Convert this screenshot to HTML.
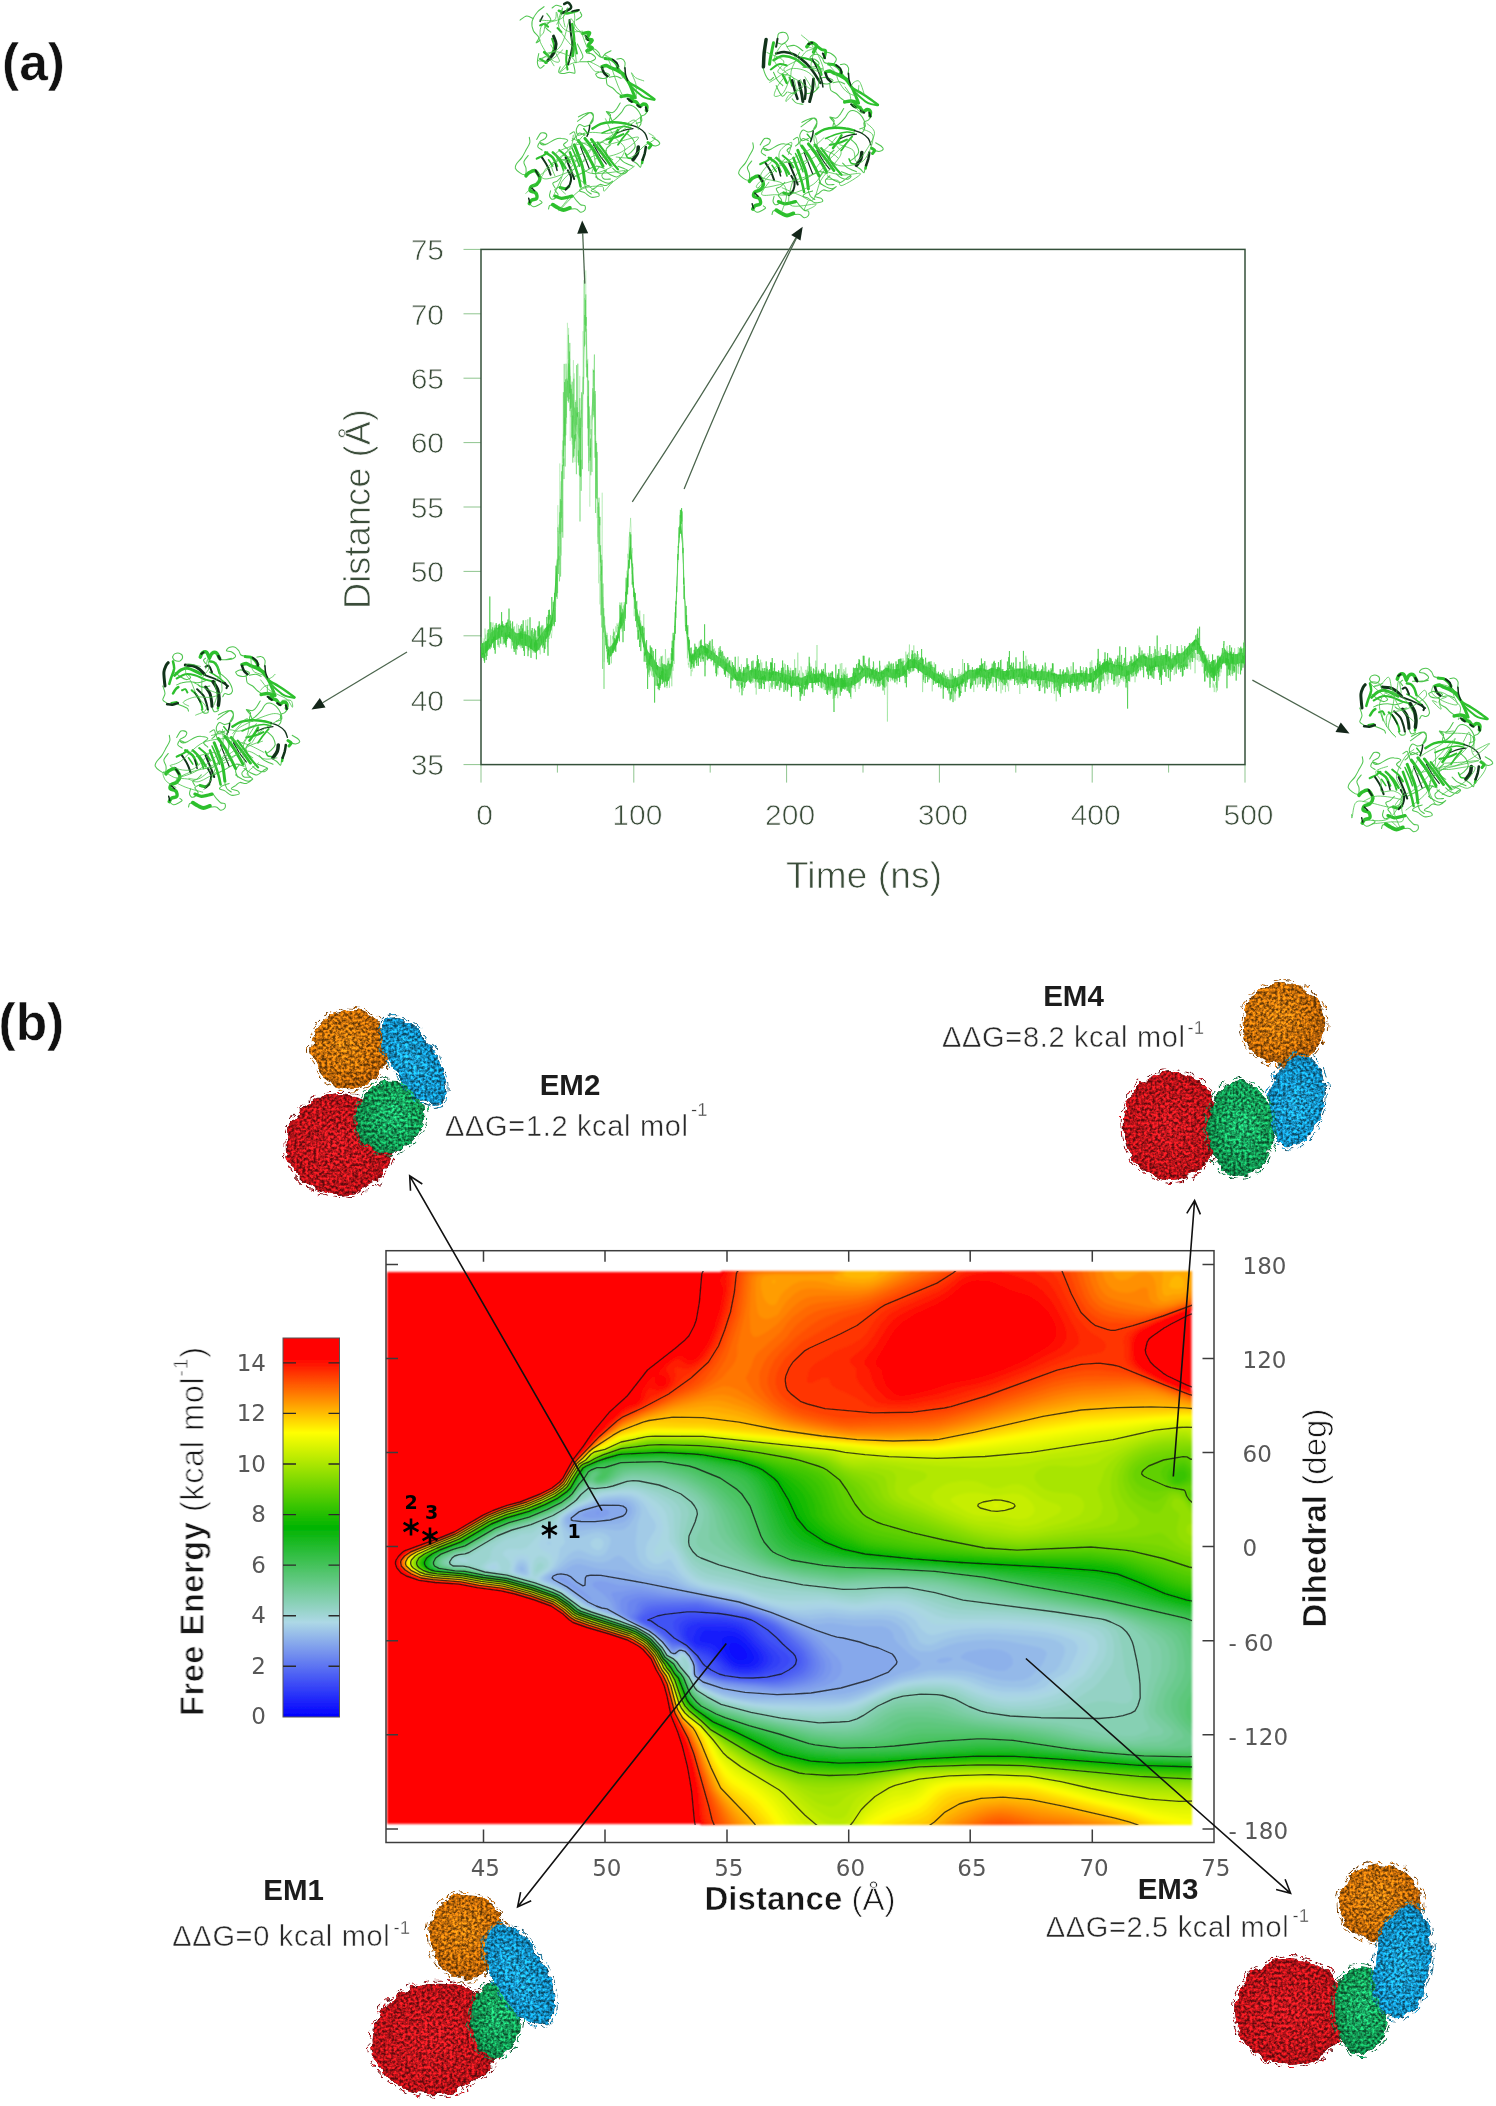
<!DOCTYPE html>
<html lang="en"><head><meta charset="utf-8"><title>Figure</title>
<style>
html,body{margin:0;padding:0;background:#fff}
svg{display:block}
.ls{font-family:"Liberation Sans",Arial,Helvetica,sans-serif}
.dj{font-family:"DejaVu Sans","Liberation Sans",sans-serif}
.thin{stroke:#fff;stroke-width:.75px}
.thin2{stroke:#fff;stroke-width:.5px}
.b{font-weight:bold}
</style></head><body>
<svg width="1496" height="2106" viewBox="0 0 1496 2106">
<defs>
<filter id="hb" x="-2%" y="-2%" width="104%" height="104%"><feGaussianBlur stdDeviation="1.1"/></filter>
<filter id="lb" x="-2%" y="-2%" width="104%" height="104%"><feGaussianBlur stdDeviation=".45"/></filter>

<radialGradient id="go" cx=".45" cy=".42" r=".6"><stop offset="0" stop-color="#ea8a12"/><stop offset=".7" stop-color="#d4750b"/><stop offset="1" stop-color="#b5610a"/></radialGradient>
<radialGradient id="gb" cx=".5" cy=".55" r=".6"><stop offset="0" stop-color="#22b4ee"/><stop offset=".7" stop-color="#169ed9"/><stop offset="1" stop-color="#1283b6"/></radialGradient>
<radialGradient id="gg" cx=".55" cy=".45" r=".6"><stop offset="0" stop-color="#22c878"/><stop offset=".7" stop-color="#16a85c"/><stop offset="1" stop-color="#118a4b"/></radialGradient>
<radialGradient id="gr" cx=".48" cy=".5" r=".6"><stop offset="0" stop-color="#e21c24"/><stop offset=".7" stop-color="#ce161d"/><stop offset="1" stop-color="#ad1117"/></radialGradient>
<filter id="tx" x="-15%" y="-15%" width="130%" height="130%" color-interpolation-filters="sRGB">
<feTurbulence type="fractalNoise" baseFrequency=".09" numOctaves="3" seed="5" result="n1"/>
<feDisplacementMap in="SourceGraphic" in2="n1" scale="10" xChannelSelector="R" yChannelSelector="G" result="d"/>
<feTurbulence type="fractalNoise" baseFrequency=".36" numOctaves="2" seed="11" result="n2"/>
<feColorMatrix in="n2" type="matrix" values="2.2 0 0 0 -.6  2.2 0 0 0 -.6  2.2 0 0 0 -.6  0 0 0 0 1" result="g"/>
<feComposite in="d" in2="g" operator="arithmetic" k1=".86" k2=".44" k3="0" k4="0" result="m"/>
<feComposite in="m" in2="d" operator="in" result="t"/>
<feGaussianBlur in="t" stdDeviation=".45"/>
</filter>
<clipPath id="hc"><rect x="386" y="1271" width="806" height="554"/></clipPath>
<linearGradient id="cb" x1="0" y1="1" x2="0" y2="0">
<stop offset="0" stop-color="#0000ff"/><stop offset=".25" stop-color="#add8e6"/><stop offset=".5" stop-color="#00b400"/><stop offset=".75" stop-color="#ffff00"/><stop offset=".947" stop-color="#ff0000"/><stop offset="1" stop-color="#ff0000"/>
</linearGradient>
</defs>
<rect width="1496" height="2106" fill="#fff"/>
<g opacity=".999">

<text class="ls b" x="2" y="79.5" font-size="51.5" fill="#111" stroke="#fff" stroke-width=".5">(a)</text>
<text class="ls b" x="-1.5" y="1039.5" font-size="51.5" fill="#111" stroke="#fff" stroke-width=".5">(b)</text>
<g id="pa">
<g stroke="#8fc58f" stroke-width="1" fill="none">
<path d="M463.5 764.6H481"/>
<path d="M463.5 700.2H481"/>
<path d="M463.5 635.8H481"/>
<path d="M463.5 571.4H481"/>
<path d="M463.5 507.0H481"/>
<path d="M463.5 442.6H481"/>
<path d="M463.5 378.2H481"/>
<path d="M463.5 313.8H481"/>
<path d="M463.5 249.4H481"/>
<path d="M481.0 764.6V782.6"/>
<path d="M557.4 764.6V772.6"/>
<path d="M633.8 764.6V782.6"/>
<path d="M710.2 764.6V772.6"/>
<path d="M786.6 764.6V782.6"/>
<path d="M863.0 764.6V772.6"/>
<path d="M939.4 764.6V782.6"/>
<path d="M1015.8 764.6V772.6"/>
<path d="M1092.2 764.6V782.6"/>
<path d="M1168.6 764.6V772.6"/>
<path d="M1245.0 764.6V782.6"/>
</g>
<rect x="481" y="249.4" width="764" height="515.2" fill="none" stroke="#34503a" stroke-width="1.5"/>
<g class="ls thin" font-size="30" fill="#3b4d3a" text-anchor="end">
<text x="444" y="775.4">35</text>
<text x="444" y="711.0">40</text>
<text x="444" y="646.6">45</text>
<text x="444" y="582.2">50</text>
<text x="444" y="517.8">55</text>
<text x="444" y="453.4">60</text>
<text x="444" y="389.0">65</text>
<text x="444" y="324.6">70</text>
<text x="444" y="260.2">75</text>
</g>
<g class="ls thin" font-size="30" fill="#3b4d3a" text-anchor="middle">
<text x="484.5" y="824.5">0</text>
<text x="637.3" y="824.5">100</text>
<text x="790.1" y="824.5">200</text>
<text x="942.9" y="824.5">300</text>
<text x="1095.7" y="824.5">400</text>
<text x="1248.5" y="824.5">500</text>
</g>
<text class="ls thin" font-size="37" fill="#3b4d3a" x="864" y="887.5" text-anchor="middle" textLength="156">Time (ns)</text>
<text class="ls thin" font-size="36" fill="#3b4d3a" transform="translate(369.5 509) rotate(-90)" text-anchor="middle" textLength="200">Distance (Å)</text>
<path fill="#36c836" fill-opacity="0.9" d="M481.0 643.6L482.0 643.4L483.0 643.0L484.0 642.5L485.0 642.0L486.0 641.2L487.0 640.0L488.0 638.8L489.0 637.6L490.0 635.9L491.0 634.3L492.0 632.8L493.0 631.0L494.0 629.8L495.0 629.0L496.0 628.3L497.0 628.1L498.0 627.4L499.0 626.6L500.0 625.7L501.0 625.1L502.0 625.1L503.0 625.6L504.0 625.7L505.0 625.3L506.0 625.1L507.0 624.9L508.0 625.1L509.0 626.0L510.0 626.8L511.0 627.9L512.0 629.0L513.0 630.1L514.0 631.2L515.0 632.1L516.0 632.9L517.0 633.3L518.0 633.3L519.0 633.0L520.0 632.9L521.0 633.2L522.0 633.7L523.0 633.8L524.0 633.9L525.0 634.1L526.0 634.3L527.0 634.7L528.0 635.2L529.0 635.6L530.0 636.3L531.0 637.2L532.0 638.3L533.0 639.1L534.0 639.9L535.0 640.2L536.0 640.1L537.0 639.8L538.0 638.6L539.0 637.4L540.0 636.0L541.0 634.3L542.0 632.9L543.0 631.4L544.0 629.9L545.0 628.5L546.0 627.3L547.0 626.4L548.0 625.6L549.0 624.8L550.0 623.1L551.0 619.9L552.0 615.1L553.0 607.9L554.0 599.3L555.0 584.7L556.0 572.1L557.0 557.8L557.0 577.1L556.0 591.5L555.0 604.0L554.0 610.9L553.0 619.5L552.0 626.7L551.0 631.5L550.0 634.7L549.0 636.4L548.0 637.2L547.0 638.0L546.0 638.9L545.0 640.1L544.0 641.5L543.0 643.0L542.0 644.5L541.0 645.9L540.0 647.6L539.0 649.0L538.0 650.2L537.0 651.4L536.0 651.7L535.0 651.8L534.0 651.5L533.0 650.7L532.0 649.8L531.0 648.8L530.0 647.9L529.0 647.2L528.0 646.8L527.0 646.3L526.0 645.9L525.0 645.7L524.0 645.5L523.0 645.4L522.0 645.3L521.0 644.8L520.0 644.5L519.0 644.6L518.0 644.9L517.0 644.9L516.0 644.5L515.0 643.7L514.0 642.8L513.0 641.7L512.0 640.6L511.0 639.5L510.0 638.4L509.0 637.6L508.0 636.7L507.0 636.5L506.0 636.7L505.0 636.9L504.0 637.3L503.0 637.2L502.0 636.7L501.0 636.7L500.0 637.3L499.0 638.2L498.0 639.0L497.0 639.7L496.0 639.9L495.0 640.6L494.0 641.4L493.0 642.6L492.0 644.4L491.0 645.9L490.0 647.5L489.0 649.2L488.0 650.4L487.0 651.6L486.0 652.8L485.0 653.6L484.0 654.1L483.0 654.6L482.0 655.0L481.0 655.2z"/><path fill="#36c836" fill-opacity="0.28" d="M557.0 557.8L558.0 541.0L559.0 523.3L560.0 505.5L561.0 487.4L562.0 468.5L563.0 449.2L564.0 429.2L565.0 408.7L566.0 388.8L567.0 370.9L568.0 360.6L569.0 359.4L570.0 365.9L571.0 379.1L572.0 391.1L573.0 399.7L574.0 405.7L575.0 409.0L576.0 411.5L577.0 413.8L578.0 416.5L579.0 418.8L580.0 419.1L581.0 412.9L582.0 396.7L583.0 371.4L584.0 342.6L585.0 324.8L586.0 325.8L587.0 344.8L588.0 374.3L589.0 401.9L590.0 416.0L591.0 414.8L592.0 403.1L593.0 391.7L594.0 392.2L595.0 407.9L596.0 437.0L597.0 470.4L598.0 500.6L599.0 526.4L600.0 547.6L601.0 567.3L602.0 584.6L603.0 598.9L604.0 616.4L605.0 627.1L605.0 635.9L604.0 625.2L603.0 618.2L602.0 603.9L601.0 586.7L600.0 566.9L599.0 545.7L598.0 520.0L597.0 489.7L596.0 456.3L595.0 427.2L594.0 411.5L593.0 411.1L592.0 422.4L591.0 434.1L590.0 435.3L589.0 421.2L588.0 393.7L587.0 364.1L586.0 345.1L585.0 344.2L584.0 361.9L583.0 390.7L582.0 416.0L581.0 432.3L580.0 438.4L579.0 438.2L578.0 435.8L577.0 433.2L576.0 430.8L575.0 428.3L574.0 425.0L573.0 419.1L572.0 410.4L571.0 398.4L570.0 385.2L569.0 378.7L568.0 380.0L567.0 390.3L566.0 408.1L565.0 428.0L564.0 448.5L563.0 468.5L562.0 487.9L561.0 506.7L560.0 524.8L559.0 542.7L558.0 560.4L557.0 577.1z"/><path fill="#36c836" fill-opacity="0.9" d="M605.0 627.1L606.0 635.8L607.0 641.9L608.0 645.7L609.0 647.3L610.0 646.9L611.0 646.0L612.0 644.7L613.0 643.2L614.0 641.8L615.0 640.1L616.0 637.8L617.0 634.5L618.0 629.9L619.0 622.4L620.0 617.9L621.0 615.3L622.0 613.7L623.0 612.2L624.0 608.7L625.0 601.3L626.0 590.7L627.0 578.6L628.0 565.1L629.0 552.3L630.0 546.1L631.0 547.8L632.0 556.6L633.0 572.0L634.0 586.4L635.0 597.4L636.0 605.2L637.0 609.8L638.0 613.4L639.0 616.9L640.0 620.1L641.0 623.9L642.0 628.2L643.0 632.4L644.0 636.7L645.0 641.2L646.0 645.3L647.0 648.8L648.0 651.3L649.0 652.8L650.0 653.4L651.0 654.2L652.0 655.3L653.0 656.9L654.0 658.8L655.0 660.7L656.0 662.7L657.0 664.4L658.0 665.7L659.0 666.4L660.0 666.9L661.0 667.0L662.0 667.5L663.0 668.0L664.0 668.6L665.0 669.2L666.0 669.5L667.0 669.5L668.0 669.2L669.0 667.8L670.0 665.6L671.0 662.2L672.0 656.3L673.0 647.4L674.0 633.9L675.0 616.0L676.0 595.1L677.0 572.6L678.0 551.5L679.0 532.4L680.0 521.8L681.0 521.3L682.0 531.7L683.0 552.1L684.0 575.2L685.0 596.9L686.0 614.7L687.0 627.8L688.0 637.8L689.0 647.4L690.0 652.1L691.0 654.5L692.0 655.5L693.0 654.7L694.0 653.5L695.0 652.3L696.0 650.8L697.0 649.6L698.0 648.4L699.0 647.0L700.0 646.1L701.0 645.3L702.0 645.0L703.0 645.5L704.0 646.2L705.0 646.7L706.0 647.2L707.0 648.0L708.0 648.6L709.0 649.6L710.0 650.2L711.0 650.6L712.0 651.3L713.0 651.8L714.0 652.8L715.0 653.9L716.0 654.7L717.0 655.6L718.0 656.4L719.0 656.9L720.0 657.5L721.0 658.3L722.0 659.1L723.0 659.9L724.0 660.7L725.0 661.4L726.0 662.3L727.0 663.0L728.0 663.6L729.0 664.5L730.0 665.2L731.0 666.2L732.0 667.5L733.0 668.7L734.0 669.7L735.0 670.8L736.0 671.6L737.0 672.1L738.0 672.2L739.0 672.0L740.0 672.1L741.0 672.2L742.0 672.5L743.0 673.0L744.0 673.2L745.0 673.0L746.0 672.7L747.0 672.1L748.0 671.5L749.0 670.9L750.0 670.3L751.0 669.8L752.0 669.4L753.0 669.4L754.0 669.8L755.0 670.1L756.0 670.1L757.0 670.3L758.0 670.4L759.0 670.4L760.0 670.7L761.0 670.7L762.0 670.7L763.0 670.9L764.0 670.9L765.0 671.3L766.0 671.7L767.0 671.9L768.0 672.3L769.0 672.3L770.0 672.1L771.0 672.2L772.0 672.3L773.0 672.1L774.0 672.1L775.0 671.9L776.0 671.6L777.0 671.8L778.0 672.1L779.0 672.4L780.0 672.9L781.0 673.1L782.0 673.2L783.0 673.5L784.0 673.4L785.0 673.7L786.0 674.3L787.0 674.7L788.0 675.2L789.0 675.7L790.0 676.0L791.0 676.3L792.0 676.7L793.0 677.0L794.0 677.0L795.0 676.7L796.0 676.6L797.0 676.4L798.0 676.4L799.0 677.0L800.0 677.4L801.0 677.5L802.0 677.4L803.0 676.9L804.0 676.4L805.0 676.1L806.0 675.9L807.0 675.6L808.0 675.1L809.0 674.6L810.0 674.3L811.0 674.1L812.0 674.1L813.0 674.2L814.0 674.2L815.0 673.8L816.0 673.6L817.0 673.6L818.0 673.4L819.0 673.4L820.0 673.5L821.0 673.5L822.0 673.5L823.0 674.0L824.0 674.6L825.0 675.3L826.0 675.9L827.0 676.5L828.0 676.8L829.0 677.1L830.0 677.1L831.0 677.2L832.0 677.2L833.0 677.3L834.0 678.0L835.0 678.6L836.0 678.8L837.0 678.9L838.0 678.6L839.0 678.4L840.0 678.2L841.0 678.3L842.0 678.3L843.0 678.2L844.0 678.1L845.0 678.0L846.0 678.0L847.0 678.1L848.0 678.2L849.0 677.9L850.0 677.4L851.0 677.0L852.0 676.7L853.0 676.6L854.0 676.2L855.0 675.6L856.0 675.0L857.0 674.4L858.0 673.7L859.0 673.1L860.0 672.2L861.0 671.0L862.0 669.9L863.0 668.8L864.0 667.9L865.0 667.5L866.0 667.4L867.0 667.5L868.0 667.7L869.0 667.9L870.0 668.4L871.0 668.9L872.0 669.2L873.0 669.4L874.0 669.7L875.0 669.9L876.0 670.4L877.0 671.2L878.0 671.9L879.0 672.2L880.0 672.2L881.0 671.8L882.0 671.0L883.0 670.0L884.0 669.2L885.0 668.5L886.0 668.0L887.0 667.8L888.0 667.9L889.0 668.2L890.0 668.6L891.0 669.0L892.0 669.4L893.0 669.3L894.0 669.3L895.0 669.3L896.0 669.1L897.0 669.1L898.0 669.0L899.0 668.7L900.0 668.4L901.0 667.9L902.0 667.3L903.0 666.6L904.0 665.7L905.0 664.5L906.0 663.1L907.0 661.5L908.0 660.3L909.0 659.6L910.0 659.4L911.0 659.4L912.0 659.4L913.0 659.3L914.0 659.1L915.0 659.4L916.0 659.8L917.0 660.5L918.0 661.3L919.0 661.9L920.0 662.5L921.0 663.2L922.0 664.0L923.0 664.9L924.0 665.7L925.0 666.3L926.0 666.3L927.0 666.5L928.0 666.8L929.0 667.4L930.0 668.5L931.0 669.5L932.0 670.4L933.0 671.4L934.0 672.0L935.0 672.6L936.0 673.2L937.0 673.7L938.0 674.1L939.0 674.6L940.0 674.9L941.0 675.3L942.0 676.1L943.0 676.9L944.0 677.8L945.0 678.5L946.0 678.9L947.0 679.1L948.0 679.3L949.0 679.3L950.0 679.5L951.0 679.6L952.0 679.5L953.0 679.2L954.0 678.8L955.0 678.3L956.0 677.8L957.0 677.6L958.0 677.2L959.0 676.8L960.0 676.1L961.0 675.3L962.0 674.7L963.0 674.1L964.0 673.5L965.0 672.7L966.0 672.0L967.0 671.3L968.0 670.6L969.0 670.1L970.0 669.9L971.0 669.8L972.0 669.9L973.0 669.8L974.0 669.8L975.0 669.6L976.0 669.3L977.0 669.0L978.0 668.6L979.0 668.2L980.0 667.8L981.0 668.0L982.0 668.1L983.0 668.3L984.0 668.8L985.0 669.4L986.0 669.9L987.0 669.9L988.0 669.8L989.0 669.2L990.0 668.5L991.0 668.2L992.0 668.0L993.0 667.9L994.0 668.3L995.0 668.5L996.0 668.8L997.0 669.1L998.0 669.6L999.0 670.2L1000.0 670.7L1001.0 670.9L1002.0 670.9L1003.0 671.0L1004.0 670.9L1005.0 670.9L1006.0 671.1L1007.0 671.0L1008.0 670.9L1009.0 670.7L1010.0 670.3L1011.0 670.0L1012.0 670.1L1013.0 670.0L1014.0 669.9L1015.0 669.6L1016.0 669.0L1017.0 668.6L1018.0 668.5L1019.0 668.4L1020.0 668.5L1021.0 668.6L1022.0 668.6L1023.0 668.5L1024.0 668.4L1025.0 668.6L1026.0 668.8L1027.0 669.2L1028.0 669.4L1029.0 669.7L1030.0 670.0L1031.0 670.4L1032.0 671.0L1033.0 671.5L1034.0 671.7L1035.0 671.5L1036.0 671.4L1037.0 671.3L1038.0 671.1L1039.0 671.2L1040.0 671.3L1041.0 671.3L1042.0 671.3L1043.0 671.2L1044.0 671.1L1045.0 671.3L1046.0 671.5L1047.0 671.8L1048.0 672.2L1049.0 672.4L1050.0 672.7L1051.0 673.1L1052.0 673.2L1053.0 673.1L1054.0 673.2L1055.0 673.5L1056.0 673.8L1057.0 674.2L1058.0 674.4L1059.0 674.6L1060.0 674.8L1061.0 674.7L1062.0 674.7L1063.0 674.5L1064.0 674.2L1065.0 674.0L1066.0 673.9L1067.0 674.0L1068.0 674.2L1069.0 674.6L1070.0 674.7L1071.0 674.3L1072.0 674.0L1073.0 674.0L1074.0 674.0L1075.0 673.8L1076.0 673.6L1077.0 673.3L1078.0 672.9L1079.0 672.7L1080.0 673.0L1081.0 673.1L1082.0 673.1L1083.0 673.0L1084.0 672.8L1085.0 672.9L1086.0 673.1L1087.0 673.5L1088.0 673.8L1089.0 673.8L1090.0 673.4L1091.0 673.1L1092.0 672.8L1093.0 671.5L1094.0 671.0L1095.0 670.4L1096.0 669.5L1097.0 668.6L1098.0 667.5L1099.0 666.4L1100.0 665.8L1101.0 665.0L1102.0 664.4L1103.0 663.7L1104.0 662.7L1105.0 661.9L1106.0 661.5L1107.0 661.6L1108.0 661.9L1109.0 662.4L1110.0 662.7L1111.0 662.9L1112.0 663.1L1113.0 663.6L1114.0 664.1L1115.0 664.7L1116.0 664.9L1117.0 665.0L1118.0 664.8L1119.0 664.7L1120.0 664.8L1121.0 665.2L1122.0 665.7L1123.0 666.1L1124.0 666.3L1125.0 666.3L1126.0 666.1L1127.0 665.8L1128.0 665.3L1129.0 664.7L1130.0 664.2L1131.0 663.6L1132.0 663.0L1133.0 662.4L1134.0 661.7L1135.0 660.9L1136.0 660.1L1137.0 659.2L1138.0 658.1L1139.0 657.1L1140.0 656.2L1141.0 655.5L1142.0 655.1L1143.0 655.0L1144.0 655.3L1145.0 655.9L1146.0 656.4L1147.0 657.0L1148.0 657.5L1149.0 657.9L1150.0 658.2L1151.0 658.3L1152.0 658.2L1153.0 657.6L1154.0 657.2L1155.0 656.6L1156.0 656.3L1157.0 656.2L1158.0 656.0L1159.0 656.0L1160.0 655.8L1161.0 655.4L1162.0 655.2L1163.0 655.0L1164.0 654.9L1165.0 654.8L1166.0 654.8L1167.0 655.3L1168.0 656.1L1169.0 657.3L1170.0 658.3L1171.0 658.7L1172.0 658.5L1173.0 657.8L1174.0 656.9L1175.0 655.7L1176.0 654.6L1177.0 653.7L1178.0 653.2L1179.0 653.3L1180.0 653.3L1181.0 653.4L1182.0 653.1L1183.0 652.1L1184.0 651.0L1185.0 649.8L1186.0 648.5L1187.0 647.4L1188.0 646.3L1189.0 645.3L1190.0 644.3L1191.0 643.4L1192.0 642.4L1193.0 641.4L1194.0 640.3L1195.0 639.6L1196.0 639.5L1197.0 640.2L1198.0 641.8L1199.0 643.7L1200.0 645.6L1201.0 647.6L1202.0 649.5L1203.0 651.5L1204.0 653.4L1205.0 655.3L1206.0 657.4L1207.0 659.5L1208.0 661.6L1209.0 663.5L1210.0 665.3L1211.0 666.9L1212.0 667.8L1213.0 668.1L1214.0 667.4L1215.0 665.8L1216.0 663.8L1217.0 661.8L1218.0 659.8L1219.0 658.4L1220.0 657.1L1221.0 655.8L1222.0 654.4L1223.0 653.1L1224.0 652.2L1225.0 651.7L1226.0 651.9L1227.0 652.3L1228.0 652.9L1229.0 653.2L1230.0 653.5L1231.0 653.6L1232.0 653.7L1233.0 653.9L1234.0 654.1L1235.0 654.3L1236.0 654.2L1237.0 654.0L1238.0 653.6L1239.0 653.2L1240.0 652.9L1241.0 652.9L1242.0 652.9L1243.0 653.1L1244.0 653.3L1245.0 653.3L1245.0 663.6L1244.0 663.6L1243.0 663.4L1242.0 663.2L1241.0 663.2L1240.0 663.2L1239.0 663.6L1238.0 664.0L1237.0 664.3L1236.0 664.5L1235.0 664.6L1234.0 664.4L1233.0 664.2L1232.0 664.0L1231.0 663.9L1230.0 663.8L1229.0 663.5L1228.0 663.2L1227.0 662.6L1226.0 662.2L1225.0 662.1L1224.0 662.5L1223.0 663.4L1222.0 664.7L1221.0 666.1L1220.0 667.5L1219.0 668.7L1218.0 670.1L1217.0 672.1L1216.0 674.1L1215.0 676.1L1214.0 677.7L1213.0 678.4L1212.0 678.1L1211.0 677.2L1210.0 675.7L1209.0 673.8L1208.0 671.9L1207.0 669.8L1206.0 667.7L1205.0 665.6L1204.0 663.7L1203.0 661.8L1202.0 659.8L1201.0 657.9L1200.0 655.9L1199.0 654.0L1198.0 652.2L1197.0 650.6L1196.0 649.9L1195.0 649.9L1194.0 650.6L1193.0 651.8L1192.0 652.7L1191.0 653.7L1190.0 654.6L1189.0 655.6L1188.0 656.6L1187.0 657.7L1186.0 658.8L1185.0 660.1L1184.0 661.3L1183.0 662.4L1182.0 663.5L1181.0 663.7L1180.0 663.7L1179.0 663.6L1178.0 663.6L1177.0 664.0L1176.0 664.9L1175.0 666.0L1174.0 667.2L1173.0 668.2L1172.0 668.8L1171.0 669.0L1170.0 668.6L1169.0 667.6L1168.0 666.4L1167.0 665.6L1166.0 665.1L1165.0 665.1L1164.0 665.3L1163.0 665.3L1162.0 665.6L1161.0 665.7L1160.0 666.1L1159.0 666.4L1158.0 666.3L1157.0 666.5L1156.0 666.6L1155.0 666.9L1154.0 667.5L1153.0 668.0L1152.0 668.5L1151.0 668.7L1150.0 668.5L1149.0 668.2L1148.0 667.9L1147.0 667.3L1146.0 666.8L1145.0 666.3L1144.0 665.6L1143.0 665.3L1142.0 665.5L1141.0 665.8L1140.0 666.5L1139.0 667.4L1138.0 668.4L1137.0 669.5L1136.0 670.4L1135.0 671.2L1134.0 672.0L1133.0 672.7L1132.0 673.3L1131.0 673.9L1130.0 674.5L1129.0 675.0L1128.0 675.6L1127.0 676.1L1126.0 676.4L1125.0 676.6L1124.0 676.6L1123.0 676.4L1122.0 676.0L1121.0 675.5L1120.0 675.1L1119.0 675.0L1118.0 675.2L1117.0 675.3L1116.0 675.2L1115.0 675.0L1114.0 674.4L1113.0 673.9L1112.0 673.5L1111.0 673.2L1110.0 673.0L1109.0 672.7L1108.0 672.2L1107.0 671.9L1106.0 671.8L1105.0 672.2L1104.0 673.0L1103.0 674.1L1102.0 674.7L1101.0 675.3L1100.0 676.1L1099.0 676.7L1098.0 677.8L1097.0 678.9L1096.0 679.8L1095.0 680.7L1094.0 681.3L1093.0 681.8L1092.0 681.5L1091.0 681.9L1090.0 682.2L1089.0 682.5L1088.0 682.6L1087.0 682.2L1086.0 681.8L1085.0 681.6L1084.0 681.5L1083.0 681.8L1082.0 681.9L1081.0 681.8L1080.0 681.8L1079.0 681.5L1078.0 681.7L1077.0 682.0L1076.0 682.4L1075.0 682.6L1074.0 682.7L1073.0 682.7L1072.0 682.8L1071.0 683.1L1070.0 683.5L1069.0 683.3L1068.0 683.0L1067.0 682.8L1066.0 682.7L1065.0 682.7L1064.0 682.9L1063.0 683.3L1062.0 683.4L1061.0 683.4L1060.0 683.5L1059.0 683.3L1058.0 683.1L1057.0 682.9L1056.0 682.6L1055.0 682.3L1054.0 682.0L1053.0 681.9L1052.0 682.0L1051.0 681.8L1050.0 681.5L1049.0 681.1L1048.0 680.9L1047.0 680.5L1046.0 680.3L1045.0 680.1L1044.0 679.9L1043.0 679.9L1042.0 680.1L1041.0 680.1L1040.0 680.1L1039.0 680.0L1038.0 679.9L1037.0 680.0L1036.0 680.1L1035.0 680.3L1034.0 680.4L1033.0 680.3L1032.0 679.7L1031.0 679.2L1030.0 678.7L1029.0 678.4L1028.0 678.2L1027.0 677.9L1026.0 677.6L1025.0 677.3L1024.0 677.2L1023.0 677.3L1022.0 677.4L1021.0 677.4L1020.0 677.3L1019.0 677.1L1018.0 677.3L1017.0 677.4L1016.0 677.8L1015.0 678.4L1014.0 678.7L1013.0 678.8L1012.0 678.8L1011.0 678.8L1010.0 679.1L1009.0 679.5L1008.0 679.6L1007.0 679.8L1006.0 679.9L1005.0 679.7L1004.0 679.7L1003.0 679.8L1002.0 679.6L1001.0 679.7L1000.0 679.4L999.0 679.0L998.0 678.4L997.0 677.9L996.0 677.6L995.0 677.3L994.0 677.0L993.0 676.7L992.0 676.8L991.0 676.9L990.0 677.3L989.0 678.0L988.0 678.5L987.0 678.7L986.0 678.6L985.0 678.1L984.0 677.6L983.0 677.1L982.0 676.8L981.0 676.7L980.0 676.5L979.0 676.9L978.0 677.4L977.0 677.8L976.0 678.1L975.0 678.3L974.0 678.6L973.0 678.6L972.0 678.6L971.0 678.6L970.0 678.6L969.0 678.9L968.0 679.3L967.0 680.1L966.0 680.8L965.0 681.5L964.0 682.3L963.0 682.9L962.0 683.4L961.0 684.1L960.0 684.8L959.0 685.5L958.0 685.9L957.0 686.3L956.0 686.6L955.0 687.1L954.0 687.6L953.0 688.0L952.0 688.3L951.0 688.3L950.0 688.2L949.0 688.1L948.0 688.1L947.0 687.9L946.0 687.7L945.0 687.3L944.0 686.5L943.0 685.6L942.0 684.9L941.0 684.1L940.0 683.7L939.0 683.3L938.0 682.9L937.0 682.5L936.0 682.0L935.0 681.4L934.0 680.8L933.0 680.1L932.0 679.2L931.0 678.2L930.0 677.2L929.0 676.2L928.0 675.6L927.0 675.3L926.0 675.1L925.0 675.0L924.0 674.4L923.0 673.7L922.0 672.8L921.0 672.0L920.0 671.2L919.0 670.6L918.0 670.1L917.0 669.2L916.0 668.6L915.0 668.1L914.0 667.9L913.0 668.1L912.0 668.2L911.0 668.1L910.0 668.2L909.0 668.4L908.0 669.1L907.0 670.3L906.0 671.8L905.0 673.3L904.0 674.5L903.0 675.4L902.0 676.1L901.0 676.7L900.0 677.1L899.0 677.5L898.0 677.8L897.0 677.8L896.0 677.9L895.0 678.1L894.0 678.1L893.0 678.1L892.0 678.1L891.0 677.8L890.0 677.4L889.0 676.9L888.0 676.7L887.0 676.6L886.0 676.7L885.0 677.3L884.0 678.0L883.0 678.8L882.0 679.7L881.0 680.6L880.0 680.9L879.0 680.9L878.0 680.6L877.0 680.0L876.0 679.1L875.0 678.7L874.0 678.4L873.0 678.2L872.0 677.9L871.0 677.6L870.0 677.2L869.0 676.7L868.0 676.5L867.0 676.2L866.0 676.2L865.0 676.3L864.0 676.7L863.0 677.5L862.0 678.6L861.0 679.8L860.0 681.0L859.0 681.9L858.0 682.4L857.0 683.1L856.0 683.8L855.0 684.3L854.0 685.0L853.0 685.3L852.0 685.4L851.0 685.8L850.0 686.1L849.0 686.6L848.0 686.9L847.0 686.8L846.0 686.8L845.0 686.7L844.0 686.8L843.0 686.9L842.0 687.0L841.0 687.0L840.0 687.0L839.0 687.2L838.0 687.4L837.0 687.6L836.0 687.6L835.0 687.3L834.0 686.8L833.0 686.1L832.0 685.9L831.0 685.9L830.0 685.8L829.0 685.8L828.0 685.6L827.0 685.3L826.0 684.7L825.0 684.0L824.0 683.4L823.0 682.7L822.0 682.3L821.0 682.2L820.0 682.2L819.0 682.1L818.0 682.1L817.0 682.3L816.0 682.4L815.0 682.6L814.0 683.0L813.0 683.0L812.0 682.9L811.0 682.9L810.0 683.1L809.0 683.3L808.0 683.9L807.0 684.4L806.0 684.7L805.0 684.8L804.0 685.2L803.0 685.7L802.0 686.1L801.0 686.3L800.0 686.2L799.0 685.8L798.0 685.2L797.0 685.2L796.0 685.3L795.0 685.5L794.0 685.8L793.0 685.8L792.0 685.5L791.0 685.1L790.0 684.8L789.0 684.5L788.0 684.0L787.0 683.5L786.0 683.0L785.0 682.5L784.0 682.2L783.0 682.3L782.0 682.0L781.0 681.8L780.0 681.6L779.0 681.1L778.0 680.8L777.0 680.6L776.0 680.4L775.0 680.7L774.0 680.9L773.0 680.9L772.0 681.0L771.0 680.9L770.0 680.8L769.0 681.1L768.0 681.1L767.0 680.6L766.0 680.5L765.0 680.0L764.0 679.7L763.0 679.6L762.0 679.4L761.0 679.5L760.0 679.5L759.0 679.2L758.0 679.2L757.0 679.1L756.0 678.9L755.0 678.9L754.0 678.6L753.0 678.2L752.0 678.2L751.0 678.6L750.0 679.0L749.0 679.7L748.0 680.3L747.0 680.9L746.0 681.4L745.0 681.7L744.0 681.9L743.0 681.8L742.0 681.3L741.0 681.0L740.0 680.9L739.0 680.8L738.0 680.9L737.0 680.9L736.0 680.4L735.0 679.5L734.0 678.5L733.0 677.4L732.0 676.2L731.0 675.0L730.0 674.0L729.0 673.2L728.0 672.4L727.0 671.8L726.0 671.1L725.0 670.2L724.0 669.5L723.0 668.7L722.0 667.9L721.0 667.0L720.0 666.3L719.0 665.7L718.0 665.2L717.0 664.4L716.0 663.5L715.0 662.7L714.0 661.5L713.0 660.6L712.0 660.1L711.0 659.3L710.0 658.9L709.0 658.3L708.0 657.4L707.0 656.7L706.0 656.0L705.0 655.5L704.0 654.9L703.0 654.3L702.0 653.8L701.0 654.1L700.0 654.8L699.0 655.7L698.0 657.2L697.0 658.4L696.0 659.6L695.0 661.1L694.0 662.2L693.0 663.4L692.0 664.3L691.0 663.3L690.0 660.9L689.0 656.1L688.0 650.0L687.0 640.0L686.0 627.0L685.0 609.1L684.0 587.4L683.0 564.4L682.0 544.0L681.0 533.5L680.0 534.1L679.0 544.7L678.0 563.7L677.0 584.9L676.0 607.3L675.0 628.2L674.0 646.2L673.0 659.6L672.0 668.5L671.0 674.4L670.0 677.8L669.0 680.0L668.0 681.4L667.0 681.8L666.0 681.7L665.0 681.5L664.0 680.9L663.0 680.3L662.0 679.7L661.0 679.3L660.0 679.1L659.0 678.7L658.0 677.9L657.0 676.7L656.0 674.9L655.0 673.0L654.0 671.1L653.0 669.2L652.0 667.6L651.0 666.4L650.0 665.6L649.0 665.0L648.0 663.5L647.0 661.0L646.0 657.6L645.0 653.4L644.0 648.9L643.0 644.7L642.0 640.4L641.0 636.1L640.0 632.4L639.0 629.1L638.0 625.6L637.0 622.1L636.0 617.4L635.0 609.6L634.0 598.7L633.0 584.3L632.0 568.8L631.0 560.0L630.0 558.4L629.0 564.5L628.0 577.4L627.0 590.8L626.0 603.0L625.0 613.5L624.0 620.9L623.0 624.4L622.0 626.0L621.0 627.5L620.0 630.2L619.0 634.6L618.0 638.6L617.0 643.2L616.0 646.6L615.0 648.8L614.0 650.5L613.0 652.0L612.0 653.4L611.0 654.8L610.0 655.6L609.0 656.1L608.0 654.5L607.0 650.7L606.0 644.5L605.0 635.9z"/><path fill="none" stroke-linejoin="round" stroke="#34c834" stroke-width=".7" stroke-opacity=".9" d="M481.0 645.3l.2-.2 .2 5.3 .2 6.1 .2-3.7 .2 5.0 .2-7.6 .2-6.9 .2 14.3 .2 .2 .2-9.5 .2 1.3 .2 .6 .2 8.1 .2-7.9 .2-4.3 .2 14.7 .2-8.0 .2 10.0 .2-8.3 .2 2.6 .2-10.4 .2 6.6 .2-12.5 .2 1.3 .2 2.4 .2 15.5 .2-12.4 .2-3.4 .2-1.6 .2 13.4 .2-11.2 .2 2.5 .2 2.9 .2-17.2 .2 10.6 .2-6.6 .2-7.4 .2 12.4 .2-2.1 .2 .2 .2 .1 .2 7.3 .2-7.9 .2-43.1 .2 52.7 .2-15.9 .2 4.2 .2 3.6 .2-18.9 .2 12.1 .2 13.2 .2-7.9 .2-7.2 .2 4.5 .2-7.6 .2 6.4 .2-2.4 .2-6.0 .2 15.6 .2-6.7 .2 3.4 .2-2.2 .2 10.4 .2-5.9 .2-4.3 .2-5.9 .2-4.0 .2 22.1 .2-3.4 .2-11.4 .2 18.7 .2-12.8 .2-3.3 .2-10.3 .2 1.9 .2-6.1 .2 14.7 .2-1.6 .2-11.1 .2 11.8 .2-1.2 .2-4.6 .2 2.6 .2 1.4 .2 9.8 .2-11.2 .2 3.7 .2-12.9 .2 6.1 .2 4.2 .2-3.5 .2 6.8 .2-14.3 .2 8.3 .2-3.3 .2 10.6 .2-9.7 .2 12.3 .2 1.7 .2-14.9 .2 6.5 .2-7.7 .2-15.5 .2 20.7 .2-1.8 .2-8.5 .2-1.1 .2 10.6 .2-.9 .2-7.0 .2 2.7 .2 12.3 .2-4.8 .2-.8 .2 9.8 .2-8.6 .2 7.8 .2-14.0 .2 4.9 .2 2.7 .2 6.3 .2-6.5 .2 9.1 .2-6.0 .2-9.0 .2 17.3 .2-24.4 .2 18.2 .2-18.0 .2 10.3 .2-11.3 .2 4.2 .2 12.8 .2-18.7 .2-.9 .2 7.3 .2 4.7 .2 1.5 .2 4.4 .2-28.8 .2 24.7 .2-1.1 .2 4.1 .2-.7 .2 2.9 .2-17.8 .2 9.9 .2-6.5 .2 5.8 .2 5.9 .2 0 .2-.9 .2-4.5 .2 5.4 .2-2.0 .2 8.0 .2-3.6 .2-16.7 .2 19.7 .2 4.4 .2-9.7 .2-7.1 .2 19.8 .2-9.1 .2 2.7 .2 9.8 .2-16.6 .2 7.8 .2-2.0 .2 8.2 .2-9.1 .2 7.8 .2-.2 .2 5.9 .2 .8 .2-18.2 .2 12.5 .2-7.0 .2 1.3 .2 2.3 .2 .4 .2-7.2 .2 7.2 .2-1.9 .2-1.8 .2-8.7 .2 .9 .2-1.0 .2 6.3 .2 5.5 .2-16.5 .2 2.4 .2 10.1 .2-5.0 .2-2.8 .2-.5 .2-1.3 .2 6.8 .2-12.7 .2 20.5 .2-14.9 .2 3.7 .2-2.6 .2-8.3 .2 2.8 .2 18.7 .2 2.4 .2-19.6 .2 12.8 .2-6.1 .2-14.8 .2 25.9 .2 4.6 .2-18.5 .2 0 .2 4.6 .2 19.1 .2-20.5 .2 4.4 .2-8.5 .2 8.4 .2 5.6 .2-13.5 .2 4.8 .2-2.0 .2 8.8 .2-3.5 .2 6.0 .2-1.7 .2-6.5 .2-12.0 .2 12.9 .2 2.7 .2-11.4 .2 26.2 .2-18.4 .2 4.6 .2-2.6 .2 10.7 .2-8.0 .2-6.7 .2 7.5 .2-4.1 .2 3.0 .2-24.9 .2 16.9 .2 14.8 .2-12.3 .2 12.3 .2 8.9 .2-17.8 .2-9.6 .2 8.6 .2 10.0 .2-3.3 .2-17.8 .2 6.4 .2 2.2 .2 1.0 .2 2.3 .2-3.7 .2 2.1 .2 2.9 .2 7.2 .2-14.6 .2 6.8 .2-11.9 .2 18.7 .2-7.7 .2 .6 .2 12.7 .2-22.2 .2 1.1 .2 13.6 .2-8.1 .2 2.5 .2 19.4 .2-19.3 .2 .6 .2 .2 .2 8.1 .2-8.7 .2-.3 .2-13.3 .2 8.5 .2 1.0 .2-10.3 .2 15.6 .2 0 .2 8.8 .2-28.9 .2 17.8 .2-10.6 .2 4.9 .2 2.7 .2-.1 .2 4.7 .2 .3 .2-.1 .2-13.6 .2 7.3 .2 3.7 .2 4.8 .2-.7 .2-16.9 .2 9.7 .2 0 .2 5.2 .2 7.2 .2-4.3 .2-6.7 .2 8.7 .2-2.0 .2 .1 .2-2.3 .2 11.8 .2-8.8 .2 4.3 .2-14.8 .2 15.5 .2-10.8 .2-7.2 .2 10.0 .2 .9 .2-7.4 .2-1.1 .2 5.0 .2-10.0 .2-11.6 .2 17.1 .2-2.0 .2 2.5 .2-10.8 .2 15.7 .2 16.3 .2-40.8 .2 17.0 .2-14.6 .2-7.3 .2 9.7 .2-2.0 .2-8.0 .2 14.0 .2 3.7 .2 3.2 .2-7.3 .2-8.4 .2 4.3 .2 11.3 .2-.1 .2-1.9 .2-4.5 .2 3.0 .2-30.0 .2 25.1 .2 3.9 .2-5.0 .2-3.7 .2 2.4 .2-4.9 .2-12.9 .2 5.5 .2 3.1 .2 13.9 .2-14.4 .2 16.2 .2-2.2 .2-31.1 .2 2.7 .2 8.4 .2 18.0 .2-14.3 .2-1.0 .2-24.5 .2-16.5 .2 23.7 .2 7.4 .2-.3 .2-18.6"/><path fill="none" stroke-linejoin="round" stroke="#34c834" stroke-width=".7" stroke-opacity=".55" d="M556.8 577.9l.2-3.4 .2 24.4 .2-39.6 .2 33.9 .2-65.9 .2 4.2 .2-.4 .2 42.9 .2-27.6 .2 14.0 .2-1.9 .2-2.8 .2 25.7 .2-2.3 .2-66.8 .2 21.5 .2-13.0 .2-21.8 .2 77.6 .2-30.6 .2-32.7 .2-12.5 .2 17.0 .2-46.5 .2 21.1 .2 39.7 .2-17.7 .2-49.7 .2 10.1 .2 62.9 .2-97.1 .2 15.8 .2-64.2 .2 73.9 .2-7.6 .2 20.6 .2-115.2 .2 72.6 .2-54.4 .2 63.4 .2-27.9 .2 48.9 .2-41.9 .2-45.3 .2 56.1 .2-71.7 .2 17.6 .2 36.3 .2-15.8 .2-7.4 .2-15.8 .2 14.6 .2 4.2 .2-16.7 .2 14.9 .2 5.5 .2-38.6 .2-27.7 .2 67.8 .2-39.0 .2 26.7 .2 8.9 .2-47.7 .2 41.7 .2-50.3 .2 68.2 .2-26.8 .2 22.0 .2 2.5 .2-23.9 .2 22.7 .2-18.8 .2 16.5 .2 32.2 .2-27.7 .2-5.6 .2-22.5 .2 56.8 .2-23.0 .2 47.2 .2-68.9 .2 44.5 .2 19.3 .2-49.5 .2-29.4 .2 77.5 .2-11.7 .2-9.6 .2 13.8 .2-41.0 .2 33.7 .2-1.3 .2-38.1 .2 37.2 .2-5.4 .2 9.4 .2 7.9 .2 23.1 .2-109.1 .2 59.8 .2-17.6 .2 8.9 .2-3.6 .2 4.6 .2-53.5 .2 84.4 .2 14.5 .2-12.1 .2 14.9 .2-53.4 .2 1.5 .2 52.3 .2 9.7 .2-26.0 .2-51.4 .2 123.4 .2-93.5 .2 49.1 .2-59.2 .2 58.3 .2-16.5 .2 31.1 .2-25.0 .2-73.5 .2 9.6 .2 31.4 .2 10.6 .2 25.3 .2-49.0 .2-20.9 .2-10.7 .2-11.8 .2 17.5 .2-3.2 .2-41.8 .2-45.8 .2-23.4 .2 53.2 .2 13.1 .2-31.4 .2 9.7 .2 .3 .2-25.1 .2 31.7 .2-37.2 .2 31.7 .2-1.4 .2-7.7 .2 48.2 .2 11.7 .2-16.5 .2 17.5 .2-14.2 .2 14.6 .2 50.1 .2-32.2 .2 49.6 .2-15.5 .2-49.8 .2 90.7 .2-63.1 .2-1.6 .2 13.8 .2 11.8 .2 6.1 .2 22.5 .2-13.0 .2 9.6 .2-18.7 .2 36.7 .2-45.8 .2-.4 .2 7.0 .2 4.7 .2 26.8 .2 4.3 .2-61.9 .2-3.0 .2-5.5 .2-13.3 .2 27.0 .2-18.3 .2-26.6 .2 1.9 .2-1.8 .2 46.8 .2-51.8 .2-10.9 .2 46.5 .2 2.0 .2 54.7 .2-66.7 .2 41.8 .2 80.2 .2-72.1 .2 55.5 .2 1.6 .2-13.6 .2-41.4 .2 56.2 .2-10.0 .2-37.3 .2 7.0 .2 51.8 .2 2.0 .2 31.2 .2-12.0 .2-29.4 .2 .7 .2 14.5 .2-20.0 .2 54.0 .2-11.9 .2-22.9 .2 8.4 .2-8.4 .2 23.5 .2 22.2 .2-17.3 .2 47.7 .2 22.3 .2-60.5 .2 20.0 .2-8.8 .2 61.5 .2-67.7 .2 49.6 .2 11.5 .2 48.0 .2-55.3 .2-30.1 .2 18.9 .2 30.1 .2-9.8 .2-14.6 .2 80.8 .2-58.9 .2-13.6 .2 .4 .2 8.5 .2 4.6"/><path fill="none" stroke-linejoin="round" stroke="#34c834" stroke-width=".7" stroke-opacity=".9" d="M604.8 625.3l.2 4.6 .2 7.0 .2 .2 .2-2.5 .2 10.7 .2-2.0 .2-3.4 .2-2.6 .2 11.4 .2-13.7 .2 16.4 .2-1.6 .2 9.0 .2-7.4 .2 11.0 .2-4.6 .2-1.4 .2-4.5 .2-2.7 .2 15.8 .2-3.4 .2-6.9 .2 5.4 .2 4.5 .2-14.5 .2 1.7 .2-1.6 .2 6.3 .2-7.4 .2 5.8 .2-8.6 .2 9.6 .2-.7 .2-4.3 .2 3.6 .2-7.4 .2 .3 .2 5.7 .2-5.5 .2 1.2 .2-5.4 .2 9.4 .2-5.0 .2-11.2 .2-4.3 .2 .3 .2 12.4 .2 0 .2-6.8 .2 7.2 .2 5.4 .2-7.3 .2-3.5 .2 5.5 .2 6.4 .2-5.2 .2-11.4 .2 9.1 .2 .3 .2-3.5 .2-2.0 .2 4.0 .2-6.7 .2 4.6 .2-4.4 .2 2.6 .2-12.6 .2 5.4 .2 5.9 .2-6.8 .2 2.0 .2-6.1 .2 14.3 .2-9.2 .2-3.9 .2-23.3 .2 11.6 .2 7.4 .2-7.7 .2-9.9 .2 18.9 .2 3.2 .2-16.0 .2 7.7 .2-2.6 .2 8.1 .2-16.9 .2 2.6 .2 9.8 .2-1.8 .2 22.8 .2-23.1 .2 3.5 .2-7.7 .2-2.1 .2 8.4 .2 8.1 .2 1.7 .2-12.8 .2-4.3 .2-2.2 .2-7.5 .2 14.4 .2-26.7 .2 4.7 .2-9.0 .2-9.9 .2 12.8 .2 13.7 .2-12.0 .2-.5 .2-6.4 .2-6.8 .2 15.9 .2-20.7 .2 13.6 .2-16.6 .2-1.3 .2-4.0 .2-5.3 .2 1.5 .2-.2 .2 7.0 .2-16.0 .2-14.1 .2-6.2 .2 4.4 .2 2.8 .2 9.0 .2-13.9 .2 16.7 .2 3.4 .2 9.5 .2 .9 .2 8.4 .2-.2 .2 11.5 .2-3.7 .2-17.3 .2 20.1 .2 3.9 .2-5.6 .2 1.5 .2 13.3 .2-2.4 .2-6.1 .2 7.6 .2 3.8 .2-7.7 .2 16.7 .2-4.3 .2 0 .2-11.3 .2 28.0 .2-10.1 .2 2.5 .2-6.4 .2-1.1 .2-4.6 .2 25.8 .2-17.9 .2 9.9 .2 4.1 .2-7.2 .2 13.3 .2 10.4 .2-9.6 .2 8.5 .2-6.2 .2-4.9 .2-.7 .2-10.4 .2 17.4 .2 13.1 .2-6.4 .2 1.1 .2 .3 .2-11.8 .2-3.4 .2 24.3 .2-22.3 .2 6.2 .2-6.2 .2 2.0 .2-2.9 .2 5.3 .2-7.1 .2 5.5 .2-1.4 .2-4.3 .2 14.4 .2-6.4 .2 2.7 .2-3.7 .2 14.2 .2-19.5 .2 34.1 .2-9.5 .2 3.5 .2-12.2 .2 .2 .2 5.3 .2-4.0 .2 9.7 .2-3.3 .2 10.6 .2-9.7 .2-3.1 .2-9.1 .2 24.9 .2-2.1 .2 5.1 .2-15.4 .2 36.4 .2-24.4 .2-3.5 .2 5.3 .2-3.6 .2-3.4 .2 13.2 .2-4.3 .2-8.9 .2-3.2 .2 1.3 .2 12.6 .2-14.7 .2-9.9 .2 3.6 .2 7.1 .2 4.4 .2-13.4 .2 12.2 .2 7.4 .2-2.5 .2-16.4 .2 11.2 .2-2.9 .2 13.2 .2-8.8 .2 10.7 .2-.9 .2-19.3 .2 15.8 .2 8.4 .2 .4 .2 1.1 .2-8.4 .2 12.2 .2 22.0 .2-26.1 .2-2.5 .2-.8 .2-10.6 .2-13.6 .2 19.3 .2 17.4 .2-12.1 .2-11.4 .2 9.9 .2 2.5 .2 .3 .2-9.8 .2 20.9 .2-3.4 .2-3.4 .2 .2 .2 9.7 .2-5.2 .2 2.4 .2-3.0 .2 .7 .2 6.2 .2-7.3 .2-5.7 .2 10.8 .2-7.5 .2-8.0 .2 13.0 .2-11.0 .2 9.6 .2-18.3 .2-9.5 .2 4.6 .2 16.6 .2-6.6 .2 2.8 .2 .7 .2-11.0 .2 20.4 .2-17.2 .2 7.2 .2-9.3 .2 10.8 .2 6.9 .2-9.9 .2-5.1 .2-3.1 .2 3.1 .2 9.8 .2 10.3 .2-21.8 .2-.8 .2 6.6 .2-.2 .2-6.3 .2 14.5 .2 1.4 .2-3.6 .2-11.4 .2 20.3 .2-16.5 .2 11.6 .2 3.2 .2-20.8 .2 9.7 .2 7.8 .2-5.5 .2-13.9 .2-.8 .2 14.2 .2-7.6 .2-3.7 .2 5.6 .2-5.2 .2 4.7 .2-.8 .2 2.4 .2-4.6 .2-1.6 .2 2.1 .2 1.0 .2-14.1 .2 6.7 .2-6.7 .2-5.3 .2 4.4 .2-11.6 .2 25.8 .2-17.3 .2 5.9 .2-20.3 .2-2.0 .2 28.0 .2-6.5 .2-13.9 .2-5.1 .2 .2 .2 4.6 .2-9.6 .2-4.3 .2 .7 .2-14.6 .2 21.4 .2-27.0 .2 11.3 .2-16.8 .2 3.2 .2-2.8 .2-15.2 .2 5.8 .2-4.3 .2-1.6 .2-17.1 .2-6.6 .2-8.5 .2 5.8 .2-13.9 .2 2.0 .2-.8 .2-10.9 .2-9.0 .2 10.3 .2-4.5 .2-2.9 .2-3.9 .2 3.6 .2-14.8 .2 7.7 .2-12.7 .2 7.6 .2-7.8 .2 4.3 .2 9.9 .2-16.0 .2 13.4 .2-10.1 .2 7.7 .2 16.0 .2 3.8 .2 3.9 .2 10.4 .2-5.3 .2 16.4 .2 20.1 .2-6.7 .2 21.4 .2-13.0 .2 11.7 .2 2.8 .2 .3 .2 3.5 .2 14.8 .2 7.2 .2-1.4 .2 6.1 .2-6.7 .2-18.5 .2 21.9 .2-12.8 .2 18.7 .2-6.4 .2 6.5 .2 .4 .2 .4 .2-9.4 .2 13.0 .2 3.5 .2 8.1 .2-12.8 .2 7.2 .2-2.8 .2 6.2 .2-7.9 .2 21.8 .2-7.1 .2-6.5 .2 6.9 .2 3.9 .2 .3 .2 10.0 .2-8.3 .2-13.2 .2 7.6 .2 12.3 .2-2.2 .2-3.4 .2-7.9 .2 8.8 .2 .8 .2-8.9 .2-1.2 .2 7.0 .2 6.1 .2-.4 .2-5.0 .2 7.1 .2-18.3 .2 7.0 .2-5.2 .2-8.0 .2 2.9 .2 12.2 .2-9.5 .2-2.6 .2 10.7 .2 2.6 .2-3.7 .2 6.6 .2-16.0 .2 18.9 .2-7.6 .2-4.0 .2-.3 .2-2.5 .2 .4 .2 3.3 .2-6.3 .2 17.1 .2-11.1 .2 2.1 .2-3.1 .2 0 .2 4.5 .2-3.1 .2-6.2 .2 .8 .2 5.9 .2-15.2 .2 .3 .2 21.1 .2-9.1 .2-13.3 .2 9.3 .2 3.3 .2 1.9 .2 1.0 .2-.9 .2 5.1 .2-8.1 .2 5.6 .2 .5 .2 4.3 .2-4.5 .2 1.6 .2-4.0 .2-8.7 .2 4.6 .2 1.9 .2-28.1 .2 31.6 .2 20.4 .2-21.6 .2-8.5 .2 10.2 .2-12.8 .2 7.2 .2 2.9 .2-2.0 .2 1.6 .2-5.1 .2 6.3 .2-10.5 .2 7.7 .2 8.6 .2-9.1 .2 7.8 .2-9.4 .2-4.6 .2 3.6 .2 10.0 .2-2.9 .2-13.0 .2 7.9 .2 1.6 .2-4.1 .2-7.3 .2 6.4 .2 6.5 .2 .2 .2-1.0 .2 5.6 .2 2.8 .2-8.4 .2 4.9 .2-5.1 .2-.7 .2-12.7 .2 17.7 .2-2.6 .2-.6 .2-2.5 .2-1.8 .2 9.0 .2 .5 .2 6.1 .2-2.2 .2-7.1 .2 3.3 .2-6.5 .2 10.1 .2-1.5 .2-3.2 .2 5.6 .2 .4 .2 9.2 .2-1.7 .2-16.3 .2 21.1 .2-9.4 .2-4.7 .2 3.0 .2 1.8 .2-5.8 .2-.3 .2-.6 .2 7.8 .2-7.3 .2 2.7 .2-3.9 .2-4.6 .2-2.2 .2-.7 .2 6.4 .2-7.3 .2-3.4 .2-.8 .2-.7 .2 9.7 .2-.1 .2-5.8 .2 12.5 .2-10.4 .2 4.5 .2 1.5 .2 8.1 .2-3.8 .2-3.6 .2-5.7 .2-1.8 .2 8.9 .2 2.2 .2 2.3 .2-5.9 .2 4.6 .2-3.6 .2-4.0 .2 9.9 .2 8.8 .2-5.3 .2 4.3 .2-1.8 .2-12.4 .2 7.2 .2 10.3 .2-12.8 .2-5.4 .2 8.6 .2 2.4 .2-1.4 .2-4.3 .2-2.9 .2-2.8 .2-.7 .2 1.2 .2-1.6 .2 2.7 .2 12.0 .2-6.6 .2-1.7 .2 3.1 .2-5.1 .2 8.5 .2 2.8 .2-12.5 .2 4.4 .2 4.8 .2-1.6 .2 .9 .2 5.3 .2 14.2 .2-10.6 .2-.6 .2 2.4 .2-5.8 .2-5.0 .2 9.0 .2 3.0 .2-18.6 .2 5.2 .2 12.1 .2-10.9 .2-.8 .2 7.3 .2-9.9 .2 8.9 .2 2.8 .2-6.6 .2-3.4 .2 7.9 .2-4.8 .2 2.2 .2-15.4 .2 21.0 .2-9.1 .2 8.6 .2 2.7 .2-3.7 .2-.1 .2-1.0 .2 3.1 .2 7.3 .2-.6 .2-3.9 .2-3.4 .2-4.5 .2 3.3 .2-3.1 .2-2.6 .2 6.2 .2 9.5 .2-3.7 .2 .4 .2-16.3 .2 13.2 .2-9.4 .2 3.1 .2-4.6 .2 4.7 .2 8.0 .2 .5 .2 2.4 .2-1.4 .2 5.0 .2-2.9 .2-7.6 .2 17.4 .2-12.8 .2 4.5 .2-6.8 .2-6.3 .2 2.1 .2-5.1 .2 11.4 .2-15.3 .2 10.7 .2-8.3 .2 2.5 .2 16.0 .2-10.0 .2-4.5 .2-5.8 .2 9.6 .2-1.6 .2 7.4 .2-6.8 .2-9.3 .2 8.0 .2-.2 .2 7.3 .2-15.2 .2-8.6 .2 10.6 .2-3.8 .2 4.5 .2 8.2 .2-13.6 .2 11.1 .2-2.3 .2-3.3 .2-3.6 .2 3.5 .2 2.1 .2 7.4 .2 2.9 .2-6.5 .2 4.2 .2 2.8 .2 .8 .2-5.7 .2 4.8 .2-2.7 .2 2.0 .2-11.6 .2-.2 .2-8.5 .2 19.6 .2-4.6 .2-8.3 .2 6.2 .2-1.1 .2-12.5 .2 12.3 .2 3.2 .2 1.0 .2-8.7 .2 0 .2 10.3 .2-1.3 .2-8.0 .2-.3 .2 5.8 .2-6.5 .2-1.5 .2 14.6 .2-8.2 .2-4.5 .2 4.2 .2 6.7 .2-10.8 .2-3.5 .2-4.3 .2 21.2 .2-27.2 .2 21.0 .2-11.7 .2-1.0 .2 4.1 .2-8.3 .2 23.4 .2-8.4 .2 9.1 .2 5.7 .2-25.7 .2 13.6 .2-7.2 .2 15.0 .2-12.7 .2-.5 .2-.5 .2 9.5 .2 8.0 .2-11.6 .2 11.7 .2-2.3 .2-8.4 .2 5.1 .2-4.0 .2 1.2 .2-11.8 .2 3.3 .2 7.6 .2-7.8 .2 12.4 .2-1.6 .2-8.3 .2 10.1 .2-1.3 .2 6.3 .2-9.7 .2-11.4 .2 13.2 .2-6.5 .2 5.0 .2 .9 .2 1.1 .2-15.0 .2-5.3 .2 9.5 .2 5.7 .2-7.5 .2 6.2 .2-6.5 .2 .5 .2 1.0 .2 .4 .2 5.1 .2-1.2 .2 6.9 .2-8.4 .2 4.5 .2-7.4 .2 4.6 .2-5.1 .2-.6 .2 11.3 .2-3.4 .2 1.1 .2-7.8 .2-7.9 .2 3.2 .2 6.0 .2-9.1 .2 15.5 .2-15.3 .2 12.9 .2 11.2 .2-28.8 .2 5.4 .2 13.8 .2-6.1 .2 3.1 .2-3.0 .2 9.7 .2-4.1 .2-5.7 .2 3.1 .2-6.4 .2 7.2 .2-11.9 .2 17.7 .2-3.3 .2 11.3 .2-1.2 .2-14.1 .2-2.2 .2 6.2 .2 4.8 .2 3.3 .2-4.0 .2 3.9 .2-.6 .2-7.1 .2 1.5 .2 5.4 .2 1.4 .2-6.7 .2 4.2 .2-5.5 .2-7.8 .2 9.8 .2 3.7 .2 1.3 .2 4.8 .2 .3 .2-.7 .2-3.7 .2 0 .2-9.1 .2 6.1 .2-1.0 .2 6.0 .2-17.1 .2 5.1 .2-7.9 .2 6.2 .2-3.6 .2 6.6 .2-5.5 .2-11.1 .2 22.4 .2-13.5 .2-2.0 .2 8.5 .2-.5 .2-3.1 .2 19.6 .2-15.6 .2 7.9 .2-1.1 .2 0 .2-4.6 .2 .4 .2 .2 .2 11.1 .2-20.0 .2 5.1 .2 1.8 .2 3.8 .2-1.8 .2-1.7 .2 3.2 .2 11.0 .2-14.5 .2-12.1 .2 24.8 .2-14.6 .2 1.4 .2 .2 .2-7.0 .2 6.5 .2 1.6 .2-4.9 .2 10.9 .2 .5 .2-5.2 .2 1.8 .2-10.3 .2 15.5 .2-10.9 .2 12.7 .2-10.4 .2 5.1 .2 14.0 .2-13.6 .2 4.7 .2-5.5 .2-11.9 .2 15.3 .2-.5 .2-13.6 .2 5.8 .2-7.4 .2 6.5 .2 6.8 .2-3.1 .2-7.3 .2 4.0 .2 4.6 .2-3.0 .2 1.0 .2 2.5 .2-14.0 .2 10.0 .2 7.7 .2-1.8 .2-6.5 .2-.7 .2 4.5 .2 2.4 .2-5.3 .2 8.8 .2-3.3 .2-7.7 .2 8.0 .2-2.4 .2-5.8 .2 4.1 .2 5.1 .2-11.6 .2 7.0 .2 6.6 .2-5.4 .2 .5 .2 9.8 .2-5.1 .2 3.1 .2 10.8 .2-13.3 .2 1.9 .2-.4 .2 7.3 .2-7.3 .2-3.0 .2-.2 .2 7.6 .2-10.2 .2 11.0 .2-5.3 .2-10.7 .2 10.7 .2-.3 .2-9.8 .2 8.5 .2-1.7 .2-2.0 .2-4.2 .2 16.4 .2-9.3 .2 2.3 .2 .8 .2-1.3 .2-.6 .2-6.8 .2 8.5 .2-5.6 .2-2.3 .2 7.1 .2-5.6 .2-8.1 .2 7.3 .2 4.2 .2-13.7 .2 16.7 .2-9.6 .2-4.5 .2 9.3 .2-7.1 .2-6.0 .2 6.6 .2-4.8 .2 5.3 .2-21.8 .2 20.7 .2-14.1 .2 12.0 .2 4.2 .2 .6 .2-3.6 .2-4.4 .2 1.7 .2-7.2 .2 11.8 .2-7.5 .2 8.5 .2-.8 .2 9.4 .2-7.8 .2-3.7 .2 3.4 .2 12.2 .2-19.0 .2 6.8 .2-11.5 .2 7.6 .2 1.7 .2-4.1 .2 9.2 .2-.9 .2-7.6 .2 .8 .2 4.5 .2 2.4 .2 2.5 .2-.7 .2-13.5 .2 12.1 .2-15.6 .2 3.0 .2 11.2 .2-7.4 .2 9.4 .2 .1 .2-2.3 .2-4.2 .2-1.0 .2 2.9 .2-3.6 .2 11.0 .2-14.8 .2 8.5 .2-2.7 .2 .4 .2 4.3 .2-.9 .2-2.0 .2-4.7 .2-.3 .2 .9 .2 8.0 .2-2.8 .2-.9 .2-6.6 .2 15.3 .2-18.3 .2 8.8 .2 3.8 .2-7.3 .2-3.8 .2 4.1 .2-3.0 .2 5.1 .2-6.4 .2-1.8 .2 8.9 .2-5.6 .2 5.6 .2-.2 .2 5.1 .2-5.0 .2-3.9 .2 10.1 .2-20.7 .2 15.0 .2 0 .2 11.9 .2-10.8 .2-4.4 .2 8.5 .2-3.1 .2 13.5 .2-15.2 .2 9.7 .2-11.0 .2 17.7 .2-13.4 .2 6.0 .2-4.8 .2 6.6 .2-1.0 .2-15.7 .2 17.5 .2-1.5 .2-2.7 .2 2.5 .2-12.7 .2-1.4 .2 9.9 .2 6.4 .2-17.2 .2-.4 .2 1.3 .2-1.8 .2 12.2 .2-3.2 .2 7.0 .2 1.5 .2-19.0 .2 16.1 .2-15.1 .2 11.7 .2 4.1 .2-5.5 .2-4.7 .2 8.4 .2 11.2 .2 14.7 .2-29.3 .2 9.3 .2 1.9 .2-10.9 .2 4.2 .2 8.3 .2-2.9 .2 2.5 .2-30.5 .2 23.1 .2-5.0 .2 1.1 .2 10.2 .2-13.5 .2-2.9 .2 .9 .2-3.6 .2 7.7 .2 1.9 .2-11.1 .2 9.3 .2 3.6 .2-17.3 .2 10.2 .2-2.0 .2 5.7 .2 .3 .2 .8 .2-2.1 .2-2.7 .2 16.5 .2-16.1 .2 10.9 .2-1.6 .2-11.0 .2 3.5 .2 10.5 .2-16.9 .2 15.7 .2-5.9 .2 1.7 .2-6.7 .2 8.8 .2-10.4 .2 10.0 .2-11.7 .2 12.3 .2-1.7 .2-10.2 .2-3.4 .2 13.3 .2-12.1 .2 8.8 .2 6.1 .2-9.5 .2 8.4 .2-13.1 .2 0 .2 11.1 .2-1.0 .2-4.2 .2 .1 .2 4.6 .2-10.0 .2 14.7 .2-7.2 .2 .5 .2-.2 .2-3.8 .2 10.9 .2-10.3 .2 5.6 .2 2.8 .2 2.0 .2 1.3 .2-8.5 .2 9.4 .2-4.5 .2-5.6 .2 1.7 .2-1.3 .2 9.5 .2 3.8 .2-11.5 .2 2.8 .2-7.0 .2 5.9 .2-5.9 .2 2.1 .2-1.5 .2 1.6 .2-2.4 .2-.2 .2-.5 .2-6.9 .2 7.6 .2-13.2 .2 9.8 .2-5.5 .2 6.2 .2 6.9 .2-16.9 .2 11.4 .2 6.3 .2-2.8 .2-1.6 .2-13.6 .2 16.1 .2-10.9 .2 9.2 .2-9.3 .2-1.5 .2-7.3 .2 13.0 .2-8.9 .2 .8 .2 6.3 .2-7.5 .2 .9 .2 12.3 .2-18.1 .2 .3 .2 5.6 .2 5.4 .2-15.2 .2 6.3 .2-4.0 .2-1.2 .2 9.6 .2-4.8 .2 7.9 .2-.2 .2 1.6 .2-.1 .2-8.5 .2 5.2 .2 .6 .2-.5 .2-4.6 .2 6.4 .2-1.4 .2-4.1 .2 2.7 .2-2.0 .2 2.2 .2-14.4 .2 3.2 .2 5.0 .2 2.6 .2-10.8 .2 11.8 .2 2.4 .2-2.2 .2 1.4 .2-4.4 .2 8.1 .2-8.0 .2 18.2 .2-10.0 .2 10.2 .2-15.6 .2 9.7 .2-2.0 .2-6.1 .2-3.3 .2 11.7 .2-6.1 .2 5.8 .2-8.0 .2 .8 .2 .5 .2 .9 .2-1.8 .2 .6 .2-8.0 .2-4.8 .2 20.8 .2-10.2 .2 3.7 .2-3.0 .2 9.6 .2-1.0 .2 6.1 .2-10.0 .2 2.0 .2 .1 .2-5.1 .2 2.0 .2 9.3 .2-11.2 .2 1.9 .2 3.7 .2-5.6 .2-3.3 .2 12.1 .2-3.8 .2-14.2 .2 1.4 .2 12.4 .2 4.0 .2-3.2 .2-.2 .2 7.4 .2-8.4 .2 6.2 .2-.2 .2-12.1 .2 8.9 .2-2.5 .2-4.2 .2 1.1 .2 6.1 .2-1.1 .2 4.0 .2-13.3 .2 7.1 .2 11.6 .2-5.8 .2-3.1 .2 2.7 .2-8.5 .2 1.3 .2 10.3 .2-3.8 .2 7.2 .2-10.1 .2 .4 .2-16.3 .2 9.7 .2 15.2 .2-7.9 .2-5.7 .2 5.9 .2-1.7 .2-4.6 .2-1.3 .2 2.8 .2 6.2 .2-7.7 .2 8.1 .2 0 .2 5.3 .2-1.2 .2-7.5 .2 14.1 .2-17.8 .2 6.0 .2 7.0 .2-6.0 .2 7.2 .2-16.2 .2 .5 .2 3.8 .2 12.7 .2-4.5 .2-11.0 .2-3.9 .2 6.4 .2-7.2 .2 8.4 .2-2.4 .2-1.2 .2-1.8 .2 9.2 .2-14.0 .2-1.2 .2 16.6 .2-.5 .2-11.3 .2 3.1 .2 9.5 .2-16.2 .2 2.5 .2 6.1 .2-12.9 .2 10.9 .2 4.0 .2-5.9 .2 7.0 .2-.1 .2-7.0 .2 3.0 .2-.1 .2-9.0 .2 5.1 .2 .2 .2-.6 .2 .2 .2-5.3 .2 6.4 .2 9.4 .2-2.8 .2-4.0 .2 6.4 .2-6.0 .2-2.8 .2-6.9 .2 10.6 .2-4.9 .2 3.5 .2 2.9 .2 3.6 .2-6.4 .2 9.6 .2-10.0 .2-1.7 .2 4.6 .2 2.7 .2 1.1 .2-17.7 .2 17.4 .2-14.1 .2 6.8 .2 4.7 .2 4.5 .2-14.3 .2-2.4 .2 11.4 .2-4.1 .2-6.8 .2 3.8 .2-8.8 .2 14.4 .2-5.5 .2 9.2 .2-18.6 .2 15.2 .2 7.7 .2-10.1 .2-1.4 .2-11.6 .2 11.8 .2-1.1 .2-5.0 .2-5.9 .2 9.6 .2-6.4 .2 4.9 .2 3.8 .2-1.6 .2 1.2 .2 5.5 .2-13.2 .2 12.1 .2-13.7 .2 4.2 .2 5.6 .2 5.0 .2 .4 .2-3.8 .2-1.2 .2 2.8 .2-5.0 .2 8.3 .2-3.8 .2 9.8 .2-13.6 .2 2.6 .2 3.2 .2-10.3 .2 .4 .2 21.9 .2-16.5 .2 6.2 .2-14.4 .2-8.0 .2 15.0 .2-4.0 .2 2.5 .2-4.1 .2-1.9 .2-4.0 .2 12.6 .2-12.2 .2 14.6 .2 .6 .2-13.5 .2 3.0 .2 7.4 .2 0 .2-4.3 .2-1.6 .2-5.3 .2 12.9 .2-10.6 .2-.6 .2 .3 .2 .7 .2-7.7 .2 5.6 .2-2.9 .2 1.3 .2-7.8 .2 20.8 .2-17.5 .2 9.0 .2 .7 .2 3.3 .2 3.8 .2-5.6 .2 .4 .2-7.8 .2 10.1 .2-14.6 .2 3.5 .2 3.0 .2 1.9 .2 .3 .2 .8 .2-2.7 .2-2.9 .2 1.2 .2 5.9 .2-4.1 .2 1.8 .2-3.6 .2-7.3 .2 6.6 .2 6.8 .2 6.8 .2-.8 .2 2.4 .2-12.8 .2 10.3 .2-4.7 .2 4.8 .2-3.4 .2-7.5 .2 10.2 .2-2.5 .2 1.0 .2-10.4 .2 12.5 .2-1.6 .2 1.7 .2 .5 .2-9.9 .2-12.0 .2 19.4 .2-11.2 .2 3.0 .2 9.2 .2-10.9 .2 8.9 .2 3.9 .2-12.1 .2 20.5 .2-13.5 .2 1.3 .2 5.9 .2-5.2 .2-3.7 .2 5.1 .2-1.2 .2-.1 .2 14.8 .2-22.5 .2-2.9 .2 6.8 .2 .3 .2 12.1 .2-6.4 .2 2.1 .2-2.3 .2-7.7 .2 11.7 .2-2.5 .2 10.4 .2-10.2 .2-.4 .2 3.2 .2 1.7 .2-14.7 .2 17.4 .2 .3 .2-1.2 .2-12.7 .2-3.9 .2 9.7 .2 6.3 .2-3.3 .2-9.8 .2 10.8 .2-12.9 .2-1.2 .2 10.8 .2-1.4 .2-.3 .2-5.7 .2 13.9 .2-11.8 .2 9.1 .2 1.6 .2-3.9 .2 1.8 .2 3.4 .2 6.0 .2-1.4 .2-15.9 .2-.5 .2 4.9 .2-4.1 .2 10.5 .2-2.1 .2-.7 .2 7.9 .2-.5 .2-18.6 .2 15.5 .2 3.8 .2-8.5 .2 3.1 .2-4.4 .2 7.1 .2 2.1 .2-1.9 .2 1.8 .2-.1 .2-1.2 .2-7.5 .2 .4 .2-2.7 .2 15.4 .2-7.5 .2-1.4 .2-1.5 .2 5.3 .2 .7 .2-8.3 .2 4.9 .2 7.6 .2-13.9 .2 3.1 .2 9.4 .2-8.7 .2 7.5 .2-10.0 .2 6.8 .2 3.2 .2-.4 .2-.9 .2-10.9 .2 5.2 .2 2.0 .2 1.3 .2 18.0 .2-19.8 .2 9.7 .2-12.4 .2-2.8 .2 4.3 .2 4.3 .2-1.6 .2 1.5 .2 1.3 .2 3.3 .2 .9 .2-11.5 .2 6.6 .2-4.6 .2 5.0 .2-1.5 .2 3.3 .2-3.1 .2-1.5 .2 4.6 .2 4.3 .2 1.4 .2-13.4 .2 10.6 .2 1.3 .2-6.6 .2 2.5 .2 3.8 .2 5.0 .2-13.0 .2 10.0 .2-.4 .2 3.0 .2 6.3 .2 .8 .2-8.0 .2-.6 .2 2.8 .2 4.4 .2-1.2 .2-8.8 .2 5.5 .2-13.9 .2-2.0 .2-10.4 .2 12.2 .2 5.0 .2 3.0 .2 13.8 .2-16.8 .2 5.3 .2-14.8 .2 2.7 .2 .9 .2 4.3 .2-2.1 .2-4.1 .2 14.2 .2-4.1 .2 5.9 .2-17.5 .2 3.8 .2 .7 .2 10.7 .2-7.2 .2 3.1 .2-1.9 .2 2.0 .2-4.8 .2 3.6 .2-7.2 .2 3.5 .2 3.2 .2-.5 .2 3.3 .2-5.8 .2 6.0 .2-1.5 .2 4.7 .2 5.8 .2-13.4 .2 11.4 .2-12.3 .2 .9 .2 12.0 .2-3.4 .2-1.4 .2 0 .2 1.7 .2-12.0 .2 4.5 .2-3.6 .2 1.3 .2-4.1 .2 7.4 .2-5.3 .2-5.3 .2 4.3 .2 2.3 .2 1.3 .2-6.2 .2-2.3 .2 4.1 .2 1.3 .2-7.5 .2-10.2 .2 14.8 .2-1.1 .2-1.4 .2 16.5 .2-14.8 .2 6.0 .2-12.3 .2 16.3 .2-5.9 .2-4.0 .2-1.1 .2 3.3 .2-3.1 .2 6.3 .2-5.7 .2-6.9 .2-6.9 .2 6.5 .2 2.6 .2-4.2 .2-1.2 .2-1.5 .2 4.7 .2 6.7 .2-2.0 .2-1.3 .2 2.0 .2 .2 .2 4.9 .2 8.0 .2-5.5 .2 5.7 .2-9.5 .2-.7 .2 8.0 .2-11.8 .2-2.1 .2 4.8 .2-7.6 .2-2.5 .2 17.9 .2-12.0 .2 3.5 .2 .2 .2-4.0 .2 6.3 .2 1.7 .2-1.2 .2-1.4 .2-4.8 .2 7.1 .2-.2 .2-9.7 .2 3.7 .2-1.7 .2 11.9 .2-7.3 .2-.9 .2-4.0 .2 2.4 .2-6.7 .2 5.3 .2 .8 .2-1.4 .2-1.8 .2 7.6 .2-10.7 .2 4.7 .2 1.2 .2 1.1 .2-.4 .2-3.4 .2 .9 .2 2.5 .2-5.3 .2 3.9 .2-7.8 .2 6.9 .2 12.0 .2-18.7 .2 4.3 .2 8.0 .2-6.8 .2 4.1 .2-16.5 .2 7.6 .2 10.8 .2-12.5 .2 7.5 .2-8.2 .2 15.0 .2 8.6 .2-11.3 .2 .5 .2-2.9 .2 10.5 .2-13.1 .2-7.9 .2 21.4 .2-15.6 .2 8.0 .2-15.8 .2 12.6 .2 4.7 .2-8.8 .2 3.6 .2 6.0 .2-7.8 .2 8.6 .2 11.0 .2-21.3 .2 12.8 .2 2.6 .2-6.2 .2 9.4 .2 .4 .2-4.5 .2-1.0 .2-6.5 .2-4.5 .2 9.0 .2-4.2 .2 .2 .2 8.1 .2-11.1 .2 8.3 .2-10.5 .2 1.8 .2 1.1 .2 8.5 .2-9.2 .2 6.3 .2-7.7 .2 4.0 .2 1.7 .2-10.2 .2-.7 .2 5.4 .2-9.4 .2 10.9 .2-.6 .2-3.5 .2 4.2 .2 0 .2 1.5 .2-12.2 .2-1.9 .2 8.4 .2-9.6 .2 11.6 .2-1.8 .2-2.1 .2 4.6 .2-10.1 .2 13.2 .2 6.3 .2-12.2 .2 10.2 .2-1.3 .2 12.1 .2-21.7 .2 1.7 .2 .9 .2-.6 .2-4.5 .2 8.0 .2-6.9 .2 6.6 .2-3.5 .2-9.2 .2 5.0 .2 9.6 .2-9.5 .2 3.0 .2 4.1 .2-6.4 .2 5.2 .2 7.7 .2-3.1 .2-17.6 .2 19.8 .2-9.2 .2-1.8 .2 2.0 .2 11.1 .2-3.8 .2-4.5 .2-3.8 .2 8.1 .2 5.1 .2-11.5 .2-2.6 .2 3.0 .2 6.3 .2-4.5 .2 2.7 .2-3.5 .2 12.3 .2-6.9 .2 2.2 .2 3.8 .2-6.0 .2 1.2 .2 1.4 .2-6.4 .2 10.4 .2-5.8 .2-3.2 .2-.7 .2-5.3 .2 12.6 .2 .5 .2-9.7 .2-1.8 .2-10.1 .2 8.0 .2 6.8 .2-8.3 .2 8.5 .2 3.2 .2-22.5 .2 1.6 .2 6.0 .2 2.4 .2-16.2 .2 18.0 .2-2.7 .2 12.1 .2 1.9 .2-15.3 .2 0 .2 13.2 .2-7.5 .2 1.2 .2 5.1 .2-14.3 .2 6.1 .2 2.9 .2-.5 .2-4.2 .2 3.2 .2-2.3 .2 11.0 .2-8.7 .2-7.6 .2 14.2 .2-.7 .2-6.9 .2-.7 .2 4.0 .2 12.5 .2-13.1 .2 8.6 .2-2.1 .2-8.6 .2 4.9 .2-6.9 .2-10.5 .2 12.7 .2 1.2 .2 8.5 .2-1.3 .2 4.5 .2-5.0 .2 2.3 .2-2.9 .2-.6 .2 4.8 .2 3.1 .2-1.2 .2-9.4 .2 2.8 .2-6.3 .2-1.0 .2 5.2 .2-5.4 .2 13.2 .2-20.6 .2 5.6 .2 8.5 .2 4.2 .2-9.2 .2 13.0 .2-6.2 .2-6.0 .2 3.2 .2 3.7 .2-8.8 .2 12.1 .2-6.6 .2 4.2 .2 2.1 .2-7.4 .2 9.5 .2-32.9 .2 31.1 .2-14.4 .2 14.4 .2-9.5 .2 9.8 .2 1.4 .2-7.4 .2-3.6 .2 10.4 .2-12.5 .2 11.3 .2-8.0 .2-1.4 .2-1.6 .2 12.9 .2-17.6 .2 5.5 .2 6.2 .2 5.7 .2 4.4 .2-2.3 .2-12.1 .2 4.2 .2 2.6 .2-4.6 .2-11.2 .2 9.5 .2 2.4 .2-10.6 .2 4.1 .2 2.8 .2 3.0 .2 3.6 .2-3.2 .2-6.4 .2-4.7 .2-1.0 .2 1.1 .2 7.5 .2-1.8 .2 6.5 .2 6.8 .2-9.6 .2 2.2 .2-2.7 .2-2.2 .2 6.1 .2 .9 .2-6.1 .2 .5 .2 6.2 .2-6.9 .2 3.7 .2 1.9 .2-5.6 .2-9.2 .2 13.1 .2-9.4 .2 1.8 .2-.3 .2 12.2 .2-16.0 .2 9.5 .2 1.9 .2-.9 .2-2.5 .2 3.4 .2 1.7 .2-6.8 .2 11.6 .2 1.5 .2-9.1 .2 2.1 .2-2.9 .2 11.7 .2-11.4 .2 4.0 .2-4.3 .2 16.8 .2-6.9 .2 .6 .2 6.2 .2-4.6 .2-10.3 .2 8.7 .2 .3 .2-9.5 .2-2.4 .2-3.0 .2 10.3 .2-5.2 .2-6.2 .2 7.8 .2 .4 .2-8.7 .2-3.2 .2 14.2 .2 7.1 .2-4.9 .2-3.4 .2-3.3 .2-2.8 .2 3.3 .2 3.2 .2-5.5 .2 7.4 .2 12.7 .2-14.0 .2-16.8 .2 10.9 .2 7.8 .2 2.0 .2-2.9 .2 7.3 .2-4.9 .2 0 .2-8.6 .2 8.8 .2 1.9 .2 3.9 .2-1.0 .2-6.9 .2-1.4 .2-8.2 .2 7.8 .2-8.2 .2-1.1 .2 5.5 .2 11.9 .2-2.5 .2-9.8 .2-2.8 .2 5.5 .2-6.2 .2 5.9 .2-2.0 .2-.2 .2-6.8 .2 2.9 .2 2.9 .2 .7 .2-4.9 .2 1.9 .2 5.4 .2-13.8 .2 6.2 .2 1.0 .2-7.2 .2 5.9 .2 6.5 .2-1.6 .2 8.6 .2-3.2 .2 9.0 .2-15.8 .2 18.1 .2-14.1 .2 10.8 .2-.4 .2-4.1 .2-2.0 .2-1.4 .2-6.0 .2 8.3 .2-2.6 .2 7.6 .2-9.4 .2 5.0 .2 3.7 .2 4.4 .2-8.7 .2-.8 .2-.3 .2 4.0 .2 .7 .2-8.5 .2 15.4 .2-5.8 .2-12.3 .2 19.9 .2-8.5 .2-4.9 .2 10.7 .2-22.5 .2 27.8 .2-21.0 .2-1.5 .2 1.8 .2 7.4 .2-4.3 .2 6.5 .2-9.9 .2 7.4 .2-5.0 .2-6.8 .2 12.0 .2-5.6 .2-.8 .2 6.2 .2-13.7 .2 6.8 .2 10.4 .2-10.1 .2 3.9 .2 .3 .2-4.4 .2 2.7 .2-6.6 .2 8.5 .2-8.3 .2 3.7 .2-3.9 .2 4.3 .2 2.2 .2 3.6 .2-10.9 .2-1.9 .2-2.7 .2 4.2 .2 3.7 .2 3.2 .2-2.3 .2 1.3 .2-7.1 .2 3.2 .2 12.6 .2-1.3 .2-9.1 .2 5.1 .2 3.2 .2-6.8 .2 9.8 .2-1.2 .2 .6 .2 6.6 .2-17.0 .2 12.6 .2-4.3 .2 .3 .2-8.6 .2 4.2 .2-1.1 .2 6.6 .2-9.6 .2 6.6 .2-8.9 .2 .4 .2 .5 .2-12.3 .2 11.1 .2 .3 .2 1.7 .2 3.9 .2-6.5 .2-.3 .2 13.6 .2-11.9 .2 3.5 .2-2.4 .2 1.7 .2 9.0 .2-.4 .2-16.1 .2 10.5 .2 8.5 .2-10.3 .2 2.4 .2 8.1 .2 1.5 .2-3.5 .2-10.5 .2 .8 .2 2.4 .2-3.2 .2-1.7 .2 14.9 .2-8.7 .2 2.8 .2 1.5 .2-4.9 .2-3.1 .2 .5 .2 6.9 .2-6.1 .2-12.0 .2 15.5 .2 2.0 .2-9.0 .2-1.1 .2 1.4 .2 7.9 .2-12.8 .2 11.6 .2 3.1 .2-3.2 .2-4.2 .2-2.7 .2 .7 .2 3.1 .2-6.9 .2 4.6 .2-2.0 .2 11.4 .2 .7 .2-12.0 .2 9.4 .2-5.6 .2-2.2 .2 2.4 .2 1.2 .2-9.0 .2 20.3 .2-18.9 .2-5.0 .2 13.4 .2 1.0 .2-6.1 .2-6.9 .2 17.3 .2-7.5 .2 1.9 .2-3.7 .2 2.5 .2-3.0 .2 4.5 .2-2.9 .2 4.4 .2 .1 .2-4.4 .2-.8 .2 5.1 .2-14.1 .2 9.2 .2 6.0 .2-14.8 .2 12.7 .2-7.2 .2 4.0 .2-1.4 .2 1.1 .2 4.9 .2-4.7 .2-10.5 .2 24.5 .2-10.0 .2-.3 .2 8.8 .2 1.8 .2-22.8 .2 18.3 .2-16.5 .2 9.7 .2 1.0 .2-2.3 .2-2.3 .2-5.8 .2 4.8 .2 .7 .2 .4 .2-11.3 .2 .6 .2 12.3 .2-4.2 .2-4.4 .2 4.8 .2-1.7 .2 3.0 .2-4.8 .2-4.6 .2-3.9 .2 6.6 .2-10.7 .2 13.5 .2-23.4 .2 17.3 .2 4.7 .2 8.4 .2 14.0 .2-17.1 .2-1.3 .2-10.9 .2 18.7 .2-21.3 .2 13.9 .2-6.3 .2 21.1 .2-21.2 .2 4.6 .2-3.0 .2 3.9 .2 7.4 .2-15.0 .2 1.2 .2 .8 .2-4.1 .2-1.7 .2 8.7 .2 7.6 .2-.8 .2-16.2 .2 3.5 .2 4.6 .2-1.0 .2-5.1 .2-5.3 .2 6.8 .2 3.4 .2-16.9 .2 11.6 .2 5.2 .2 4.4 .2-3.4 .2-8.2 .2-.8 .2 4.7 .2-4.7 .2 5.6 .2 8.0 .2-15.8 .2 8.4 .2-14.2 .2 19.8 .2-4.1 .2-8.3 .2 5.0 .2 5.6 .2-2.5 .2-5.1 .2-.3 .2 2.3 .2-7.8 .2 2.1 .2 4.4 .2 1.1 .2 2.0 .2-6.4 .2-3.0 .2 6.7 .2-5.3 .2 10.8 .2 9.4 .2-1.1 .2-11.1 .2 .5 .2-6.4 .2 9.9 .2-4.0 .2-2.0 .2 4.4 .2 10.9 .2 .5 .2-1.6 .2 5.1 .2-7.5 .2-4.1 .2 8.0 .2-19.4 .2 14.9 .2-.9 .2-2.2 .2 2.4 .2-10.1 .2 5.8 .2-12.0 .2 4.9 .2 .4 .2 4.5 .2 7.1 .2-11.5 .2 3.3 .2-10.1 .2 9.2 .2-11.7 .2 6.0 .2 1.3 .2 4.6 .2 1.4 .2-6.5 .2-.7 .2 7.9 .2-11.9 .2-11.3 .2 19.1 .2 3.9 .2 5.0 .2 4.3 .2-16.7 .2 8.1 .2-1.1 .2-10.5 .2-3.6 .2 23.0 .2-12.3 .2 2.1 .2 3.9 .2 .4 .2 3.4 .2-11.3 .2 6.2 .2-1.0 .2-6.3 .2 2.2 .2 .3 .2-3.9 .2-3.7 .2 7.3 .2 4.3 .2 6.8 .2-2.7 .2 5.3 .2-31.7 .2 23.0 .2 17.3 .2-14.3 .2-2.9 .2 6.2 .2 6.2 .2-12.3 .2 13.7 .2 5.3 .2 19.2 .2-28.4 .2-7.2 .2-3.2 .2 4.5 .2 6.7 .2-4.3 .2-1.1 .2-4.3 .2 9.8 .2-15.3 .2-3.4 .2 4.0 .2-5.4 .2 8.0 .2 3.3 .2-3.4 .2-12.6 .2 1.9 .2 11.3 .2 5.8 .2-5.3 .2-10.5 .2 5.8 .2 5.9 .2-6.9 .2 8.1 .2 2.0 .2 1.8 .2-11.3 .2 .2 .2-3.5 .2 3.1 .2-10.1 .2 13.2 .2 2.1 .2-10.5 .2-4.1 .2 5.1 .2 13.8 .2-4.6 .2-6.1 .2 1.1 .2-8.4 .2 19.7 .2-12.1 .2 8.6 .2-13.9 .2 8.0 .2-7.7 .2 11.4 .2 3.1 .2-2.3 .2-1.7 .2 2.0 .2-14.7 .2-3.5 .2 7.6 .2 5.4 .2-6.3 .2 2.4 .2-14.8 .2 8.7 .2-.9 .2 4.7 .2 10.3 .2-5.9 .2 2.7 .2-9.5 .2 3.0 .2 3.7 .2 .6 .2-14.3 .2 16.4 .2-1.9 .2-3.0 .2 5.7 .2-2.3 .2-3.9 .2-7.8 .2 23.6 .2-12.7 .2-1.0 .2 .9 .2-2.7 .2 .3 .2-8.6 .2 10.8 .2-.3 .2 .9 .2-.1 .2 1.8 .2-10.7 .2 8.0 .2-.2 .2 1.1 .2 6.6 .2-2.8 .2 2.8 .2-4.7 .2 5.6 .2 2.4 .2-6.9 .2-3.8 .2 15.1 .2-23.7 .2 11.0 .2 3.8 .2-7.8 .2 5.4 .2 3.3 .2-25.1 .2 29.5 .2-6.7 .2-8.6 .2 14.9 .2-7.2 .2-3.2 .2-10.7 .2 21.5 .2-6.3 .2-2.9 .2 3.0 .2 8.3 .2-10.4 .2 4.4 .2-1.2 .2-4.9 .2 0 .2 4.6 .2-.6 .2 9.3 .2-8.0 .2-3.4 .2 2.2 .2-3.5 .2 4.7 .2-16.6 .2-5.0 .2 17.6 .2-6.7 .2 6.5 .2-11.5 .2 5.9 .2 1.5 .2-1.0 .2-4.1 .2 9.9 .2-31.8 .2 30.7 .2-5.3 .2 3.6 .2-5.8 .2 6.7 .2-6.1 .2 13.1 .2-11.8 .2 6.0 .2-2.9 .2 0 .2-2.3 .2 18.6 .2-17.4 .2 13.7 .2-18.1 .2 19.1 .2-8.2 .2 4.7 .2-20.4 .2 31.5 .2-21.9 .2 3.8 .2 8.4 .2-8.8 .2-5.2 .2 4.5 .2-6.7 .2 10.6 .2-5.0 .2 4.2 .2-.6 .2-10.6 .2 7.4 .2 1.7 .2 4.5 .2 .8 .2-14.7 .2 14.6 .2-3.2 .2-5.5 .2 1.3 .2-15.4 .2 27.5 .2-18.5 .2-4.1 .2 7.6 .2-2.4 .2-6.6 .2-7.6 .2 15.8 .2 8.1 .2-14.8 .2-2.8 .2 14.4 .2 12.2 .2-20.8 .2 8.7 .2-8.9 .2 8.9 .2 3.1 .2 .9 .2-13.7 .2 1.6 .2 23.6 .2-7.3 .2-21.8 .2 12.1 .2 7.7 .2-9.6 .2 0 .2-2.1 .2 6.0 .2 .9 .2-.6 .2-4.7 .2 7.9 .2-4.0 .2-1.0 .2-11.7 .2 6.6 .2 5.0 .2-4.3 .2 1.5 .2-1.5 .2 2.2 .2-7.3 .2-.1 .2 7.3 .2 2.9 .2-9.6 .2 .8 .2 7.1 .2 7.0 .2 3.0 .2-13.8 .2-6.7 .2-.5 .2 10.0 .2-16.6 .2 10.5 .2-5.8 .2 .3 .2 8.7 .2-.5 .2 9.8 .2-5.1 .2 5.2 .2-13.8 .2 2.7 .2-4.5 .2 7.1 .2 6.3 .2-3.4 .2 4.9 .2-6.1 .2 .5 .2 9.1 .2-5.1 .2-2.0 .2 3.0 .2-9.9 .2-5.0 .2 13.1 .2-1.0 .2 11.5 .2-13.3 .2 1.8 .2 10.6 .2-17.2 .2-1.9 .2 10.5 .2-2.9 .2 2.4 .2-12.1 .2 15.5 .2-7.9 .2-16.1 .2 12.7 .2-1.9 .2 4.8 .2 4.7 .2-6.0 .2-3.2 .2 10.0 .2-6.9 .2-7.1 .2-.2 .2 15.9 .2-4.5 .2 1.9 .2-17.3 .2 4.5 .2-2.4 .2 8.3 .2 .3 .2-9.0 .2-1.3 .2 6.2 .2-6.7 .2-5.7 .2 1.6 .2 10.1 .2 7.6 .2-11.7 .2-1.4 .2 4.6 .2-1.0 .2 4.8 .2-9.7 .2 4.5 .2-1.8 .2 7.1 .2-.8 .2-4.4 .2 6.8 .2 2.5 .2-6.9 .2-11.9 .2 6.4 .2-7.5 .2 9.5 .2 1.5 .2 5.0 .2-3.6 .2-13.9 .2 5.1 .2-3.9 .2-1.9 .2 1.4 .2-.5 .2-1.8 .2-3.6 .2 2.3 .2 1.2 .2 2.1 .2 3.6 .2-2.5 .2 2.7 .2-10.9 .2 20.2 .2-10.4 .2-15.0 .2 17.8 .2 7.5 .2-8.0 .2-8.0 .2 10.6 .2-5.1 .2 3.8 .2 1.9 .2-22.4 .2 19.7 .2 4.2 .2 .7 .2-4.1 .2 2.6 .2-3.8 .2 5.1 .2 9.5 .2-10.6 .2 3.2 .2 0 .2 8.6 .2-5.2 .2-5.4 .2 3.4 .2 8.3 .2-8.5 .2-1.4 .2 10.3 .2-5.1 .2 2.1 .2-9.4 .2 22.5 .2-13.2 .2 21.3 .2-16.8 .2-6.1 .2 12.6 .2-7.2 .2 6.9 .2-16.3 .2 5.6 .2-.2 .2 15.5 .2-.6 .2-14.7 .2 8.6 .2 1.3 .2-3.3 .2 10.7 .2-11.5 .2 2.4 .2-2.7 .2 5.8 .2-7.4 .2 8.5 .2-9.1 .2-3.5 .2 3.5 .2 3.1 .2-.1 .2 21.2 .2-25.7 .2 5.2 .2-3.0 .2 4.4 .2 7.6 .2-4.0 .2-5.8 .2-4.9 .2 13.4 .2 .8 .2-14.8 .2 12.0 .2-18.5 .2 15.4 .2 5.5 .2-11.4 .2-3.8 .2 20.8 .2-20.8 .2 12.8 .2-12.3 .2 12.1 .2 8.5 .2-15.0 .2-.4 .2-6.3 .2 2.8 .2 7.2 .2 3.2 .2 3.1 .2-1.8 .2 2.2 .2-3.7 .2 15.2 .2-16.5 .2 1.9 .2-17.3 .2 8.7 .2 6.3 .2-7.1 .2 10.8 .2-4.0 .2 6.5 .2-21.3 .2 3.7 .2 12.3 .2-6.8 .2-7.6 .2 3.2 .2-.9 .2 7.1 .2-1.2 .2-2.6 .2-4.7 .2 8.5 .2 2.3 .2-13.9 .2 12.5 .2-13.0 .2 5.3 .2-6.5 .2-5.4 .2 6.3 .2-1.0 .2 10.4 .2-3.3 .2-11.0 .2-4.9 .2 .4 .2-3.9 .2 12.5 .2-.5 .2-4.5 .2 14.9 .2-7.7 .2 7.6 .2-13.5 .2 13.1 .2-10.8 .2 13.1 .2-14.1 .2 14.3 .2-13.4 .2 15.7 .2 20.6 .2-36.5 .2 13.5 .2-6.6 .2 4.6 .2 12.4 .2-17.0 .2 1.0 .2 9.5 .2-9.4 .2 7.6 .2 2.2 .2-6.7 .2 12.2 .2-30.0 .2 23.2 .2-15.4 .2-1.3 .2 18.8 .2-2.8 .2-15.4 .2 7.2 .2-7.4 .2-4.4 .2 8.2 .2 5.0 .2 13.4 .2-17.1 .2 6.6 .2-6.1 .2 3.1 .2 10.1 .2-18.4 .2 2.8 .2 3.2 .2 14.4 .2-6.6 .2 1.7 .2-1.0 .2 4.8 .2-9.1 .2-2.1 .2-.2 .2 5.0 .2-11.2 .2 5.7 .2 20.8 .2-16.7 .2-4.0 .2-4.7 .2 5.4 .2 .1 .2 2.4 .2-8.3 .2 7.1 .2-2.1 .2 1.5 .2-7.6 .2 6.1 .2 6.7 .2-14.1 .2 6.1 .2-3.8 .2 .7 .2-7.2 .2 2.0 .2 10.8 .2-1.8 .2 15.2 .2-27.7 .2 7.3 .2-5.2 .2 8.1 .2 13.5 .2-21.8 .2 7.0 .2-.4 .2 .9 .2-2.9 .2-.4 .2 14.9 .2-19.5 .2 9.4 .2 1.2 .2-16.2 .2 5.4 .2 6.5 .2 10.3 .2-14.6 .2-4.1 .2 6.3"/><path fill="none" stroke-linejoin="round" stroke="#5ed45e" stroke-width=".6" stroke-opacity=".6" d="M481.0 647.2l.4-9.7 .4 .9 .4 13.4 .4 .7 .4 .5 .4-11.5 .4 1.9 .4-5.0 .4 15.2 .4-25.1 .4 10.7 .4-4.6 .4 4.8 .4 1.0 .4-5.5 .4-5.0 .4 6.0 .4 3.0 .4-9.9 .4 11.3 .4 3.3 .4-14.7 .4 6.7 .4 9.4 .4-8.8 .4-3.8 .4 4.6 .4 1.9 .4-11.3 .4-5.1 .4 9.5 .4 4.6 .4-7.5 .4-3.8 .4 4.9 .4-3.6 .4-2.1 .4 9.3 .4 4.6 .4-9.7 .4 2.9 .4-2.5 .4 17.7 .4-4.7 .4-1.1 .4 6.7 .4-13.0 .4-5.3 .4 12.1 .4-15.5 .4 1.5 .4 2.8 .4 0 .4-3.0 .4 17.3 .4-14.5 .4-2.2 .4 16.1 .4-16.2 .4 4.6 .4-9.2 .4 9.4 .4-3.7 .4-1.4 .4 7.8 .4-11.3 .4 2.8 .4-.9 .4 8.3 .4-13.2 .4 1.0 .4 10.3 .4-3.2 .4-2.8 .4-3.3 .4 25.6 .4-19.1 .4 3.1 .4 2.6 .4 6.2 .4-14.6 .4 19.7 .4-14.6 .4-5.6 .4 22.5 .4-8.2 .4 5.2 .4-11.4 .4-8.7 .4-2.1 .4 26.0 .4-7.1 .4-9.8 .4-7.7 .4 12.5 .4 9.0 .4-4.1 .4 1.0 .4 1.2 .4 3.7 .4-9.4 .4 .9 .4-.7 .4-.2 .4 7.3 .4-2.4 .4-12.1 .4 10.8 .4 11.6 .4-23.5 .4 3.5 .4-14.1 .4 13.7 .4 5.4 .4 9.6 .4-20.0 .4-9.5 .4 26.8 .4-1.0 .4-9.1 .4 9.6 .4-2.2 .4-.9 .4-3.8 .4-6.7 .4 6.8 .4-7.2 .4 8.0 .4-4.8 .4 18.0 .4-3.3 .4-17.4 .4 10.4 .4-6.7 .4-.6 .4-5.2 .4 1.9 .4-1.2 .4 7.3 .4 4.3 .4 .6 .4-1.6 .4 7.6 .4-4.5 .4-4.8 .4-1.3 .4 7.8 .4 8.4 .4-15.7 .4-1.8 .4-6.4 .4 3.0 .4 11.1 .4 1.4 .4-20.8 .4 10.7 .4-7.1 .4-.3 .4 18.4 .4-10.1 .4-2.2 .4-2.9 .4 3.6 .4 .4 .4 1.7 .4 9.8 .4-9.7 .4 4.9 .4-10.9 .4 7.5 .4-9.1 .4-2.1 .4 4.4 .4 .7 .4 2.0 .4 3.3 .4-4.8 .4-2.2 .4-9.5 .4-1.7 .4-8.6 .4 9.5 .4-20.4 .4 9.9 .4-6.1 .4-8.9 .4-4.4 .4-21.5 .4 1.9"/><path fill="none" stroke-linejoin="round" stroke="#5ed45e" stroke-width=".6" stroke-opacity=".4" d="M557.0 586.8l.4-12.6 .4-69.0 .4 30.4 .4 30.0 .4-41.1 .4 40.2 .4-101.3 .4 90.0 .4-62.4 .4-9.7 .4 74.3 .4-77.3 .4-28.4 .4 12.5 .4 .6 .4-28.8 .4 17.7 .4-19.7 .4 3.6 .4-31.3 .4 41.1 .4-58.7 .4 27.2 .4 9.7 .4-51.9 .4-49.1 .4 12.3 .4 23.7 .4-30.9 .4 36.5 .4 .6 .4-6.3 .4 82.3 .4-64.8 .4 40.9 .4-7.0 .4 28.2 .4 6.2 .4-12.9 .4-49.3 .4-22.2 .4 48.6 .4-35.4 .4 40.9 .4 48.0 .4-59.3 .4-2.8 .4 26.4 .4-22.4 .4-2.8 .4 40.3 .4 14.5 .4-30.3 .4-1.4 .4 8.5 .4-35.7 .4-21.3 .4 62.5 .4-26.5 .4-2.1 .4 4.2 .4-19.2 .4 32.3 .4-38.7 .4-57.2 .4 18.8 .4 28.7 .4-54.9 .4-25.8 .4 7.1 .4 19.0 .4-53.7 .4 96.9 .4-38.4 .4 28.0 .4 50.4 .4-48.4 .4 45.0 .4 59.0 .4-44.2 .4 39.9 .4 48.1 .4-26.4 .4-22.9 .4-17.8 .4-3.2 .4-1.1 .4-20.5 .4 4.7 .4-50.7 .4 17.4 .4-15.6 .4 2.6 .4 61.6 .4-4.8 .4-36.1 .4 51.5 .4 33.3 .4-3.1 .4 42.6 .4-11.2 .4 30.2 .4-18.1 .4 64.2 .4-76.6 .4 58.9 .4 38.8 .4-29.9 .4 6.4 .4-9.9 .4 43.5 .4-35.7 .4-86.1 .4 146.6 .4-42.3 .4 23.9 .4-6.5 .4 47.5 .4-7.4 .4-24.5"/><path fill="none" stroke-linejoin="round" stroke="#5ed45e" stroke-width=".6" stroke-opacity=".6" d="M605.0 630.0l.4 6.7 .4-5.1 .4 15.4 .4-1.0 .4-13.2 .4 19.9 .4-13.4 .4 9.3 .4 .6 .4-3.4 .4 4.3 .4 5.2 .4-4.8 .4-15.3 .4 7.4 .4 20.8 .4-17.8 .4-1.0 .4-8.7 .4 3.5 .4-10.6 .4 5.6 .4-3.0 .4 3.9 .4-1.2 .4-2.1 .4-5.7 .4 2.6 .4 3.4 .4-9.0 .4 2.8 .4-1.3 .4 8.8 .4-7.8 .4-3.3 .4 13.6 .4-33.7 .4 5.4 .4 2.5 .4-7.5 .4 6.2 .4-6.7 .4 29.4 .4-13.1 .4-4.4 .4-8.7 .4 22.7 .4-26.1 .4 12.8 .4 6.1 .4-23.2 .4 .1 .4-18.3 .4 .3 .4-9.2 .4 4.5 .4-21.4 .4 4.1 .4-12.3 .4-9.1 .4-.1 .4-7.2 .4-2.9 .4-8.4 .4 9.5 .4 17.1 .4 8.8 .4-5.3 .4 22.4 .4-3.1 .4 12.5 .4 15.2 .4 21.3 .4-17.2 .4 4.8 .4-1.4 .4 15.3 .4-5.6 .4-.6 .4-10.9 .4 31.3 .4-18.6 .4 6.0 .4-2.9 .4 8.1 .4-5.2 .4-8.8 .4 10.3 .4-.1 .4 0 .4 13.1 .4-5.9 .4 8.0 .4 6.1 .4-2.9 .4 2.3 .4-27.4 .4 33.3 .4 6.1 .4-12.2 .4 5.5 .4 .2 .4 6.5 .4 10.1 .4 5.5 .4-3.9 .4-12.3 .4 7.0 .4 14.8 .4-8.0 .4 10.4 .4-12.7 .4 7.0 .4-1.3 .4-11.3 .4 2.5 .4 14.3 .4-15.2 .4-10.5 .4 27.3 .4-22.7 .4 20.2 .4-2.4 .4-3.8 .4 7.8 .4-20.6 .4 4.0 .4 12.9 .4-3.2 .4 11.4 .4-10.4 .4 7.9 .4 1.1 .4-9.6 .4-4.7 .4-6.3 .4 .1 .4 14.8 .4 1.2 .4-10.5 .4 4.5 .4 1.9 .4-8.9 .4-6.2 .4 9.3 .4 3.4 .4-3.6 .4 17.8 .4-16.1 .4 6.9 .4-24.3 .4 10.3 .4 5.7 .4 3.5 .4 19.6 .4-21.8 .4-8.0 .4 18.8 .4-7.6 .4-11.9 .4 30.1 .4-19.2 .4-4.1 .4 11.6 .4 2.5 .4-10.4 .4 18.1 .4-15.7 .4-11.1 .4 11.4 .4-23.9 .4 8.0 .4 9.0 .4-22.3 .4-5.3 .4-19.1 .4 2.5 .4-11.2 .4-15.0 .4-16.4 .4-1.8 .4-9.7 .4-20.7 .4-2.7 .4-.1 .4 .2 .4-28.2 .4-4.4 .4 1.6 .4 0 .4 16.6 .4 5.0 .4 4.8 .4 .4 .4 10.7 .4 19.9 .4 1.1 .4 12.2 .4 13.6 .4 3.8 .4 21.5 .4 9.0 .4-1.3 .4 7.3 .4 .6 .4 21.7 .4-16.6 .4 23.0 .4-1.5 .4 4.4 .4-7.4 .4-1.7 .4 2.5 .4 4.4 .4 10.8 .4-5.5 .4-1.0 .4 1.8 .4-11.8 .4 2.9 .4 .3 .4-2.9 .4 5.8 .4-2.9 .4 .4 .4-8.6 .4-.2 .4-.2 .4-5.5 .4 13.2 .4-6.6 .4-3.9 .4 4.4 .4-4.0 .4-8.8 .4-1.6 .4 .8 .4 6.8 .4 4.2 .4-5.2 .4 10.4 .4-4.3 .4-6.6 .4 10.2 .4-.3 .4-3.3 .4-4.9 .4 4.4 .4 1.0 .4-1.6 .4 12.1 .4-5.0 .4-5.2 .4 4.5 .4 .2 .4-1.5 .4-1.4 .4-3.6 .4 3.6 .4-6.2 .4-5.8 .4 9.6 .4-8.0 .4 6.1 .4 6.2 .4-3.7 .4 3.8 .4-9.2 .4 9.9 .4-13.4 .4 5.3 .4 15.0 .4-13.9 .4-4.2 .4 13.6 .4-11.1 .4 15.0 .4-9.2 .4 11.4 .4-11.2 .4 13.5 .4 4.3 .4-16.6 .4-10.1 .4 17.2 .4-8.8 .4 3.6 .4 .3 .4-4.6 .4-4.0 .4 15.9 .4-10.1 .4 1.3 .4 9.8 .4-15.1 .4 11.0 .4 6.4 .4-14.1 .4 9.3 .4 .9 .4-9.4 .4 5.6 .4 1.1 .4-5.0 .4 1.3 .4 2.6 .4 14.2 .4 .8 .4-14.0 .4 11.8 .4-8.6 .4 6.9 .4-5.1 .4 7.5 .4-16.2 .4 17.1 .4-3.1 .4 .2 .4-6.8 .4 12.6 .4-6.2 .4 0 .4-3.4 .4-1.0 .4 4.7 .4-3.8 .4 2.9 .4-3.8 .4 3.3 .4 3.8 .4-6.3 .4-3.5 .4-10.7 .4 17.4 .4-2.5 .4 21.0 .4-6.6 .4-1.9 .4-2.0 .4-6.1 .4-11.5 .4 12.5 .4-4.4 .4 6.1 .4 11.8 .4 .5 .4-14.9 .4 4.2 .4 5.4 .4-12.2 .4 13.2 .4-16.5 .4-1.3 .4 11.0 .4 1.5 .4-10.7 .4 10.2 .4-11.6 .4 12.5 .4-10.4 .4 2.6 .4 3.9 .4 1.5 .4-4.5 .4 9.2 .4-7.9 .4 3.2 .4-6.7 .4 10.4 .4-16.1 .4 10.5 .4 5.3 .4-12.6 .4 .6 .4 12.4 .4 4.8 .4-7.4 .4 14.3 .4-13.1 .4-11.5 .4 6.0 .4 0 .4 0 .4 2.9 .4-6.9 .4-.7 .4 7.1 .4-8.2 .4-10.5 .4 10.4 .4 3.7 .4-11.4 .4 10.9 .4 2.8 .4-7.8 .4 8.1 .4-2.5 .4-5.7 .4 2.2 .4 4.4 .4-.8 .4 2.6 .4-7.3 .4 11.8 .4-2.2 .4-12.5 .4 14.9 .4-9.4 .4 5.9 .4 7.8 .4 6.4 .4-6.1 .4-.5 .4-2.2 .4 4.5 .4 .5 .4-10.8 .4 11.6 .4-14.0 .4 7.9 .4 1.6 .4-1.7 .4-12.1 .4 2.0 .4 13.9 .4-9.6 .4-1.4 .4 1.1 .4 1.2 .4 6.8 .4-11.8 .4 8.4 .4-4.8 .4 2.5 .4 1.6 .4-9.2 .4 .8 .4 3.7 .4 1.2 .4-1.9 .4-7.2 .4 4.6 .4-1.4 .4 3.0 .4 0 .4-5.7 .4 12.0 .4-17.0 .4 13.4 .4-1.8 .4-10.8 .4 6.6 .4 3.2 .4 4.1 .4 4.8 .4-10.5 .4-6.1 .4 11.9 .4-11.0 .4 12.5 .4-1.1 .4-5.4 .4 2.0 .4-7.5 .4 8.2 .4 2.1 .4 4.6 .4-3.9 .4-.7 .4 2.4 .4-9.8 .4 6.6 .4 6.8 .4-24.8 .4 19.2 .4 2.9 .4-13.7 .4 .6 .4 15.8 .4 1.6 .4-2.6 .4-30.5 .4 25.9 .4 4.0 .4-5.0 .4-7.1 .4 13.9 .4-3.4 .4 5.6 .4-20.1 .4 1.6 .4 2.1 .4 6.6 .4-4.2 .4 13.8 .4-13.0 .4 14.7 .4-5.8 .4-4.9 .4-1.0 .4-6.4 .4 .4 .4 1.1 .4 7.8 .4-9.5 .4 2.9 .4-6.4 .4 10.9 .4 8.4 .4-11.1 .4-12.4 .4 9.2 .4 3.8 .4-5.8 .4 3.2 .4 .1 .4 5.2 .4-3.0 .4-2.1 .4 4.6 .4 4.6 .4-7.1 .4-5.4 .4 3.1 .4-.7 .4 .3 .4-11.4 .4 14.1 .4-3.4 .4-26.3 .4 32.8 .4-1.6 .4-4.6 .4-1.9 .4 8.4 .4 .1 .4 2.4 .4 7.0 .4-10.9 .4 7.0 .4 4.5 .4-7.1 .4 7.4 .4-3.1 .4-6.7 .4 8.4 .4-11.2 .4 14.3 .4-8.7 .4-.4 .4-3.9 .4 3.3 .4 3.8 .4-11.6 .4 13.9 .4-3.0 .4 8.7 .4-3.9 .4 1.7 .4-2.5 .4 3.9 .4-13.5 .4 16.0 .4-6.1 .4-2.4 .4-.6 .4 2.4 .4 1.4 .4-2.7 .4 12.9 .4-8.0 .4 7.4 .4-9.9 .4 8.9 .4 .6 .4-7.7 .4-6.7 .4 3.8 .4-.9 .4-4.2 .4 11.3 .4 4.8 .4-10.6 .4-3.2 .4-9.5 .4-6.1 .4 19.1 .4-24.4 .4 4.5 .4 4.4 .4 3.6 .4-13.1 .4 9.9 .4 4.7 .4-5.1 .4 7.4 .4-10.7 .4 3.7 .4-1.4 .4-.2 .4 8.7 .4-12.5 .4 15.0 .4-8.6 .4 13.1 .4-13.4 .4 8.2 .4-3.5 .4 3.7 .4 8.1 .4-4.4 .4-4.4 .4-3.8 .4 14.8 .4 6.6 .4-8.4 .4-5.7 .4 3.0 .4-1.0 .4-9.9 .4 0 .4 1.8 .4 10.1 .4-5.0 .4 2.2 .4 6.0 .4-14.4 .4 3.7 .4 1.4 .4-11.8 .4 5.9 .4 .8 .4-3.3 .4 3.4 .4 11.3 .4-3.9 .4-7.1 .4 7.9 .4-6.2 .4-2.8 .4-5.0 .4 .9 .4 1.1 .4 4.5 .4-7.3 .4-.2 .4 4.3 .4-7.8 .4 3.7 .4 4.6 .4-12.5 .4 6.7 .4-4.1 .4 11.1 .4-7.2 .4 3.8 .4 1.5 .4 5.3 .4-21.2 .4 13.5 .4-1.4 .4-5.8 .4 8.2 .4-2.8 .4 12.3 .4-6.6 .4 2.1 .4-3.7 .4 3.3 .4 5.7 .4 2.3 .4-8.0 .4-8.0 .4 .5 .4-.3 .4 13.2 .4 3.7 .4-9.9 .4-.9 .4 1.4 .4-6.9 .4 4.1 .4 4.7 .4-2.7 .4-3.3 .4 .8 .4 2.5 .4-11.5 .4 12.5 .4-.9 .4 7.0 .4-2.5 .4-6.0 .4-1.3 .4 1.1 .4-1.0 .4 1.5 .4 11.4 .4 7.5 .4-29.3 .4 8.3 .4 3.6 .4 8.9 .4-.9 .4-14.6 .4 50.7 .4-41.6 .4-7.8 .4 3.2 .4-2.9 .4 4.1 .4-13.6 .4 16.4 .4 1.9 .4-10.6 .4-7.9 .4 9.8 .4-6.0 .4 10.8 .4 3.7 .4-12.9 .4-1.8 .4 .2 .4 12.2 .4 3.6 .4-.8 .4-5.4 .4-2.5 .4 .4 .4 10.2 .4-8.0 .4-.1 .4-3.0 .4-1.7 .4 1.4 .4-6.3 .4 1.9 .4-.1 .4 2.3 .4-7.3 .4 1.4 .4 11.9 .4-15.3 .4 3.8 .4-6.9 .4 4.4 .4-.8 .4-1.0 .4-.1 .4 1.3 .4 7.8 .4-18.3 .4 18.1 .4-5.7 .4-6.1 .4 1.7 .4-3.1 .4-2.3 .4-1.6 .4 5.0 .4-13.1 .4 22.9 .4-6.7 .4 4.8 .4 1.0 .4-7.1 .4-9.4 .4 10.5 .4-.6 .4-7.1 .4-.7 .4-6.8 .4 5.9 .4 3.9 .4 3.5 .4-4.8 .4 1.4 .4 7.4 .4-7.9 .4 1.7 .4 3.4 .4 4.4 .4-10.1 .4 5.3 .4-2.3 .4 10.2 .4 3.0 .4-3.5 .4-2.5 .4 5.0 .4 1.9 .4-6.8 .4 3.7 .4 24.0 .4-17.3 .4 7.1 .4-13.3 .4 8.9 .4-5.9 .4-5.5 .4 3.2 .4 4.7 .4-.7 .4-3.0 .4-2.9 .4-2.5 .4 6.2 .4 8.0 .4-14.7 .4 5.9 .4-1.1 .4 1.2 .4 6.2 .4-2.4 .4-3.2 .4-3.1 .4 6.5 .4 17.0 .4-15.8 .4-3.2 .4-2.9 .4 3.3 .4-10.4 .4 4.7 .4 .5 .4 3.6 .4 11.7 .4-11.5 .4 1.2 .4 7.5 .4-7.0 .4 1.0 .4 4.5 .4-2.1 .4 1.7 .4-1.5 .4 3.3 .4-5.6 .4 14.1 .4-8.1 .4 7.8 .4-5.2 .4-7.2 .4 1.3 .4 .3 .4-.3 .4-7.5 .4 15.1 .4-10.8 .4 11.6 .4-6.5 .4-3.2 .4 6.3 .4-5.8 .4-1.8 .4 11.6 .4-7.8 .4 2.8 .4 8.4 .4-9.0 .4 2.7 .4-12.6 .4 14.7 .4-11.8 .4 14.2 .4-13.3 .4 9.4 .4 .7 .4-1.1 .4-.1 .4-5.0 .4-.7 .4 9.7 .4 5.9 .4 7.4 .4-13.3 .4-6.6 .4-1.3 .4-1.4 .4 2.3 .4 0 .4-2.7 .4-3.6 .4 9.8 .4-14.8 .4 12.8 .4-7.4 .4 3.4 .4-3.9 .4 2.3 .4 .9 .4-4.6 .4 5.3 .4-18.8 .4 17.5 .4 2.3 .4-2.4 .4 2.9 .4 7.3 .4-11.3 .4-3.1 .4 9.7 .4-7.9 .4 7.7 .4-5.5 .4-2.3 .4-1.5 .4-.2 .4 7.5 .4-8.9 .4 7.6 .4-3.4 .4-5.7 .4 2.6 .4 9.0 .4-10.9 .4 9.4 .4 .9 .4 1.8 .4-10.2 .4 6.4 .4 13.8 .4-15.0 .4-8.2 .4 7.1 .4 6.5 .4-4.1 .4 .6 .4-3.2 .4 3.8 .4 7.7 .4-11.3 .4-1.2 .4 9.8 .4-5.0 .4-3.9 .4 .9 .4-3.1 .4-2.3 .4 1.1 .4 2.9 .4 6.6 .4-10.3 .4-4.1 .4-.9 .4 11.7 .4 1.0 .4-7.8 .4-.5 .4 4.3 .4-3.0 .4 9.0 .4-7.8 .4-7.8 .4 11.7 .4-.1 .4 1.9 .4 9.0 .4-6.3 .4-.9 .4-6.4 .4 2.4 .4-4.2 .4 .4 .4 9.1 .4 .8 .4-6.8 .4 1.7 .4 4.4 .4 5.2 .4-9.1 .4 4.4 .4-16.4 .4 10.8 .4 .4 .4 1.5 .4-12.0 .4 15.0 .4-3.0 .4 .3 .4-2.7 .4 .9 .4-6.1 .4 14.5 .4-8.6 .4-6.8 .4 11.5 .4-2.4 .4 4.5 .4 9.2 .4-33.9 .4 14.6 .4 8.6 .4 7.1 .4-9.2 .4 3.3 .4-3.9 .4 .1 .4 3.3 .4-4.0 .4 12.7 .4-15.6 .4 4.8 .4-3.7 .4-.2 .4 8.9 .4-3.4 .4 4.0 .4 4.4 .4-11.6 .4-4.5 .4 5.3 .4-10.3 .4 6.0 .4-5.1 .4 5.3 .4 4.1 .4-13.4 .4-.7 .4 3.4 .4 1.5 .4-.5 .4 .4 .4 2.1 .4 7.7 .4-15.0 .4 12.3 .4-5.4 .4 .3 .4 .7 .4 11.5 .4-14.1 .4 3.2 .4-.8 .4-3.2 .4 10.3 .4 13.2 .4-19.9 .4-4.3 .4 2.8 .4 11.4 .4-4.1 .4-3.3 .4 9.0 .4-9.3 .4-1.8 .4-12.3 .4 11.0 .4-12.0 .4 7.4 .4 9.6 .4-22.5 .4 16.5 .4-5.6 .4-7.1 .4 11.1 .4 5.3 .4-11.1 .4 4.8 .4 8.3 .4 1.0 .4-3.4 .4-7.0 .4 8.0 .4-4.4 .4-4.2 .4 1.4 .4-.6 .4-.7 .4 15.6 .4-16.9 .4 5.0 .4 3.2 .4 8.2 .4 3.8 .4-2.7 .4-5.9 .4 5.1 .4-2.3 .4-.4 .4-7.9 .4 5.4 .4 .4 .4-9.9 .4 8.4 .4-3.6 .4 9.7 .4-10.2 .4-.6 .4-.5 .4 2.0 .4 3.2 .4 11.0 .4-12.8 .4-8.5 .4 .2 .4 11.8 .4-11.0 .4 6.3 .4 5.9 .4-7.6 .4 5.4 .4-11.4 .4 1.8 .4 10.0 .4 5.0 .4-6.0 .4 4.6 .4-.9 .4-3.4 .4-6.3 .4 9.5 .4-8.8 .4 2.5 .4 10.0 .4 8.6 .4-11.5 .4 2.8 .4-8.7 .4 3.8 .4 4.1 .4-4.6 .4 14.9 .4-9.5 .4 1.2 .4-10.2 .4 6.2 .4 19.9 .4-24.0 .4 13.8 .4-9.3 .4 5.2 .4-4.9 .4-3.2 .4 4.8 .4 4.9 .4-12.9 .4 4.3 .4 3.7 .4-3.5 .4 7.8 .4-13.9 .4 9.2 .4-1.7 .4-5.4 .4 10.6 .4 2.2 .4-7.5 .4 0 .4-7.0 .4 6.0 .4 7.8 .4-9.3 .4-4.3 .4-6.4 .4 5.2 .4 7.3 .4-12.2 .4 10.1 .4-6.3 .4 10.5 .4-11.8 .4 6.9 .4-8.5 .4-3.4 .4 2.4 .4 13.1 .4 .7 .4 3.0 .4-8.6 .4 2.1 .4 3.0 .4-1.0 .4-1.6 .4-.3 .4-5.2 .4 9.1 .4-2.2 .4 10.7 .4-1.7 .4-1.4 .4 3.4 .4-10.2 .4-6.6 .4 8.1 .4 1.5 .4-3.1 .4-4.9 .4 6.1 .4-5.3 .4 2.3 .4-1.4 .4-1.6 .4 3.9 .4-3.3 .4-10.1 .4 8.4 .4-4.3 .4 5.2 .4 3.2 .4-.4 .4 3.8 .4-3.8 .4 4.0 .4-.2 .4-9.6 .4 7.9 .4-6.7 .4 4.9 .4-2.9 .4 2.6 .4-1.0 .4-16.4 .4 8.8 .4-3.4 .4 5.3 .4-12.3 .4 19.8 .4-2.5 .4-9.0 .4-.9 .4 10.6 .4-2.7 .4-.5 .4 15.9 .4-9.7 .4 3.9 .4-6.3 .4 10.9 .4-3.4 .4-2.0 .4 4.4 .4-8.2 .4 3.1 .4-3.1 .4 4.9 .4-2.8 .4-7.9 .4 1.1 .4 6.0 .4-3.9 .4-1.2 .4 1.5 .4-7.8 .4 10.6 .4-5.1 .4-.8 .4 4.8 .4 6.3 .4-13.7 .4 1.0 .4-.2 .4 2.5 .4 .1 .4 5.4 .4-10.4 .4 13.3 .4-11.7 .4 7.0 .4-6.0 .4-8.7 .4 4.3 .4 .4 .4-5.8 .4 6.0 .4 1.5 .4 1.8 .4-11.7 .4 3.9 .4 1.5 .4 11.6 .4-11.0 .4 9.9 .4-9.5 .4 8.2 .4-17.1 .4 24.7 .4-17.0 .4 2.8 .4 17.6 .4-10.7 .4-10.8 .4 1.8 .4 18.4 .4-7.3 .4 4.9 .4-1.3 .4-.7 .4-14.6 .4 12.9 .4 0 .4-1.0 .4-6.6 .4-1.2 .4 9.8 .4-15.8 .4 17.1 .4-6.5 .4-5.0 .4-7.0 .4 12.4 .4-5.4 .4-6.2 .4 2.1 .4-4.2 .4 2.5 .4 6.4 .4-3.8 .4-1.4 .4 4.8 .4-8.7 .4 20.1 .4-5.6 .4-13.9 .4 6.8 .4 7.9 .4-6.3 .4-4.9 .4 10.8 .4-4.4 .4 3.0 .4 .3 .4-.4 .4-7.6 .4 14.7 .4-10.3 .4-6.6 .4 10.4 .4 1.0 .4-15.9 .4 3.0 .4 .5 .4-2.2 .4 6.7 .4-23.5 .4 24.3 .4-6.5 .4 8.0 .4-6.1 .4-10.7 .4 11.6 .4-3.1 .4 7.1 .4-15.8 .4 11.9 .4 7.5 .4-15.9 .4 8.1 .4-6.8 .4 .8 .4-.9 .4 .4 .4 3.1 .4 3.5 .4 1.2 .4-10.9 .4-3.1 .4 4.0 .4 11.4 .4-5.0 .4-14.3 .4 15.4 .4-4.8 .4 6.7 .4-9.1 .4-1.7 .4 0 .4 .1 .4 4.4 .4 .6 .4-7.6 .4 4.7 .4 .9 .4-12.6 .4 10.7 .4 .4 .4 4.0 .4-9.6 .4 14.0 .4 4.3 .4-3.4 .4-10.1 .4 8.2 .4-13.9 .4 7.6 .4 8.0 .4-8.7 .4-10.5 .4 18.9 .4 3.9 .4-10.2 .4-3.8 .4 2.6 .4 8.3 .4-1.2 .4-2.8 .4-3.9 .4-3.9 .4 12.1 .4-8.8 .4 12.5 .4-3.2 .4 9.0 .4-2.5 .4-12.4 .4 7.0 .4-12.6 .4 8.3 .4-3.1 .4 1.0 .4 7.9 .4-7.7 .4-5.9 .4-12.6 .4 26.1 .4-11.3 .4 .1 .4 4.7 .4-8.6 .4 9.5 .4-2.8 .4-6.8 .4 20.1 .4-14.7 .4 .9 .4 5.8 .4-9.8 .4-1.0 .4 2.0 .4-8.0 .4 17.1 .4-11.5 .4 7.2 .4 6.7 .4-6.6 .4-2.3 .4-7.6 .4 14.5 .4-8.2 .4-.5 .4-14.1 .4 17.7 .4-14.4 .4 19.4 .4-12.8 .4 2.4 .4-2.5 .4 6.7 .4 7.8 .4-2.2 .4-16.7 .4 7.6 .4 6.3 .4-9.7 .4 9.7 .4 2.2 .4 2.0 .4-14.2 .4-6.8 .4 18.8 .4-8.5 .4-5.5 .4-9.6 .4 26.8 .4-15.6 .4-3.0 .4 10.5 .4-14.9 .4 2.5 .4-2.2 .4 5.9 .4-7.2 .4 7.9 .4-6.6 .4 26.5 .4-20.1 .4 6.5 .4-17.9 .4 5.0 .4 4.3 .4 9.1 .4-2.1 .4-13.0 .4 3.9 .4 12.8 .4-5.6 .4 .2 .4 .4 .4 4.4 .4-12.7 .4 3.6 .4 4.2 .4 10.6 .4-4.7 .4-3.9 .4-4.5 .4 9.6 .4 3.0 .4-4.1 .4 3.8 .4 15.3 .4-8.0 .4 3.5 .4-11.9 .4-1.0 .4-6.3 .4 12.5 .4 7.5 .4-23.4 .4 13.9 .4 3.6 .4 1.4 .4 10.8 .4-10.7 .4 2.1 .4-2.8 .4 1.7 .4 1.5 .4 .1 .4 11.6 .4-3.9 .4 1.0 .4 7.5 .4-6.6 .4-.4 .4-.2 .4-2.9 .4 10.3 .4-11.9 .4-9.4 .4 19.6 .4-11.3 .4-5.5 .4 6.9 .4-6.8 .4-5.9 .4 8.2 .4-11.3 .4-1.9 .4 9.4 .4-9.6 .4-10.0 .4 6.6 .4-4.5 .4-2.1 .4 3.4 .4-5.8 .4 3.2 .4 8.8 .4-9.9 .4-2.3 .4-.1 .4 8.0 .4-8.7 .4-3.5 .4 7.0 .4-2.3 .4 .5 .4 7.9 .4-3.6 .4 7.2 .4-7.2 .4 9.2 .4 11.6 .4-11.1 .4 .2 .4-2.4 .4 1.4 .4 11.7 .4-4.9 .4-4.6 .4-.4 .4-.6 .4-17.3 .4 9.3 .4 7.9 .4-7.1 .4-3.5 .4 6.7 .4 11.9 .4-12.1 .4-.8 .4-13.5 .4 26.9 .4-21.1 .4 9.5 .4-6.7 .4 8.3 .4-1.9 .4-8.6 .4 5.9 .4-7.9 .4 2.9 .4 1.0 .4-2.1 .4 2.7 .4-4.8 .4-10.9 .4 13.7 .4 1.4"/>
<g fill="none" stroke-linecap="round" stroke-linejoin="round"><path stroke="#40c040" stroke-width="1.05" stroke-opacity=".92" d="M169.3 735.3c0 .9 1 3.2 .5 5.3-.5 2.2-2.4 5-3.8 7.5-1.3 2.5-2.6 5.2-4.2 7.5-1.6 2.3-4.3 4.6-5.4 6.4-1.1 1.8-1.6 2.9-1.1 4.3 .6 1.4 2.7 3.2 4.3 4.3 1.6 1.1 4.3 2.8 5.4 2.1 1-.7 1.2-4.3 1-6.4-.1-2.1-2.5-4.3-2.1-6.4 .4-2.1 3.6-5.4 4.3-6.4M176.7 737.4c.8-1 2.7-5.5 4.3-6.4 1.6-.9 4.7 .2 5.4 1.1 .7 .9 0 3-1.1 4.3-1.1 1.2-4.8 2.1-5.4 3.2-.5 1 .9 2.8 2.2 3.2 1.2 .3 3.2-.2 5.3-1.1 2.2-.9 5.2-3.4 7.5-4.3 2.3-.9 4.3-1.2 6.4-1 2.2 .1 6.1 1 6.5 2.1 .3 1.1-4.3 2.9-4.3 4.3 0 1.4 3.5 3.5 4.3 4.3M217.4 719.3c1.2-.9 5.3-4 7.5-5.4 2.1-1.4 3.9-3.4 5.3-3.2 1.4 .2 3 2.5 3.2 4.3 .2 1.8-.7 4.8-2.1 6.4-1.4 1.6-4.5 3-6.4 3.2-2 .2-4-2.7-5.4-2.1-1.4 .5-3 3.5-3.2 5.3-.2 1.8 .7 4.8 2.1 5.4 1.5 .5 5.4-1.8 6.5-2.2M246.3 709.6c.7 .6 3.7 1.6 4.2 3.2 .6 1.6-1.7 5.7-1 6.5 .7 .7 3.4-.8 5.3-2.2 2-1.4 4.6-4.3 6.4-6.4 1.8-2.1 2.7-5.2 4.3-6.4 1.6-1.3 3.6-1.4 5.4-1.1 1.7 .4 3.7 1.6 5.3 3.2 1.6 1.6 3.4 4.3 4.3 6.4 .9 2.2 1.8 5 1.1 6.5-.8 1.4-4.5 1.7-5.4 2.1M292.2 735.3c.9 .5 4.1 2.1 5.4 3.2 1.2 1.1 2.5 2.3 2.1 3.2-.3 .9-2.6 2-4.2 2.2-1.6 .1-4.5-.9-5.4-1.1M281.6 759.9c-.2 .9-.4 5-1.1 5.3-.7 .4-2.2-2.3-3.2-3.2-1.1-.9-2.7-1.8-3.2-2.1M258 764.2c.9 .3 3.8 1.4 5.4 2.1 1.6 .7 4.1 1.3 4.2 2.1 .2 .9-1.6 2.9-3.2 3.3-1.6 .3-4.4-.2-6.4-1.1-1.9-.9-4.4-3.6-5.3-4.3M235.6 774.9c1 .7 4.2 3.2 6.4 4.2 2.1 1.1 4.6 2.2 6.4 2.2 1.8 0 4.6-2.5 4.3-2.2-.4 .4-4.3 3.8-6.4 4.3-2.2 .6-4.7-1.4-6.5-1-1.7 .3-2.8 2.1-4.2 3.2-1.5 1-4.7 2.3-4.3 3.2 .3 .9 5.2 1.2 6.4 2.1 1.2 .9 2.1 2.5 1.1 3.2-1.1 .7-5.2 1.6-7.5 1.1-2.3-.5-4.5-3.2-6.4-4.3-2-1.1-5-1.2-5.4-2.1-.3-.9 1.6-2.3 3.2-3.2 1.6-.9 5.4-1.8 6.4-2.2M190.6 788.8c-.1 .9-1.4 3.9-1 5.3 .3 1.4 1.8 3.4 3.2 3.2 1.4-.2 5-2.6 5.3-4.3 .4-1.6-3.5-3.9-3.2-5.3 .4-1.4 4.5-2.7 5.4-3.2M213.1 794.1c.5 .7 2 2.9 3.2 4.3 1.3 1.4 2.9 3.4 4.3 4.3 1.4 .9 3.6 .2 4.3 1 .7 .9 .7 3.3 0 4.3-.7 1.1-2.9 2.3-4.3 2.2-1.4-.2-2.7-2.7-4.3-3.2-1.6-.6-4.4 0-5.3 0M188.5 807c.2-.6 .4-2.5 1.1-3.3 .7-.7 2.6-.8 3.2-1M169.3 801.6c.7 .5 2.6 3 4.2 3.2 1.6 .2 4-1.4 5.4-2.1 1.4-.7 3-1.5 3.2-2.2 .2-.7-1.8-1.7-2.2-2.1M218.4 740.6c-.3-.8-2.3-3.7-2.1-5.3 .2-1.6 1.8-3.9 3.2-4.3 1.4-.3 4.5 1.8 5.4 2.2M244.1 768.4c1.1 .8 4.3 3.3 6.4 4.3 2.2 1.1 4.3 2.5 6.5 2.2 2.1-.4 4.8-3.2 6.4-4.3 1.6-1.1 2.6-1.8 3.2-2.2M250.5 742.8c-.7 .7-3.7 2.5-4.2 4.3-.6 1.7 0 4.6 1 6.4 1.1 1.8 4.5 3.5 5.4 4.3M267.6 732.1c.9 .9 4.1 3.2 5.4 5.3 1.2 2.2 2.5 5.4 2.1 7.5-.3 2.2-2.8 3.9-4.2 5.4-1.5 1.4-3.6 2.6-4.3 3.2M224.9 783.4c.3 .9 1 3.9 2.1 5.4 1.1 1.4 3.6 2.6 4.3 3.2M239.8 764.2c-.7 1-3.9 4.2-4.2 6.4-.4 2.1 1.7 5.3 2.1 6.4M214.2 774.9c1.8-.9 7.1-3.6 10.7-5.4 3.5-1.8 7.5-4.8 10.7-5.3 3.2-.6 7.1 1.8 8.5 2.1M182.1 748.1c-.7-.5-3.9-1.9-4.3-3.2-.3-1.2 .9-3.9 2.1-4.3 1.3-.3 4.5 1.8 5.4 2.2M201.3 774.9c-.7 .7-2.8 3.2-4.2 4.2-1.5 1.1-4 1.1-4.3 2.2-.4 1.1 1.8 3.5 2.1 4.3M273 764.2c-.9-.4-3.7-1.5-5.4-2.2-1.6-.7-2.8-1-4.2-2.1-1.5-1.1-3.6-3.6-4.3-4.3M209.9 732.1c.7-.4 3.4-2.7 4.3-2.2 .9 .6 1.4 4 1 5.4-.3 1.4-2.6 2.7-3.2 3.2M246.3 768.4c-.8 .8-4 2.9-4.3 4.3-.4 1.5 .7 3.6 2.1 4.3 1.4 .7 5.4 0 6.4 0M219.5 659.8c.9 0 3.4 .1 5.4 0 1.9-.1 4.6 .1 6.4-.5 1.8-.7 4.3-2 4.3-3.3 0-1.2-2.8-3.3-4.3-4.2-1.5-.9-4.5-.4-4.8-1.1-.4-.7 1.3-2.6 2.6-3.2 1.4-.6 3.8-1.1 5.4-.5 1.6 .5 3.2 2.4 4.3 3.7 1 1.3 1 3.4 2.1 4.3 1.1 .9 3.6 .9 4.3 1M257 657.1c.7-.1 2.9-1.1 4.2-.5 1.4 .5 3.2 2 3.8 3.7 .5 1.7-.5 5.4-.6 6.4M235.6 672.1c.7-.4 2.5-2 4.2-2.2 1.8-.1 4.9 .6 6.5 1.1 1.6 .6 3.5 1.3 3.2 2.2-.4 .8-3.4 2.8-5.4 3.2-1.9 .3-5-.4-6.4-1.1-1.4-.7-1.8-2.7-2.1-3.2M246.3 676.4c.1 1 0 4.8 1 6.4 1.1 1.6 3.8 1.9 5.4 3.2 1.6 1.2 2.8 3 4.3 4.3 1.4 1.2 3.5 2.6 4.2 3.2M249.5 675.3c1-.2 4.4-1.3 6.4-1.1 1.9 .2 4.4 1.8 5.3 2.2M288 708.4c-.6 .8-2 3.3-3.2 4.3-1.3 1.1-3.7 .7-4.3 2.2-.6 1.4 .9 4.6 .5 6.4-.3 1.8-2.2 3.5-2.7 4.3M260.2 701c-.6 .9-2 3.7-3.2 5.3-1.3 1.6-2.5 3.8-4.3 4.3-1.8 .5-6.1-1.8-6.4-1.1-.4 .7 3.2 3.4 4.2 5.4 1.1 1.9 1.8 5.3 2.2 6.4M218.4 714.9c1.1-.6 4.3-2.5 6.5-3.2 2.1-.8 5-1.6 6.4-1.1 1.4 .5 2.3 2.5 2.1 4.3-.2 1.7-2.7 5.3-3.2 6.4M172.5 657.1c.3-.5 .9-2.6 2.1-3.2 1.2-.6 4-1.1 5.3-.5 1.4 .5 2.7 2.5 2.7 3.7 0 1.3-1.3 3.2-2.7 3.8-1.3 .5-4.1 0-5.3-.6-1.2-.6-1.8-2.7-2.1-3.2M162.8 686c.4 1.2 2.2 5.2 2.2 7.5 0 2.3-2.5 4.8-2.2 6.4 .4 1.6 3.6 2.7 4.3 3.2M177.8 704.2c.9 .3 3.8 1.4 5.4 2.1 1.6 .7 3.3 1.3 4.2 2.1 .9 .9 .9 2.3 1.1 2.7M174.6 672.1c.9 .7 3.4 3 5.3 4.3 2 1.2 4.7 3 6.5 3.2 1.7 .2 4.1-1.3 4.2-2.2 .2-.9-2.6-2.6-3.2-3.2M176.7 684.9c.9-.3 3.1-1.6 5.4-2.1 2.3-.6 5.9-1.1 8.5-1.1 2.7 0 5 1.3 7.5 1.1 2.5-.2 6.3-1.8 7.5-2.2M201.3 709.5c.4 .6 1.1 2.7 2.2 3.2 1 .6 3.5 .6 4.3 0 .8-.5 .4-2.6 .5-3.2M212 707.4c.4 .7 1.1 3.7 2.2 4.3 1 .5 3.5-.9 4.2-1.1M219.5 673.2c.7 .5 2.9 1.9 4.3 3.2 1.4 1.2 3 2.6 4.3 4.2 1.2 1.6 2.5 3.6 3.2 5.4 .7 1.8 1.4 3.9 1.1 5.3-.4 1.5-2 2.9-3.3 3.2-1.2 .4-3.2-1.4-4.2-1-1.1 .3-1.8 2.6-2.2 3.2M205.6 663.5c-.3-.5-2.1-2.3-2.1-3.2 0-.9 1.8-1.8 2.1-2.1M219.5 659.3c.9 0 3.4 .7 5.4 .5 1.9-.2 5.3-1.4 6.4-1.6M198.1 684.9c.6 .4 1.3 2 3.2 2.2 2 .1 7.2-.9 8.6-1.1"/><path stroke="#2dc02d" stroke-width="3.8" d="M192.8 802.7c.9 .5 3.5 2.3 5.3 3.2 1.8 .9 3.4 2.1 5.4 2.1 1.9 0 5.3-1.8 6.4-2.1"/><path stroke="#2dc02d" stroke-width="3.5" d="M166 773.8c.6-.5 1.8-2.3 3.3-3.2 1.4-.9 3.9-2.3 5.3-2.2 1.4 .2 2.3 1.8 3.2 3.3 .9 1.4 2.3 3.5 2.1 5.3-.1 1.8-1.7 4.1-3.2 5.4-1.4 1.2-4.2 1-5.3 2.1-1.1 1.1-1.8 3.2-1.1 4.3 .7 1 4.3 .9 5.4 2.1 1 1.3 1.8 4.1 1 5.4-.7 1.2-4.1 1.2-5.3 2.1-1.3 .9-1.8 2.7-2.1 3.2M242 664.6c.7-.2 2.8-1.2 4.3-1.1 1.4 .2 2.6 1.5 4.2 2.2 1.6 .7 3.2 1 5.4 2.1 2.1 1.1 6.2 3.6 7.5 4.3M261.2 694.5c1.1-.1 4.5-1.2 6.4-1 2 .2 5 1.3 5.4 2.1 .4 .8-3.7 2-3.2 2.7 .5 .7 4.8 .6 6.4 1.6 1.6 1 2 3.9 3.2 4.3 1.3 .3 3-2.2 4.3-2.2 1.2 0 2.8 1.1 3.2 2.2 .4 1-.4 3.5-.5 4.2M200.3 657.1c.3-.7 1-3.5 2.1-4.3 1.1-.8 3.1-1.4 4.3-.5 1.1 .9 2.2 4.9 2.7 5.9M209.4 658.2c.4-.8 1.5-3.9 2.6-4.8 1.2-.9 3.1-1.4 4.3-.6 1.3 .8 2.7 4.5 3.2 5.4"/><path stroke="#2dc02d" stroke-width="3.2" d="M194.9 794.1c1.1 .4 4.3 2 6.4 2.2 2.2 .1 4.7-.8 6.5-1.1 1.7-.4 3.5-.9 4.2-1.1"/><path stroke="#2dc02d" stroke-width="3" d="M288 740.6c.5 .4 3 1.3 3.2 2.2 .2 .9-1.8 2.7-2.2 3.2M218.4 738.5c1.1 1.6 4.3 6.1 6.5 9.6 2.1 3.6 4.6 8.4 6.4 11.8 1.8 3.4 3.5 7.1 4.3 8.5M224.9 736.4c1.2 1.6 5.1 6.2 7.5 9.6 2.3 3.4 4.6 7.7 6.4 10.7 1.8 3 3.5 6.2 4.2 7.5M214.2 742.8c.7 1.8 2.8 6.8 4.2 10.7 1.5 3.9 3.3 8.2 4.3 12.8 1.1 4.6 1.8 12.5 2.2 15M200.3 785.6c.9 .1 3.9 1.2 5.3 1 1.4-.1 2.7-1.8 3.2-2.1M245.2 656.6c.9 .1 3.7-.1 5.3 .5 1.6 .6 3.1 2 4.3 3.2 1.3 1.3 2.7 3.6 3.2 4.3M257 665.7c1 1.2 4.4 5 6.4 7.5 1.9 2.5 3.7 4.6 5.3 7.4 1.6 2.9 3.2 7.2 4.3 9.7 1.1 2.5 1.8 4.4 2.1 5.3M174.6 675.3c1.1-.9 4.3-4.2 6.4-5.4 2.2-1.1 4.1-1.7 6.4-1.6 2.4 .2 5.2 1.7 7.5 2.7 2.3 1 5.4 2.7 6.4 3.2"/><path stroke="#2dc02d" stroke-width="2.8" d="M231.3 737.4c1.2 1.6 5.2 6.6 7.5 9.7 2.3 3 4.4 5.8 6.4 8.5 1.9 2.7 4.4 6.3 5.3 7.5"/><path stroke="#2dc02d" stroke-width="2.5" d="M232.4 726.7c1.4-.8 5.3-3.7 8.5-4.8 3.2-1 7.1-1.4 10.7-1.6 3.6-.2 7.5 .1 10.7 .6 3.2 .4 7.1 1.7 8.6 2.1M249.5 740.6c.9-1.2 3.9-5.3 5.3-7.4 1.4-2.2 2.7-4.5 3.2-5.4M282.6 757.8c-.1 .5-.4 2.6-.5 3.2M209.9 750.3c.7 1.9 2.8 7.6 4.3 11.7 1.4 4.1 3.2 9.1 4.2 12.9 1.1 3.7 1.8 8 2.2 9.6M185.3 750.3c1.2 .9 5.5 3 7.5 5.3 1.9 2.3 3.5 7.1 4.3 8.6M192.8 750.3c1.2 1.2 5.3 4.8 7.5 7.5 2.1 2.6 4.4 7.1 5.3 8.5M268.7 680.6c1.6 .9 6.4 3.4 9.6 5.4 3.3 2 7 4.5 9.7 6.4 2.6 1.9 5.3 4 6.4 4.8M173 661.4c.2 1.2 1.4 4.6 1.1 7.5-.4 2.8-2.4 7.1-3.2 9.6-.8 2.5-1.4 4.5-1.6 5.4M209.9 661.4c.7 .2 3 .2 4.3 1.1 1.2 .9 2.3 2.5 3.2 4.2 .9 1.8 1.8 5.4 2.1 6.5M173 693.5c.4-.7 1.8-3.2 2.7-4.3 .9-1.1 2.2-1.8 2.6-2.1M218.4 705.2c0 .6-.4 2.7-.5 3.2"/><path stroke="#2dc02d" stroke-width="2.2" d="M237.7 740.6c1.1 1.5 4.1 5.4 6.4 8.6 2.3 3.2 5.2 7.7 7.5 10.7 2.3 3 5.4 6.2 6.4 7.5"/><path stroke="#2dc02d" stroke-width="2" d="M246.3 737.4c1.6-.3 6.7-1.2 9.6-2.1 2.8-.9 6.2-2.7 7.5-3.2M199.2 748.1c1.1 .9 4.6 3.4 6.4 5.4 1.8 1.9 3.6 5.3 4.3 6.4M176.7 756.7c1.1-.6 4.7-2.2 6.5-3.2 1.7-1.1 3.5-2.7 4.2-3.2M269.8 682.8c1.1 1.1 3.9 4.3 6.4 6.4 2.5 2.1 5.5 5 8.6 6.4 3 1.4 8 1.8 9.6 2.2M176.7 678.5c1.5-.7 5.6-3.7 8.6-4.3 3-.5 6.2 .2 9.6 1.1 3.4 .9 7.5 3.2 10.7 4.3 3.2 1 7.1 1.8 8.6 2.1M182.1 690.3c.5-.2 2.3-1.5 3.2-1.1 .9 .4 1.8 2.7 2.1 3.2M191.7 690.3c.9 .9 3.8 3 5.4 5.3 1.6 2.3 3.3 6.3 4.2 8.6 .9 2.3 .9 4.4 1.1 5.3M171.4 703.1c.9-.2 4.4-.9 5.3-1.1"/><path stroke="#2dc02d" stroke-width="1.8" d="M258 742.8c.9-1.3 3.6-5.2 5.4-7.5 1.8-2.3 4.4-5.4 5.3-6.4M197.1 755.6c.7 1.1 3.2 4.3 4.2 6.4 1.1 2.2 1.8 5.4 2.2 6.4"/><path stroke="#2dc02d" stroke-width="1.5" d="M242 731c1.8-.7 7.1-3.2 10.7-4.3 3.5-1 7.6-1.9 10.7-2.1 3-.2 6.2 .9 7.5 1.1M265.5 751.3c.4 .7 1.1 3.4 2.1 4.3 1.1 .9 3.6 .9 4.3 1.1M223.8 726.7c.7 .9 3.6 4.5 4.3 5.4M212 746c.7 1.6 3.1 6.6 4.3 9.6 1.3 3 2.7 7.1 3.2 8.6M221.7 742.8c.8 1.4 3.5 5.3 5.3 8.5 1.8 3.2 4.5 8.9 5.4 10.7M228.1 741.7c1 1.4 4.3 5.5 6.4 8.6 2.1 3 5.3 8 6.4 9.6M188.5 757.8c.7 1 3.6 5.3 4.3 6.4M209.9 672.1c1.4 .9 6.1 3.6 8.5 5.3 2.5 1.8 5.4 4.5 6.5 5.4"/><path stroke="#11331a" stroke-width="3.5" d="M278.3 744.9c-.1 1.1-.1 4.3-1 6.4-.9 2.2-3.6 5.4-4.3 6.5M213.1 681.7c.7 1.3 3.3 4.8 4.3 7.5 1 2.7 1.4 5.9 1.6 8.6 .2 2.6-.5 6.2-.6 7.4"/><path stroke="#11331a" stroke-width="3" d="M168.2 662.7c-.4 .5-1.4 1.4-2.2 3-.7 1.5-1.8 3.9-2.1 6.4-.3 2.5 .4 6.2 .5 8.5 .2 2.4 .5 4.5 .6 5.4M185.3 665.1c1.2 .1 5.2-.1 7.5 .6 2.3 .6 4.4 1.8 6.4 3.2 2 1.4 4.5 4.4 5.3 5.3M205.6 687.1c.7 1 3.3 4.1 4.3 6.4 1 2.3 1.2 5.3 1.6 7.5 .4 2.1 .4 4.4 .5 5.3"/><path stroke="#11331a" stroke-width="2.5" d="M285.8 744.9c-.1 1.1-.5 4.3-1 6.4-.6 2.2-1.8 5.4-2.2 6.5M242 665.7c.3 .9 1.2 3.9 2.1 5.3 .9 1.4 2.7 2.7 3.2 3.2M218.4 656c.3 .6 1.4 2.7 1.7 3.3M167.1 704.2c.9 .1 3.6 .7 5.4 .5 1.7-.2 4.4-1.3 5.3-1.6"/><path stroke="#11331a" stroke-width="2" d="M205.6 755.6c.9 2.2 3.9 9.3 5.4 12.8 1.4 3.6 2.6 7.2 3.2 8.6M182.1 755.6c.9 1.4 3.9 5.7 5.3 8.6 1.5 2.8 2.7 7.1 3.2 8.5M207.8 768.4c.5 1.1 2.8 4.1 3.2 6.5 .3 2.3-.2 5.3-1.1 7.5-.9 2.1-3.6 4.4-4.3 5.3M175.7 768.4c.5 .9 2.6 4.5 3.2 5.4M252.7 657.6c.7 .7 3.4 2.5 4.3 3.8 .8 1.3 .8 3.6 1 4.3M267.6 696.7c.8 .5 3.6 2.7 4.3 3.2M277.3 703.1c.5 .4 2.6 1.8 3.2 2.1M285.8 705.2c.2 .7 .9 3.2 1.1 3.8M201.3 653.9c.4-.3 1.8-1.3 2.2-1.6M205.6 666.7c.5-.1 2.2-1.9 3.2-1 1.1 .9 2.7 5.3 3.2 6.4M197.1 689.2c1 1.1 4.8 3.9 6.4 6.4 1.6 2.5 2.5 6.3 3.2 8.6 .7 2.3 .9 4.4 1.1 5.3M224.9 682.8c.3 .5 1.8 2.3 2.1 3.2 .3 .9-.4 1.8-.5 2.1"/><path stroke="#11331a" stroke-width="1.8" d="M205.6 675.3c1.4 .5 5.7 2 8.6 3.2 2.8 1.3 6.2 3 8.5 4.3 2.3 1.2 4.5 2.7 5.4 3.2"/><path stroke="#11331a" stroke-width="1.5" d="M194.9 759.9c.4 1.4 1.8 7.1 2.2 8.5M171.4 785.6c.5 .5 2.7 2.6 3.2 3.2M168.7 796.3c.2 .7 .9 3.5 1.1 4.2M227 734.2c.4-1 1.7-4.6 2.1-6.4 .5-1.8 .5-3.6 .6-4.3M267.6 678.5c-.3-1.1-1.6-4.3-2.1-6.4-.4-2.2-.4-5.4-.5-6.4M194.9 692.4c.9 1.6 4.5 8 5.4 9.6"/><path stroke="#11331a" stroke-width="1.3" d="M270.9 723c1.2 .4 5.1 1.3 7.4 2.7 2.4 1.3 4.9 3.4 6.5 5.3 1.5 2 2.2 5.4 2.6 6.4"/><path stroke="#11331a" stroke-width="1.2" d="M257 731c1.4-.5 5.8-2.5 8.5-3.2 2.7-.7 6.2-.9 7.5-1.1M220.6 744.9c.7 1.8 2.8 7.1 4.3 10.7 1.4 3.6 3.5 8.9 4.2 10.7M233.4 742.8c1.1 1.8 4.3 7.5 6.4 10.7 2.2 3.2 5.4 7.1 6.5 8.5"/></g><path fill="none" stroke="#48c448" stroke-width=".95" stroke-opacity=".85" d="M200.8 666.5c-2.3-.3-11.2-3.4-13.7-2.1-2.4 1.3-1.7 6.8-1 9.7 .6 2.9 3.2 4.1 5 7.6 1.8 3.6 3.3 9.4 5.9 13.9 2.6 4.5 9.8 9.8 9.5 13.1-.3 3.3-9.3 5.5-11.2 6.6M189.1 706.2c-1-.7-6.8-2.6-5.8-4.1 .9-1.5 7-4.2 11.3-5 4.3-.8 10.7 .5 14.4 .3 3.7-.3 6.5-1.3 7.8-1.6M219.2 670.4c.3 1.9 2 7.8 2.3 11.6 .2 3.7 1.4 9.5-.6 10.9-2.1 1.3-7-1-11.6-2.7-4.5-1.8-13.2-6.4-15.8-7.7M215.7 662.1c.7 2.1 4.5 9.1 4.3 12.6-.1 3.4-4.6 4.8-5.1 8.1-.5 3.3 2.3 7.8 2.2 11.6-.2 3.7-2.7 9.2-3.3 11M201.9 693.6c.1-2.7-.7-11.8 .5-15.8 1.1-4.1 5.3-5.4 6.2-8.5 .9-3-.5-9.9-1-9.9-.5 0-1.6 8.2-2 9.8M275.3 674c-.5 .5-1.5 2.1-2.8 2.8-1.2 .8-3.1 2.3-4.8 2-1.7-.4-3-2.6-5.5-4-2.4-1.3-7.3-1.4-9.2-4.2-1.9-2.7-1.8-10.1-2.2-12.1M281.7 700.4c1.5 0 7.5-1 9.2 .1 1.8 1.2 2.1 7 1.5 6.8-.6-.1-2.7-5.6-5.1-7.7-2.4-2.2-6.1-3.3-9.2-4.9-3-1.7-6.1-2.3-9-4.8-3-2.5-7.2-8.6-8.7-10.3M260.5 690.5c.7-.7 2.3-3.3 4.2-4.2 1.8-.9 5.5-2.1 6.9-1.2 1.3 1 1.6 5.8 1 7-.6 1.2-4 1.5-4.9 .3-.8-1.2-.1-6-.1-7.3M211.1 735.6c1.8-.3 7.2-2.5 10.8-1.7 3.7 .7 6.4 4.1 11 6 4.5 1.9 11.1 3.1 16.3 5.2 5.3 2.1 12.6 6.3 15.1 7.5M203.7 789.9c1.2-1.8 5.1-6.4 7.4-10.6 2.2-4.1 3.2-9.9 6-14.4 2.9-4.6 9.4-7.1 11.2-12.7 1.7-5.6-2.4-17.5-.5-21 1.9-3.5 7.2 .9 12-.2 4.8-1 13.8-6.4 16.8-5.9 3.1 .4 1.4 7.2 1.7 8.7M256.5 723.3c-1.2 2-5.4 8.2-7.4 11.6-2.1 3.4-4 5.7-5.1 8.9-1 3.2-1.8 5.3-1.2 10.3 .7 4.9 3.4 15.2 5.1 19.3 1.6 4.1 5 5.1 4.9 5.1-.1-.1-6.6-2.7-5.6-5.4 1-2.6 9.5-8.7 11.4-10.5M211.1 751.4c-3.2 3-12.3 15.8-19.1 18.2-6.8 2.5-19.8-2-21.7-3.4-1.8-1.4 5-1.1 10.5-5 5.5-3.9 13.9-14.8 22.5-18.7 8.5-3.9 23.9-3.8 28.7-4.6M176.2 778.3c3.1-1.1 12.5-3.2 18.7-6.5 6.2-3.3 14.2-8.9 18.8-13.3 4.6-4.3 7.4-8.1 8.8-13 1.5-4.9 0-13.7 0-16.4M217.7 764.6c1.9-3.1 9-12.9 11.9-18.2 2.9-5.3 3-10.1 5.5-13.7 2.4-3.6 3.1-4.8 9.3-7.9 6.1-3.2 21.3-9.7 27.4-10.9 6-1.2 10.8 .9 8.9 3.9-1.8 2.9-15.4 9.4-20.3 13.7-4.9 4.3-7.5 10-9 12M195.7 756.7c3.3-.7 15-5.1 19.4-4 4.5 1.2 3.5 10.3 7.1 10.6 3.6 .3 10-5.8 14.6-8.7 4.5-3 8.3-6.6 12.6-8.8 4.4-2.3 11.2-3.9 13.4-4.7M277.3 757.8c-2.3 .2-8.3 2.1-13.4 1-5-1.2-10.8-7.7-16.8-7.7-6-.1-11.9 4.5-18.9 7.4-7 2.9-19.3 8.5-23.1 10.2M176.3 787.6c-1.8-1.2-8.5-4.3-10.6-7-2.1-2.6-3.6-8.3-2.1-8.8 1.5-.5 7.2 4.6 11.2 5.8 4 1.2 8.8 .7 12.8 1.4 4 .6 6.2 3.9 11.2 2.6 5-1.2 15.7-8.4 18.9-10.1M232.5 733.7c2.3-2.5 11.1-13.9 13.9-14.9 2.8-1.1 3.3 4.3 2.6 8.4-.6 4.1-1.4 10.2-6.4 16-5.1 5.8-16.7 12.9-23.8 18.7-7 5.8-13.4 13.4-18.5 16.2-5 2.7-9.8 .2-11.8 .2M203.1 792.3c-3.2-.9-14.7-3.7-19.2-5.8-4.5-2-9.1-3.8-7.8-6.3 1.2-2.5 8.6-6.1 15.4-8.4 6.8-2.3 21.2-4.5 25.4-5.4"/><g fill="none" stroke-linecap="round" stroke-linejoin="round"><path stroke="#40c040" stroke-width="1.05" stroke-opacity=".92" d="M1362.3 756.8c0 .9 1 3.2 .5 5.3-.5 2.2-2.4 5-3.8 7.5-1.3 2.5-2.6 5.2-4.2 7.5-1.6 2.3-4.3 4.6-5.4 6.4-1.1 1.8-1.6 2.9-1.1 4.3 .6 1.4 2.7 3.2 4.3 4.3 1.6 1.1 4.3 2.8 5.4 2.1 1-.7 1.2-4.3 1-6.4-.1-2.1-2.5-4.3-2.1-6.4 .4-2.1 3.6-5.4 4.3-6.4M1369.7 758.9c.8-1 2.7-5.5 4.3-6.4 1.6-.9 4.7 .2 5.4 1.1 .7 .9 0 3-1.1 4.3-1.1 1.2-4.8 2.1-5.4 3.2-.5 1 .9 2.8 2.2 3.2 1.2 .3 3.2-.2 5.3-1.1 2.2-.9 5.2-3.4 7.5-4.3 2.3-.9 4.3-1.2 6.4-1 2.2 .1 6.1 1 6.5 2.1 .3 1.1-4.3 2.9-4.3 4.3 0 1.4 3.5 3.5 4.3 4.3M1410.4 740.8c1.2-.9 5.3-4 7.5-5.4 2.1-1.4 3.9-3.4 5.3-3.2 1.4 .2 3 2.5 3.2 4.3 .2 1.8-.7 4.8-2.1 6.4-1.4 1.6-4.5 3-6.4 3.2-2 .2-4-2.7-5.4-2.1-1.4 .5-3 3.5-3.2 5.3-.2 1.8 .7 4.8 2.1 5.4 1.5 .5 5.4-1.8 6.5-2.2M1439.3 731.1c.7 .6 3.7 1.6 4.2 3.2 .6 1.6-1.7 5.7-1 6.5 .7 .7 3.4-.8 5.3-2.2 2-1.4 4.6-4.3 6.4-6.4 1.8-2.1 2.7-5.2 4.3-6.4 1.6-1.3 3.6-1.4 5.4-1.1 1.7 .4 3.7 1.6 5.3 3.2 1.6 1.6 3.4 4.3 4.3 6.4 .9 2.2 1.8 5 1.1 6.5-.8 1.4-4.5 1.7-5.4 2.1M1485.2 756.8c.9 .5 4.1 2.1 5.4 3.2 1.2 1.1 2.5 2.3 2.1 3.2-.3 .9-2.6 2-4.2 2.2-1.6 .1-4.5-.9-5.4-1.1M1474.6 781.4c-.2 .9-.4 5-1.1 5.3-.7 .4-2.2-2.3-3.2-3.2-1.1-.9-2.7-1.8-3.2-2.1M1451 785.7c.9 .3 3.8 1.4 5.4 2.1 1.6 .7 4.1 1.3 4.2 2.1 .2 .9-1.6 2.9-3.2 3.3-1.6 .3-4.4-.2-6.4-1.1-1.9-.9-4.4-3.6-5.3-4.3M1428.6 796.4c1 .7 4.2 3.2 6.4 4.2 2.1 1.1 4.6 2.2 6.4 2.2 1.8 0 4.6-2.5 4.3-2.2-.4 .4-4.3 3.8-6.4 4.3-2.2 .6-4.7-1.4-6.5-1-1.7 .3-2.8 2.1-4.2 3.2-1.5 1-4.7 2.3-4.3 3.2 .3 .9 5.2 1.2 6.4 2.1 1.2 .9 2.1 2.5 1.1 3.2-1.1 .7-5.2 1.6-7.5 1.1-2.3-.5-4.5-3.2-6.4-4.3-2-1.1-5-1.2-5.4-2.1-.3-.9 1.6-2.3 3.2-3.2 1.6-.9 5.4-1.8 6.4-2.2M1383.6 810.3c-.1 .9-1.4 3.9-1 5.3 .3 1.4 1.8 3.4 3.2 3.2 1.4-.2 5-2.6 5.3-4.3 .4-1.6-3.5-3.9-3.2-5.3 .4-1.4 4.5-2.7 5.4-3.2M1406.1 815.6c.5 .7 2 2.9 3.2 4.3 1.3 1.4 2.9 3.4 4.3 4.3 1.4 .9 3.6 .2 4.3 1 .7 .9 .7 3.3 0 4.3-.7 1.1-2.9 2.3-4.3 2.2-1.4-.2-2.7-2.7-4.3-3.2-1.6-.6-4.4 0-5.3 0M1381.5 828.5c.2-.6 .4-2.5 1.1-3.3 .7-.7 2.6-.8 3.2-1M1362.3 823.1c.7 .5 2.6 3 4.2 3.2 1.6 .2 4-1.4 5.4-2.1 1.4-.7 3-1.5 3.2-2.2 .2-.7-1.8-1.7-2.2-2.1M1411.4 762.1c-.3-.8-2.3-3.7-2.1-5.3 .2-1.6 1.8-3.9 3.2-4.3 1.4-.3 4.5 1.8 5.4 2.2M1437.1 789.9c1.1 .8 4.3 3.3 6.4 4.3 2.2 1.1 4.3 2.5 6.5 2.2 2.1-.4 4.8-3.2 6.4-4.3 1.6-1.1 2.6-1.8 3.2-2.2M1443.5 764.3c-.7 .7-3.7 2.5-4.2 4.3-.6 1.7 0 4.6 1 6.4 1.1 1.8 4.5 3.5 5.4 4.3M1460.6 753.6c.9 .9 4.1 3.2 5.4 5.3 1.2 2.2 2.5 5.4 2.1 7.5-.3 2.2-2.8 3.9-4.2 5.4-1.5 1.4-3.6 2.6-4.3 3.2M1417.9 804.9c.3 .9 1 3.9 2.1 5.4 1.1 1.4 3.6 2.6 4.3 3.2M1432.8 785.7c-.7 1-3.9 4.2-4.2 6.4-.4 2.1 1.7 5.3 2.1 6.4M1407.2 796.4c1.8-.9 7.1-3.6 10.7-5.4 3.5-1.8 7.5-4.8 10.7-5.3 3.2-.6 7.1 1.8 8.5 2.1M1375.1 769.6c-.7-.5-3.9-1.9-4.3-3.2-.3-1.2 .9-3.9 2.1-4.3 1.3-.3 4.5 1.8 5.4 2.2M1394.3 796.4c-.7 .7-2.8 3.2-4.2 4.2-1.5 1.1-4 1.1-4.3 2.2-.4 1.1 1.8 3.5 2.1 4.3M1466 785.7c-.9-.4-3.7-1.5-5.4-2.2-1.6-.7-2.8-1-4.2-2.1-1.5-1.1-3.6-3.6-4.3-4.3M1402.9 753.6c.7-.4 3.4-2.7 4.3-2.2 .9 .6 1.4 4 1 5.4-.3 1.4-2.6 2.7-3.2 3.2M1439.3 789.9c-.8 .8-4 2.9-4.3 4.3-.4 1.5 .7 3.6 2.1 4.3 1.4 .7 5.4 0 6.4 0M1412.5 681.3c.9 0 3.4 .1 5.4 0 1.9-.1 4.6 .1 6.4-.5 1.8-.7 4.3-2 4.3-3.3 0-1.2-2.8-3.3-4.3-4.2-1.5-.9-4.5-.4-4.8-1.1-.4-.7 1.3-2.6 2.6-3.2 1.4-.6 3.8-1.1 5.4-.5 1.6 .5 3.2 2.4 4.3 3.7 1 1.3 1 3.4 2.1 4.3 1.1 .9 3.6 .9 4.3 1M1450 678.6c.7-.1 2.9-1.1 4.2-.5 1.4 .5 3.2 2 3.8 3.7 .5 1.7-.5 5.4-.6 6.4M1428.6 693.6c.7-.4 2.5-2 4.2-2.2 1.8-.1 4.9 .6 6.5 1.1 1.6 .6 3.5 1.3 3.2 2.2-.4 .8-3.4 2.8-5.4 3.2-1.9 .3-5-.4-6.4-1.1-1.4-.7-1.8-2.7-2.1-3.2M1439.3 697.9c.1 1 0 4.8 1 6.4 1.1 1.6 3.8 1.9 5.4 3.2 1.6 1.2 2.8 3 4.3 4.3 1.4 1.2 3.5 2.6 4.2 3.2M1442.5 696.8c1-.2 4.4-1.3 6.4-1.1 1.9 .2 4.4 1.8 5.3 2.2M1481 729.9c-.6 .8-2 3.3-3.2 4.3-1.3 1.1-3.7 .7-4.3 2.2-.6 1.4 .9 4.6 .5 6.4-.3 1.8-2.2 3.5-2.7 4.3M1453.2 722.5c-.6 .9-2 3.7-3.2 5.3-1.3 1.6-2.5 3.8-4.3 4.3-1.8 .5-6.1-1.8-6.4-1.1-.4 .7 3.2 3.4 4.2 5.4 1.1 1.9 1.8 5.3 2.2 6.4M1411.4 736.4c1.1-.6 4.3-2.5 6.5-3.2 2.1-.8 5-1.6 6.4-1.1 1.4 .5 2.3 2.5 2.1 4.3-.2 1.7-2.7 5.3-3.2 6.4M1369.5 679.1c.3-.5 .9-2.6 2.1-3.2 1.2-.6 4-1.1 5.3-.5 1.4 .5 2.7 2.5 2.7 3.7 0 1.3-1.3 3.2-2.7 3.8-1.3 .5-4.1 0-5.3-.6-1.2-.6-1.8-2.7-2.1-3.2M1359.8 708c.4 1.2 2.2 5.2 2.2 7.5 0 2.3-2.5 4.8-2.2 6.4 .4 1.6 3.6 2.7 4.3 3.2M1374.8 726.2c.9 .3 3.8 1.4 5.4 2.1 1.6 .7 3.3 1.3 4.2 2.1 .9 .9 .9 2.3 1.1 2.7M1371.6 694.1c.9 .7 3.4 3 5.3 4.3 2 1.2 4.7 3 6.5 3.2 1.7 .2 4.1-1.3 4.2-2.2 .2-.9-2.6-2.6-3.2-3.2M1373.7 706.9c.9-.3 3.1-1.6 5.4-2.1 2.3-.6 5.9-1.1 8.5-1.1 2.7 0 5 1.3 7.5 1.1 2.5-.2 6.3-1.8 7.5-2.2M1398.3 731.5c.4 .6 1.1 2.7 2.2 3.2 1 .6 3.5 .6 4.3 0 .8-.5 .4-2.6 .5-3.2M1409 729.4c.4 .7 1.1 3.7 2.2 4.3 1 .5 3.5-.9 4.2-1.1M1416.5 695.2c.7 .5 2.9 1.9 4.3 3.2 1.4 1.2 3 2.6 4.3 4.2 1.2 1.6 2.5 3.6 3.2 5.4 .7 1.8 1.4 3.9 1.1 5.3-.4 1.5-2 2.9-3.3 3.2-1.2 .4-3.2-1.4-4.2-1-1.1 .3-1.8 2.6-2.2 3.2M1402.6 685.5c-.3-.5-2.1-2.3-2.1-3.2 0-.9 1.8-1.8 2.1-2.1M1416.5 681.3c.9 0 3.4 .7 5.4 .5 1.9-.2 5.3-1.4 6.4-1.6M1395.1 706.9c.6 .4 1.3 2 3.2 2.2 2 .1 7.2-.9 8.6-1.1"/><path stroke="#2dc02d" stroke-width="3.8" d="M1385.8 824.2c.9 .5 3.5 2.3 5.3 3.2 1.8 .9 3.4 2.1 5.4 2.1 1.9 0 5.3-1.8 6.4-2.1"/><path stroke="#2dc02d" stroke-width="3.5" d="M1359 795.3c.6-.5 1.8-2.3 3.3-3.2 1.4-.9 3.9-2.3 5.3-2.2 1.4 .2 2.3 1.8 3.2 3.3 .9 1.4 2.3 3.5 2.1 5.3-.1 1.8-1.7 4.1-3.2 5.4-1.4 1.2-4.2 1-5.3 2.1-1.1 1.1-1.8 3.2-1.1 4.3 .7 1 4.3 .9 5.4 2.1 1 1.3 1.8 4.1 1 5.4-.7 1.2-4.1 1.2-5.3 2.1-1.3 .9-1.8 2.7-2.1 3.2M1435 686.1c.7-.2 2.8-1.2 4.3-1.1 1.4 .2 2.6 1.5 4.2 2.2 1.6 .7 3.2 1 5.4 2.1 2.1 1.1 6.2 3.6 7.5 4.3M1454.2 716c1.1-.1 4.5-1.2 6.4-1 2 .2 5 1.3 5.4 2.1 .4 .8-3.7 2-3.2 2.7 .5 .7 4.8 .6 6.4 1.6 1.6 1 2 3.9 3.2 4.3 1.3 .3 3-2.2 4.3-2.2 1.2 0 2.8 1.1 3.2 2.2 .4 1-.4 3.5-.5 4.2M1397.3 679.1c.3-.7 1-3.5 2.1-4.3 1.1-.8 3.1-1.4 4.3-.5 1.1 .9 2.2 4.9 2.7 5.9M1406.4 680.2c.4-.8 1.5-3.9 2.6-4.8 1.2-.9 3.1-1.4 4.3-.6 1.3 .8 2.7 4.5 3.2 5.4"/><path stroke="#2dc02d" stroke-width="3.2" d="M1387.9 815.6c1.1 .4 4.3 2 6.4 2.2 2.2 .1 4.7-.8 6.5-1.1 1.7-.4 3.5-.9 4.2-1.1"/><path stroke="#2dc02d" stroke-width="3" d="M1481 762.1c.5 .4 3 1.3 3.2 2.2 .2 .9-1.8 2.7-2.2 3.2M1411.4 760c1.1 1.6 4.3 6.1 6.5 9.6 2.1 3.6 4.6 8.4 6.4 11.8 1.8 3.4 3.5 7.1 4.3 8.5M1417.9 757.9c1.2 1.6 5.1 6.2 7.5 9.6 2.3 3.4 4.6 7.7 6.4 10.7 1.8 3 3.5 6.2 4.2 7.5M1407.2 764.3c.7 1.8 2.8 6.8 4.2 10.7 1.5 3.9 3.3 8.2 4.3 12.8 1.1 4.6 1.8 12.5 2.2 15M1393.3 807.1c.9 .1 3.9 1.2 5.3 1 1.4-.1 2.7-1.8 3.2-2.1M1438.2 678.1c.9 .1 3.7-.1 5.3 .5 1.6 .6 3.1 2 4.3 3.2 1.3 1.3 2.7 3.6 3.2 4.3M1450 687.2c1 1.2 4.4 5 6.4 7.5 1.9 2.5 3.7 4.6 5.3 7.4 1.6 2.9 3.2 7.2 4.3 9.7 1.1 2.5 1.8 4.4 2.1 5.3M1371.6 697.3c1.1-.9 4.3-4.2 6.4-5.4 2.2-1.1 4.1-1.7 6.4-1.6 2.4 .2 5.2 1.7 7.5 2.7 2.3 1 5.4 2.7 6.4 3.2"/><path stroke="#2dc02d" stroke-width="2.8" d="M1424.3 758.9c1.2 1.6 5.2 6.6 7.5 9.7 2.3 3 4.4 5.8 6.4 8.5 1.9 2.7 4.4 6.3 5.3 7.5"/><path stroke="#2dc02d" stroke-width="2.5" d="M1425.4 748.2c1.4-.8 5.3-3.7 8.5-4.8 3.2-1 7.1-1.4 10.7-1.6 3.6-.2 7.5 .1 10.7 .6 3.2 .4 7.1 1.7 8.6 2.1M1442.5 762.1c.9-1.2 3.9-5.3 5.3-7.4 1.4-2.2 2.7-4.5 3.2-5.4M1475.6 779.3c-.1 .5-.4 2.6-.5 3.2M1402.9 771.8c.7 1.9 2.8 7.6 4.3 11.7 1.4 4.1 3.2 9.1 4.2 12.9 1.1 3.7 1.8 8 2.2 9.6M1378.3 771.8c1.2 .9 5.5 3 7.5 5.3 1.9 2.3 3.5 7.1 4.3 8.6M1385.8 771.8c1.2 1.2 5.3 4.8 7.5 7.5 2.1 2.6 4.4 7.1 5.3 8.5M1461.7 702.1c1.6 .9 6.4 3.4 9.6 5.4 3.3 2 7 4.5 9.7 6.4 2.6 1.9 5.3 4 6.4 4.8M1370 683.4c.2 1.2 1.4 4.6 1.1 7.5-.4 2.8-2.4 7.1-3.2 9.6-.8 2.5-1.4 4.5-1.6 5.4M1406.9 683.4c.7 .2 3 .2 4.3 1.1 1.2 .9 2.3 2.5 3.2 4.2 .9 1.8 1.8 5.4 2.1 6.5M1370 715.5c.4-.7 1.8-3.2 2.7-4.3 .9-1.1 2.2-1.8 2.6-2.1M1415.4 727.2c0 .6-.4 2.7-.5 3.2"/><path stroke="#2dc02d" stroke-width="2.2" d="M1430.7 762.1c1.1 1.5 4.1 5.4 6.4 8.6 2.3 3.2 5.2 7.7 7.5 10.7 2.3 3 5.4 6.2 6.4 7.5"/><path stroke="#2dc02d" stroke-width="2" d="M1439.3 758.9c1.6-.3 6.7-1.2 9.6-2.1 2.8-.9 6.2-2.7 7.5-3.2M1392.2 769.6c1.1 .9 4.6 3.4 6.4 5.4 1.8 1.9 3.6 5.3 4.3 6.4M1369.7 778.2c1.1-.6 4.7-2.2 6.5-3.2 1.7-1.1 3.5-2.7 4.2-3.2M1462.8 704.3c1.1 1.1 3.9 4.3 6.4 6.4 2.5 2.1 5.5 5 8.6 6.4 3 1.4 8 1.8 9.6 2.2M1373.7 700.5c1.5-.7 5.6-3.7 8.6-4.3 3-.5 6.2 .2 9.6 1.1 3.4 .9 7.5 3.2 10.7 4.3 3.2 1 7.1 1.8 8.6 2.1M1379.1 712.3c.5-.2 2.3-1.5 3.2-1.1 .9 .4 1.8 2.7 2.1 3.2M1388.7 712.3c.9 .9 3.8 3 5.4 5.3 1.6 2.3 3.3 6.3 4.2 8.6 .9 2.3 .9 4.4 1.1 5.3M1368.4 725.1c.9-.2 4.4-.9 5.3-1.1"/><path stroke="#2dc02d" stroke-width="1.8" d="M1451 764.3c.9-1.3 3.6-5.2 5.4-7.5 1.8-2.3 4.4-5.4 5.3-6.4M1390.1 777.1c.7 1.1 3.2 4.3 4.2 6.4 1.1 2.2 1.8 5.4 2.2 6.4"/><path stroke="#2dc02d" stroke-width="1.5" d="M1435 752.5c1.8-.7 7.1-3.2 10.7-4.3 3.5-1 7.6-1.9 10.7-2.1 3-.2 6.2 .9 7.5 1.1M1458.5 772.8c.4 .7 1.1 3.4 2.1 4.3 1.1 .9 3.6 .9 4.3 1.1M1416.8 748.2c.7 .9 3.6 4.5 4.3 5.4M1405 767.5c.7 1.6 3.1 6.6 4.3 9.6 1.3 3 2.7 7.1 3.2 8.6M1414.7 764.3c.8 1.4 3.5 5.3 5.3 8.5 1.8 3.2 4.5 8.9 5.4 10.7M1421.1 763.2c1 1.4 4.3 5.5 6.4 8.6 2.1 3 5.3 8 6.4 9.6M1381.5 779.3c.7 1 3.6 5.3 4.3 6.4M1406.9 694.1c1.4 .9 6.1 3.6 8.5 5.3 2.5 1.8 5.4 4.5 6.5 5.4"/><path stroke="#11331a" stroke-width="3.5" d="M1471.3 766.4c-.1 1.1-.1 4.3-1 6.4-.9 2.2-3.6 5.4-4.3 6.5M1410.1 703.7c.7 1.3 3.3 4.8 4.3 7.5 1 2.7 1.4 5.9 1.6 8.6 .2 2.6-.5 6.2-.6 7.4"/><path stroke="#11331a" stroke-width="3" d="M1365.2 684.7c-.4 .5-1.4 1.4-2.2 3-.7 1.5-1.8 3.9-2.1 6.4-.3 2.5 .4 6.2 .5 8.5 .2 2.4 .5 4.5 .6 5.4M1382.3 687.1c1.2 .1 5.2-.1 7.5 .6 2.3 .6 4.4 1.8 6.4 3.2 2 1.4 4.5 4.4 5.3 5.3M1402.6 709.1c.7 1 3.3 4.1 4.3 6.4 1 2.3 1.2 5.3 1.6 7.5 .4 2.1 .4 4.4 .5 5.3"/><path stroke="#11331a" stroke-width="2.5" d="M1478.8 766.4c-.1 1.1-.5 4.3-1 6.4-.6 2.2-1.8 5.4-2.2 6.5M1435 687.2c.3 .9 1.2 3.9 2.1 5.3 .9 1.4 2.7 2.7 3.2 3.2M1415.4 678c.3 .6 1.4 2.7 1.7 3.3M1364.1 726.2c.9 .1 3.6 .7 5.4 .5 1.7-.2 4.4-1.3 5.3-1.6"/><path stroke="#11331a" stroke-width="2" d="M1398.6 777.1c.9 2.2 3.9 9.3 5.4 12.8 1.4 3.6 2.6 7.2 3.2 8.6M1375.1 777.1c.9 1.4 3.9 5.7 5.3 8.6 1.5 2.8 2.7 7.1 3.2 8.5M1400.8 789.9c.5 1.1 2.8 4.1 3.2 6.5 .3 2.3-.2 5.3-1.1 7.5-.9 2.1-3.6 4.4-4.3 5.3M1368.7 789.9c.5 .9 2.6 4.5 3.2 5.4M1445.7 679.1c.7 .7 3.4 2.5 4.3 3.8 .8 1.3 .8 3.6 1 4.3M1460.6 718.2c.8 .5 3.6 2.7 4.3 3.2M1470.3 724.6c.5 .4 2.6 1.8 3.2 2.1M1478.8 726.7c.2 .7 .9 3.2 1.1 3.8M1398.3 675.9c.4-.3 1.8-1.3 2.2-1.6M1402.6 688.7c.5-.1 2.2-1.9 3.2-1 1.1 .9 2.7 5.3 3.2 6.4M1394.1 711.2c1 1.1 4.8 3.9 6.4 6.4 1.6 2.5 2.5 6.3 3.2 8.6 .7 2.3 .9 4.4 1.1 5.3M1421.9 704.8c.3 .5 1.8 2.3 2.1 3.2 .3 .9-.4 1.8-.5 2.1"/><path stroke="#11331a" stroke-width="1.8" d="M1402.6 697.3c1.4 .5 5.7 2 8.6 3.2 2.8 1.3 6.2 3 8.5 4.3 2.3 1.2 4.5 2.7 5.4 3.2"/><path stroke="#11331a" stroke-width="1.5" d="M1387.9 781.4c.4 1.4 1.8 7.1 2.2 8.5M1364.4 807.1c.5 .5 2.7 2.6 3.2 3.2M1361.7 817.8c.2 .7 .9 3.5 1.1 4.2M1420 755.7c.4-1 1.7-4.6 2.1-6.4 .5-1.8 .5-3.6 .6-4.3M1460.6 700c-.3-1.1-1.6-4.3-2.1-6.4-.4-2.2-.4-5.4-.5-6.4M1391.9 714.4c.9 1.6 4.5 8 5.4 9.6"/><path stroke="#11331a" stroke-width="1.3" d="M1463.9 744.5c1.2 .4 5.1 1.3 7.4 2.7 2.4 1.3 4.9 3.4 6.5 5.3 1.5 2 2.2 5.4 2.6 6.4"/><path stroke="#11331a" stroke-width="1.2" d="M1450 752.5c1.4-.5 5.8-2.5 8.5-3.2 2.7-.7 6.2-.9 7.5-1.1M1413.6 766.4c.7 1.8 2.8 7.1 4.3 10.7 1.4 3.6 3.5 8.9 4.2 10.7M1426.4 764.3c1.1 1.8 4.3 7.5 6.4 10.7 2.2 3.2 5.4 7.1 6.5 8.5"/></g><path fill="none" stroke="#48c448" stroke-width=".95" stroke-opacity=".85" d="M1415.2 699.7c1.5-1.6 7.1-8.8 9-9.4 1.8-.6 2.9 3.7 2.1 5.6-.8 1.9-3.8 3.8-7.1 6-3.2 2.2-7.4 5.2-12.6 7.2-5.2 2-15.1 2-18.5 5-3.3 3-1.2 10.7-1.4 12.8M1382.8 694.7c-2.2-2-12.1-9.9-12.7-11.8-.6-2 6.7-1.1 8.9 .3 2.2 1.3 1.5 5.8 4.2 7.8 2.6 2.1 9.1 6.3 11.7 4.6 2.6-1.7 2.6-14.4 3.7-14.7 1.1-.4 2.3 10.4 2.7 12.5M1383.1 683.4c-1.6 .5-9.4 2.9-9.7 3.1-.4 .2 4.8-.4 7.4-2 2.5-1.5 6-8 7.8-7.2 1.9 .7 1.7 7 3.3 11.9 1.7 4.8 3.2 11.7 6.8 17.1 3.6 5.3 12.4 12.4 14.8 14.9M1381.3 714.6c.9 2 3.4 8.7 5.8 12.5 2.4 3.7 8.5 9.8 8.8 10 .2 .1-6.4-5.5-7.3-9.2-.8-3.7 1.4-7.4 2.4-13 .9-5.6 3.7-16.2 3.4-20.8-.3-4.6-4.3-5.7-5.1-6.9M1413.1 712.7c-1.6-2.5-5.5-11.6-9.8-15-4.3-3.4-12.1-6.7-16.1-5.5-3.9 1.2-7.1 7.8-7.7 12.6-.7 4.9 3.6 15.3 3.8 16.4 .3 1.1-1.8-8.1-2.1-9.7M1446.6 697.1c-1.3 .6-6.6 1.7-7.5 3.7-.9 2 3 8.4 1.9 8.4-1.1 0-8-7.2-8.6-8.3-.7-1.2 4.1 1.3 4.9 1.6M1434.4 692.7c1-.1 3.8-1.2 6.3-.6 2.5 .6 5.3 1.9 8.5 4.2 3.2 2.3 8.9 6.4 10.6 9.4 1.8 3 0 6.3-.2 8.7-.3 2.3-1.1 4.6-1.3 5.5M1439 683.9c2 .6 9.1 1.5 11.6 3.6 2.5 2 2.4 5.9 3.4 8.8 1.1 2.9 4.6 7.6 3 8.5-1.7 .8-8.8-1.4-12.9-3.3-4.1-1.9-10-5.3-11.8-8-1.8-2.8 .9-7 1.1-8.4M1435.7 768.5c2.2 .1 6.6 1.2 13 1 6.5-.3 22.7-4.5 25.7-2.7 3 1.8-3.8 9.4-7.8 13.4-4 4-13.4 8.8-16.1 10.6M1414.2 749.3c-1.5 1.3-6.3 3.3-9.2 7.7-3 4.5-8.1 13.6-8.5 19.2-.4 5.6 5.1 9.3 5.9 14.5 .9 5.2-.9 11.9-.8 16.9 .1 5 3 10.7 1.2 13.1-1.8 2.4-6.9 .7-12 1.2-5.2 .5-15.8 1.7-18.9 2M1471.3 745.8c.4 1.5-.2 5.8 2.2 9.2 2.5 3.3 12.1 6.4 12.6 10.8 .5 4.5-6.4 12.1-9.5 15.8-3.1 3.7-5.7 6-9 6.7-3.3 .7-6.6-3.4-10.9-2.3-4.3 1.1-12.4 7.4-14.9 8.8M1418 775.5c2.9-2.7 11.2-9.9 17.3-16 6.1-6.1 17.5-19.4 19.6-20.8 2.1-1.5-3.9 7.3-7 12-3 4.8-8.2 10.2-11.3 16.4-3.2 6.2-7.4 14.6-7.6 20.9-.2 6.3 5.5 14.1 6.6 16.9M1387.9 766.3c-2 .8-10.9 2.7-12 5.2-1.1 2.4 4.2 6.1 5.1 9.5 .9 3.3-1.7 8.9 .3 10.6 2.1 1.6 8.8-1.8 12.1-.7 3.4 1.2 9 2.9 8.1 7.6-.9 4.7-6.8 17-13.4 20.5-6.5 3.6-21.5 .5-25.8 .6M1473.9 749.2c-.5-2.4 1.7-11.5-3-14.2-4.7-2.7-22.6-1.4-25.2-1.9-2.7-.6 9.8-3.2 9.1-1.3-.7 1.8-7.6 8.1-13.6 12.4-5.9 4.4-16.9 8-22.2 13.9-5.2 5.9-7.6 17.9-9.1 21.5M1429.5 782c1.7-1.9 5.5-8.6 10.3-11.3 4.7-2.8 11.8-3.6 18.3-5.3 6.5-1.7 20.5-4.3 20.8-4.8 .3-.5-13.2 1.3-19.1 1.7-6 .5-13.9 .8-16.7 1M1473.2 751.5c2.7-1.3 16.2-8.8 16.3-7.9 .1 .9-10.2 9.9-15.8 13.5-5.6 3.7-12.7 6.8-17.7 8.4-5 1.5-5.6-.3-12.3 1.2-6.7 1.4-23.3 6.1-28 7.3M1435.1 749.1c-.2 3.1 2 12.4-1.2 18.9-3.2 6.6-12.6 15.6-17.9 20.3-5.3 4.8-10.3 4.8-14 8.4-3.7 3.6-7.8 7.9-8.1 13.1-.4 5.3 6.3 16.5 6 18.4-.3 2-6.7-5.6-8.1-6.7M1362.8 801.7c2.5-1 8.4-5.4 14.9-5.6 6.5-.3 22 2.3 24.3 4.2 2.4 1.9-4.8 6.6-10.3 6.9-5.5 .4-16.8-3.9-22.7-4.7-6-.9-10.2-2.7-13-.2-2.8 2.5-3.2 13.3-3.9 15.3-.7 1.9-.4-3-.5-3.6M1463.1 742.4c1-1.8 4.8-10.6 5.8-10.3 1.1 .3 3.4 7 .6 12.1-2.9 5-11.5 12.6-17.4 18-6 5.5-14.2 9.3-18.6 14.5-4.3 5.2-2.9 11.1-7.5 16.7-4.6 5.6-16.9 14.1-20.3 16.9"/><g fill="none" stroke-linecap="round" stroke-linejoin="round"><path stroke="#40c040" stroke-width="1.05" stroke-opacity=".92" d="M529.3 137.3c0 .9 1 3.2 .5 5.3-.5 2.2-2.4 5-3.8 7.5-1.3 2.5-2.6 5.2-4.2 7.5-1.6 2.3-4.3 4.6-5.4 6.4-1.1 1.8-1.6 2.9-1.1 4.3 .6 1.4 2.7 3.2 4.3 4.3 1.6 1.1 4.3 2.8 5.4 2.1 1-.7 1.2-4.3 1-6.4-.1-2.1-2.5-4.3-2.1-6.4 .4-2.1 3.6-5.4 4.3-6.4M536.7 139.4c.8-1 2.7-5.5 4.3-6.4 1.6-.9 4.7 .2 5.4 1.1 .7 .9 0 3-1.1 4.3-1.1 1.2-4.8 2.1-5.4 3.2-.5 1 .9 2.8 2.2 3.2 1.2 .3 3.2-.2 5.3-1.1 2.2-.9 5.2-3.4 7.5-4.3 2.3-.9 4.3-1.2 6.4-1 2.2 .1 6.1 1 6.5 2.1 .3 1.1-4.3 2.9-4.3 4.3 0 1.4 3.5 3.5 4.3 4.3M577.4 121.3c1.2-.9 5.3-4 7.5-5.4 2.1-1.4 3.9-3.4 5.3-3.2 1.4 .2 3 2.5 3.2 4.3 .2 1.8-.7 4.8-2.1 6.4-1.4 1.6-4.5 3-6.4 3.2-2 .2-4-2.7-5.4-2.1-1.4 .5-3 3.5-3.2 5.3-.2 1.8 .7 4.8 2.1 5.4 1.5 .5 5.4-1.8 6.5-2.2M606.3 111.6c.7 .6 3.7 1.6 4.2 3.2 .6 1.6-1.7 5.7-1 6.5 .7 .7 3.4-.8 5.3-2.2 2-1.4 4.6-4.3 6.4-6.4 1.8-2.1 2.7-5.2 4.3-6.4 1.6-1.3 3.6-1.4 5.4-1.1 1.7 .4 3.7 1.6 5.3 3.2 1.6 1.6 3.4 4.3 4.3 6.4 .9 2.2 1.8 5 1.1 6.5-.8 1.4-4.5 1.7-5.4 2.1M652.2 137.3c.9 .5 4.1 2.1 5.4 3.2 1.2 1.1 2.5 2.3 2.1 3.2-.3 .9-2.6 2-4.2 2.2-1.6 .1-4.5-.9-5.4-1.1M641.6 161.9c-.2 .9-.4 5-1.1 5.3-.7 .4-2.2-2.3-3.2-3.2-1.1-.9-2.7-1.8-3.2-2.1M618 166.2c.9 .3 3.8 1.4 5.4 2.1 1.6 .7 4.1 1.3 4.2 2.1 .2 .9-1.6 2.9-3.2 3.3-1.6 .3-4.4-.2-6.4-1.1-1.9-.9-4.4-3.6-5.3-4.3M595.6 176.9c1 .7 4.2 3.2 6.4 4.2 2.1 1.1 4.6 2.2 6.4 2.2 1.8 0 4.6-2.5 4.3-2.2-.4 .4-4.3 3.8-6.4 4.3-2.2 .6-4.7-1.4-6.5-1-1.7 .3-2.8 2.1-4.2 3.2-1.5 1-4.7 2.3-4.3 3.2 .3 .9 5.2 1.2 6.4 2.1 1.2 .9 2.1 2.5 1.1 3.2-1.1 .7-5.2 1.6-7.5 1.1-2.3-.5-4.5-3.2-6.4-4.3-2-1.1-5-1.2-5.4-2.1-.3-.9 1.6-2.3 3.2-3.2 1.6-.9 5.4-1.8 6.4-2.2M550.6 190.8c-.1 .9-1.4 3.9-1 5.3 .3 1.4 1.8 3.4 3.2 3.2 1.4-.2 5-2.6 5.3-4.3 .4-1.6-3.5-3.9-3.2-5.3 .4-1.4 4.5-2.7 5.4-3.2M573.1 196.1c.5 .7 2 2.9 3.2 4.3 1.3 1.4 2.9 3.4 4.3 4.3 1.4 .9 3.6 .2 4.3 1 .7 .9 .7 3.3 0 4.3-.7 1.1-2.9 2.3-4.3 2.2-1.4-.2-2.7-2.7-4.3-3.2-1.6-.6-4.4 0-5.3 0M548.5 209c.2-.6 .4-2.5 1.1-3.3 .7-.7 2.6-.8 3.2-1M529.3 203.6c.7 .5 2.6 3 4.2 3.2 1.6 .2 4-1.4 5.4-2.1 1.4-.7 3-1.5 3.2-2.2 .2-.7-1.8-1.7-2.2-2.1M578.4 142.6c-.3-.8-2.3-3.7-2.1-5.3 .2-1.6 1.8-3.9 3.2-4.3 1.4-.3 4.5 1.8 5.4 2.2M604.1 170.4c1.1 .8 4.3 3.3 6.4 4.3 2.2 1.1 4.3 2.5 6.5 2.2 2.1-.4 4.8-3.2 6.4-4.3 1.6-1.1 2.6-1.8 3.2-2.2M610.5 144.8c-.7 .7-3.7 2.5-4.2 4.3-.6 1.7 0 4.6 1 6.4 1.1 1.8 4.5 3.5 5.4 4.3M627.6 134.1c.9 .9 4.1 3.2 5.4 5.3 1.2 2.2 2.5 5.4 2.1 7.5-.3 2.2-2.8 3.9-4.2 5.4-1.5 1.4-3.6 2.6-4.3 3.2M584.9 185.4c.3 .9 1 3.9 2.1 5.4 1.1 1.4 3.6 2.6 4.3 3.2M599.8 166.2c-.7 1-3.9 4.2-4.2 6.4-.4 2.1 1.7 5.3 2.1 6.4M574.2 176.9c1.8-.9 7.1-3.6 10.7-5.4 3.5-1.8 7.5-4.8 10.7-5.3 3.2-.6 7.1 1.8 8.5 2.1M542.1 150.1c-.7-.5-3.9-1.9-4.3-3.2-.3-1.2 .9-3.9 2.1-4.3 1.3-.3 4.5 1.8 5.4 2.2M561.3 176.9c-.7 .7-2.8 3.2-4.2 4.2-1.5 1.1-4 1.1-4.3 2.2-.4 1.1 1.8 3.5 2.1 4.3M633 166.2c-.9-.4-3.7-1.5-5.4-2.2-1.6-.7-2.8-1-4.2-2.1-1.5-1.1-3.6-3.6-4.3-4.3M569.9 134.1c.7-.4 3.4-2.7 4.3-2.2 .9 .6 1.4 4 1 5.4-.3 1.4-2.6 2.7-3.2 3.2M606.3 170.4c-.8 .8-4 2.9-4.3 4.3-.4 1.5 .7 3.6 2.1 4.3 1.4 .7 5.4 0 6.4 0M579.5 61.8c.9 0 3.4 .1 5.4 0 1.9-.1 4.6 .1 6.4-.5 1.8-.7 4.3-2 4.3-3.3 0-1.2-2.8-3.3-4.3-4.2-1.5-.9-4.5-.4-4.8-1.1-.4-.7 1.3-2.6 2.6-3.2 1.4-.6 3.8-1.1 5.4-.5 1.6 .5 3.2 2.4 4.3 3.7 1 1.3 1 3.4 2.1 4.3 1.1 .9 3.6 .9 4.3 1M617 59.1c.7-.1 2.9-1.1 4.2-.5 1.4 .5 3.2 2 3.8 3.7 .5 1.7-.5 5.4-.6 6.4M595.6 74.1c.7-.4 2.5-2 4.2-2.2 1.8-.1 4.9 .6 6.5 1.1 1.6 .6 3.5 1.3 3.2 2.2-.4 .8-3.4 2.8-5.4 3.2-1.9 .3-5-.4-6.4-1.1-1.4-.7-1.8-2.7-2.1-3.2M606.3 78.4c.1 1 0 4.8 1 6.4 1.1 1.6 3.8 1.9 5.4 3.2 1.6 1.2 2.8 3 4.3 4.3 1.4 1.2 3.5 2.6 4.2 3.2M609.5 77.3c1-.2 4.4-1.3 6.4-1.1 1.9 .2 4.4 1.8 5.3 2.2M648 110.4c-.6 .8-2 3.3-3.2 4.3-1.3 1.1-3.7 .7-4.3 2.2-.6 1.4 .9 4.6 .5 6.4-.3 1.8-2.2 3.5-2.7 4.3M620.2 103c-.6 .9-2 3.7-3.2 5.3-1.3 1.6-2.5 3.8-4.3 4.3-1.8 .5-6.1-1.8-6.4-1.1-.4 .7 3.2 3.4 4.2 5.4 1.1 1.9 1.8 5.3 2.2 6.4M578.4 116.9c1.1-.6 4.3-2.5 6.5-3.2 2.1-.8 5-1.6 6.4-1.1 1.4 .5 2.3 2.5 2.1 4.3-.2 1.7-2.7 5.3-3.2 6.4M544.1 6.7c-1.1 .9-4.7 2.9-6.7 5.3-2 2.5-4.6 6.3-5.3 9.4-.7 3.1 .2 6.7 1.3 9.3 1.1 2.7 4.9 4.7 5.4 6.7 .4 2-2.9 4.9-2.7 5.4 .2 .4 3.3-2.2 4-2.7M552.1 8c.7-.4 2.5-2.4 4-2.7 1.6-.2 4.5 1.2 5.4 1.4M538.8 53.5c-.3 1.5-1.6 6.9-1.4 9.3 .3 2.5 1.6 4.9 2.7 5.4 1.1 .4 3.3-2.2 4-2.7M560.2 66.8c-.3 .9-2 4.3-1.4 5.4 .7 1.1 3.6 1.3 5.4 1.3 1.8 0 3.5-1.2 5.3-1.3 1.8-.1 4.7 2 5.4 .7 .6-1.4-1.1-7.3-1.4-8.7M580.2 12c.2 .7 2 2.7 1.4 4-.7 1.4-4.5 3.4-5.4 4.1M577.5 44.1c.9 2 4.9 9.4 5.4 12 .4 2.7-2.2 3.4-2.7 4.1M592.2 48.8c.7 .8 2.5 3.2 4.1 4.7 1.5 1.4 3.7 4 5.3 4 1.6 0 2.5-2.9 4-4 1.6-1.1 4.5-2.3 5.4-2.7M546.8 13.4c.7 1.1 4.2 4.4 4 6.7-.2 2.2-5.3 4.6-5.3 6.6 0 2 4.4 4.5 5.3 5.4M520.1 20.1c1.1-.7 4.4-3.8 6.6-4.1 2.3-.2 5.6 2.3 6.7 2.7"/><path stroke="#2dc02d" stroke-width="3.8" d="M552.8 204.7c.9 .5 3.5 2.3 5.3 3.2 1.8 .9 3.4 2.1 5.4 2.1 1.9 0 5.3-1.8 6.4-2.1"/><path stroke="#2dc02d" stroke-width="3.5" d="M526 175.8c.6-.5 1.8-2.3 3.3-3.2 1.4-.9 3.9-2.3 5.3-2.2 1.4 .2 2.3 1.8 3.2 3.3 .9 1.4 2.3 3.5 2.1 5.3-.1 1.8-1.7 4.1-3.2 5.4-1.4 1.2-4.2 1-5.3 2.1-1.1 1.1-1.8 3.2-1.1 4.3 .7 1 4.3 .9 5.4 2.1 1 1.3 1.8 4.1 1 5.4-.7 1.2-4.1 1.2-5.3 2.1-1.3 .9-1.8 2.7-2.1 3.2M602 66.6c.7-.2 2.8-1.2 4.3-1.1 1.4 .2 2.6 1.5 4.2 2.2 1.6 .7 3.2 1 5.4 2.1 2.1 1.1 6.2 3.6 7.5 4.3M621.2 96.5c1.1-.1 4.5-1.2 6.4-1 2 .2 5 1.3 5.4 2.1 .4 .8-3.7 2-3.2 2.7 .5 .7 4.8 .6 6.4 1.6 1.6 1 2 3.9 3.2 4.3 1.3 .3 3-2.2 4.3-2.2 1.2 0 2.8 1.1 3.2 2.2 .4 1-.4 3.5-.5 4.2M582.9 33.4c1.1-.1 6-1.5 6.7-.6 .6 .8-3.1 4.7-2.7 6 .4 1.2 5.1 .2 5.3 1.3 .3 1.1-4 4-4 5.4 0 1.3 4.3 1.7 4 2.6-.2 .9-4.4 2.3-5.3 2.7"/><path stroke="#2dc02d" stroke-width="3.2" d="M554.9 196.1c1.1 .4 4.3 2 6.4 2.2 2.2 .1 4.7-.8 6.5-1.1 1.7-.4 3.5-.9 4.2-1.1"/><path stroke="#2dc02d" stroke-width="3" d="M648 142.6c.5 .4 3 1.3 3.2 2.2 .2 .9-1.8 2.7-2.2 3.2M578.4 140.5c1.1 1.6 4.3 6.1 6.5 9.6 2.1 3.6 4.6 8.4 6.4 11.8 1.8 3.4 3.5 7.1 4.3 8.5M584.9 138.4c1.2 1.6 5.1 6.2 7.5 9.6 2.3 3.4 4.6 7.7 6.4 10.7 1.8 3 3.5 6.2 4.2 7.5M574.2 144.8c.7 1.8 2.8 6.8 4.2 10.7 1.5 3.9 3.3 8.2 4.3 12.8 1.1 4.6 1.8 12.5 2.2 15M560.3 187.6c.9 .1 3.9 1.2 5.3 1 1.4-.1 2.7-1.8 3.2-2.1M605.2 58.6c.9 .1 3.7-.1 5.3 .5 1.6 .6 3.1 2 4.3 3.2 1.3 1.3 2.7 3.6 3.2 4.3M617 67.7c1 1.2 4.4 5 6.4 7.5 1.9 2.5 3.7 4.6 5.3 7.4 1.6 2.9 3.2 7.2 4.3 9.7 1.1 2.5 1.8 4.4 2.1 5.3"/><path stroke="#2dc02d" stroke-width="2.8" d="M591.3 139.4c1.2 1.6 5.2 6.6 7.5 9.7 2.3 3 4.4 5.8 6.4 8.5 1.9 2.7 4.4 6.3 5.3 7.5"/><path stroke="#2dc02d" stroke-width="2.5" d="M592.4 128.7c1.4-.8 5.3-3.7 8.5-4.8 3.2-1 7.1-1.4 10.7-1.6 3.6-.2 7.5 .1 10.7 .6 3.2 .4 7.1 1.7 8.6 2.1M609.5 142.6c.9-1.2 3.9-5.3 5.3-7.4 1.4-2.2 2.7-4.5 3.2-5.4M642.6 159.8c-.1 .5-.4 2.6-.5 3.2M569.9 152.3c.7 1.9 2.8 7.6 4.3 11.7 1.4 4.1 3.2 9.1 4.2 12.9 1.1 3.7 1.8 8 2.2 9.6M545.3 152.3c1.2 .9 5.5 3 7.5 5.3 1.9 2.3 3.5 7.1 4.3 8.6M552.8 152.3c1.2 1.2 5.3 4.8 7.5 7.5 2.1 2.6 4.4 7.1 5.3 8.5M628.7 82.6c1.6 .9 6.4 3.4 9.6 5.4 3.3 2 7 4.5 9.7 6.4 2.6 1.9 5.3 4 6.4 4.8M544.1 52.1c.9 .9 5.1 3.6 5.4 5.4 .2 1.8-3.4 4.4-4 5.3M558.8 10.7c1.4 .4 4.9 2.7 8 2.7 3.2 0 9-2.3 10.7-2.7M572.2 24.1c.3 2.6 1.9 10.7 2 16 .1 5.4-1.1 13.4-1.3 16"/><path stroke="#2dc02d" stroke-width="2.2" d="M597.7 142.6c1.1 1.5 4.1 5.4 6.4 8.6 2.3 3.2 5.2 7.7 7.5 10.7 2.3 3 5.4 6.2 6.4 7.5"/><path stroke="#2dc02d" stroke-width="2" d="M606.3 139.4c1.6-.3 6.7-1.2 9.6-2.1 2.8-.9 6.2-2.7 7.5-3.2M559.2 150.1c1.1 .9 4.6 3.4 6.4 5.4 1.8 1.9 3.6 5.3 4.3 6.4M536.7 158.7c1.1-.6 4.7-2.2 6.5-3.2 1.7-1.1 3.5-2.7 4.2-3.2M629.8 84.8c1.1 1.1 3.9 4.3 6.4 6.4 2.5 2.1 5.5 5 8.6 6.4 3 1.4 8 1.8 9.6 2.2M552.1 38.8c.4 1.3 2.2 5.3 2 8-.1 2.7-2.2 6.7-2.6 8M540.1 58.8c1.1 .7 5.6 3.4 6.7 4M566.8 50.8c-.1 1.6-.7 6.2-.6 9.4 .1 3.1 1.1 7.8 1.3 9.3M574.9 42.8c.3 1.8 1.6 8.9 2 10.7M540.1 25.4c.7-.2 2.7-1.6 4-1.3 1.4 .2 3.4 2.2 4 2.6M557.5 28.1c.7 .6 3.3 3.3 4 4"/><path stroke="#2dc02d" stroke-width="1.8" d="M618 144.8c.9-1.3 3.6-5.2 5.4-7.5 1.8-2.3 4.4-5.4 5.3-6.4M557.1 157.6c.7 1.1 3.2 4.3 4.2 6.4 1.1 2.2 1.8 5.4 2.2 6.4"/><path stroke="#2dc02d" stroke-width="1.5" d="M602 133c1.8-.7 7.1-3.2 10.7-4.3 3.5-1 7.6-1.9 10.7-2.1 3-.2 6.2 .9 7.5 1.1M625.5 153.3c.4 .7 1.1 3.4 2.1 4.3 1.1 .9 3.6 .9 4.3 1.1M583.8 128.7c.7 .9 3.6 4.5 4.3 5.4M572 148c.7 1.6 3.1 6.6 4.3 9.6 1.3 3 2.7 7.1 3.2 8.6M581.7 144.8c.8 1.4 3.5 5.3 5.3 8.5 1.8 3.2 4.5 8.9 5.4 10.7M588.1 143.7c1 1.4 4.3 5.5 6.4 8.6 2.1 3 5.3 8 6.4 9.6M548.5 159.8c.7 1 3.6 5.3 4.3 6.4"/><path stroke="#11331a" stroke-width="3.5" d="M638.3 146.9c-.1 1.1-.1 4.3-1 6.4-.9 2.2-3.6 5.4-4.3 6.5"/><path stroke="#11331a" stroke-width="3" d="M553.5 36.1c.4 1.3 2.6 5.1 2.6 8 0 2.9-1.3 6.7-2.6 9.4-1.4 2.6-4.5 5.5-5.4 6.7"/><path stroke="#11331a" stroke-width="2.5" d="M645.8 146.9c-.1 1.1-.5 4.3-1 6.4-.6 2.2-1.8 5.4-2.2 6.5M602 67.7c.3 .9 1.2 3.9 2.1 5.3 .9 1.4 2.7 2.7 3.2 3.2M564.2 4c.6-.2 2.9-2 4-1.3 1.1 .6 3.8 3.5 2.7 5.3-1.2 1.8-7.8 4.5-9.4 5.4"/><path stroke="#11331a" stroke-width="2" d="M565.6 157.6c.9 2.2 3.9 9.3 5.4 12.8 1.4 3.6 2.6 7.2 3.2 8.6M542.1 157.6c.9 1.4 3.9 5.7 5.3 8.6 1.5 2.8 2.7 7.1 3.2 8.5M567.8 170.4c.5 1.1 2.8 4.1 3.2 6.5 .3 2.3-.2 5.3-1.1 7.5-.9 2.1-3.6 4.4-4.3 5.3M535.7 170.4c.5 .9 2.6 4.5 3.2 5.4M612.7 59.6c.7 .7 3.4 2.5 4.3 3.8 .8 1.3 .8 3.6 1 4.3M627.6 98.7c.8 .5 3.6 2.7 4.3 3.2M637.3 105.1c.5 .4 2.6 1.8 3.2 2.1M645.8 107.2c.2 .7 .9 3.2 1.1 3.8M572.2 11.4c1.1-.3 5.6-1.2 6.7-1.4M569.5 20.1c.2 2.2 .9 8.9 1.4 13.3 .4 4.5 1.7 8.3 1.3 13.4-.5 5.1-3.3 14.5-4 17.4M585.6 36.1c.4 .7 2.2 3.3 2.6 4"/><path stroke="#11331a" stroke-width="1.5" d="M554.9 161.9c.4 1.4 1.8 7.1 2.2 8.5M531.4 187.6c.5 .5 2.7 2.6 3.2 3.2M528.7 198.3c.2 .7 .9 3.5 1.1 4.2M587 136.2c.4-1 1.7-4.6 2.1-6.4 .5-1.8 .5-3.6 .6-4.3M627.6 80.5c-.3-1.1-1.6-4.3-2.1-6.4-.4-2.2-.4-5.4-.5-6.4M542.8 16c-.5 .9-2.2 4.5-2.7 5.4"/><path stroke="#11331a" stroke-width="1.3" d="M630.9 125c1.2 .4 5.1 1.3 7.4 2.7 2.4 1.3 4.9 3.4 6.5 5.3 1.5 2 2.2 5.4 2.6 6.4"/><path stroke="#11331a" stroke-width="1.2" d="M617 133c1.4-.5 5.8-2.5 8.5-3.2 2.7-.7 6.2-.9 7.5-1.1M580.6 146.9c.7 1.8 2.8 7.1 4.3 10.7 1.4 3.6 3.5 8.9 4.2 10.7M593.4 144.8c1.1 1.8 4.3 7.5 6.4 10.7 2.2 3.2 5.4 7.1 6.5 8.5"/></g><path fill="none" stroke="#48c448" stroke-width=".95" stroke-opacity=".85" d="M578.9 62.1c-1.4 .3-4.9 .1-8.1 1.8-3.1 1.7-9.3 7.5-10.7 8.2-1.3 .8 .7-1.1 2.6-3.9 1.9-2.8 7.2-7.4 8.7-12.7 1.5-5.3 .2-16 .2-19.1M550.6 44.6c1.5 2.7 8.8 13.9 8.9 16.3 0 2.4-5.3 1.5-8.6-2-3.3-3.4-10-14.1-11.2-18.6-1.2-4.5 3.2-5.3 4.1-8.3 .9-3 1-8.1 1.2-9.7M539 20c2.6 0 12.4 1.5 15.3 .2 2.9-1.4 1.3-8.7 2.2-8.1 .9 .6 1.4 8.4 3.3 11.6 1.9 3.2 4.4 6.4 8.3 7.6 3.9 1.3 12.5-.1 15-.1M565.1 27.1c-.3-1.7-2.1-6.9-1.7-10.2 .5-3.2 4.5-9.5 4.3-9.3-.3 .2-1.6 7.7-5.8 10.6-4.2 2.9-15.6 3.8-19.3 6.8-3.6 3-2.2 9.4-2.6 11.2M554.3 66.1c-1.2-1.5-4.5-8.3-7.1-9.2-2.7-.9-9.5 3.3-8.9 3.8 .6 .5 8.3 1.2 12.4-.7 4.1-1.8 10.3-8.7 12.4-10.5M574 11.4c.1 1.1 .7 3.7 .8 6.6 .1 2.8-1.3 7.9-.2 10.5 1.1 2.6 5 2.6 6.7 5 1.8 2.3 2.4 5.7 3.8 9.1 1.4 3.4 4.5 10.2 4.6 11.2 .2 1.1-3-4-3.6-4.8M576 50.6c-2-2.3-8.9-9.5-11.8-13.9-3-4.4-5.6-7.7-5.9-12.5-.3-4.8 3.6-14.8 4.1-16.3 .5-1.4-.2 4.7-1.2 7.4-.9 2.8-3.8 7.8-4.6 9.3M574.2 45.1c.3 2.9 2.4 15.7 1.9 17.6-.5 2-1.5-4.1-5.1-5.9-3.6-1.8-11.5-5.5-16.5-5-5.1 .5-11.6 6.8-13.9 8.2M545.9 53.5c1.8-.6 8.1-1.3 11-3.6 3-2.2 4.5-4.9 6.7-10 2.2-5.2 4.4-18.9 6.7-20.8 2.2-2 3.8 5.7 6.9 9.2 3 3.4 9.6 9.6 11.5 11.5M636.2 98.9c0-.8 .1-2.4 0-4.9 0-2.6 .4-6.7-.4-10.2-.8-3.6-4.3-10-4.4-11 0-1 2.1 3.6 4.2 4.9 2.1 1.4 7.1 2.7 8.5 3.3M623.2 96.6c-.9-1.9-3.9-7.5-5.5-11.6-1.7-4-3.2-8.9-4.5-12.7-1.4-3.8-2.5-7.4-3.7-10.2-1.2-2.9-5.1-7.6-3.8-7 1.3 .6 8.5 6.5 11.4 10.4 2.9 3.9 4.9 10.8 5.9 12.9M598.9 71.6c-.8-.1-2.8 1-4.6-.7-1.9-1.7-7.1-8.6-6.6-9.5 .6-.8 7.4 2.9 10.1 4.3 2.7 1.5 5.3 3.6 6.3 4.3M599.5 193.6c-2.6-1.8-11.4-7.6-15.6-10.7-4.1-3.1-7-5.6-9.2-7.9-2.3-2.3-5.2-2.5-4.4-5.7 .7-3.3 9.7-12.2 9.1-13.8-.6-1.6-9.7 .8-12.6 4.3-2.9 3.6-2.5 10.6-4.8 16.8-2.3 6.3-7.7 17.3-9.2 20.7M538 172.8c1.5 1 2.7 6.9 9 6.1 6.4-.9 21.6-6 29.2-11.1 7.7-5.1 10.5-14 16.6-19.5 6-5.5 14.7-9.7 19.9-13.5 5.1-3.9 9.1-8 10.9-9.6M634.6 166.1c-3.5 2.6-16.2 11.4-21.2 15.5-5.1 4.1-7.1 8.6-9.1 9.4-2 .8 .9-4.5-2.9-4.7-3.9-.2-13.4-.7-20.4 3.4-7.1 4-20.3 19.9-22 21-1.7 1.1 9.7-12.3 11.6-14.7M648.6 133.1c1.1 .9 7.1 3.3 6.3 5.5-.8 2.2-7.1 4.5-11 7.6-3.9 3.1-7.8 9.2-12.5 11-4.6 1.8-13-.2-15.6-.2M562.5 155.3c1.4 .2 4.8 2.1 8.6 1.6 3.9-.5 9-2 14.4-4.6 5.4-2.6 12.3-7.7 17.9-10.9 5.6-3.3 9-4.5 15.5-8.7 6.5-4.2 19.4-13.9 23.2-16.7M573.4 134.8c-.7 2.4 .4 8.6-4 14-4.4 5.5-17.7 14.2-22.4 18.8-4.6 4.7-2.1 5-5.6 9.3-3.6 4.4-13.2 14-15.8 16.8M571.9 164c-2.8-1.7-17.6-6.6-16.6-9.8 1-3.3 15-7.8 22.6-9.8 7.5-2 17.6-2.1 22.9-2.2 5.2 0 2.1 2.8 8.4 2 6.3-.8 27.5-8.4 29.2-7 1.8 1.5-11.4 12.1-18.7 15.7-7.3 3.6-20.8 5.1-25 6.1M554.9 176c-.4-2.1-5.5-10.1-2.4-12.8 3.2-2.7 15.4-5 21.3-3.5 5.8 1.5 8.9 10.3 13.8 12.6 5 2.2 9.6 1.3 15.9 .9 6.2-.3 18.2-2.4 21.8-2.9M539.2 175.9c1.9-1.6 6-4.4 11.9-9.5 5.8-5 17.1-15.3 23.2-20.9 6.1-5.5 7.5-10.3 13.2-12.4 5.7-2 15.6 .9 21 .2 5.3-.7 7-2.1 11.3-4.3 4.2-2.3 11.1-9.1 14.2-9 3.1 .1 3.7 8.1 4.4 9.7M571.9 138.4c3 1.5 14.2 5 18 8.9 3.9 3.9 4.7 10.2 5.2 14.6 .5 4.4-5.3 11-2.3 11.6 3 .6 15-3.8 20.4-7.8 5.3-4.1 11.6-11.4 11.7-16.4 0-5-8.1-8.3-11.3-13.5-3.3-5.1-6.9-14.5-8.3-17.4M565.7 194.1c-.9-.9-4.5-3.2-4.9-5.5-.4-2.4-1.3-4.2 2.5-8.8 3.9-4.5 13.3-13.6 20.5-18.5 7.2-4.9 19-9.1 22.8-10.9"/><g fill="none" stroke-linecap="round" stroke-linejoin="round"><path stroke="#40c040" stroke-width="1.05" stroke-opacity=".92" d="M752.8 142.8c0 .9 1 3.2 .5 5.3-.5 2.2-2.4 5-3.8 7.5-1.3 2.5-2.6 5.2-4.2 7.5-1.6 2.3-4.3 4.6-5.4 6.4-1.1 1.8-1.6 2.9-1.1 4.3 .6 1.4 2.7 3.2 4.3 4.3 1.6 1.1 4.3 2.8 5.4 2.1 1-.7 1.2-4.3 1-6.4-.1-2.1-2.5-4.3-2.1-6.4 .4-2.1 3.6-5.4 4.3-6.4M760.2 144.9c.8-1 2.7-5.5 4.3-6.4 1.6-.9 4.7 .2 5.4 1.1 .7 .9 0 3-1.1 4.3-1.1 1.2-4.8 2.1-5.4 3.2-.5 1 .9 2.8 2.2 3.2 1.2 .3 3.2-.2 5.3-1.1 2.2-.9 5.2-3.4 7.5-4.3 2.3-.9 4.3-1.2 6.4-1 2.2 .1 6.1 1 6.5 2.1 .3 1.1-4.3 2.9-4.3 4.3 0 1.4 3.5 3.5 4.3 4.3M800.9 126.8c1.2-.9 5.3-4 7.5-5.4 2.1-1.4 3.9-3.4 5.3-3.2 1.4 .2 3 2.5 3.2 4.3 .2 1.8-.7 4.8-2.1 6.4-1.4 1.6-4.5 3-6.4 3.2-2 .2-4-2.7-5.4-2.1-1.4 .5-3 3.5-3.2 5.3-.2 1.8 .7 4.8 2.1 5.4 1.5 .5 5.4-1.8 6.5-2.2M829.8 117.1c.7 .6 3.7 1.6 4.2 3.2 .6 1.6-1.7 5.7-1 6.5 .7 .7 3.4-.8 5.3-2.2 2-1.4 4.6-4.3 6.4-6.4 1.8-2.1 2.7-5.2 4.3-6.4 1.6-1.3 3.6-1.4 5.4-1.1 1.7 .4 3.7 1.6 5.3 3.2 1.6 1.6 3.4 4.3 4.3 6.4 .9 2.2 1.8 5 1.1 6.5-.8 1.4-4.5 1.7-5.4 2.1M875.7 142.8c.9 .5 4.1 2.1 5.4 3.2 1.2 1.1 2.5 2.3 2.1 3.2-.3 .9-2.6 2-4.2 2.2-1.6 .1-4.5-.9-5.4-1.1M865.1 167.4c-.2 .9-.4 5-1.1 5.3-.7 .4-2.2-2.3-3.2-3.2-1.1-.9-2.7-1.8-3.2-2.1M841.5 171.7c.9 .3 3.8 1.4 5.4 2.1 1.6 .7 4.1 1.3 4.2 2.1 .2 .9-1.6 2.9-3.2 3.3-1.6 .3-4.4-.2-6.4-1.1-1.9-.9-4.4-3.6-5.3-4.3M819.1 182.4c1 .7 4.2 3.2 6.4 4.2 2.1 1.1 4.6 2.2 6.4 2.2 1.8 0 4.6-2.5 4.3-2.2-.4 .4-4.3 3.8-6.4 4.3-2.2 .6-4.7-1.4-6.5-1-1.7 .3-2.8 2.1-4.2 3.2-1.5 1-4.7 2.3-4.3 3.2 .3 .9 5.2 1.2 6.4 2.1 1.2 .9 2.1 2.5 1.1 3.2-1.1 .7-5.2 1.6-7.5 1.1-2.3-.5-4.5-3.2-6.4-4.3-2-1.1-5-1.2-5.4-2.1-.3-.9 1.6-2.3 3.2-3.2 1.6-.9 5.4-1.8 6.4-2.2M774.1 196.3c-.1 .9-1.4 3.9-1 5.3 .3 1.4 1.8 3.4 3.2 3.2 1.4-.2 5-2.6 5.3-4.3 .4-1.6-3.5-3.9-3.2-5.3 .4-1.4 4.5-2.7 5.4-3.2M796.6 201.6c.5 .7 2 2.9 3.2 4.3 1.3 1.4 2.9 3.4 4.3 4.3 1.4 .9 3.6 .2 4.3 1 .7 .9 .7 3.3 0 4.3-.7 1.1-2.9 2.3-4.3 2.2-1.4-.2-2.7-2.7-4.3-3.2-1.6-.6-4.4 0-5.3 0M772 214.5c.2-.6 .4-2.5 1.1-3.3 .7-.7 2.6-.8 3.2-1M752.8 209.1c.7 .5 2.6 3 4.2 3.2 1.6 .2 4-1.4 5.4-2.1 1.4-.7 3-1.5 3.2-2.2 .2-.7-1.8-1.7-2.2-2.1M801.9 148.1c-.3-.8-2.3-3.7-2.1-5.3 .2-1.6 1.8-3.9 3.2-4.3 1.4-.3 4.5 1.8 5.4 2.2M827.6 175.9c1.1 .8 4.3 3.3 6.4 4.3 2.2 1.1 4.3 2.5 6.5 2.2 2.1-.4 4.8-3.2 6.4-4.3 1.6-1.1 2.6-1.8 3.2-2.2M834 150.3c-.7 .7-3.7 2.5-4.2 4.3-.6 1.7 0 4.6 1 6.4 1.1 1.8 4.5 3.5 5.4 4.3M851.1 139.6c.9 .9 4.1 3.2 5.4 5.3 1.2 2.2 2.5 5.4 2.1 7.5-.3 2.2-2.8 3.9-4.2 5.4-1.5 1.4-3.6 2.6-4.3 3.2M808.4 190.9c.3 .9 1 3.9 2.1 5.4 1.1 1.4 3.6 2.6 4.3 3.2M823.3 171.7c-.7 1-3.9 4.2-4.2 6.4-.4 2.1 1.7 5.3 2.1 6.4M797.7 182.4c1.8-.9 7.1-3.6 10.7-5.4 3.5-1.8 7.5-4.8 10.7-5.3 3.2-.6 7.1 1.8 8.5 2.1M765.6 155.6c-.7-.5-3.9-1.9-4.3-3.2-.3-1.2 .9-3.9 2.1-4.3 1.3-.3 4.5 1.8 5.4 2.2M784.8 182.4c-.7 .7-2.8 3.2-4.2 4.2-1.5 1.1-4 1.1-4.3 2.2-.4 1.1 1.8 3.5 2.1 4.3M856.5 171.7c-.9-.4-3.7-1.5-5.4-2.2-1.6-.7-2.8-1-4.2-2.1-1.5-1.1-3.6-3.6-4.3-4.3M793.4 139.6c.7-.4 3.4-2.7 4.3-2.2 .9 .6 1.4 4 1 5.4-.3 1.4-2.6 2.7-3.2 3.2M829.8 175.9c-.8 .8-4 2.9-4.3 4.3-.4 1.5 .7 3.6 2.1 4.3 1.4 .7 5.4 0 6.4 0M803 67.3c.9 0 3.4 .1 5.4 0 1.9-.1 4.6 .1 6.4-.5 1.8-.7 4.3-2 4.3-3.3 0-1.2-2.8-3.3-4.3-4.2-1.5-.9-4.5-.4-4.8-1.1-.4-.7 1.3-2.6 2.6-3.2 1.4-.6 3.8-1.1 5.4-.5 1.6 .5 3.2 2.4 4.3 3.7 1 1.3 1 3.4 2.1 4.3 1.1 .9 3.6 .9 4.3 1M840.5 64.6c.7-.1 2.9-1.1 4.2-.5 1.4 .5 3.2 2 3.8 3.7 .5 1.7-.5 5.4-.6 6.4M819.1 79.6c.7-.4 2.5-2 4.2-2.2 1.8-.1 4.9 .6 6.5 1.1 1.6 .6 3.5 1.3 3.2 2.2-.4 .8-3.4 2.8-5.4 3.2-1.9 .3-5-.4-6.4-1.1-1.4-.7-1.8-2.7-2.1-3.2M829.8 83.9c.1 1 0 4.8 1 6.4 1.1 1.6 3.8 1.9 5.4 3.2 1.6 1.2 2.8 3 4.3 4.3 1.4 1.2 3.5 2.6 4.2 3.2M833 82.8c1-.2 4.4-1.3 6.4-1.1 1.9 .2 4.4 1.8 5.3 2.2M871.5 115.9c-.6 .8-2 3.3-3.2 4.3-1.3 1.1-3.7 .7-4.3 2.2-.6 1.4 .9 4.6 .5 6.4-.3 1.8-2.2 3.5-2.7 4.3M843.7 108.5c-.6 .9-2 3.7-3.2 5.3-1.3 1.6-2.5 3.8-4.3 4.3-1.8 .5-6.1-1.8-6.4-1.1-.4 .7 3.2 3.4 4.2 5.4 1.1 1.9 1.8 5.3 2.2 6.4M801.9 122.4c1.1-.6 4.3-2.5 6.5-3.2 2.1-.8 5-1.6 6.4-1.1 1.4 .5 2.3 2.5 2.1 4.3-.2 1.7-2.7 5.3-3.2 6.4M777.5 38.8c.2-.9 0-4.4 1.3-5.4 1.4-1 5.1-1.5 6.7-.6 1.6 .8 3.1 4.1 2.7 6-.5 1.9-3.6 4.6-5.4 5.3-1.7 .7-4.4-1.1-5.3-1.3M762.8 66.8c.4 1.4 1.5 5.8 2.7 8.1 1.1 2.2 2.6 4.9 4 5.3 1.3 .5 3.3-2.2 4-2.7M776.1 85.6c.7 1.3 2.9 6.2 4.1 8 1.1 1.8 1.5 2.9 2.6 2.7 1.1-.3 3.4-3.4 4-4.1M792.2 98.9c.7 .7 2.2 3.1 4 4 1.8 .9 5.6 1.2 6.7 1.4M818.9 86.9c-.9 .9-3.3 4.2-5.3 5.3-2 1.2-5.6 1.2-6.7 1.4M825.6 52.1c.9 .3 3.6 .3 5.4 1.4 1.7 1.1 4.9 3.5 5.3 5.3 .5 1.8-2.2 4.5-2.7 5.4M773.5 72.2c.6 1.3 2.4 5.8 4 8 1.5 2.2 4.4 4.5 5.3 5.4M786.8 46.8c1.4-.2 5.4-2 8.1-1.3 2.6 .6 6.7 4.4 8 5.3"/><path stroke="#2dc02d" stroke-width="3.8" d="M776.3 210.2c.9 .5 3.5 2.3 5.3 3.2 1.8 .9 3.4 2.1 5.4 2.1 1.9 0 5.3-1.8 6.4-2.1"/><path stroke="#2dc02d" stroke-width="3.5" d="M749.5 181.3c.6-.5 1.8-2.3 3.3-3.2 1.4-.9 3.9-2.3 5.3-2.2 1.4 .2 2.3 1.8 3.2 3.3 .9 1.4 2.3 3.5 2.1 5.3-.1 1.8-1.7 4.1-3.2 5.4-1.4 1.2-4.2 1-5.3 2.1-1.1 1.1-1.8 3.2-1.1 4.3 .7 1 4.3 .9 5.4 2.1 1 1.3 1.8 4.1 1 5.4-.7 1.2-4.1 1.2-5.3 2.1-1.3 .9-1.8 2.7-2.1 3.2M825.5 72.1c.7-.2 2.8-1.2 4.3-1.1 1.4 .2 2.6 1.5 4.2 2.2 1.6 .7 3.2 1 5.4 2.1 2.1 1.1 6.2 3.6 7.5 4.3M844.7 102c1.1-.1 4.5-1.2 6.4-1 2 .2 5 1.3 5.4 2.1 .4 .8-3.7 2-3.2 2.7 .5 .7 4.8 .6 6.4 1.6 1.6 1 2 3.9 3.2 4.3 1.3 .3 3-2.2 4.3-2.2 1.2 0 2.8 1.1 3.2 2.2 .4 1-.4 3.5-.5 4.2M806.9 46.8c.7-.7 2.4-3.8 4-4 1.6-.2 4.9 1.1 5.4 2.7 .4 1.5-2.3 5.5-2.7 6.6"/><path stroke="#2dc02d" stroke-width="3.2" d="M778.4 201.6c1.1 .4 4.3 2 6.4 2.2 2.2 .1 4.7-.8 6.5-1.1 1.7-.4 3.5-.9 4.2-1.1"/><path stroke="#2dc02d" stroke-width="3" d="M871.5 148.1c.5 .4 3 1.3 3.2 2.2 .2 .9-1.8 2.7-2.2 3.2M801.9 146c1.1 1.6 4.3 6.1 6.5 9.6 2.1 3.6 4.6 8.4 6.4 11.8 1.8 3.4 3.5 7.1 4.3 8.5M808.4 143.9c1.2 1.6 5.1 6.2 7.5 9.6 2.3 3.4 4.6 7.7 6.4 10.7 1.8 3 3.5 6.2 4.2 7.5M797.7 150.3c.7 1.8 2.8 6.8 4.2 10.7 1.5 3.9 3.3 8.2 4.3 12.8 1.1 4.6 1.8 12.5 2.2 15M783.8 193.1c.9 .1 3.9 1.2 5.3 1 1.4-.1 2.7-1.8 3.2-2.1M828.7 64.1c.9 .1 3.7-.1 5.3 .5 1.6 .6 3.1 2 4.3 3.2 1.3 1.3 2.7 3.6 3.2 4.3M840.5 73.2c1 1.2 4.4 5 6.4 7.5 1.9 2.5 3.7 4.6 5.3 7.4 1.6 2.9 3.2 7.2 4.3 9.7 1.1 2.5 1.8 4.4 2.1 5.3M773.5 42.8c-.5 2.2-2 9.8-2.7 13.3-.7 3.6-1.1 6.7-1.3 8.1M816.3 45.5c.8 .6 3.7 3.1 5.3 4 1.6 .9 3.6 0 4 1.3 .5 1.3-1.1 5.6-1.3 6.7"/><path stroke="#2dc02d" stroke-width="2.8" d="M814.8 144.9c1.2 1.6 5.2 6.6 7.5 9.7 2.3 3 4.4 5.8 6.4 8.5 1.9 2.7 4.4 6.3 5.3 7.5"/><path stroke="#2dc02d" stroke-width="2.5" d="M815.9 134.2c1.4-.8 5.3-3.7 8.5-4.8 3.2-1 7.1-1.4 10.7-1.6 3.6-.2 7.5 .1 10.7 .6 3.2 .4 7.1 1.7 8.6 2.1M833 148.1c.9-1.2 3.9-5.3 5.3-7.4 1.4-2.2 2.7-4.5 3.2-5.4M866.1 165.3c-.1 .5-.4 2.6-.5 3.2M793.4 157.8c.7 1.9 2.8 7.6 4.3 11.7 1.4 4.1 3.2 9.1 4.2 12.9 1.1 3.7 1.8 8 2.2 9.6M768.8 157.8c1.2 .9 5.5 3 7.5 5.3 1.9 2.3 3.5 7.1 4.3 8.6M776.3 157.8c1.2 1.2 5.3 4.8 7.5 7.5 2.1 2.6 4.4 7.1 5.3 8.5M852.2 88.1c1.6 .9 6.4 3.4 9.6 5.4 3.3 2 7 4.5 9.7 6.4 2.6 1.9 5.3 4 6.4 4.8M773.5 60.2c1.5-.7 5.8-3.8 9.3-4.1 3.6-.2 8.3 .9 12.1 2.7 3.8 1.8 8.9 6.7 10.7 8M782.8 74.9c.7 1.3 3.4 6.7 4 8"/><path stroke="#2dc02d" stroke-width="2.2" d="M821.2 148.1c1.1 1.5 4.1 5.4 6.4 8.6 2.3 3.2 5.2 7.7 7.5 10.7 2.3 3 5.4 6.2 6.4 7.5"/><path stroke="#2dc02d" stroke-width="2" d="M829.8 144.9c1.6-.3 6.7-1.2 9.6-2.1 2.8-.9 6.2-2.7 7.5-3.2M782.7 155.6c1.1 .9 4.6 3.4 6.4 5.4 1.8 1.9 3.6 5.3 4.3 6.4M760.2 164.2c1.1-.6 4.7-2.2 6.5-3.2 1.7-1.1 3.5-2.7 4.2-3.2M853.3 90.3c1.1 1.1 3.9 4.3 6.4 6.4 2.5 2.1 5.5 5 8.6 6.4 3 1.4 8 1.8 9.6 2.2M800.2 57.5c1.8 .4 7.6 1.1 10.7 2.7 3.1 1.5 6.2 4.2 8 6.6 1.8 2.5 2.3 6.7 2.7 8.1M770.8 69.5c1.3-.9 5.3-4.7 8-5.3 2.7-.7 6.7 1.1 8 1.3M789.5 77.5c.5 1.4 2.2 6.7 2.7 8.1"/><path stroke="#2dc02d" stroke-width="1.8" d="M841.5 150.3c.9-1.3 3.6-5.2 5.4-7.5 1.8-2.3 4.4-5.4 5.3-6.4M780.6 163.1c.7 1.1 3.2 4.3 4.2 6.4 1.1 2.2 1.8 5.4 2.2 6.4"/><path stroke="#2dc02d" stroke-width="1.5" d="M825.5 138.5c1.8-.7 7.1-3.2 10.7-4.3 3.5-1 7.6-1.9 10.7-2.1 3-.2 6.2 .9 7.5 1.1M849 158.8c.4 .7 1.1 3.4 2.1 4.3 1.1 .9 3.6 .9 4.3 1.1M807.3 134.2c.7 .9 3.6 4.5 4.3 5.4M795.5 153.5c.7 1.6 3.1 6.6 4.3 9.6 1.3 3 2.7 7.1 3.2 8.6M805.2 150.3c.8 1.4 3.5 5.3 5.3 8.5 1.8 3.2 4.5 8.9 5.4 10.7M811.6 149.2c1 1.4 4.3 5.5 6.4 8.6 2.1 3 5.3 8 6.4 9.6M772 165.3c.7 1 3.6 5.3 4.3 6.4"/><path stroke="#11331a" stroke-width="3.5" d="M861.8 152.4c-.1 1.1-.1 4.3-1 6.4-.9 2.2-3.6 5.4-4.3 6.5M766.1 39.4c-.3 2.4-1.5 9.5-2 14.1-.4 4.5-.5 11.1-.7 13.3"/><path stroke="#11331a" stroke-width="3" d="M798.9 81.6c.4 2 2 8.6 2.7 12 .6 3.3 1.1 6.7 1.3 8M813.6 78.9c-.2 2-.7 8.2-1.4 12-.6 3.8-2.2 8.9-2.6 10.7"/><path stroke="#11331a" stroke-width="2.5" d="M869.3 152.4c-.1 1.1-.5 4.3-1 6.4-.6 2.2-1.8 5.4-2.2 6.5M825.5 73.2c.3 .9 1.2 3.9 2.1 5.3 .9 1.4 2.7 2.7 3.2 3.2M776.1 53.5c1.4-.2 5-1.6 8.1-1.4 3.1 .3 7.1 .9 10.7 2.7 3.5 1.8 7.5 5.1 10.7 8 3.1 2.9 5.5 6.1 8 9.4 2.4 3.3 5.6 8.9 6.7 10.7M792.2 80.2c.4 1.8 1.8 7.6 2.7 10.7 .9 3.1 2.2 6.7 2.6 8M804.2 80.2c.2 1.8 1.3 7.6 1.4 10.7 .1 3.1-.6 6.7-.7 8"/><path stroke="#11331a" stroke-width="2" d="M789.1 163.1c.9 2.2 3.9 9.3 5.4 12.8 1.4 3.6 2.6 7.2 3.2 8.6M765.6 163.1c.9 1.4 3.9 5.7 5.3 8.6 1.5 2.8 2.7 7.1 3.2 8.5M791.3 175.9c.5 1.1 2.8 4.1 3.2 6.5 .3 2.3-.2 5.3-1.1 7.5-.9 2.1-3.6 4.4-4.3 5.3M759.2 175.9c.5 .9 2.6 4.5 3.2 5.4M836.2 65.1c.7 .7 3.4 2.5 4.3 3.8 .8 1.3 .8 3.6 1 4.3M851.1 104.2c.8 .5 3.6 2.7 4.3 3.2M860.8 110.6c.5 .4 2.6 1.8 3.2 2.1M869.3 112.7c.2 .7 .9 3.2 1.1 3.8M777.5 38.8c-.2 1.3-1.1 6.7-1.4 8M808.2 44.1c.7-.2 3.4-1.1 4-1.3M822.9 53.5c.4 .8 1.7 3.9 2 4.7"/><path stroke="#11331a" stroke-width="1.5" d="M778.4 167.4c.4 1.4 1.8 7.1 2.2 8.5M754.9 193.1c.5 .5 2.7 2.6 3.2 3.2M752.2 203.8c.2 .7 .9 3.5 1.1 4.2M810.5 141.7c.4-1 1.7-4.6 2.1-6.4 .5-1.8 .5-3.6 .6-4.3M851.1 86c-.3-1.1-1.6-4.3-2.1-6.4-.4-2.2-.4-5.4-.5-6.4M812.2 58.8c.9 1.8 3.8 7.2 5.4 10.7 1.6 3.6 3.1 7.8 4 10.7 .9 2.9 1.1 5.6 1.3 6.7"/><path stroke="#11331a" stroke-width="1.3" d="M854.4 130.5c1.2 .4 5.1 1.3 7.4 2.7 2.4 1.3 4.9 3.4 6.5 5.3 1.5 2 2.2 5.4 2.6 6.4"/><path stroke="#11331a" stroke-width="1.2" d="M840.5 138.5c1.4-.5 5.8-2.5 8.5-3.2 2.7-.7 6.2-.9 7.5-1.1M804.1 152.4c.7 1.8 2.8 7.1 4.3 10.7 1.4 3.6 3.5 8.9 4.2 10.7M816.9 150.3c1.1 1.8 4.3 7.5 6.4 10.7 2.2 3.2 5.4 7.1 6.5 8.5"/></g><path fill="none" stroke="#48c448" stroke-width=".95" stroke-opacity=".85" d="M799.7 52.2c-1.3 2.8-6.3 12.4-7.9 16.5-1.5 4.1-.1 4.1-1.5 8.1-1.4 4-4.2 12.5-6.8 15.8-2.7 3.2-8 4.6-9 3.5-1-1 .8-6.1 3.1-9.9 2.2-3.9 8.6-11.1 10.4-13.3M800.5 86.1c-2.3 2.5-12.3 13.7-14.1 15.1-1.8 1.4 .5-4.3 3.2-6.6 2.6-2.2 10.9-4.2 12.7-6.8 1.8-2.6-1.7-7.3-2.1-8.7M808.1 47c1.3 .7 5.4 .5 7.9 4.4 2.6 3.9 8.1 16.2 7.3 18.9-.8 2.6-10.4 .8-12-2.9-1.7-3.8 3.7-14.2 2-19.7-1.6-5.4-10.1-10.7-12.1-12.8M804.8 76.6c1.1 2.1 7.3 11.5 6.8 12.5-.6 1-5.5-3.2-10.1-6.4-4.6-3.2-17.2-9-17.6-13-.4-3.9 11.7-7.6 15.5-10.7 3.7-3 4.2-5.8 6.9-7.6 2.8-1.8 8-2.6 9.7-3.1M783.6 71c-1.6-1.9-9.4-6.9-9.4-11.5-.1-4.6 6.6-14.7 9.3-16.1 2.6-1.4 2.8 3.7 6.4 7.6 3.5 3.9 9.5 12.9 14.9 15.8 5.5 2.9 15.4 1.3 17.6 1.8 2.1 .5-3.9 1-4.7 1.2M820.7 70.2c-.6 3.3-2.4 18.3-3.7 19.4-1.2 1.1-1.5-9.4-3.7-12.6-2.3-3.3-6.1-5.7-10-7-3.9-1.3-8.9-2.3-13.2-1-4.3 1.2-9.1 6.2-12.6 8.4-3.4 2.3-6.8 4.3-8.2 5.1M787.6 91.9c1.3 .3 6.9 2.7 8.2 1.4 1.2-1.4 0-6.6-.7-9.5-.7-2.8-.7-5.6-3.6-7.6-2.8-1.9-12.3-1.5-13.6-4.1-1.3-2.5 7.6-7.8 5.7-11.1-1.9-3.3-14.3-7.2-17.1-8.7M860.9 105.8c.1 1.2 2.1 7.6 .6 7.2-1.4-.5-7.7-6.7-9.6-9.8-1.9-3.1-.8-6-2-8.8-1.1-2.7-4.2-6.4-5-7.7M850.8 87.3c.4-.7 1-3.2 2.2-4.3 1.2-1.1 3.8-2.6 5.2-2.3 1.3 .4 2 1.9 3 4.3 1 2.3 2.7 8.3 3.2 10M858.9 85.2c-.4 1.6-.2 9.1-2.4 10.1-2.2 1-7.7-1.8-10.6-4.2-3-2.4-5.5-7-7.3-10-1.7-3.1-1.5-5.4-3.2-8.4-1.7-2.9-7.9-8.7-7.2-9.3 .8-.5 9.8 5 11.7 6M852.5 137.1c-3.7 3.6-16.9 15.8-22.1 21.3-5.3 5.5-5.2 8.7-9.3 11.8-4.2 3-8.3 4.1-15.8 6.7-7.5 2.5-20.9 6.8-29.1 8.5-8.1 1.8-17.8 3.6-19.6 2.1-1.8-1.5 4.1-6.5 8.8-11.2 4.8-4.8 16.3-14.4 19.6-17.3M838.5 158.7c-.9-.8-1.7-2.6-5.4-4.7-3.7-2.2-13.5-5-16.7-8.1-3.2-3.1-2.4-9.7-2.4-10.6 .1-.8 2 1.6 2.7 5.4 .8 3.9 1.6 14.8 1.9 17.8M836.9 136.6c-2 2.2-6.9 8.8-11.9 12.8-5 4-10.9 9.2-18 11.2-7.1 2.1-20 2.7-24.5 1.1-4.5-1.5-4.1-7.3-2.6-10.6 1.5-3.2 10.3-9.4 11.7-8.7 1.4 .6-2.8 10.4-3.3 12.4M862.3 128.9c1.8 1.3 10.6 2.5 10.9 7.8 .2 5.2-4.3 18.9-9.6 23.8-5.4 4.8-16.2 5.6-22.5 5.4-6.3-.3-10.9-7.6-15.3-7-4.3 .6-9.2 8.8-11 10.5M825.4 168.6c-1.9 2.6-6 11.3-11.8 15.5-5.8 4.2-16.4 8.2-22.9 10-6.5 1.8-11.2 .6-16.1 .6-4.8 .1-12.1 1.8-13-.4-1-2.1 6.3-10.3 7.5-12.4M827.3 172c2.6 .5 10.3 2.7 15.9 3 5.5 .3 17.6-2.9 17.4-1.1-.2 1.7-14.7 10.5-18.5 11.6-3.8 1.1-1.5-4-4.2-5-2.6-1.1-9.8-1.2-11.7-1.5M807.7 161.1c-1.6 1.8-6.8 6.9-9.5 10.9-2.7 4-5.4 7.6-6.7 13.2-1.3 5.5-5.1 16.9-1 20 4 3.2 23-1.9 25.3-1 2.4 .8-10 6.8-11.3 6.2-1.2-.6 3.3-8.2 3.9-9.9M839.5 144.6c2.3 1 10.7 2.8 13.5 5.6 2.7 2.8 1.2 10.8 3.1 11.3 1.9 .5 5.2-3.7 8.3-8.4 3-4.7 9.8-14.6 10.1-19.6 .4-5-6.6-8.7-8-10.5M776.3 157c-2.6 3.2-16.5 14.6-15.6 18.9 1 4.4 17 4 21.3 7.3 4.3 3.3 4.6 7.8 4.5 12.7-.1 4.9-4.2 13.8-5.1 16.6M757.6 188.5c2.6-2.7 11-12.3 15.3-16.4 4.2-4.2 4-4.8 10.3-8.6 6.2-3.9 20.4-10.1 27.2-14.5 6.8-4.3 11.5-9.5 13.8-11.5M826.7 138.2c1.6 1.2 6.8 4.6 9.2 7.2 2.4 2.6 5.9 4.7 5.1 8.4-.7 3.7-6.4 9.3-9.7 13.7-3.4 4.4-7.3 7.3-10.4 12.7-3.1 5.4-4.5 17.2-8 19.7-3.5 2.5-7.8-2.5-12.9-4.6-5.2-2-15.2-6.4-18.2-7.7"/>
<path d="M584.8 283.6Q583.8 258.5 582.7 233.5" stroke="#4a644c" stroke-width="1.25" fill="none"/>
<path d="M582.2 220.5L588.2 233.3L577.2 233.7z" fill="#14261a"/>
<path d="M632.3 501.8Q718.3 372.4 795.9 237.8" stroke="#4a644c" stroke-width="1.25" fill="none"/>
<path d="M802.7 226.7L800.5 240.6L791.2 234.9z" fill="#14261a"/>
<path d="M684.1 489.1Q736.4 359.5 796.5 238" stroke="#4a644c" stroke-width="1.25" fill="none"/>
<path d="M407.0 652.0Q364.8 677.4 322.6 702.8" stroke="#4a644c" stroke-width="1.25" fill="none"/>
<path d="M311.5 709.5L319.8 698.1L325.5 707.5z" fill="#14261a"/>
<path d="M1252.4 680.1Q1295.3 703.7 1338.1 727.3" stroke="#4a644c" stroke-width="1.25" fill="none"/>
<path d="M1349.5 733.6L1335.5 732.1L1340.8 722.5z" fill="#14261a"/>
</g>
<g id="pb">
<g filter="url(#hb)"><rect x="387" y="1272" width="804.5" height="552" fill="#f00"/>
<g clip-path="url(#hc)">
<path fill="#ff0200" d="M1195.1 1828l-0.1-436.4-8-2.1-22-9.4-17.6-10.1-5-4-4.6-6-1.4-4-0.6-6 0.4-6 0.9-4 2.2-4 4.1-4 7-4 16.8-8 19.8-8.6 8-2.3 0-41.1-471.3 0-0.9 2-3.8 3.2-8 1.9-2 0.9-1.1 2-0.5 4 0.4 8-1.2 8-1.3 18 1.2 4 2.5 2 0.9 2-0.1 2-0.8 2.2-4.2 3.8-0.8 2-0.1 6-0.9 2.3-5.6 5.7-4.4 6.7-2 0.7-2-1.1-2-2.8-2-0.6-4 1-10.3 6.1-19.7 16.3-4 4.7-6.2 9-2.1 4-1.7 6-1.1 2-8.9 4.1-4 2.6-14 13.3-12 13.5-9.6 12.5-12.4 14-11.9 20-3.7 4-8.4 6-12.3 6-14.9 6-18.8 5.3-14 5.4-8 3.9-30 17.4-44 16.9-6 3.9-4.3 5.2-0.6 4 0.6 2 2.3 3.2 6.5 4.8 9.5 4.1 4 1.2 10 1.3 30 2.5 18 3.4 24 3.1 23.8 6.4 26.2 9.5 10 6.9 10 8.5 16 5.7 38 11.8 7.5 3.6 8.5 5.5 9.1 10.5 13.3 26 1.5 4 6.8 28 8.1 18 3.8 10 5 18 4.7 24 3.2 32 2.9 10 493.7 0zM923 1384.2l-16 1.2-4-0.9-3.7-2.5-2.9-4-2.6-8-6.8-6-0.5-2 2.2-6 4.3-7.8 8-12.1 4-4.7 5.9-5.4 9.1-6 25-13.2 22-14.7 6-1.7 6 0.4 6 2.5 10 7.7 4 2.3 6 1.6 14 1.8 8 2.4 5.4 2.9 4.6 3.8 3.8 4.2 2.5 4 1.5 4 0.2 4-1.3 4-2.8 4-9.1 8-16.8 10.4-18 7.7-19.6 5.9-42.4 10.2-12 2z"/>
<path fill="#ff0f00" d="M1195.1 1828l-0.1-435.6-8-2.2-24-10.1-20-11.4-5-4.7-2.5-4-1.2-4-0.4-8 0.4-6 1.3-4 2.7-4 4.7-3.7 21.6-10.3 22.4-9.4 8-2.4 0-40.2-468.2 0-1.8 4-5.2 8 3.1 8 0.2 4-3.5 18-3.5 10-1.2 6-7.6 18-8.3 11.6-4 3.7-4 1.5-4-1.1-4.5-3.7-3.5-0.4-6 2.8-7.1 5.6-5.4 6-2.1 4 4.6 1.9 2.7 2.1 0.9 2-0.1 2-0.9 2-2.6 2.1-4 0.4-3.1-2.5-0.7-2-0.2-4.8-2 0.1-2 1.3-4 4.3-4 6-1.3 3.1-1.1 6-1.6 3.1-4 2.8-6 1.6-4.8 2.5-15.2 13.8-12 13-8.9 11.2-13.1 14.5-11.6 19.5-3.7 4-8.2 6-12.2 6-14.8 6-19.5 5.6-14 5.4-8 3.8-29.5 17.2-44.5 17.3-6 4-3.7 4.7-0.7 4 2.4 4.5 6 4.7 10 4.6 4 1.2 10 1.3 30 2.5 18 3.4 24 3.2 24.7 6.6 25.3 9.2 10 6.8 8 7.2 4 2.3 52 16.6 8 3.9 8 5.2 9.4 10.8 5.7 12 3.8 6 3.9 8 1.4 4 6.2 26 13.1 30 5.1 18 4.5 22 1.7 10 2 24 3.4 10 491.9 0zM903 1396l-4-0.2-4-1.6-5-4.2-3.4-4-2.9-6-2.4-10-4.5-4-1.4-2 0-2 1.9-4 15.7-25.8 4-5 5.5-5.2 12.5-7.9 20-9.3 8-4.4 8-5.5 12-9.9 4-2.3 4-1.4 6-1 12 0.8 8 2.6 12 5.7 18 5.6 8 4.3 6 4.7 7.3 8 5.1 8 2.4 6 0.9 6-1.3 6-2.6 4-6.8 6-24.4 14-19 8-19.6 6.4-14 3.6-18 3.3-18 6-20 5-10 1.7z"/>
<path fill="#ff1c00" d="M1195.1 1828l-0.1-434.7-8-2.3-24-9.9-16-8.1-7.7-5-4.1-4-2.3-4-0.9-4-0.3-12 0.5-4 1.6-4 3.6-4 3.6-2.5 24-10.8 22-8.9 8-2.5 0-39.3-465.4 0-3.5 10 0.1 14-4 20-5.2 16.8-5.4 13.2-2.6 4.9-6.2 9.1-5.8 5.7-6 2.7-4.6-0.4-7.4-4.4-4 0.5-5.5 3.9-2.9 4-0.3 2 4.1 8-0.2 4-2.4 4-2.8 2.3-4 1.6-4 0.3-6-1.5-2 0.2-2 2-2.7 7.1-3.3 4.6-4 2.7-12 4.5-12 9.9-14 14.1-10.3 12.2-13.7 14.9-11.3 19.1-3.6 4-8.2 6-12 6-14.9 6-20 5.8-14 5.4-8 3.9-29 16.9-45 17.7-6 4.2-3.2 4.1-0.7 4 2 4 5.9 4.8 10 4.7 8 1.9 34 2.9 22 4 22 2.8 25.6 6.9 24.4 8.9 10.4 7.1 7.6 6.9 4 2.3 52.5 16.8 4.5 2 11 6.9 9.8 11.1 5.6 12 3.8 6 3.9 8 7.8 30 12.8 28 5 16 6.6 30 3.1 30 3.9 10 489.8 0zM909 1400.2l-12 0.8-6.8-1-4.4-2-7.9-8-2.8-4-2.8-6-2.9-10-4.9-6-0.5-2 2.2-4 9.2-12 12.7-20 5.3-6 5.6-4.3 10.3-5.7 19.7-8.7 12-6 8-5.4 12-10.1 4-2.6 10-3.3 16-2.2 8 0.1 8 1.5 14 4.7 10 4.6 6 3.7 6 5 6 6.6 6 8.5 8.3 15.6 2.2 6 1.2 6-0.3 4-1.5 4-3 4-4.8 4-30.9 16-33.2 13.1-16.2 4.9-15.8 2.9-22 6.8-30 6.5z"/>
<path fill="#ff2900" d="M1195.1 1828l-0.1-433.9-8-2.3-26-10.5-15.1-7.3-10-6-4.1-4-2.1-4-1-18 0.6-4 2.3-4 3.4-3 4.8-3 45.2-18.3 10-3.4 0-38.3-166.6 0 16.6 10.8 4.9 5.2 5.1 7.4 22.9 42.6 1.3 6-1 4-1.5 2-7.6 6-7.8 4-36.2 16-34.1 13-22 5.7-26 7.8-30 5.5-14 1.2-16-1.3-6-1.9-12.2-12-6.5-8-2.1-6 0-6-0.6-2-5.6-6 0-2 1.4-2 9.6-7.7 6-5.8 6-7.8 9.3-14.7 7.9-8 10.8-6.2 38-16.6 8-5.2 14-11.1 11.6-6.9-240.2 0-2.7 10-0.7 14-3.1 16-5.9 20-7.5 18-6.4 10-5.4 6-5.7 4.2-6 2.3-6 0-6-1.6-2 0.9 0.4 8.2-0.7 4-1.9 4-3.5 4-6.3 4-11.4 4-10.6 9.1-14 5.9-6 3.6-4 3.3-18 17-22.9 25.1-13.1 21.3-2.6 2.7-7.4 5.6-12.6 6.4-14.7 6-22.7 6.7-16 6.5-32.5 18.8-45.5 18-5.6 4-3.1 4-0.7 4 2.1 4 7.3 5.5 8 3.7 10 2.2 32 2.7 20 3.6 24 3.2 26.4 7.1 23.6 8.6 10.7 7.4 7.3 6.6 4 2.3 53.2 17.1 4.8 2.2 10 6.4 10 11.3 5.7 12.1 3.8 6 4 8 7.8 30 13.3 28 4.6 14 7.7 32 2 12 1.7 18 4.5 10 487 0z"/>
<path fill="#ff3600" d="M1195.1 1828l-0.1-433-8-2.3-26-10.3-18.7-8.4-10.9-6-4.4-4-2.2-4-0.6-4 0.2-6-1-8 0.3-4 2.2-4 2.1-2 5-3 10-4.5 52-19.2 0-37.3-146.1 0 8.1 10.4 16.5 33.6 3.5 5.7 12 13.5 12 7.2 3.7 3.6 1.3 4-1.5 4-2.6 2-2.9 1-18 3.4-6 1.7-20 7-59.2 22.9-44.8 13.9-36.5 6.1-15.5 0.9-22-0.8-8.8-2.1-7.2-5.1-8-4.7-13.7-6.2-6.3-3.5-2.2-2.5-2.1-6-1.7-0.7-4 0.5-10 4.6-4 0.4-1.5-0.8-0.6-2 1.5-8 0.8-2 3.3-4 6.5-4.9 9.4-5.1 6.6-4.7 16-6.3 10-6.2 6-6.5 8.2-12.3 5.7-6 4.9-4 11.9-6 41.3-17.5 16-11 6.9-5.5 1.6-2-227.6 0-2.5 6-1.7 18-3.5 18-6.3 20-4.6 12-3 6-7.3 11.2-6 6.1-6 4.5-12 7.3-7.9 8.9-7.4 6-14.7 7.3-12 7.7-18 8.1-6 4.4-18 16.5-22.5 24-13.5 21.7-10 8.1-12.1 6.2-14.6 6-23.3 6.9-16 6.5-31.9 18.6-45.4 18-5.7 4-3.2 4-0.7 4 2.1 4 6.8 5.1 10 4.6 12 1.9 29.3 2.4 18.7 3.5 24 3.1 27.2 7.4 22.8 8.3 10 6.9 8 7.1 4 2.4 53.9 17.3 14.1 8.2 10 11.3 14.6 28.5 7.2 28 12.1 24 5.9 16 10.6 42 3.5 22 4.6 10 483.6 0z"/>
<path fill="#ff4200" d="M1195 1828l0-432-6-1.7-24-9.2-46-18.7-20-3.3-18 1.2-24 5.9-70.9 25.8-35.1 10.6-38 5.6-40 0.7-50-4.5-22-6.7-12-9.6-2.5-4.1-1.2-6 0-4 3.8-10 3.9-6 12-11.4 52-25.1 22.9-17.5 5.1-3.1 52-21.8 16-10.1 3.7-3 1.4-2-215.9 0-1.2 0.5-4 3.5-0.7 2-1.9 18-3.9 20-5.8 18-6.2 16-10 16-17.5 16-22.3 16-26.4 14-19.3 8.8-6 4.2-18 15.9-22 23-2 2.3-12 19.8-9.9 8-11.7 6-14.6 6-23.8 7.2-16 6.5-31.5 18.3-45.1 18-5.9 4-3.5 4.8-0.4 3.2 2.4 4.2 6 4.5 10 4.7 12 2 30 2.5 18 3.4 24 3.1 26 7 19.2 6.6 8 4 8.8 6.4 6.1 5.6 3.9 2.4 54 17.4 14.1 8.2 9.9 11.1 6.3 12.9 3.9 6 3.9 8 7.9 29.4 12.9 24.6 6 16 18.2 66 3.3 8 479.6 0zM1116.1 1330l16.9-4.3 24-7.6 38-13.9 0-36.2-134.2 0 10.6 26 7.6 15.4 3.2 4.6 10.8 10 4 2.3 14 4.1 5.1-0.4z"/>
<path fill="#ff4f00" d="M1195 1828l0-431-6-1.8-42-15.7-16-4.9-10-1.9-20-2.2-16 0.1-14 2-16 3.8-68 23.7-40 11.6-34 4.4-66 2.5-7.6-0.6-18.4-3.5-22-6.3-7.8-4.2-6.2-4.5-4-3.9-3.5-5.6-1.7-6-0.3-4 1.1-6 2.4-6.1 6.4-9.9 17.6-16.4 38-22.3 8.4-3.3 15.6-4.9 18-9.6 50-20.9 15.2-8.6 2.8-2 1.7-2-196.3 0-7.4 0.8-6 1.8-2.4 1.4-1.3 2-2.3 20-3.3 18-3.7 12-8.1 22-10.5 18-17.3 18-6.3 4-22.1 12-15.8 8-24.9 11.2-6 3.6-20 17-22 22.4-2 2.4-11.7 19.4-4.3 4-6 4.3-11.1 5.7-14.9 6.2-22 6.5-18 7.2-31 18.1-45 18-6 4-3.2 4-0.7 2 0.7 4 3.8 4 6.4 4 9 3.7 12 1.7 28 2.2 18 3.4 23.1 3 29.6 8 21.7 8 9.6 6.6 8 7 4 2.5 54 17.5 5 2.4 9.4 6 9.6 10.6 6.5 13.4 4 6 3.9 8 7.5 28 4.1 8.7 8.8 15.3 5.7 14 12.3 40 7.2 19.3 6.1 18.7 275.2 0 4.7-1.4 4-0.2 8.3 1.6 183.7 0zM1135.9 1322l23.1-6 23.5-8 12.5-5 0-35-126.6 0 7.5 22 5.1 11.1 5.8 8.9 6.2 5.6 8 4.7 10 2.5 14 0.3 10.9-1.1z"/>
<path fill="#ff5c00" d="M1195 1828l0-430-40-14.1-20-5.6-12-1.3-26-1-12 0.3-16 2.1-16 3.7-66 21.9-32 9.5-10 2.3-14 2.4-16 1.6-66 3.1-10.2-0.9-19.8-3.7-16-4-6.6-2.3-8.4-4-8.7-6-5.9-6-3.5-6-2.1-6 0.1-6 2.5-10 4.2-8 4.9-6 17.5-17.6 14-11.1 10-6.3 6.1-3 12.6-4 21.3-5 8-2.8 62-27.1 9.7-5.1 4.9-4-112.3 0-6.3 0.6-56 0.5-16 0.7-6 0.9-4.1 1.3-2.3 2-0.7 2-1.8 18-3.7 22-10.6 30-3.6 8-5.6 10-11.1 14-4 4-9.7 6-14.8 6.5-23.3 11.5-28.7 12.6-6 3.5-20 16.5-22 21.9-13.4 21.5-4.2 4-6.4 4.5-10.6 5.5-15.4 6.4-22 6.5-18 7.2-30.6 17.9-45.4 18.3-6 4.3-2.7 3.4-0.7 2 0.7 4 3.9 4 6.5 4 8.3 3.5 12 1.6 28 2.3 18 3.4 24 3.1 29.4 8.1 21.5 8 9.1 6.3 8 7.1 4 2.5 14 4.9 40 12.5 5.5 2.7 9.3 6 9.2 10.2 6.8 13.8 4 6 3.9 8 7.3 27.2 4 8.5 8.7 14.3 3.7 8 4.7 12 11.4 36 8.7 20 6.6 18 260.3 0 2.5-2 5-2 10.4-1.8 13.6 1.8 8.1 2 4.9 2 167.4 0zM1142.6 1318l24.6-6 18-6 9.8-4.4 0-33.6-120.1 0 4.8 16 4.7 12 4.7 8 5.9 6 8 4.7 10 2.7 18 1.7 11.6-1.1z"/>
<path fill="#ff6900" d="M1195 1828l0-428.9-38.4-13.1-17.6-4.3-12-0.9-44 0.8-16 2.2-16 3.6-65 20.6-43 12-12 2-14 1.2-32 1.9-34 1.1-10-0.8-20.1-3.4-17.4-4-12.5-4.1-10-5.1-9.3-6.8-5.8-6-5.2-8-1-4-0.4-8 0.6-4 3.3-8 3.5-6 4.9-6 14.6-14 4.8-6.7 6-6.7 10-8.4 7.8-4.2 8.2-2.8 36-6.4 12-3.5 57-25.3 7.2-4 2.1-2-101.1 0-3.2 1.4-4 0.4-70 0.9-8 1-4 1.8-1.9 2.5-0.4 2-1.9 22-2.1 14-5.4 18-7.5 22-2.5 6-8.7 14-5.4 6-8.7 6-7.5 4-18 7.1-19.3 8.9-18.7 7.6-14 6.3-6 3.5-20 15.9-22 21.6-13.2 21.1-4.1 4-6.7 4.8-12 6-16 6.5-20 5.8-18 7.2-30.1 17.7-31.9 12.5-14 6.2-4 2.6-2.8 2.7-2.1 4 0.7 4 3.9 4 6.6 4 7.7 3.2 12 1.7 28 2.3 20 3.7 22 2.8 30 8.3 21.4 8 8.6 6 8 7.1 4 2.5 14 5 40 12.5 5.9 2.9 9.2 6 9 10 7 14 4.1 6 3.8 8 7.7 28 3.3 6.6 8.6 13.4 4 8 5.5 14 5 16 7.1 20 9.8 20 7.6 18 248.6 0 2.1-2 8.2-4 7.5-2.3 8-1.1 10 1.3 36 8.1 148 0zM1151.7 1314l10.1-2 14.2-4 11-3.9 8-4.1 0-32-114 0 4.5 16 3.9 10 3.6 6.2 6 6 4 2.3 6 2.4 18 3.6 12 0.8 12.7-1.3z"/>
<path fill="#ff7600" d="M1195 1828l0-427.7-37.6-12.3-16.4-3.4-10-0.4-48 2.1-16 2.1-14 3-98 29.1-14.4 3.5-13.6 1.8-36 2.2-42 0.8-20.8-2.8-20.5-4-15.1-4-10-4-10.3-6-12.7-10-5.9-6-7.2-12-0.3-2 0.5-2 4.8-10 2.6-8 2.4-4 24.5-21.9 6-8.9 6-6.4 12-8.9 6-3.1 8-2 38-3.9 14-3.3 18.5-7.6 28.6-14 2.8-2 1.1-2-1.1-2-82.9 0-2.8 2-4.2 0.6-64 0.8-10 0.7-6.7 1.9-1.7 2-0.5 2-1.8 26-2.5 14-6.6 28 0 8-0.8 4-1.6 4-2.6 4-10.4 12-8.5 6-15.3 8-21 7.6-36 14.5-16 7-6 3.5-18 13.8-24 22.8-12.9 20.8-4.1 4-7 5-12 6-16 6.6-20 5.7-18 7.2-30 17.7-32 12.6-14 6.2-6.3 5-2.1 4 0.7 4 4 4 6.6 4 7.1 3 12 1.7 28 2.3 20 3.7 22 2.8 30.7 8.5 17 6 4.1 2 8.5 6 7.7 6.8 4 2.6 54 17.5 6 2.9 9.5 6.2 8.9 10 6.9 14 4.2 6 3.8 8 7.9 28 2.8 5.7 8.4 12.3 4.2 8 5.9 14 5.9 18 7.5 20 10.8 20 8.7 18 237.5 0 5.3-4 9.8-4.6 10-3.1 8-1 8 0.9 30 6.5 20 1.7 4 1.6 0.9 2 131.1 0zM1162.6 1310l21.5-6 10.9-6 0-30-107.7 0 3.6 14 3.8 10 4.3 6.5 6 4.5 12 4.2 20 3.9 12 0.4 13.6-1.5z"/>
<path fill="#ff8300" d="M759.7 1336l7.3-4.2 10-7.4 16-17.3 6-5.2 6-3.6 6-1.7 6-0.8 36-0.5 8-0.9 8-1.6 16-6.2 22-11 2.4-1.6 1.3-2-1.1-4-70.1 0-2.5 2.4-6 1.2-58 0.6-10 0.5-7.5 1.3-2.9 2-1.1 4-1.8 34 0.5 14 0.8 5.2 2 3 2 0.8 4.7-1zM1161.6 1308l10.8-2 12.6-3.9 10-6.7 0-27.4-100.8 0 2.6 12 3.2 8 4.3 6 4.7 3.4 8 3.1 30 6.8 6 0.8 8.6-0.1zM1195 1828l0-426.4-30.3-9.6-9.7-2.5-10-1.7-12-0.2-50 3-16 2.2-12 2.6-100 28.3-18 4-10 1.1-38 2.1-38 0.2-11.1-1.1-25-4-17.9-3.9-10-2.9-8-3.2-7.7-4-34.3-22.6-8-2.8-6-0.4-26.9 9.8-19.1 6-32 11.8-22 9.6-20 14.1-16 14.1-10.4 10.4-12.3 20-3.3 3.4-6 4.6-12 6.3-18 7.5-20 5.7-18 7.3-30 17.6-32 12.6-14 6.3-5.8 4.7-2.1 4 0.7 4 3.2 3.3 7.5 4.7 6.5 2.7 12 1.8 28 2.3 20 3.7 22 2.8 31.3 8.7 16.7 5.9 4 2 10 7.1 6 5.5 4 2.7 54 17.4 4 1.8 10 6.1 4 3.7 6.6 7.8 7 14 4.2 6 4.6 10 5.1 20 2.5 6.9 4 7.1 7.5 10 2.2 4 7.9 18 6.4 18.7 7.5 19.3 11.9 20 9.8 18 226.6 0 5-4 15.2-7.3 10-3.2 10-1.3 10 1.2 28 6 25.5 2.6 7.5 2 4.5 2 1.3 2 117.2 0z"/>
<path fill="#ff9000" d="M771.3 1318l4.6-2 2.5-2 6.3-10 4.3-4.9 6-5.6 6-3.5 6-1.4 6-0.2 8 0.3 10 1.5 16 0.9 10 0 10-1.3 6-1.6 8-3.1 20-10.3 4-2.8 1.1-4-65.2 0-1.9 2.5-6 1.9-62 1-7.8 0.6-4.2 1.3-1.5 0.7-1.3 2-0.7 6 0.3 16 1.7 12 1.8 4 3.7 2.6 4 0.4 4.3-1zM1171.5 1304l13.5-4 10-7.9 0-24.1-93.1 0 1.4 8 2.4 6 3.3 4.7 4.3 3.3 5.7 2.2 8 0.7 6-1 8.5-3.9 3.5-0.6 2 1 1 1.6 0.5 6 1.3 4 3.2 2.9 4 1.7 4 0.6 10.5-1.2zM1195 1828l0-425.1-30.8-8.9-9.2-2-8-0.9-12 0-54 3.9-14 2-26 6.1-75.8 20.9-28.2 6.5-10 1-38 1.8-34-0.1-10-0.6-20-2.7-34-6.7-15.4-5.2-28.6-15-16-6.7-8-1.8-12 0.9-38 10.3-30 10.2-20 8.7-20 13.7-16 13.7-10.1 10-12.3 20-3.6 3.7-6 4.5-12 6.4-18 7.4-20 5.7-18 7.3-30 17.6-44 18-6 4.1-2.7 3.3-0.7 2 0.7 4 2.7 2.9 6 4 8 3.6 12 1.8 28 2.3 20 3.6 22 2.8 30 8.3 18 6.3 4 2 10 7.1 6 5.5 4 2.7 14 5 40 12.5 4 1.8 10 6.1 4 3.6 6.9 8.1 7 14 4.2 6 4.6 10 5.1 20 2.2 5.9 4 7.2 8.6 10.9 4.1 8 6 14 7.3 20.4 7.2 17.6 21.8 34 2 4 215.9 0 1.8-2 6.3-4 16.7-8 12.3-3.6 10-1.1 10 0.9 30 6 31.5 3.8 29.1 6 5.8 2 87.6 0z"/>
<path fill="#ff9d00" d="M776.1 1304l4.9-9.1 4-4.5 8-6.2 6-2.5 6-0.9 10 0.1 10 1.6 8 2.5 6 1 14 1.1 12-0.4 8-1.8 10-4.2 15.4-8.7 2.8-2 1.2-2-59.8 0-1.2 2-2.4 1.9-6 1.8-28 1.5-30-0.5-10.3 1.3-2.7 2-1.1 4 0.2 6 1.9 8.2 2 4.3 4 4 4 0.9 3.1-1.4zM1172.3 1300l8.7-1.7 4-1.5 4-3.4 6-6.8 0-18.6-83.2 0 1.2 5.4 2 3.5 2 1.9 4 1.6 6-1 10-5.9 4-1.5 4-0.4 4 1.3 3.5 3.1 2 4 1.4 6 1 10 2.1 3.6 2 1.3 4 0.9 7.3-1.8zM1195 1828l0-423.7-32-7.9-12-1.6-12 0.1-58 4-10 1.5-30 6.3-72.4 19.3-29.6 6.8-10 1.1-42 1.7-38-0.9-34.9-4.7-21.4-4-13.7-3.6-11.6-4.4-20.4-9.4-22-6.9-6-1.1-6-0.2-16 2.2-24 5.5-26 7.8-26 11-18 12.2-14 11.4-12 11.7-13.8 21.8-10.2 7.7-12 6-16 6.5-20 5.7-18 7.3-30 17.6-30 11.8-14 6.3-6.8 5.1-2.1 4 0.7 4 2.2 2.5 6 4.1 8 3.6 12 1.9 28 2.3 20 3.6 22 2.8 30 8.3 18 6.3 4 2 10 7.1 10 8.2 14 5 40 12.5 4.1 1.8 9.9 6 4 3.6 7.1 8.4 7 14 4.4 6 4.4 10 5.1 19.5 2 5.5 6 9.9 6.3 7.1 2.6 4 8.1 18 7 18.8 8.9 21.2 24.1 34 2.3 4 205.2 0 3.5-3.6 6-3.8 17.5-8.6 12.5-3.9 14-1.7 10 0.7 30 5.5 34 4.9 31.7 6.5 8.1 2 4.1 2 76.1 0z"/>
<path fill="#ffaa00" d="M870.9 1282l6.1-2.2 7.4-3.8 10.8-8-50.5 0-1.1 2-2.6 2.4-4 2.5-3.2 1.1-0.4 2 2.8 2 2.8 1 12 1.7 12 0.5 7.9-1.2zM1180.2 1294l2.8-0.5 2.8-1.5 2.1-2 2-4 0.8-8-1.7-10-25.7 0-1.3 18 0.1 4 1 4 1.9 1.7 2 0.2 6-1.4 7.2-0.5zM773.3 1284l1.7-1.7 0-2.3-2 0.1-0.7 1.9 1 2zM1195 1828l0-422.2-28-5.4-14-1.5-72 3.9-40 7.4-69.6 17.8-32.4 7.1-8 0.9-42 1.5-43.6-1.5-26.4-3.5-27.2-4.5-16.9-4-31.9-11.6-14-3.7-12-2.1-6-0.6-8 0.2-28 3.9-30 7.9-20 8.1-10 5.7-12 8.1-12 9.2-13.5 12.9-12.5 20.1-4 4.1-8.1 5.8-11.9 5.9-16 6.5-20 5.7-18 7.3-30 17.6-30 11.9-14 6.3-6.3 4.8-2.1 4 0.7 4 1.7 2 5.6 4 8.5 4 11.9 1.9 28 2.2 20 3.7 22 2.8 28 7.6 20 7 4 1.9 10 7.1 10 8.3 14 5 40 12.5 4.6 2 9.7 6 4.4 4 6.7 8 7 14 4.4 6 4.4 10 6.8 24 6 10 7.5 8 2.5 4 6.5 14 17.5 42.7 4 5.8 23.6 29.5 2.4 4 194.3 0 3.6-4 6.1-4.4 10-5.8 8-3.6 8-2.9 8-2.1 18-1.8 21.6 2.6 48.4 8.2 42 8.9 9.1 2.9 3.8 2 67.1 0z"/>
<path fill="#ffb700" d="M870.8 1278l4.9-2 2.7-2 0.5-2-1.9-1.1-4-0.9-22-0.9-4 1.6-3.6 3.3-0.2 2 7.8 2.2 12 0.9 7.8-1.1zM1182.6 1288l1.4-2 0.1-4-1.1-2.9-2-2.4-2-1.2-2-0.3-2 0.5-2 1.5-2 2.7-1.5 4.1-0.2 2 1.1 2 6.6 1 5.6-1zM1195 1828l0-420.7-20-2.6-22-1.6-38 1.2-34 2.2-38 6.5-69.2 17-34.8 7.3-6 0.7-42 1.3-42-1.6-44.5-5.7-25.5-4.3-44-12.1-24-3.8-16-0.3-25.6 2.5-26.4 6.3-22 9-13.8 8.7-16.2 11.5-13.2 12.5-12.8 20.4-4 4-8 5.7-12 6-16 6.5-20 5.7-16 6.4-32 18.5-30 11.9-14 6.4-5.8 4.5-2.1 4 0.7 4 3.2 3.3 7.8 4.7 5.3 2 10.9 1.7 28 2.2 20 3.7 22 2.8 28.1 7.6 23.9 8.9 10 7 10 8.3 14 5 40 12.5 5 2.3 9.7 6 4.3 4 6.6 8 7.1 14 4.4 6 4.4 10 6.9 24 5.6 9.1 8.8 8.9 2.5 4 5.6 12 9.1 22.6 10 22.2 30.6 35.2 2.4 4 183.1 0 3.5-4 8.4-7.1 16-8.9 18-5.6 22-2.1 26 2.7 38 7 50 11.1 14 4.2 4.8 2.7 59.2 0z"/>
<path fill="#ffc400" d="M1195 1828l0-419.1-10-1.1-34-0.9-34 0.7-36 2.4-38 6.4-68 15.8-36 7.2-6 0.6-40 1-36-1.4-35.3-3.6-42.6-6-40.1-7.9-36-4.4-30-0.6-24 3.4-6 1.6-22 8.5-8 4.6-20 13.2-16 14.8-13 20.8-11 8.4-12 5.9-16 6.5-20 5.7-16 6.4-32 18.5-30 11.9-14 6.5-5.3 4.2-2.1 4 0.7 4 2.7 2.8 8 5 6 2.2 10 1.5 28 2.2 20 3.7 22 2.8 28.8 7.8 23.2 8.6 10 7.1 10.1 8.3 13.9 5 40 12.5 5.4 2.5 9.6 6 4.2 4 6.7 8 7.1 14 4.4 6 4.4 10 4.8 18 2.3 6 5.1 8.3 10 9.7 2.6 4 4.9 10 10.5 25.6 9.7 20.4 26.9 28 7.1 8 2.4 4 168.6 0 8.7-6 10.6-9.9 14.2-8.1 21.8-5.6 22-1.3 28 2.5 32 6.5 52 12 14 3.8 8 2.8 5 3.3 53 0z"/>
<path fill="#ffd100" d="M1195 1828l0-417.4-10-0.8-66 0.9-38 2.7-36 5.9-74 16.1-32 5.9-8 0.6-42 0.7-30-1.5-38-3.8-76-10-26-2.7-18-1.4-18-0.1-14-0.9-14 0.1-8 0.9-28 9.7-26 15.9-16 14.7-12.8 20.5-11.2 8.6-12 5.9-16 6.5-20 5.7-16 6.4-32 18.6-30 11.8-13.9 6.5-4.9 4-2.1 4 0.7 4 2.2 2.4 8 5.1 6 2.2 10 1.6 28 2.2 20 3.7 22 2.8 29.4 8 22.6 8.4 10 7 8 7.1 2.6 1.5 13.4 4.8 41.8 13.2 13.6 8 10.6 11.8 7.3 14.2 4.5 6 4.2 10 5 18 2.3 6 4.7 7.4 11.3 10.6 2.7 4 5 10 9 21.9 10.9 22.1 3.1 3.7 24 22.3 10 11.1 3 4.9 150 0 17-7.8 14-13.4 7.3-4.8 6.7-3.2 6-1.5 16-2.6 24-0.9 28 2.2 28 6.1 72 17.8 10.8 4.1 6.3 4 46.9 0z"/>
<path fill="#ffde00" d="M1195 1828l0-415.7-10-0.5-66 2-36 2.6-38 6.2-74 15-30 5.2-10 0.8-40 0.6-10-0.4-40-3-90-10-46-4.2-28-0.2-24-1-6 0.5-28 8.3-26 15-16 14.7-12.5 20.1-4.6 4-6.9 4.8-12 5.9-16 6.5-20 5.7-16 6.4-32 18.6-30 11.9-13.3 6.2-5 4-2.1 4 0.7 4 1.7 2 8 5.2 6 2.3 10 1.6 28 2.2 20 3.7 22 2.8 30 8.2 22 8.2 11.1 7.8 6.9 6.2 3.1 1.8 54.9 17.8 13.7 8.2 9.3 10 5.8 10 2.8 6 3.4 4 4.6 10 5.7 20 2.7 6.5 6 8.4 10.6 9.1 2.9 4 4.3 8 10.2 24.5 10 18.8 4 4.8 19.3 15.9 6.4 6 10.5 12 3.7 6 130.8 0 3.3-2 16.9-6 7.1-3.4 4-2.9 13.9-13.7 4.1-2.7 6-2.7 8-1.8 16-1.6 22-0.6 28 1.5 12 2.1 92 23.2 8 2.6 17.5 8 38.5 0z"/>
<path fill="#ffeb00" d="M1195 1828l0-414-10-0.3-36 1.6-66 4.4-40 6.6-68 12.9-34 5.4-8 0.7-42 0.3-14-0.7-174-16.3-50-0.7-6 0.5-28 7.1-14.1 8.5-11.9 5.6-4 3.2-4.6 5.2-7.2 6-12.5 20-4.5 4-7.2 5-12 5.9-14 5.8-22 6.4-16 6.4-32 18.6-30 11.9-12.8 6-5 4-2.1 4 0.7 4 1.7 2 7.5 4.9 6 2.4 10 1.6 28 2.2 20 3.7 22 2.8 30 8.2 22 8.1 11.4 8.1 6.6 6 3.6 2 52.4 16.9 6 2.7 8 4.9 4.2 3.5 7.1 8 5.8 10 2.8 6 3.4 4 4.6 10 5.8 20 2.5 6 5.8 8.1 11.8 9.9 4.3 6 3.3 6 8.6 20.6 12 20.8 6 6.1 17 12.5 7 6.2 10 11.3 4.9 6.5 2.1 4 112.7 0 2.6-2 4.5-2 21.2-7.3 9.9-4.7 4.1-3.2 12-12 8.2-4.8 6.7-2 7.1-1 30-1.5 32 1.3 10.5 1.2 97.5 24.8 20 7.4 13.3 3.8 4.8 2 25.9 0z"/>
<path fill="#fff800" d="M1195 1828l0-412.2-10-0.3-34 2-66 5.3-56 9-50 9-36 5.3-10 0.9-42 0.1-12-0.6-176-16.2-50-0.5-6 0.5-28 6.5-14 8.2-8 2.8-4 2.2-4 3.2-4.1 4.8-7.5 6-12.4 20-4.4 4-7.6 5.2-12 5.9-14 5.8-22 6.4-16 6.4-32 18.6-29.5 11.7-12.7 6-5.1 4-2.1 4 0.7 4 1.7 2 7 4.6 6 2.4 10 1.7 28 2.2 20 3.7 22 2.8 30 8.2 22 8.1 11.7 8.3 6.3 5.7 4 2.2 52 16.8 6 2.7 8 4.9 4.5 3.7 7 8 5.9 10 2.6 5.7 4 4.9 4.9 11.4 5.1 18 3.9 8 4.1 5.4 10.8 8.6 5.2 6 4.9 8 9.1 20.6 10 15.8 6 6.6 19 13 9 7.7 8.9 10.3 7.1 10 2.1 4 97.6 0 2.3-2.2 7.3-3.8 26.7-9.8 8-3.6 6-4.4 10.5-10.2 7.5-4.4 6-1.9 8-1.3 32-1.5 36 1.4 11.5 1.7 60.5 16 36 8.8 20 7 26.4 6.2 5 2 10.6 0z"/>
<path fill="#f9fd00" d="M867.6 1828l1.3-2 2.5-2 11.6-6.3 34-13.2 4-2.7 12-10.8 6-3.4 6-1.9 9.8-1.7 34.2-1.4 36 1.4 10 1.4 22 5.2 40 11 36 8.6 24 7.4 30 6.1 8 0.5 0-406.6-10-0.2-32 2.2-38 4.1-30 2.4-104 16.8-38 5-10 0.7-52-0.5-30-3.3-150-13.3-48-0.2-6 0.6-26 5.4-4 1.6-11.8 7.1-8.2 2.4-4 2-4 3.2-3.7 4.4-7.6 6-12.7 20.3-6 5.1-6 4.1-12 5.9-14 5.7-22 6.4-16 6.4-32 18.6-28.9 11.5-12.8 6-3 2-3.5 4-0.7 4 0.9 2.2 4.2 3.8 7.8 4.2 12 2.3 28 2.2 20 3.7 22 2.8 25.9 6.8 26.1 9.5 10 6.9 8 7.1 4 2.2 50.7 16.3 7.3 3.1 10.7 6.9 9.3 10.3 8 14.9 5 6.8 3.5 8 5.9 20 2.7 6 4.9 6.6 11.9 9.4 6.6 8 3.8 6 9.5 20 6.2 9.1 6 7.1 4 3.7 18.6 12.1 11.6 10 8.5 10 8.3 12 2.1 4 85.5 0z"/>
<path fill="#effa00" d="M862.7 1828l2.5-4 9.8-6.8 18-9.1 22-7.3 6-4.3 8-6.9 6-3.6 6-2 11.6-2 32.4-1.3 39.1 1.3 8.9 1 24 5.3 38 10.4 40 9.3 20 5.7 30 5.4 10 0.7 0-400.4-10-0.1-30 2.3-36 4.6-32 3-104 15.8-38 4.5-12 0.8-52-0.8-30-3.6-148-13.1-50-0.3-6 0.6-26 5.3-6 2.7-8 4.9-12 3.7-4 2.5-6 6.5-6 4.2-13.5 21.1-10.5 8.5-12 6.2-16 6.6-22 6.4-15.7 6.3-32.3 18.7-28.4 11.3-12.7 6-3 2-3.6 4-0.7 4 0.8 2 4.3 4 7.6 4 11.7 2.3 28 2.2 20 3.6 22 2.9 26 6.8 26 9.4 10 6.9 8 7.1 4 2.3 52 16.7 7.9 3.8 9.1 6 9 10 5.9 10 2.1 4.7 5.3 7.3 3.5 8 6 20 3.2 6.6 6 7.3 10.8 8.1 5.2 6 5.6 8 8.4 16.6 4 6 6 6.9 6 5.7 22 14.7 11.9 10.1 8.5 10 11.9 18 75.4 0z"/>
<path fill="#e5f700" d="M859.1 1828l1.9-4 6-5.8 14-9.3 8-4.6 6-2.5 18-4.7 6-3.8 8-6.4 5.5-2.9 10.5-2.6 14-1.5 34-1 40 1.9 24.9 5.2 37.1 9.9 62 14.3 22 3.5 18 1.1 0-393.5-12 0-30 2.6-34 5.2-38 4.2-48 7.6-46 6.2-52 5-54-1.1-30-3.8-150-13.5-48-0.1-6 0.6-26 5.2-4 1.6-12 6.7-10 2.5-4 2.5-6 6.5-6 4-13.2 20.8-2.8 2.8-8 5.9-12 6.2-16 6.6-22 6.4-15.3 6.1-32.7 19-27.8 11-12.7 6-3.1 2-3.6 4-0.7 4 1.9 3.3 6 4.3 5.1 2.4 10.9 2.1 28 2.2 20 3.6 22 2.9 26 6.8 26 9.4 10.2 7 7.8 6.9 4 2.4 52 16.7 8 3.8 9.3 6.2 7.4 8 7.5 12 1.8 4.2 4.6 5.8 4.5 10 6 20 4.9 8.8 4 4.3 10 7.5 4 3.9 8.8 11.5 10.4 18 6.8 7.5 8 7 26.1 17.5 11.7 10 8 10 12 18 66.3 0z"/>
<path fill="#dbf400" d="M856.1 1828l3.1-6 5.8-6.3 14-10.8 10-6.4 6-2.4 12-1.6 4-1.2 6-3.2 8.6-6.1 4.7-2 9.1-2 13.6-1.6 38-1 40 1.8 26 5.2 36 9.1 58 12.5 26 3.3 18 0.3 0-386.4-12 0-28 2.6-34 6-36 4.5-54 8.3-48 5.7-48 3.6-52-1.2-14-1.3-20-3-148-13.8-48-0.1-6 0.6-26 5.3-15.2 7.6-8.8 1.9-4 1.8-8 7.9-6.5 4.4-12.5 20-3 3.1-8 5.9-12 6.1-16 6.6-21.7 6.3-15.1 6-33.2 19.2-27.2 10.8-12.8 6-3 2-3.6 4-0.8 4 0.8 2 1.8 2 6 4 4.7 2 11.2 2 26.9 2.1 20 3.6 22 2.8 26 6.9 26 9.4 10.5 7.2 7.5 6.7 4 2.4 52 16.7 8 3.8 9.6 6.4 8.9 10 7.7 14 4.8 6 4.4 10 6.6 21.2 2.6 4.8 3.4 4.4 16.3 13.6 8.2 10 11.5 17.9 4 4.4 12 9.9 27.2 17.8 12.4 10 6.8 8 16.1 22 56.6 0z"/>
<path fill="#d1f100" d="M852.8 1828l6.2-10 6-6.8 12.9-11.2 13.1-8.3 4-1.4 10-0.5 4-0.8 4-1.6 9.3-5.4 6.2-2 22.5-3 40-1.1 40 1.8 28 5.3 34 8.2 56 11.2 28 2.8 18-0.3 0-379.6-14 0-26 2.7-36 7.1-88 13.2-48 5-46 2.7-54-1.6-16-1.6-19.3-2.8-146.7-14.5-48-0.2-6 0.6-26 5.3-14 6.9-13.8 3.9-2.6 2-5.6 6-6 3.8-12.7 20.2-3.3 3.3-8 5.9-12 6.1-18 7.4-19 5.3-15.3 6-33.7 19.4-26.6 10.6-12.8 6-3.1 2-3.6 4-0.8 4 0.9 2.1 4.4 3.9 7.6 3.8 12 2.1 26 2 20 3.6 22 2.8 26 6.9 26 9.3 10 6.9 8 7 4 2.4 52 16.8 8 3.8 9.9 6.6 7.3 8 7.5 12 1.8 4 4.8 6 4.3 10 6.3 20 4.1 7.3 4.3 4.7 13.7 10.9 9.5 11.1 10.5 14.9 4 4.5 14 11 28 17.6 11.3 8 9.2 10 13.1 16 8.6 8 43.6 0zM997 1507l-2 0-1.8-1 1.2-2 3.2 0 1.2 2-1.8 1z"/>
<path fill="#c6ee00" d="M847.9 1828l5.1-6 8-12 4-4.2 10-9.3 14-8.6 6-2.5 24-6.2 30-3.4 40-1.1 40 1.5 32 5.5 30 6.8 28 5.6 30 5 30 2.3 16-0.4 0-373.4-16-0.1-24 2.7-42 9.4-82 12.7-46 4.2-48 1.8-48-1.6-24-2-20-2.3-20-3.3-122-12.7-48-0.3-8 0.6-26 5.3-16 7.4-10.7 2.6-3.3 2.2-5.3 5.8-6.7 4.1-12.4 19.9-3.6 3.6-8 5.9-12 6-18 7.4-18.4 5.1-15.6 6.1-34 19.5-26 10.4-12.8 6-3.1 2-3.7 4-0.7 4 0.8 2 1.8 2 6.1 4 5.4 2 10.2 1.7 26 2 20 3.6 22 2.8 30 8.2 22 8 10 6.8 8 7.1 4 2.4 53.7 17.4 11 6 5.5 4 7.8 8.7 7 11.3 1.7 4 4.9 6 4.3 10 6.1 19.3 4 7.2 5 5.5 13 10.1 10.5 11.9 13.5 16.8 16 12.1 38.3 23.1 4.7 4 21 21.2 15.1 12.8 27.8 0zM1005 1510.3l-8 1.1-6-0.5-10.8-2.9-2.4-2 0.6-2 4.6-2 12-2.2 6 0.4 8.3 1.8 4.7 2 1.1 2-1.8 2-8.3 2.3z"/>
<path fill="#bceb00" d="M844.5 1824l3.4-2 3.1-3.2 6.1-10.8 3.9-5.1 10-9 14.6-7.9 7.4-3.2 15.2-4.8 10.8-1.5 32-2.1 36-0.9 42 1.5 31.6 5 58.4 11.5 26 4 32 2.3 18 0 0-367.4-12-0.9-28 3.1-14.9 3.4-25.1 6.9-20 4.4-64 9.8-20 1.9-34 2.1-42 0.2-46-2.4-18-1.5-18-0.2-8-1.2-11.1-4-8.9-1.5-62-7.2-58-5.9-50-0.6-8 0.6-26 5.3-16 7.3-10 2.2-4 2.7-4.7 5.1-5.3 2.8-2 1.7-12.2 19.5-3.8 3.9-8 5.8-14 7-14 5.7-20 5.7-18 7.2-30 17.6-32 13-8.2 4.1-3.2 2-3.6 4-0.8 4 0.9 2 1.8 2 6.1 4 5 1.8 10 1.7 26 2 20 3.6 22 2.8 30 8.2 22 8 10 6.8 8.1 7.1 3.9 2.4 52 16.8 6 2.6 6 3.5 6 4.3 8 8.7 7.2 11.7 1.8 4 4.9 6 4.4 10 5.7 18.4 4 7.4 5.8 6.2 12.2 9.5 24 26.9 18 13.2 39.3 22.4 12.2 10 16.5 15 10 7.8 6 3 6 1.7 6 0.1 5.5-1.6zM1027 1518.2l-4 1-6 0.3-18-3.6-18 0.2-6-1-7.8-3.1-6.7-4-9-6-0.9-2 1.2-2 3.4-2 6-2 7.8-1.3 8 0.1 18 3 18-2.2 6 0.6 4.8 1.8 5.2 3.7 3.6 4.3 1.8 4-0.1 4-1.2 2-2.1 2-4 2.2z"/>
<path fill="#b2e800" d="M842.9 1818l2.1-1.3 2.4-2.7 4.9-10 2.8-4 4.4-4 6.1-4 17.8-8 11.2-4 14.1-4 10.3-1.2 10-0.1 22-1.5 36-0.8 42 1.4 30 4.4 36 6.9 40 6.2 18 2 42 1.7 0-360.9-4-0.1-4-2-4-0.2-26 2.9-21.4 5.3-40.6 13.3-16 2.6-30 3.3-30 6.5-44 2.1-16-1.3-22-0.8-62-5.6-24 0.2-8-1.9-10-4.6-8.1-1.8-59.9-7.6-62-6.4-48-0.5-8 0.7-26 5.3-16 7-12 3.4-6.1 6.1-5.9 3-2 1.8-12 19.3-4 4-8 5.8-14 7-14 5.7-20 5.7-18 7.2-30 17.6-31.5 12.9-8.1 4-3.2 2-3.7 4-0.7 4 0.8 2 4.5 4 5.9 2.9 10 2.2 28 2.2 20 3.6 22 2.8 26 6.9 26 9.3 10 6.7 8.5 7.4 3.5 2.2 52 16.8 8 3.7 10 6.6 9.5 10.7 7.8 14 4.9 6 4.4 10 5.6 18 4.5 8 5.3 5.5 12 9.4 26 27.1 20 13.6 38 20.5 14.2 9.9 13.8 11.8 12 7.8 5.4 2.4 4.6 1 4 0 3.9-1zM1027 1526l-6 0.4-6-0.4-18-4.3-18-0.6-10-2.5-28-11.9-4-2.3-2.6-2.4-2.6-4-0.2-2 0.6-2 3.6-4 9.2-5.4 6-1.8 10-1.7 8-0.3 6 0.6 4 1.1 12 5.3 4 0.8 5.6-0.6 10.4-3.2 6-0.5 4 0.7 4 1.6 18 12.5 4 2 10 3.2 2.7 1.7 1.2 2 0.1 2-0.9 2-2.3 2-16.8 8-6 2.2-8 1.8z"/>
<path fill="#a8e500" d="M835.1 1806l3.9-2.5 5.6-5.5 5.9-4 14.5-6 23.3-8 14-4 10.5-2 38.2-1.9 38-0.8 40 1.5 30 4.1 38 6.5 38 5.3 18 1.8 42 2 0-355.6-4 0-4-2.1-4-0.5-30 3.7-14.6 4-15.1 6-18.3 9.2-8 5.6-2 0.7-18 3.3-24-1.5-6 0.9-6 2.3-4.9 3.5-2 4 0.9 4 4 5.6 6 3.9 6 2.1 6 1.1 14 0.9 7 2.4 3 2.1 2.5 3.9 0.7 4-0.8 4-2.5 4-2.2 2-13.3 6-30.4 7.9-14 1.5-8-0.6-18-3.4-14-1.5-12-2.8-13.5-5.1-22.5-9.9-10-6.2-7.7-3.9-5.1-4-1.4-2-0.5-2 0.9-2 2.5-2 12.3-6 2.1-2 1-2-0.6-2-2.6-2-4.9-1.5-8-1.1-14.3-3.4-17.7-2.4-8-0.5-14 0.6-6-0.6-8-2.2-10-5-6.1-1.9-63.9-9-62-6.4-46-0.4-8 0.7-26 5.3-16 6.7-10.8 3.1-6.6 6-6.6 3.3-2 1.9-12 19.3-4 3.9-8 5.8-14 6.9-14 5.7-22 6.4-16 6.5-30 17.6-31 12.7-8 4-3.2 2-3.7 4-0.8 4 0.9 2 4.5 4 5.3 2.6 10 2.3 28 2.2 20 3.6 22 2.8 26 6.9 26 9.2 10 6.8 8.8 7.6 3.2 2 52 16.8 7.2 3.2 10.8 7 9.7 11 7.9 14 4.9 6 4.4 10 5.7 18 4.7 8 4.7 4.9 12 9.4 8 8.6 18 17 22 14.7 18 9.8 16.3 7.6 17.9 10 15.8 11.1 10 3.1 4 0.5 4.1-0.7z"/>
<path fill="#9ee200" d="M828.4 1794l34.6-8.6 26.2-7.4 19.8-4.6 12-1.2 62-1.9 48 1.6 104 14.5 16 1.5 44 2.3 0-351.1-4 0.1-4-1.7-4-0.6-24 2.7-17.7 4.4-14.3 6.2-9.3 5.8-7.1 6-4.7 6-2.1 4-2.8 9.5-3.3 6.5 0 2 4.3 14 0.5 4-1.5 6-3.1 4-7.6 4-19.3 5.1-35.5 6.9-14.5 1.3-10-0.7-26-3.9-14-3.2-21.5-7.5-46.5-20.1-5.6-3.9-2.1-4-0.6-6 1.5-8-1.2-4-2.1-2-4.3-2-13.6-2.8-16-0.4-8-0.9-8-2.5-12-6.2-6-1.8-36-6.1-24.8-3.3-63.2-6.7-46-0.3-8 0.6-26 5.2-16 6.6-10 3-2 1.2-4.8 4.4-7.7 4-7.5 10.6-6 10.2-4 3.9-8 5.8-12 6-16 6.6-22 6.4-16 6.4-30 17.7-30.4 12.4-8 4-3.2 2-3.7 4-0.8 4 0.9 2 4.5 4 4.7 2.3 10 2.4 28 2.2 20 3.6 22 2.8 26 6.8 26 9.3 10 6.8 9.1 7.8 2.9 1.7 14 5 38 11.8 6 2.6 12 7.7 10 11.2 7.9 14 4.9 6 3.7 8 6.5 20 5 8.2 4 4 12 9.5 8 8.5 16 14.2 6 4.6 16 10.4 22 11.8 46 20.2 6 1.3 7.4-0.7z"/>
<path fill="#93df00" d="M1195 1788l0-252.3-4 0.1-2-0.8-2-2-1-3 0.8-4 2.2-2 2 0.1 4 1.6 0-84.6-4 0.2-6-1.5-4 0.1-19.3 2.1-10.7 2.1-8 2.4-10 4.3-8 5.1-4.6 4.1-4.7 6-2.1 4-1.6 4-1.2 6 0 10 0.6 4 6.2 16 0.8 4-1 6-1.5 2-3 2-5.5 2-9.5 2-62.9 9.5-14 1.1-10.7-0.6-19.3-2.5-17-3.5-29.7-10-27.3-11.6-13-4.4-9-4.8-4-3.2-2.2-4-1.3-4-1.5-10-0.9-2-2.1-2.2-10-3.8-16-2.2-8-1.8-6-2.2-12-6.4-6-2.2-36-6.8-20-2.8-66-7.3-54.1-0.3-27.9 5.5-26 9.8-6.2 4.7-7.9 4-2 2-5.9 9-6 10.2-4 3.8-8 5.7-12 6-16 6.6-22 6.4-15.6 6.3-32.4 18.8-27.7 11.2-8.1 4-5.5 4-2.2 4 0 2 0.9 2 1.8 2 6.6 4 6.2 1.8 32 2.9 20 3.6 22 2.8 28 7.5 24 8.6 10.1 6.8 9.3 8 2.6 1.5 14 5 38 11.8 8 3.7 10 6.5 10.2 11.5 8 14 3.8 4.2 4 7.8 8.4 24 3.6 5.5 4 4.1 12 9.6 8 8.3 14 11.7 8 6 14 9.1 24 12.9 28 11.7 6 1.9 14 2.8 14 0 30-4.4 39.1-9.2 11.3-2 39.6-1.9 38-0.7 42 1.5 106 13.6 58 3.5z"/>
<path fill="#89dc00" d="M1195 1786l0-240.2-6-0.9-4-1.7-4-3.1-2-2.6-1.6-3.5-0.7-6 2.7-12-0.4-2-6-5.4-1.3-2.6-0.3-2 1.6-4.3 2-1.5 4 0.2 4 2.8 7.2 10.8 2.8 2.9 2 1.1 0-72.7-4 0.2-6-0.7-6 0.3-18 2-12 2.6-8 2.9-8 4.1-6 4.6-4 4.7-3.2 6-1.8 6-0.4 6 1.1 8 2 6 3.6 6 4.7 6.2 7.4 7.8 2.6 4 0.2 2-0.7 2-3.5 3-7.8 3-12.2 2.2-28 2-54 6.4-14 0.9-30-3-14-3-35.3-11.5-26.7-10.6-12-4-10-5.3-6-4.6-2.5-3.5-4.5-12-1.2-2-2.2-2-7.7-4-13.9-3.9-8-2.8-16-8.6-6-2.2-31.5-6.5-25.8-4-60.7-6.7-50-0.8-8 0.6-26 5-28 11.1-4 3.1-8 3.9-2 2.1-12.4 19.7-11.6 9-12 6-16 6.6-22 6.3-15.1 6.1-30.9 18.1-29.1 11.9-8.1 4-5.5 4-2.2 4 0 2 0.9 2 1.8 2 6.2 3.7 6 1.8 8 1.2 26 2.1 18 3.3 22 2.8 28 7.5 24 8.6 10.5 7 11.5 9.3 14 5 38 11.8 8 3.7 10 6.4 10.4 11.8 8.1 14 3.7 4 4.1 8 8.5 24 3.2 4.8 4 4.2 12 9.6 12 11.6 14 10.6 18 11.7 24 12.8 30 11.6 8 1.6 10 1.1 16 0.2 28-2.8 43.6-9 14.4-1.7 70-1.9 40 1.4 108 12.8 58 3.4z"/>
<path fill="#7fd900" d="M1195 1784l0-231.5-6-1-8.6-3.5-6.2-4-9.2-8.8-4-2-4 0.1-11.4 2.7-6.6 0.8-24 1.1-26 0.1-66 6-12-0.4-26-2.8-18-4.5-22-6.9-42-15-12-5.2-5.4-3.2-7.4-6-3.1-4-5.8-10-4.3-4.5-6.3-3.5-15.7-7-14-8-6-2.5-36-8.1-28.9-4.4-57.1-6.1-48-0.5-6.6 0.6-25.4 4.7-26 10.1-6 3.9-8 3.9-8 11.2-6.1 10.2-3.9 3.6-8 5.7-12 6-14 5.7-23.5 7-15 6-31.5 18.4-28.5 11.6-8 4-5.6 4-2.2 4 0 2 0.9 2 1.8 2 5.6 3.4 6 1.9 8 1.2 26 2.1 18.6 3.4 21.4 2.7 28 7.4 24 8.6 10.8 7.3 11.2 9 14 5.1 38 11.8 8 3.6 10 6.5 10.7 12 8.2 14 3.6 4 4.2 8 7.3 21.4 4 6.7 4 4.2 12 9.8 8 8.1 18 13.1 26 16.1 18 9 28 10.2 18 2.1 16 0.5 28-2.1 40-7.5 18-2.2 72-1.8 36 1.1 110 12.1 58 3.2zM1159.9 1512l3.1-4.1 5.2-9.9 2.8-2.5 4-1.1 4 0.9 2 1.3 4 4 6 7.7 4 2.9 0-65.1-10-0.2-20 1.9-16 3.3-7.6 2.9-7 4-5.4 4.8-3.5 5.2-2.3 8 0.1 6 2.4 8 3.3 6 4 4.4 4 3.4 12 7.3 6 2.1 2 0.1 2.9-1.3z"/>
<path fill="#75d600" d="M1195 1782l0-223.9-10-2.3-22-9.1-8-1.7-24-2.3-36-1.5-34 1.8-40 3.3-38-3.3-18-4.3-20-5.7-42-13.8-16-6.6-7.5-4.6-8.5-7.4-7.9-12.6-4.1-4.2-30-18.4-8-3.3-32.7-8.1-23.9-4-16.4-2-47-5-48-0.7-32 5.1-26 10-14 7.5-7.8 11.1-5.9 10-4.3 3.9-8 5.6-12 6-14 5.8-22.8 6.7-15.2 6-32 18.6-27.8 11.4-8.1 4-5.5 4-2.2 4 0 2 0.8 2 1.9 2 4.9 3 6 2 8 1.3 26 2 19.9 3.7 20.1 2.5 28 7.4 20 7 6 2.7 10 7 10 8.2 14 5 38 11.9 6 2.5 12 7.5 9.5 10.3 9.7 16 3.6 4 4.3 8 6.7 20 3.2 6 5 5.7 12 9.8 8 8 16 11.2 28 17.1 18 9 28 9.8 24 2.2 12 0.1 26-1.5 40-6.7 18-2.2 70-1.8 36 0.9 114 11.7 56 3.1 0-0.4zM1195 1508l0-58.6-10 0-18 1.7-14 2.5-7.2 2.4-6.8 3.4-4 2.8-4 4.4-1.8 3.4-1.1 4-0.1 4 0.8 4 4.5 8 3.7 4.1 4 2.9 8 3.8 6 0.7 4-1.4 10-7.5 4-0.8 4 0.4 4 1.8 10 11.6 2 1.7 2 0.7z"/>
<path fill="#6bd300" d="M1195 1780l0-216.8-8-1.7-24-8.2-32-6.1-36-2.9-36 1.4-38 2.7-34-2.3-11.2-2.1-26.8-6.3-32-9.1-26-8.3-10.5-4.3-6.7-4-4.6-4-6.4-8-5.7-10-3.6-4-10-8-14.8-10-3.7-2.1-5.3-1.9-29.8-8-36.5-6-52.4-5.8-46-0.7-8 0.5-26 4-20 7.3-8 3.7-5 3-5 1.9-4 3.7-12 19.1-12 9.1-10 5.1-18 7.4-20 5.7-16 6.3-32 18.6-27.2 11.1-8 4-5.6 4-2.2 4 0 2 0.9 2 1.8 2 4.3 2.7 6 2 7 1.3 27 2.1 20 3.7 22 2.9 26 7 20 7 6 2.7 10 7 10 8.2 14 5 38 11.9 6.1 2.5 11.9 7.5 9.8 10.5 9.7 16 3.6 4 4.4 8 6.5 19.4 3.6 6.6 4.4 5 12 9.9 10 9.7 38 23.4 18 9.3 8 3.5 24 7.9 30 2.5 26-1 10-0.8 36-5.7 18-2 70-1.9 36 0.9 116 11.2 54 2.9 0-0.8zM1195 1506l0-52.8-4 0.7-6-0.9-18 1.9-14 3-6.1 2.1-5.9 3.2-4 3-2.9 3.8-1.2 4 0.1 2.7 1.1 3.3 2.9 4 4 3.1 6 3 6 1.6 4 0.1 12-2.2 10 1.1 4 2.2 6.5 9.1 3.5 3.2 2 0.8z"/>
<path fill="#60d000" d="M1195 1778l0-209.8-6-1.2-26-8.5-34-7.9-32-3.3-8-0.3-30 1-42 2.2-32.1-2.2-40.9-8-31-7.2-30-8.5-6.5-2.3-9.5-4.8-4.2-3.2-7.8-10-8.2-14-7.1-10-12.8-10-8.9-4-19-5.9-9.6-2.1-30.4-5.3-38-5.3-22-1.7-40-1-10 0.4-28 3.5-18 6.3-20 9.3-4 3.8-12 19.1-12 9-14 6.9-14 5.6-20 5.7-18 7.3-30 17.6-21.8 8.8-12.8 6-5.5 4-2.2 4 0 2 0.8 2 1.9 2 3.6 2.3 6 2.2 8 1.4 26 2 20 3.7 22 2.8 26 7.1 22 7.7 4 1.9 10 7 8 7.1 4 2 50 16.1 6.5 2.7 11.5 7.2 10 10.8 9.9 16 3.5 4 4.4 8 6.9 20 3.3 5.9 4 4.5 12 10 10 9.5 40 23.7 18 9.2 6 2.5 24 7.7 30 2.5 28-0.8 62-7.8 66-2 38 0.8 118 10.9 54 2.6 0-1.2zM1195 1504l0-46.1-4 1.4-4-2.4-4-0.3-18 3-16.4 6.4-5.1 4-1.5 2-0.3 2 1.3 1.5 8.4 4.5 17.6 7.1 15 2.9 1 0.9 1.7 5.1 2.3 3.5 4 3.8 2 0.7z"/>
<path fill="#56cd00" d="M1195 1776l0-203-8-1.7-30-9.9-24-6.6-10-1.9-32-3.3-34 0.7-36 1.8-36-2.1-72-11.8-34-7.7-7.2-2.5-8.8-4.3-5.6-3.7-4.4-4.2-7.5-9.8-9-22-2.9-4-6.5-6-6.3-4-21.8-7.5-16-2.6-8-2.1-28-5-28-4.3-22-1.5-36-1.1-14 0.6-26 2.7-20 7-20 9.7-6.9 10.1-5.8 10-5.3 4.9-8 5.5-12 6-16 6.5-20 5.7-18 7.2-30 17.7-21.2 8.5-12.7 6-5.5 4-2.2 4 0 2 0.8 2 1.9 2 3 2 5.9 2.2 8 1.5 26 2 20 3.7 22 2.8 26 7.1 22 7.7 4 1.9 10.2 7.1 7.8 6.9 4 2.1 50 16.1 6.9 2.9 11.1 6.9 10.3 11.1 3.7 6.8 6 8.9 3.7 4.3 4.5 8 6.2 18 3.6 7.1 4.3 4.9 13.7 11.5 6.6 6.5 5.4 3.7 38 21.5 16 8.1 8 3.3 20 6.2 8 1.5 24 1.7 28-0.6 62-7.3 66-2.1 38 0.8 118 10.4 54 2.5 0-1.7zM1186.6 1486l4.4-1.3 4 1.2 0-22.1-2 1.1-2 0.1-4-4.2-2-0.8-4 0.1-6 1.2-6 2.1-4.3 2.6-2 2-1.7 4 0.6 4 2.2 4 3.9 4 3.7 2 5.6 1.3 6-0.1 3.6-1.2zM1195 1502l0-6 0-9.9-1 1.9-4.9 4-0.9 2 0.3 2 2.5 3.8 2 1.8 2 0.9 0-0.5z"/>
<path fill="#4cca00" d="M1195 1776l0-198.5-10-2.2-26-9.3-24-7.5-8-2.1-12-1.9-24-2.5-34 0.4-36 1.3-36-1.9-70-8.9-40-7.8-8-3-8-4.1-8.9-6-5.1-5-3.6-5-3.1-6-7.3-20.9-1.8-3.1-4.2-4.7-4-3.2-3.9-2.1-16.1-6.2-18-3.1-8-2.3-32-6.8-24-3.9-20-1.4-38-1.4-36 2.4-6 1-18 6.3-19.6 9.4-7 10-5.8 10-3.6 3.6-10 7.2-12 5.9-16 6.5-22 6.4-15.7 6.4-28.3 16.8-27.1 11.2-8.1 4-5.5 4-2.2 4 0 2 0.8 2 1.9 2 3.1 2 5.1 2 8 1.4 26 2.1 20 3.7 22 2.8 26 7.1 26 9.6 10.5 7.3 7.5 6.6 4 2.2 50 16.1 7.3 3.1 12.2 8 9 10 3.5 6.4 10 13.6 4.7 8 6.9 20 3.7 6 3.7 4 21 18.4 42 23.3 18 9.1 6 2.5 20 6 6 1.3 10 0.9 18 1.1 12-0.1 20-0.8 56-6.4 60-2.1 38 0.5 122 10.1 56 2.2zM1185.5 1484l5.5-3.2 4-1.1 0-11-2 0.9-2-0.1-4-4.7-2-1.4-2-0.3-8 1.8-4.8 3.1-2.5 4-0.8 4 0.9 4 1.3 2 3.9 2.9 4 0.9 4-0.2 4.5-1.6zM1195 1500l0-4 0-5-2 1-2 2-0.3 2 2.3 3.6 2 1.1 0-0.7z"/>
<path fill="#42c700" d="M1195 1774l0-192.5-6-0.9-8-2.3-28-10.7-20-6.7-10-2.6-12-1.9-22-2.1-68 1-36-1.7-71.9-7.6-32.1-5.3-10-2.3-6.4-2.4-7.9-4-9.7-6-5.1-4-3.5-4-3.6-6-6.2-18-3.3-8-2.4-4-3.9-4-6.4-4-7.6-3.4-8-2.6-14-2.8-22-6.2-16-3.7-26-4.4-22-1.7-36-1.4-38 2.3-4 0.7-18 6.3-19.2 8.9-6.8 9.6-4.7 8.4-3 4-12.3 9.1-12 5.9-16 6.5-22 6.3-15.1 6.2-28.9 17.1-21.8 8.9-12.7 6-5.5 4-2.2 4 0 2 0.9 2 1.9 2 3.1 2 5.3 2 7 1.2 26 2.1 20 3.7 22 2.8 28 7.7 24 8.9 10.8 7.6 7.2 6.4 4 2.2 50 16.1 7.7 3.3 12.1 8 9 10 3.2 6 10 13.5 5.1 8.5 6.9 19.9 2.3 4.1 5.4 6 18.3 16 6 4.1 16.3 7.9 23.7 13.4 16 8 8 3.2 18 5.2 6 1.3 10 1.1 18 1.1 12 0 20-0.7 56-6 60-2.2 38 0.4 124 10 54 2.2 0-1zM1179.8 1484l5.1-2 2.7-2 2.1-4-0.2-2-2.5-5-2-2-2-0.6-4 0.5-4 2-2.9 3.1-1.6 4 0.3 4 1.2 2 3 1.9 4.8 0.1zM1195 1498l0-2 0-2.1-1.4 2.1 1.4 2z"/>
<path fill="#38c400" d="M1195 1772l0-186.8-7.5-1.2-8.5-2.5-30-12.1-18-6.3-10-2.6-14-2.3-18-1.7-68 0.3-38-1.7-68-6.2-33.5-4.9-12.5-2.5-8.9-3.5-11.4-6-9.3-6-4.5-4-3.2-4-2.1-4-6.2-18-3.6-8-2.6-4-4.2-4.1-5.9-3.9-9-4-37.1-11.6-20-4.8-20-3.4-22-2-40-1.6-36 2.1-4 0.6-18 6.2-18.7 8.5-7.3 10-7.3 12-12.7 9.4-12 5.9-14 5.8-23.6 6.9-14.8 6-29.6 17.4-25.7 10.6-8 4-5.5 4-2.3 4 0 2 0.9 2 1.9 2 3.2 2 5.6 2 5.9 1 26 2.1 20 3.7 22 2.8 28 7.7 24 8.9 11.1 7.8 6.9 6.1 4 2.2 40 12.8 16 5.7 12 7.4 10 10.5 4.2 7.3 9.1 12 6.2 10 6.5 18.7 2.9 5.3 5.1 5.6 18 15.5 4 3 18 8.5 24 13.3 18 9.1 8 3 16 4.4 8 1.7 8 0.8 30 1.2 24-1 52-5.3 60-2.3 36 0.4 44 3 82 6.7 54 2.1 0-1.7zM1179.2 1482l4.4-2 2-2 0.8-2-1-4-2.4-1.8-2 0-4 1.7-3 4.1-0.5 2 0.5 2 1 1.2 2 0.9 2.2-0.1z"/>
<path fill="#2dc100" d="M1195 1772l0-183.4-8-1.3-10.7-3.3-29.3-12.4-18-6.5-10-2.6-14-2.3-18-1.6-66-0.3-38-1.7-66-5.2-39.8-5.4-10.2-2-10-4-15.9-8-6.1-4-6.8-6-4.8-6-2-10-5.6-12-5.1-8-6.4-6-11.3-6.4-34-12.4-18-4.5-20-3.5-22-2.3-40-1.6-36 1.9-6 1.3-14 4.6-20.2 8.9-2 2-5.4 8-7.2 12-7.2 5.8-6 4-10 4.9-16 6.7-22.6 6.6-15.1 6-32.3 18.8-18.4 7.2-12.6 6-5.5 4-2.2 4 0 2 0.9 2 1.9 2 3.3 2 5.8 2 30.8 2.9 20 3.7 22 2.8 28 7.7 24 8.9 11.5 8 6.5 5.9 4 2.2 50 16.1 8 3.5 12 7.9 9.3 10.4 3.2 6 9.2 12 6.3 10 8 21.7 3.2 4.3 4 4 20.8 17.2 19.1 8.8 40.9 21.7 10 3.6 24 5.7 32 2 28-1 52-4.9 60-2.4 40 0.4 122 9.4 54 2 0-0.5z"/>
<path fill="#23be00" d="M1195 1770l0-178.4-8-1.3-14-4.3-28-12.2-20-7.4-8-2.1-10-1.5-18-2-72-1.2-67.2-3.6-38.8-3.4-36.1-4.6-10.3-2-5.6-2-21.7-10-8.3-5.7-9.3-8.3-3.1-4-2.2-12-3.5-8-7.2-10-6.7-5.8-7-4.2-25-11.4-20-6-24-4.5-20-2.3-38-1.8-40 1.8-4 0.6-10 3.1-10 3.6-16 7.1-2 2-5.2 7.8-7.2 12-11.6 9-12 6.1-18 7.4-19.6 5.5-15.3 6-33.1 19.1-17.6 6.9-12.6 6-5.5 4-2.2 4 0 2 0.9 2 1.9 2 3.3 2 5.8 1.9 30 2.8 20 3.7 22 2.8 28 7.7 24 8.8 11.8 8.3 6.2 5.6 4 2.3 50 16.1 8 3.5 12 7.8 9.5 10.7 3.2 6 9.3 12 6.5 10 5.5 16.1 2.8 5.9 3 4 4.2 4 20 16.2 18 8.1 42 22 10 3.7 24 5.7 30 2.1 22-0.4 18-1.1 42-4 64-2.5 40 0.7 118 8.9 54 1.9 0-1.3z"/>
<path fill="#19bb00" d="M1195 1770l0-175.6-8-1.3-16-4.9-26-11.5-17-6.7-9-2.9-10-1.8-20-2.3-72-1.9-61.4-3.1-44.6-3.6-36.6-4.4-11.4-2-20.9-8-7.1-3.3-7.4-4.7-8.6-7.2-8-8.8-4.9-16-3-6-4.7-6-8.9-8-9.3-6-15.5-8-5.7-2.2-16-4.7-22-4-20-2.6-40-2-40 2.1-16 4.6-22 9.5-8 11.1-6 10.2-4 3.7-8 5.7-12 6.1-18 7.4-18.5 5.1-15.6 6-31.9 18.5-23.6 9.5-7.8 4-5.4 4-2.3 4 0 2 0.9 2 2 2 3.3 2 4.9 1.6 30 2.8 20 3.8 22 2.8 28 7.7 24 8.8 12 8.4 6 5.4 4 2.4 50 16.1 8 3.4 12 7.8 9.8 11 3.1 6 9.1 11.4 5.8 8.6 8.4 22 3.8 5.4 4 4 20 15.7 19.8 8.9 42.2 21.9 8 2.9 26 6 28 1.8 28-0.6 54-4.4 66-2.6 36 0.4 118 8.9 56 1.7z"/>
<path fill="#0fb800" d="M1195 1768l0-171-8-1.3-18-5.5-26-11.6-16.6-6.6-7.4-2.6-8-1.6-22-2.7-100-3.8-53.9-3.3-23.8-2-35.7-4-14.6-2.4-22-7.6-8.5-4-6.2-4-9.7-8-7.4-8-2.3-4-2.1-6-5.5-12-5.8-8-7.5-8-5.1-4-15.9-9.3-20.3-6.7-21.7-4-20-2.9-40-1.9-40 2-16 4.5-8 2.9-14 6.5-6.4 8.9-7.6 12.6-8 6.5-6 3.8-12 5.9-16 6.5-20 5.6-17.4 7.1-28.6 16.9-22.8 9.1-7.8 4-5.4 4-2.2 4 0 2 0.9 2 1.9 2 3.4 2 4 1.3 6 1 24 1.9 20 3.7 22 2.9 28 7.7 24 8.8 12 8.3 6 5.5 4 2.3 50 16.2 8 3.4 12 7.8 10 11.2 3.2 6 3.6 4 11.5 16 8.5 22 2.7 4 4.5 4.7 20 15.4 20 8.9 42 21.5 8 3 26 6 30 2 40-1.3 40-3.4 64-2.7 40 0.5 118 8.8 54 1.7 0-1.1z"/>
<path fill="#05b500" d="M1195 1766l0-166.7-7.9-1.3-20.1-5.9-26-11.6-16.2-6.5-7.8-2.7-6-1.1-22-2.8-126-6.1-48-3.6-50-5.3-22-5.9-11.3-4.5-6.7-3.4-11.8-8.6-4.5-4-8-10-6.2-14-4.4-8-8.6-12-4-4-16.5-10.7-20-6.7-40-6.8-40-2-40 1.9-18 5-17.5 7.3-2.5 1.6-6 8.4-6.9 12-3.1 3.1-10 7.1-14 7-14 5.7-24 7.1-14.6 6-29.4 17.4-22 8.6-7.9 4-5.2 4-2.3 4 0 2 0.9 2 1.9 2 3.5 2 5.1 1.4 28 2.6 20 3.7 22 2.9 28 7.6 24 8.8 12 8.4 6 5.4 4 2.4 50 16.2 8 3.4 12 7.7 10 11.1 3.4 6.4 3.8 4 8.8 12.9 2.9 3.1 7.1 19.2 2 3.9 3.9 4.9 4.1 3.7 18 13.3 20.4 9 43.6 22 6 2.1 26 6.1 30 2.1 40-1.1 40-3.2 64-2.9 40 0.6 120 8.8 52 1.5 0-2z"/>
<path fill="#03b404" d="M1195 1766l0-164.5-8-1.4-22-6.4-26-11.3-21.6-8.4-20.4-3.4-40-3-96-5.1-48-3.6-48-4.9-22-4.9-18.2-7.1-17.8-11.8-10.2-12.2-9.4-20-8.4-14-3.1-4-10.3-8-6.3-4-18.3-6.4-40-7.1-40-2.1-40 1.9-18 4.8-16.6 6.9-3.3 2-6.1 8.7-6.4 11.3-3.6 3.6-10 7.1-12 6-16 6.6-22.9 6.7-14.8 6-30.3 17.8-21.2 8.2-7.8 4-5.3 4-2.2 4 0 2 0.9 2 1.9 2 3.6 2 4.1 1.1 28 2.7 20 3.7 22 2.9 26 7 26 9.4 10 6.8 8 6.9 4 2.5 14 4.9 36 11.3 8 3.3 12 7.7 10 11.1 4 7.1 3.6 3.6 8.4 12.3 3.4 3.7 8.6 22 2.8 4 5.2 5 18 12.9 22 9.8 42 20.7 6 2.3 28 6.4 28 2 42-1 38-2.9 66-3.1 38 0.6 118 8.7 54 1.6 0-1z"/>
<path fill="#0ab60d" d="M1195 1764l0-160.6-8-1.3-22-6.2-48-19.2-22-3.8-38-3.2-96-6-49.2-3.7-44.8-4.2-26-5-18.6-6.8-13.9-8-5.5-4-6-6.6-3.8-5.4-9.4-20-9.8-18-6.4-6-7.7-6-9.6-4-11.3-3.8-38-6.9-40-2.3-40 1.9-18 4.7-6.6 2.4-12.7 6-6.7 9.4-7.5 12.6-12.5 9.2-12 6-18 7.3-19.7 5.5-15 6-29.3 17.2-22.4 8.8-7.8 4-5.2 4-2.2 4 0 2 0.8 2 1.9 2 3.8 2 3.1 0.8 28 2.7 20 3.8 22 2.9 28 7.6 24 8.7 10 6.8 8 6.9 4 2.5 14 5 36 11.3 8 3.3 12 7.7 10 10.9 4 7.2 3.9 3.9 4.8 6 3.3 5.8 4 4.2 8 20.9 3.6 5.1 4.4 4.4 18 12.4 20.8 9.2 45.2 21.8 6 2 26 6 30 2.1 40-0.9 36-2.6 68-3.3 38 0.6 118 8.8 54 1.5 0-2z"/>
<path fill="#11b717" d="M1195 1764l0-158.7-8-1.4-22-5.9-48-18.1-22-4.3-68-6.1-68-4.7-88-7.2-24.2-3.6-8.6-2-18-6-13.2-6.7-7.7-5.3-5.5-6-4-6-15.6-34-3.8-6-5.9-6-5.5-4.5-7.2-3.5-12.8-4.7-38.3-7.3-39.7-2.3-40 1.8-18 4.5-18.7 8-7.3 10.1-6.9 11.9-13.1 9.7-12 6-18 7.3-18.2 5-15.8 6.2-32 18.5-19.4 7.3-8 4-5.1 4-2.2 4 0 2 0.8 2 1.9 2 6 2.5 28 2.8 20 3.7 22 2.9 28 7.7 24 8.7 10 6.8 8.1 6.9 3.9 2.5 14 5 36 11.3 7.9 3.2 12.1 7.7 10 10.9 4.2 7.4 4.1 4 4.9 6 2.8 5.1 4.5 4.9 7.6 20 3.9 5.6 4.4 4.4 17.6 11.8 66 30.3 6 2.1 26 6.1 30 2.3 40-0.7 66-4.2 40-1.7 36 0.5 118 9 52 1.5 2 0 0-1z"/>
<path fill="#18b920" d="M1195 1764l0-156.9-8-1.4-24-6.3-48-16.8-23.1-4.6-76.9-7.8-148-11.6-24-3.6-19.2-5-19.3-8-6.5-4-4.5-4-4.5-5.5-2.7-4.5-7.5-16-7.1-18-4.7-8-5.5-6-5.1-4-13.2-6-6.2-1.9-38-7.4-38-2.3-40 1.8-18 4.3-18 7.5-8 11-6.2 11-3.8 3.3-10 6.9-14 6.9-14 5.7-20 5.7-18 7.2-28 16.6-20.5 7.7-8.1 4-5 4-2.2 4 0 2 0.8 2 1.9 2 5.1 2.2 28 2.8 20 3.8 22 2.9 28 7.6 24 8.8 10 6.7 8.4 7.2 3.6 2.3 12 4.3 38 11.9 8 3.3 12 7.6 9.8 10.6 4.7 8 4.3 4 4.9 6 2.3 4.5 5.1 5.5 7.7 20 4.3 6 4.9 4.6 12 8 6 3.2 64 28.4 8 2.8 24 5.8 30 2.5 42-0.7 96-5.8 28 0.1 30 1.5 102 8.1 56 1.5z"/>
<path fill="#1fba29" d="M1195 1762l0-153.1-32-7.6-50-16-24-4.8-68-8-32-3.1-122-9.5-26-3.7-22-5.2-18.3-7-6.5-4-4.4-4-3.3-4-3.5-6-8-18-6.7-18-4.7-8-4.6-5.3-4-3.3-6.4-3.4-9.7-4-37.9-8.2-40-2.7-40 1.8-20 4.7-16 7.1-8 11.2-6 10.6-14 10.3-12 5.9-16 6.6-22 6.4-15.6 6.3-28.4 16.8-20 7.4-7.7 3.8-5 4-2.2 4 0 2 0.7 2 2 2 4.6 2 19.6 2.4 8 0.4 20 3.8 22 2.9 28 7.6 24 8.7 10 6.7 8.8 7.5 3.2 2 56 18.6 14 8.5 10 10.8 4.8 8.1 7.9 8 3.4 6 5.5 6 5.9 16 3.2 6 5.2 6 4.1 3.4 16 9.5 66 28.2 24 6.8 10 1.9 30 2.2 38-0.6 96-6 32 0.2 24 1.4 104 8.5 52 1.6 4-0.1 0-1z"/>
<path fill="#26bb32" d="M1195 1762l0-151.3-32-7.4-50-14.8-30-6.1-98-12.1-50-4.4-68-4.7-38-5.5-18-4.4-14-5.3-6-3.8-4.7-4.2-3.3-4.1-3.3-5.9-4.6-12-3.8-8-5.6-16-5.5-10-3.3-4-4.9-4-7.5-4-9.5-3.4-36-8-38-2.7-40 1.7-19.9 4.4-14.1 6-2 1.4-6.2 8.6-7.8 13.3-14 10.1-12 5.9-16 6.5-21.4 6.2-15 6-29.6 17.4-18.3 6.6-8.5 4-5.1 4-2.1 4-0.1 2 0.8 2 2.1 2 5 2 18.2 2.2 8 0.3 20 3.9 22 2.9 28 7.6 24 8.7 10 6.7 9.2 7.7 3.4 2 11.4 4.1 30 9.3 16 6 10 6 4 3.3 8.4 9.3 4.7 8 4.6 4 4.3 4.8 2.7 5.2 5.4 6 5.2 14 2.8 6 4.6 6 5.3 4.6 16 9.4 32 13.3 36.6 14.7 21.4 6.2 10 2 30 2.3 40-0.6 40-2 54-4 32 0.3 18 0.9 110 9.5 56 1.4z"/>
<path fill="#2cbd3b" d="M1195 1760l0-147.5-32-7.3-52-14.2-34-6.8-92-12.6-50-4.7-70-4.6-42-5.5-19.1-4.8-6.9-2.4-7-3.6-5.2-4-5.1-6-4.2-8-14.3-38-3.3-6-2.9-4-4.4-4-5.6-3.4-5.4-2.6-6.3-2-34.3-8.2-38-3-38 1.4-20 3.8-14.7 6-3.1 2-6.2 8.8-7.9 13.2-12.1 8.9-12 6.1-18 7.4-20 5.7-16 6.4-30 17.5-11.9 4-14.1 6-5 4-2.1 4-0.1 2 1.2 2.4 1.8 1.6 5.6 2 26.6 2.5 18 3.7 22 2.8 28 7.6 24 8.7 12 8.2 8 6.8 3.1 1.7 54.9 18.2 10.2 5.8 5.4 4 9 10 4.8 8 8.6 7.9 3.3 6.1 4.1 4 1.2 2 5.4 14.4 2.9 5.6 4.7 6 4.5 4 13.9 8.1 10 4.5 62 23.8 22 6.5 8 1.5 24 2.5 40-0.3 44-2 56-4.4 28 0.2 18 0.9 70 6.9 44 3.5 50 1.5 6-0.1 0-1.1z"/>
<path fill="#33be45" d="M1195 1760l0-145.6-32-7.3-46-11.8-26-5.8-71.6-11.5-34.4-5-46-4.7-70-4.2-42-4.6-12-2-18-4.6-7.1-2.9-6.3-4-4.3-4-3.1-4-5-10-4.6-14-8.5-22-3.1-6.2-4.4-5.8-4.9-4-8.7-4.5-34.6-9.5-11.4-1.7-34-2.5-36 1.5-22.1 4.7-12.6 6-7.3 10-7.2 12-12.8 9.6-14 6.9-16 6.6-20 5.7-16 6.3-30 17.6-10 3.1-15 6.2-5.1 4-2.1 4-0.1 2 0.9 2 2.3 2 5.1 1.7 26 2.6 18.5 3.7 21.5 2.8 30 8.3 22 8 12 8.1 8 6.9 3.7 1.9 54.4 18 11.9 6.9 3.9 3.1 9 10 4.8 8 8.3 7.2 3.9 6.8 4.1 4 1.1 2 5.3 14 3.2 6 4.9 6 4.8 4 12.7 7.2 10 4.5 28 10.6 36 12.6 20 6.2 8 1.6 24 2.6 40-0.3 42-1.8 18-2 40-2.9 28 0.2 26 2 66 7.1 38 3 58 1.4z"/>
<path fill="#3ac04e" d="M1195 1758l0-141.5-76-18.2-32-6.9-100-16.7-50-5.5-70-3.9-44-4.2-17-3.1-13-3.2-6.4-2.8-7.6-4.8-3.3-3.2-4.4-6-3.8-8-10.5-30.8-5.3-11.2-4.7-6.2-4.4-3.8-7.4-4-33-10-9.8-2-33.4-3.2-36 1.2-22 4.2-14 6.2-8 11-6.6 10.6-3.4 3.3-10 7-14 6.9-16 6.5-20 5.7-16 6.4-30 17.6-10 2.8-14 5.8-5.2 4-2.1 4 0 2 0.8 2 2.4 2 4.1 1.3 16 2.1 8 0.3 22 4.3 20 2.6 30 8.2 22 8 12 8.1 8 6.9 4 2 54 17.9 11 6.3 5 3.8 9.2 10.2 4.8 8 8 6.5 4 6.9 4 4 1.6 2.6 5.4 14 3 5.5 5.4 6.5 4.6 3.7 12 6.6 10 4.5 28 10.2 58 18.7 32 4 38-0.4 40-1.8 20-2.4 38-2.9 28 0.2 18 1.3 70.4 8.3 45.6 3.7 50 1.5 6-0.3 0-0.9z"/>
<path fill="#41c157" d="M1191.7 1758l3.3-0.2 0-138.9-8-2.4-68-15.9-28-5.8-106-19-50-5.7-70-3.5-42-3.3-30-5.4-6-2.3-10.6-5.6-3.4-3.1-5.3-6.9-3.8-8-9.4-28-7.5-14-5-6-5.2-4-8.1-4-33.7-11.2-32-4.5-6-0.3-36 1.4-24 5.2-8 3.4-2 1.8-14 20.3-4 3.9-10 7.1-12 5.9-18 7.4-20 5.6-15 6-29 17.1-12 3.7-13 5.2-5.3 4-2.1 4 0 2 0.9 2 2.7 2 2.8 0.8 16 2.3 8 0.3 22 4.3 22 3 28 7.9 22 7.9 12 8.1 8 6.8 4 2.2 54 17.9 10 5.6 6 4.4 9.5 10.5 4.5 7.7 8.2 6.3 3.8 6.5 4 4.2 2.1 3.3 5.6 14 2.3 4.3 4.5 5.7 5.5 4.8 14 7.6 8.4 3.6 25.6 9 30.3 9 29.7 9.7 28 3.9 8 0.4 36-0.8 36-1.9 22-2.8 40-3 26 0.6 12 0.9 52 7.2 34 3.6 38 3 50.7 1.2z"/>
<path fill="#48c360" d="M1195 1756l0-134.3-10-3.5-72-16.7-130-24.4-48-5.8-90-4-22-1.9-32.1-5.4-17.8-8-9-10-3.2-6-10.9-30-7-10.5-4-4.5-18.9-13-29.1-11.5-26.3-4.5-9.7-0.5-32 0.9-7.7 1.6-10.3 3.5-6-0.2-4 1-4 1.7-2.8 2-3.8 6-5.4 6.1-8 11-12 8.7-12 5.9-18 7.4-20 5.6-14 5.6-30 17.5-12 3.5-12 4.8-5.3 3.9-2.2 4 0 2 1 2 4.5 2.4 16 2.4 10 0.6 20 4 22 3.1 26 7.1 20 7 6 2.7 10 7 8 6.8 4 2.2 54 17.9 10 5.7 6 4.3 9.8 10.8 4.2 7.3 8.7 6.7 3.5 6 3.8 4.1 2.6 3.9 7.4 17.1 5.6 6.9 4.5 4 15.1 8 8.8 3.6 24 8.1 30 8.3 30 9.7 32 4.4 34-0.8 19.6-1.3 46.4-4.9 42-2.3 28 1.3 62 9.3 45.9 4.6 31.4 2 38.7 0.9 6-0.5 0-0.4z"/>
<path fill="#4fc469" d="M1195 1754l0-128.4-6.6-3.6-6.4-2-65-15.6-36-7.1-50-8.8-48-9.7-50-6.5-46-2.2-46-0.6-24-2.7-28-4.9-18-7.8-10.4-10.1-3.6-6-11.1-28-4.9-7.3-6-6.9-14-11.4-6-3.8-20-9.4-9.2-3.2-26.8-5-37.6 1-6.1 2-3.2 2-5.9 8-2.3 2-2.9 1.1-2-0.3-0.4-0.8 3.2-4 0.2-2-1.2-2-1.8-1-2-0.2-4 1.2-4 2.8-3 5.2-7 7.2-8 10.7-10 7.6-14 6.9-16 6.6-22 6.4-14 5.6-30 17.5-12 3.3-12 5-4.4 3.2-2.1 4 0 2 1.1 2 3.5 2 15.9 2.5 10 0.5 18 3.8 22 3 28 7.6 22 7.7 4 2 12 8.4 6 5.3 4 2.2 54 18 10 5.6 6 4.3 10 11.1 4 6.9 9.3 7.1 3.5 6 6.3 8 7 16 5.9 7.3 5.7 4.7 20.5 10 25.8 8.4 32 8.4 30 9.4 28 3.8 18-0.2 30.3-1.8 33.7-5.8 60-2.1 32 1.9 60 10 35.7 4 32.3 2.5 30 0.8 18 0.3 6-0.7 0-0.9z"/>
<path fill="#56c673" d="M1190 1754l5-0.8 0-39.1-0.5-2.1 0.5-2.8 0-77.4-8-6.7-6-2.4-9.5-2.7-58.5-14.5-82-14.9-51.3-10.6-46.7-6.4-46-2-46 0.3-26-3.2-26.6-4.7-13.4-5-6-2.9-11.5-10.1-3.2-4-2.2-4-8.2-20-4.1-8-6-8-10.3-10-8.5-6.8-8.8-5.2-15.2-7.3-12-3.8-20-4.1-20-0.2-16 0.9-4 1.1-4 2.4-8 9.1-4 2.2-4 0.7-2.5-1-0.2-2 3.3-4 0.2-2-2.8-2-2 0.3-4 2-4 6.3-8 7.7-8 10.4-10 7.6-14 6.9-16 6.5-21.6 6.3-14.4 5.7-30 17.6-10.9 2.7-13.1 5.5-3.3 2.5-2.3 4 0.1 2 1.3 2 4.1 2 14.1 2.3 10 0.4 18 3.8 22 3 28 7.6 22 7.7 4 2 12 8.4 6 5.2 4 2.3 54 18.1 12 6.8 4 3 10 11 4 6.9 7.9 5.5 1.9 2 3.6 6 3.5 4 3.9 6 6.1 14 5.1 6.1 6 5 14 7.3 9.4 3.6 24.6 7.6 32 8.1 28 8.4 28 3.8 12 0 32-2.2 10-1.8 16-4.4 12-2 60-0.1 32 2.2 28 4.6 29.4 5.8 30.6 4 42 3.4 47 0.6z"/>
<path fill="#5dc77c" d="M1190.6 1752l4.4-1.1 0-26-4-2.4-3.6-4.5-1.5-4-0.6-6 0.6-4 1.6-4 5.5-9.5 2-2.1 0-43.9-7-12.5-5-4.5-6-2.7-8.8-2.8-57.2-15.1-80-14.2-50-10.5-25.9-4.2-20.1-2.8-32-1.7-30-0.5-32 1-38-5-16-3.3-14-4.9-5.7-2.8-5.8-4-8.7-8-3.5-4-2.4-4-8.6-20-4.3-8-8.1-10-10.5-10-10.4-7.1-14-7.3-8-3.1-12-3.3-10-2.2-6-0.5-16-0.3-14 0.8-4 1-3.5 2-7.9 8-2.9 2-3.7 1.5-4 0.7-2-0.4-2.2-1.8-0.1-2 3.2-4-0.2-2-2.7-0.6-1.8 0.6-2.4 2-3.6 6-8.2 7.3-8 10.3-10 7.5-14 6.8-16 6.5-22 6.5-14 5.6-30 17.5-10 2.3-13.6 5.7-2.6 2-2.3 4 0.1 2 1.5 2 4.9 1.9 12 2.1 10 0.3 18 4 22 2.9 28 7.6 22 7.8 4 1.9 12 8.3 6 5.3 4 2.3 54 18.1 12 6.8 4 3 10 10.9 4 6.9 2 1.9 6 3.6 2 2.1 11.4 16.3 4 10 2.6 4.3 6 6.4 4 3.3 15.5 8 6.5 2.4 26 7.9 32.1 7.7 27.9 8 30 3.8 22-1 12-1.1 12-2 28-8.8 14-0.7 48 2.3 36 2.8 26 4.3 34 7.1 24 3.4 19.3 1.9 28.7 2.1 36 0.5 9.6-0.6z"/>
<path fill="#64c885" d="M1188.8 1750l6.2-2.4 0-16.4-6.9-5.2-5.3-6-3-6-1.7-8 0.4-4 1.3-4 7.2-12 3.5-8 1.7-8 0-6-3.4-16-3.6-10-4.1-6-4.1-2.9-12.9-5.1-25.9-8-29.2-7.6-78-13.6-50-10.5-36.3-6.3-13.7-1.5-38-1.7-24 0-28 1.2-38-4.8-20-4.6-12-4.1-8-4.1-6.4-4.4-8.7-8-5.2-6-2.4-4-3.1-8-8.7-18-6.1-8-10-10-9.4-6.8-14-7.6-8-3.1-14-4-8-1.6-10-0.7-14-0.2-10 1-6 2.6-10 8.4-4 2-6 1.1-3.8-1.1-1.8-2-0.3-2 0.7-2 1.8-2-0.6-0.6-2 0.5-4.3 6.1-9.7 8.3-8 10.2-10 7.4-14 6.8-16 6.5-22 6.4-14 5.7-30 17.5-10 2.1-12.1 5.1-2.9 2-1.6 2-0.8 2 0.3 2 1.8 2 3.3 1.2 12 2.3 12 0.8 16 3.7 24 3.3 28 7.9 24 9 10 6.8 8.3 7 3.7 2.1 10.4 3.9 29.6 9.2 16 6.1 14 8.7 9.4 10 4.9 8 1.7 1.7 6 3.4 2 2 12 16.9 6 13.1 8 8 4.1 2.9 15.9 7.9 32 9.5 34 7.9 26 6.9 26 3 18-0.4 19.2-2.8 14.3-4 12.5-6.9 4-1.5 10-1.5 12 0 42 5.2 49.1 4.7 20.9 3.6 32 7.1 30 4.5 40 3.3 26 0.4 19.8-0.9z"/>
<path fill="#6bca8e" d="M1179.9 1748l5.1-0.6 4.2-1.4 2.3-2 1.4-4-0.4-2-2.4-4-9.7-10-4.6-6-3.3-6-1.3-4-0.2-6 0.9-4 1.6-4 5.3-8 3.9-8 1.8-6 0.6-6-2-16-2.5-8-3.6-6.2-4-3.5-3.9-2.3-9.4-4-24.7-8.7-26-7.1-80-13.6-83.1-16.6-14.9-1.9-30-1.5-32 0-22 1.3-8-0.1-36-4.5-14-2.9-10-2.8-12-4.2-10.1-5.4-8-6-8.1-8-5-6-2.5-4-8.2-20-3.2-6-6.3-8-8.3-8-8.5-6-11.8-6.4-8-3.1-14-4.1-16-2.3-18-0.1-8.4 2-11.3 8-6.3 3-4 0.8-4-0.1-6-3.5-2 0.8-4 2.6-6 5.7-8 10.1-10 7.3-12 5.9-16 6.6-22.9 6.8-15 6-28.1 16.6-4 1.6-8 1.4-10.2 4.4-3.8 2.4-2.1 3.6 0.4 2 2.1 2 1.6 0.6 12 2.5 10 0.4 19.7 4.5 22.3 3 28 7.8 18 6.4 6 2.7 10 6.8 8.9 7.3 3.5 2 10.9 4 28.7 9 16 6 10 5.8 4.4 3.2 9.3 10 5 8 6.3 4 3 2.6 12.6 17.4 5.4 11.8 8 7.9 6 4 14 7 30 8.8 64 14.9 14.1 1.6 15.9 0.8 16-1.4 13.7-3.4 8.3-3.7 12-7.4 8-3.1 10-1.4 8 0 20 2.4 34 6.2 56 6.2 18 3.4 26 6.2 28 4.6 38 3.3 22 0.3 16.9-1z"/>
<path fill="#72cb97" d="M1165.5 1746l5.9-2 9.6-4.7 2.2-1.3 0.4-2-2-4-15.8-18-2.7-6 0.3-6 1.6-6 2-4.8 4.6-7.2 3-6 2.1-6 0.8-6-0.6-14-2.2-8-3.7-6-7.8-6-8.2-4-20-8.3-26.4-7.7-87.6-14.6-78-15.8-12.6-1.6-29.4-1.7-32 0.1-24 1.5-8-0.2-34-4.3-16-3.4-14-3.9-10.9-4.1-9.1-4.8-7.5-5.2-10.9-10-6.5-8-2.5-4-6-18-4.1-8-4.6-6-6.1-6-8.2-6-10.7-6-8.9-3.5-14-4.1-16-2.4-16 0-8 2.1-12.8 7.9-5.2 1.9-8 0.7-6-2.8-2 0.3-4 2.5-6 5.7-7.6 9.7-10.4 7.5-12 5.9-18 7.4-20 5.7-14.1 5.5-29.9 17.5-4 1.5-8 1.3-11.9 5.7-2 2-0.7 2 0.4 2 2.2 1.7 7.9 2.3 4.1 0.7 10 0.3 21.7 5 20.3 2.7 28 7.8 24 9 12 8.3 7.4 6.2 3.8 2 38.8 12.7 16 6.1 10 5.7 4.7 3.5 9.3 10 5 8 9 6.1 13.3 17.9 4.7 10.4 6 6.3 7.5 5.3 14.5 7.5 30 8.6 64 14 14 1.4 18 0.5 12-1.5 10-2.9 7.3-3.6 14.7-9.8 8-3.2 10-1.6 18 0 8 1.1 38 9.5 62 7.3 16 2.9 32 7.8 16 2.8 38 3.7 28.5-0.5z"/>
<path fill="#79cda1" d="M1158.8 1742l4.2-0.9 5.7-3.1 4.4-4 0.3-2-2.5-4-13-12-2.7-4-0.4-2 0.9-6 3.3-10.8 2-5.2 4.3-8 3.8-10 0.9-6 0.1-8-1.4-8-3.7-7.1-5.1-4.9-9.8-6-21.1-10-22-6.5-90-14.5-26-4.8-52-10.9-36-3.1-38 0.3-22 1.5-8-0.4-34-4.5-16-3.4-16-4.4-12-4.5-9.3-4.8-12.4-8-9.2-8-5-6-3.6-8-2.8-14-2.8-8-3.9-6-5.9-6-7.9-6-9.2-5.3-10-4.2-12-3.7-14-2.3-16-0.6-8 1.5-14 7.5-6 1.9-8 0.7-6-2.4-2 0.1-4 2.4-6 5.7-6.5 8.7-11.5 8.3-14 6.8-14 5.7-24 7.2-12 4.8-30 17.5-4 1.4-6 0.8-4.3 1.5-7.7 4.3-2.2 1.7-0.8 2 0.6 2 2.4 1.4 7.8 2.6 12.2 0.5 22 5.2 20 2.7 30 8.5 22 8.2 12 8.3 8 6.6 4 2 34 11.1 20 7.4 10 5.7 5.1 3.8 9.3 10 5 8 6.6 3.8 2.4 2.2 13.6 18 4.6 10 5.4 5.4 8 5.4 13.5 7.2 28.5 8.1 28 6.3 40 7.7 10 0.8 20 0.1 10-1.4 8-2.6 6-3.2 14.3-9.8 11.7-5.3 12-1.8 22-0.6 8 1.4 23.1 8.3 14.9 3.7 72 9 10 2.1 24 6.3 16 3.2 14 1.9 22 1.8 14-1.8 9.8-0.2z"/>
<path fill="#80ceaa" d="M1138.2 1740l8.8-3.1 12-1.5 3.1-1.4 1.4-2-0.4-2-1.5-2-10.6-10.4-1.8-3.6-0.5-4 0.5-4 5.4-20 6.3-16 0.9-12-1.1-8-1.5-4-2.6-4-8.8-8-12.3-8-8.5-4-22-6.9-100-15.6-36-6.9-32-6.9-34-3.5-40 0.6-20 1.3-8-0.2-34-4.5-18-3.8-18-4.7-13.2-4.9-16.9-8-10.4-6-11.4-8-3.2-4-0.7-2 0.3-20-0.8-6-1.5-4-4.1-6-6.1-6-12-8-8.8-4-15.2-5-18-2.6-10-0.3-8 1.5-13.7 6.4-6.3 1.8-8 0.6-6-2-2-0.2-3.1 1.8-6.9 6.4-6 8.2-12 8.5-12 6.1-18 7.3-19.4 5.5-14.6 5.7-30 17.6-12.5 2.7-9.3 6-1.1 2 0.8 2 8.1 3.4 14 0.9 18 4.6 20 2.7 28 7.5 26 9.7 12 8.2 8 6.6 5 2.4 35 11.5 18 6.8 10 5.7 5.5 4 9.2 10 5.1 8 6.2 3.4 2.9 2.6 13.1 17.1 4.3 8.9 3.7 4.7 10 6.7 12 6.7 30 8.6 30 6.5 38 6.6 8 0.5 22-0.4 8-1.2 8-2.9 21.1-13.8 6.9-3.6 6-2.1 8-1.4 28-1 10 1.7 22 9.5 18 4.8 72 8.5 8 1.6 21 6 20.3 4 22.7 2.6 6 0.1 5.2-0.7z"/>
<path fill="#86d0b3" d="M1135.5 1736l9.2-4 3.4-2 1.2-2-5.2-10-0.8-6 4.7-28 2.7-10 0.6-16-1.2-8-3.8-8-7.2-8-4.7-4-6-4-9.5-4-15.9-5.2-84-12.2-46-7.4-12-2.1-19.6-5.1-10.6-2-27.8-3.5-40 0.8-20 1.2-8-0.3-36-4.7-40-9.2-28.5-10.3-25.5-10.7-5.4-3.3-2.9-4-0.5-4 0.9-4 3.8-8 2.7-10 0-6-1.5-4-6.2-8-10.8-8-7.8-4-16.3-6-20-3.3-8-0.4-8 1.4-12 4.9-8 2.1-10 0.6-6-1.7-2 1-8 7.3-2.5 4.1-3.8 4-7.7 5.6-10 5.6-8 3.9-16 6.4-20 5.7-12.3 4.8-31.7 18.2-12 2.6-4.8 3.2-3.3 4 0.9 2 5.2 2.7 12 0.5 8 1.7 12 3.6 20 2.7 30 8.2 24 9 10 6.6 10 8.1 5.9 2.9 34.1 11.1 18 6.9 14 8.4 10 10.3 6 9.1 6 3.2 3.4 3 4.6 6.6 8 9.5 5.1 9.9 3.4 4 11.5 7.2 12 6.4 28 7.7 32 6.6 36 5.4 8 0.3 22-0.9 6-0.9 8-3.1 19.3-12.7 8.7-4.5 6-2.3 10-2.2 18-1.2 12 0.2 6 0.8 10 3 16.3 8.2 17.7 5.3 26 3.6 48 4.3 47.4 10.8 20.6 2.3 8.5-0.3z"/>
<path fill="#8dd1bc" d="M839.7 1722l9.3-0.7 8-2.5 6-3.1 14.8-9.7 15.2-7.1 10-2.8 18-2 16 0.5 6 0.9 12 3.6 14 7.4 12 4.6 6 1.5 23 3.4 31 1.7 58 0.8 16-1.3 8-1.5 8-2.6 4-2.3 2.7-4.8 2.5-8-0.2-14-1-10-5.5-28-1.2-4-2.9-6-2.8-4-4.2-4-11.7-6-9.7-3.1-45.3-6.9-92.7-11.8-28-7.6-28-5.2-24 0.2-26 1.6-14 0.1-40-4.4-42-8.3-42-11.8-18-6.8-3.8-2-4.2-4.2-3.7-5.8-0.7-4 0.4-6 6.1-14 2.3-8-0.7-4-5.3-8-10.4-8-13.6-6-8.4-3-20-4-6-0.4-6 0.7-20 6.1-12 1.2-6-0.8-8 6.7-7 7.5-9 6.5-12 7-22 9.2-19.1 5.3-14.9 6-28 16.5-4 1.4-6 0.7-4.4 1.4-2.5 2-2.6 4 0.6 2 2.9 2 10 0.2 6 1 15.7 4.8 22.3 3.1 28 7.8 18 6.5 8 3.7 20.3 14.9 10.1 4 27.6 8.8 20 8 10 5.8 4 3.2 9.5 10.2 4.5 7.3 6 3.3 3.8 3.4 4.2 5.8 8 9.4 5.9 10.8 2.1 2.5 10 6.3 14 7.5 30 8 30 5.8 38 4.8 20.7-0.9z"/>
<path fill="#94d2c5" d="M827 1720l18-1.5 6-1 8-3.2 17.2-10.3 12.8-6.2 12-3.9 16-2.7 18 0.1 8 0.7 14 4 16 8.1 14 5.1 22 3.6 20 0.8 14-0.1 13.8-1.5 18.2-3.7 16-5.3 8-1.7 8 0 14 2.2 6-0.3 2.6-1.2 1.8-2 0.9-2 0.3-4-1.6-6.7-5.7-13.3-3.7-28-3.3-12-2.4-4-2.2-2-8.7-5-14-3-40.5-6-41.5-4.8-48-4.4-8-1.8-22-6.8-26-6-26 0.5-24 2.6-14-1-42-4.8-38-6.3-47.7-11.2-10.3-4.2-8-4.9-4-4.3-5.5-8.6-1.6-6-0.2-6 5.4-22-1.3-6-2.6-4-6.6-6-11.9-6-9.7-3.8-18-4.6-6-0.6-6 0.5-16 4.3-14 1.9-6 1.7-26 18-16 9.6-20 7.9-12.5 3.1-16.3 6-29.2 17-4 1.7-10 1.3-3.1 2-1.6 2-0.8 2 0.6 2 2.9 1.3 6-0.3 10 1.6 16.1 5.4 21.9 3 22 6.1 22 7.8 8 3.7 21.3 15.4 10.3 4 28.4 9.2 18 7.3 10 5.8 4 3.1 8.2 8.6 5.8 8.8 6 3.4 4.5 3.8 7.5 9.9 4 4.3 6 10.5 2.6 3.3 23.4 13 30 7.8 28 5.1 38 4.2 10-0.1z"/>
<path fill="#9bd4cf" d="M840 1716l9-1.3 6-2 20.2-10.7 17.8-7.9 10-3 16-2.5 20 0 10 1.4 10 3.2 12 5.9 14 5.9 10 2.4 14 2.1 14 0.4 18-0.7 8-1.3 16-3.7 9.8-4.2 18.3-12 5.9-5.7 10-13.7 2.9-4.6 1.9-8 0.2-10-1.3-8-2.9-6-4.2-4-4.6-2.3-6.2-1.7-36.5-6-29.3-3.6-27-2.4-45-2.8-12-3.1-23.5-8.1-16.5-4.3-8-0.5-12 0.2-12 1.1-14 2.4-8-0.1-28-4-26-1.7-30-3.2-26-6.4-32-6.9-8-3.5-8-6.1-6-7.8-5.1-9.2-2.1-6-0.7-6 2.1-22-1.7-6-2.8-4-5.7-4.7-12-6.4-13.9-4.9-10.1-2.4-8 0-16 3.5-10 1.1-6.2 1.8-19.8 11.5-16 10.5-8 6.2-11 3.8-9 4.5-10 2.1-16.2 5.4-22 12-11.8 7.4-4 1-8 0.5-2.8 1.1-1.9 2-0.6 2 1.3 1.7 6-0.1 10 1.2 6 2.2 5.8 3 4.2 1.2 18 2.2 28 7.6 26 10 12 8 8.7 7 3.6 2 37.7 12.9 16 6.3 10 5.5 6 4.3 8.7 9 5.3 8.3 2 1.7 6 3.1 3.2 2.9 10.8 13.1 6.4 10.9 3.5 4 22.1 11.7 30 7.6 30 4.9 38 3.2 21-1.4z"/>
<path fill="#a2d5d8" d="M829.2 1714l13.8-1.3 8-1.7 8-3.1 20-10 14-6 14-3.9 14-1.8 20-0.3 12 1.7 8 2.7 12 5.8 14 5.5 16 3.5 8 0.8 10 0.1 14-0.8 10-1.8 14-3.8 7.8-3.6 5.5-4 11.1-10 7.6-4.8 11-15.2 2.2-4 1.3-4 1-6-0.8-8-3-6-3.7-3.3-6.1-2.7-8.1-2-34.4-6-25.4-2.7-30-2-30-0.5-12-0.9-10-2.5-24-9.7-10-3.3-6-1.3-8-0.6-12 0.4-22 3.3-6 0.3-10-1-20-3.3-48-1.2-16-2.8-24-7.2-30-6-8-3.6-8-6.6-5-6.8-7.7-14-2.8-6-0.9-4-0.9-24-1.3-4-2.6-4-4.3-4-9.5-6-14-6-9-2.1-8 0.1-24 3.6-4 1.2-12.3 7.2-9.7 4.6-14.3 9.4-4.4 4-3.3 4.7-2 1.3-9.5 2-3.2 2-3.3 3.3-4 2.1-9.6 0.6-6.4 3.9-6 0.5-4 1.4-9.5 6.2-2.1 2-2.2 4-0.8 6-9.3 8 1 2 3.1 2 9.6 2 12.2 0.6 8.5 3.4 19.5 4.9 6.8 3.1 13.2 4.7 8 4.1 17.7 13.2 3.9 2 32.4 11.1 16 6.1 14 7.2 6 4.3 7.4 7.3 3.3 4 3.6 6 9.5 6 6.2 6.5 1.2-0.5-1.8-6 0-2 0.6-0.8 2 1.1 2 2.7 2.1 5-0.1 2.3-1.9 1.7 0.7 2 9.2 15.1 4 3.3 20 10 30 7.4 26 3.8 38 2.8 14.2-0.4zM467.4 1562l0.5-2-2.9-1.3-4 0-2.8 1.3 4.7 2 4.5 0zM537 1572.5l-2-0.4-0.1-2.1 2.1-5.5 2-1.6 2-0.3 2 0.8 1 2.6-0.9 2-6.1 4.5z"/>
<path fill="#a9d7e1" d="M840.8 1710l6.2-1 8-2.2 30-13.9 14-5.2 14-3 18-1.4 14 0.1 12 1.8 24 10.1 12 3.9 8 1.7 8 0.8 8 0 14-0.8 8-1.4 14-4 6-2.5 16-13 8.1-4 1.8-2 8.7-14 3.1-6 1.5-6-0.6-6-2.4-4-2-2-6.7-4-7.5-2.3-28-6-38-3.5-20-0.8-32 0-16-1.2-10-3.2-13.4-7-9.4-4-7.2-2.3-6-1-16 0-26 3.3-10-0.7-20-3.3-36 1-12-0.8-16-3.3-24-7.8-34.6-7.1-8.5-4-7.1-6-4.6-6-7.2-13.7-7.2-10.3-0.9-4 0.1-10-2.2-12-1.3-4-2.6-4-6.3-6-9.1-6-8.5-4-6-1.6-10-0.1-20 2.4-4.7 1.3-10.6 6-12.7 5.7-12.7 8.3-4.1 4-3.2 8.1-1.8 1.9-8.2 1.4-2 1-16 16.9-6 2-12-0.6-3.3 1.3-2.3 2-0.7 2 1.1 2 3.2 2.4 2.7 3.6 0.9 4-1.3 4 0 2 2.8 2 12.9 4.1 8 0.4 5.6 3.5 22.4 8.9 12 8.2 6 5 7.1 3.9 32.9 11.4 18 7.2 12 6.7 3.7 2.7 9.8 10 5.3 8 11.2 6.7 1.3-0.7 0.7-4 2-0.7 1.2 0.7 2.8 3.1 2 3.4 1.1 3.5-0.6 6 0.5 2 7.1 12 3.9 3.5 16 7.9 8 3 20 4.7 26 3.8 46 2.7 23.8-1.6zM535 1576.9l-2-1.4-0.7-3.5 0.7-7.2 1.6-4.8 2.4-2.9 2-0.8 2-0.2 4 1.3 2 1.6 1.3 3-0.1 4-1 2-12.2 8.9zM500.7 1570l-0.1-2-1.6-4.3-2-2.3-2-0.2-7.1 2.8-2.3 2-0.4 2 3.1 2 4.7 0.8 4 0.2 3.7-1z"/>
<path fill="#a9d3e6" d="M831 1708l14-1.4 10-2.5 30-13.4 16-5.7 10-2.2 16-1.7 16-0.7 14 1.5 8 2.3 20 8.3 12 3.3 8 1.2 24-0.8 18-3.9 5.4-2.3 8.6-7.5 14-8.2 2-1.9 10.2-18.4 1.3-4 0.1-4-1.7-4-2-2-5.9-3.6-16-5.8-12-2.7-28-2.8-22-1.2-28-0.4-36 1.3-6-1.7-8.4-7.1-9.6-5.8-8-3.3-6-1.4-14-0.7-28 2.8-8-0.5-20-2.9-14 0.1-18 1.6-10-0.5-8.4-1.4-15.6-3.8-26-8.6-28-5.4-8-2.2-8.4-4-7.1-6-4.5-6-6-12.3-4-4.2-4-1-2 0.8-4 4.2-2 1-2 0-2-1.4-1.1-3.1 0.3-2 5.7-10 3-10-0.1-4-2.3-8-4.7-8-9.4-10-7.4-4.8-8-2.6-10-0.2-20 2.4-14 7-12 5-11.2 7.2-3.9 4-1.4 4-0.7 8-0.8 2-2 1.4-6 0.7-4 1.4-2.9 2.5-2.9 4-0.4 4 1.1 2 2.5 2 7.7 4 1.6 2 1 4-0.7 4-1.9 4-2 2-8.8 6-1.8 2 0.2 2 2.9 2 14.4 5.3 6 2.9 22.3 15.8 9.5 4 30.2 10.5 12 4.9 12 6.4 4 2.5 6.5 5.7 5.5 6 5.4 8 2.6 1.6 6 2.9 2-0.2 2-4.1 2-0.2 4 3.7 3.4 6.3 0.9 4-0.6 4 0.9 4 6.5 10 2.9 2.5 22 10 30 6.4 28 2.4 36 1.2 14-0.5zM530.7 1576l-0.3-14-1.4-5.1-2-1.5-4-0.7-4 0.4-4 1.7-1.6 3.2-1.7 10 0.1 2 2.7 2 10.5 3.1 4 0.3 1.7-1.4zM497.2 1568l-0.9-2-1.3-1.1-2-0.3-3.9 1.4-0.6 2 4.5 1.7 2 0.1 2.2-1.8z"/>
<path fill="#a2cbe7" d="M844.3 1704l6.7-1.4 8-2.6 24-10.7 16-6.1 10-2.3 20-2.7 14-0.6 16 1.2 10 2.6 18 7.3 16 3.3 22 0 12.3-2 7.7-2.8 10-8.8 8.8-4.4 4.9-4 7.6-16 1.2-4 0.1-4-2.5-4-2.7-2-11.4-4.5-16-3.6-24-2.2-30-1.7-18 0.3-20 2-18 4.4-4 0.4-4-1.3-5-3.8-3.4-4-1.8-4-3.9-4-7.9-4.7-8-2.8-12-1.1-30 1.9-20-2.4-10-0.5-22 1.9-10-0.4-10-1.8-15.6-4.1-28.4-9.5-32-6.3-8.3-2.2-8.9-4-7.7-6-5.1-6-6-10.1-2-0.9-8 4.3-4 0.6-4-0.7-4.6-3.2-1.4-2-1.3-4 0.1-6 1.9-6 7.5-12 0.8-4-0.4-2-1.8-4-4.4-6-4.1-8-2.9-4-4.8-4-6.6-2.8-10-0.8-16 1.4-4 0.9-11.3 5.3-14.7 5.9-9.5 6.1-4 4-0.8 2-0.3 4 4.6 18-0.8 2-4.1 4-1.8 10-4 8-3.5 4-9.4 6-1.6 2 0.1 2 3 2 18.1 7.3 24 16.7 9.7 4 26.3 9.2 14 5.9 12 6.3 6 4.1 5 4.5 5.5 6 5.4 8 2.1 1.1 6 2.4 4-4.3 2 0 1.5 0.8 3.5 4 3.2 6 0.7 4-0.3 6 0.7 2 6.7 9.8 2 1.6 22 9.8 20 4.4 12 1.8 16 1.2 42 0.8 18-0.4 13.3-1zM597 1550.1l-4.4-2.1-1.5-2-0.5-2 0.2-2 1.3-2 2.9-1.8 4-0.3 3.6 2.1 0.9 2 0.1 2-0.6 2.3-2 2.6-2 1-2 0.2zM551.2 1544l-1.1-2-3.1 0 0.6 2 1.4 0.4 2.2-0.4zM527.8 1576l1.2-1.9 0.1-2.1-0.5-6-1.3-4-2.3-2.3-2-0.7-4 0.6-2 1.5-2 3.8-1.4 5.1 0.5 2 3.3 2 5.6 1.7 4.8 0.3z"/>
<path fill="#9bc2e8" d="M827.9 1702l13.1-0.5 10-1.6 6-2 22-9.4 20-7.8 8-2 24-3.9 20-0.2 14 1.4 8.1 2 15.9 6.1 14 2.9 20 0.7 6-0.8 8-3 10-8 9.5-5.9 3-4 4.4-10 0.9-4 0-4-1.8-3.3-3.7-2.7-4.5-2-7.3-2-10.5-1.5-42-3.2-16 0.2-18 1.8-16 3.7-12 5.2-4 0.7-4-0.3-4-1.6-2-1.7-5.1-9.3-6.9-9-4-3-8-4-12-1.5-30 0.7-24-2.4-20 1.9-12-0.7-17-4-41-13.3-33.8-6.7-10.2-2.7-6-2.4-5.2-2.9-14.8-11.1-4-0.9-8 0.1-6-0.9-6-2.8-4.6-4.4-2.3-4-1.2-4-1.3-12 1.9-18 3.2-10-0.1-6-1.8-4-1.8-2.2-4-2.8-4-1.6-10-0.9-12 1-6 1.3-24 9.3-9.8 5.9-4.1 4-0.9 4 1 4 3.8 5.5 4 3.5 4 2 4 0.3 14-4.5 6-0.6 4 0.7 4 1.8 3.1 3.3 0.5 2-0.6 4-2.6 6-2.4 3.4-2 1.5-4 1.4-6-0.7-12-5.2-4-0.1-4 1.3-6 4.4-10.9 12-12.4 8-1.7 2 0.3 2 3.5 2 11.2 4.3 6 3.1 18 13.1 6.1 3.5 33.9 12.7 14 6 12 6.3 6 4 5.5 5 5.6 6 4.9 7.3 2 1.3 4 1.6 2 0 2-2.7 2-1.3 2 0.2 2 1.1 4 4.9 2.8 5.6 0.8 4-0.3 6 1.9 4 6.8 8.3 12.5 5.7 13.5 4.7 16.6 3.3 11.4 1.5 14 0.7 58.9-0.2zM526.6 1574l0.7-2-0.3-4-1.8-4-2.2-1.4-2-0.1-2 0.8-2 2.3-1 2.4-0.2 2 1.1 2 6.1 2.3 2 0.3 1.6-0.6z"/>
<path fill="#94b9e9" d="M621.6 1530l3.4-1.2 4-3.2 5-7.6 2.1-6-0.1-4-2-4-3-2.6-6-2.1-6-0.5-8 0.5-6 0.7-6 1.5-18.9 6.5-4.2 2-9.3 6-1.7 2-0.7 2 0.7 4 2.1 2.7 4 2.4 4 1.2 6 0.1 18-2.4 16 2.3 6.6-0.3zM844.4 1698l6.6-1.4 7.8-2.6 42.2-16.8 28-6.4 24-0.6 10 0.6 10 1.6 18 5.7 10 2.1 12 1 10-1 5.6-2.2 2.4-1.8 10.3-10.2 2.4-4 3.2-8-0.6-2-1.6-2-5.7-2.8-32-6.2-16-1.3-14 0.6-20 2.5-8 2.1-10 4.2-6 1.9-8 0.6-6-0.6-6-2.9-3.6-4.1-4.4-11.2-3.2-4.8-5-4-7.8-3.8-10-0.9-26 0.4-22-2.2-20 1.8-14-2.1-12-3.3-44-14.7-36-7.3-15.3-3.9-5.1-2-17.6-9-14-1.7-8-1.9-4-1.7-5.9-3.7-12.1-10.6-4-2-4 1-6 4.1-6 2-8-0.4-14-3.6-4 0-4 0.9-4 2-8.3 6.6-14.3 8-1.8 2 0.8 2 11.6 5 8 4.3 20.5 14.7 13.6 6 19.9 7.3 18 8 12 6.5 4 2.8 8.1 7.4 5 6 2.9 4.5 2 1.6 4 1.4 2-0.7 2-2.4 2-0.9 2 0.2 2 1 4 4.6 3.4 6.7 0.8 4-0.2 6 2 4 5.2 6 2.5 2 14.4 6 5.9 2 8.8 2 13.2 2.3 12 1.1 54-0.2 33.4-1.2zM524.8 1570l-1.8-3.6-2-0.3-2 1.9 0.3 2 3.7 1.9 1.8-1.9z"/>
<path fill="#8db1ea" d="M616.9 1524l4.1-0.9 4-1.7 3.8-3.4 2.2-3.5 0.9-2.5-0.2-4-1-2-3.7-2.9-4-1.2-6-0.3-12 0.8-6 1.2-20.1 6.4-9.8 6-2 2-0.7 2 0.6 2.3 2 1.9 6 1.4 41.9-1.6zM813.5 1696l27.5-1.7 12-2.4 32.4-11.9 15.6-6.8 12-3.3 6.4-3.9 1.4-2-0.4-2-11.4-8.2-12.3-11.8-2.9-4-0.5-4-1.2-2-3.1-2.9-4-2.2-4-0.6-22 0.2-26-3.3-6 0-10 1.2-8-0.8-14-4.1-54-18.6-52.6-10.9-21.4-7.5-25.1-4.5-20.9-7.2-24-2.1-16-4.4-4-0.1-4 0.8-8.1 5-12.1 4-3.3 2-1.5 2 1.5 2 11.5 5.3 6 3.6 21.3 15.1 8.6 4 18.1 6.8 22 10.1 12 6.5 6 4.4 6.8 6.2 7.2 9.6 2 1.8 4 1.2 4-3.2 2-0.6 4 1.2 4 4.4 4 7.6 0.8 4 0 6 0.7 2 8.5 8.4 20.5 7.6 23.5 4 26 1 40.5-1zM1006.8 1670l4.8-4 1.1-2 0.3-4-1.8-4-2-2-3.2-2-5-1.9-10-1.4-12 0.8-12.8 2.5-5.4 4-0.5 2 4.3 2 15.2 6 11.2 3.7 8 1.3 4-0.1 3.8-0.9zM947.4 1662l5-2 0.5-2-5.9-0.5-5.5 0.5-4.5 2-0.3 2 4.3 1.2 6.4-1.2z"/>
<path fill="#86a8eb" d="M610 1520l13-4 2.3-2 1.1-2 0.3-2-0.9-2-2.8-1.9-4-0.7-20 0.2-15.2 4.4-4.8 1.9-7.8 6.1 0.1 2 1.7 0.6 8 0.9 14 0.1 15-1.6zM794.7 1694l16.3-1 29.9-5 28-8 19.6-8 7.8-8 0.7-2.3-2-4.2-2.7-3.5-13.8-6-9.5-2.6-9.3-3.4-28.7-6.6-16-5.5-44-17.5-32-10.4-94-18.9-44-7.8-10-0.2-4.6 0.9-1.1 2-0.3 7.2-2 0.7-6.4-3.9-5.6-5.1-4-2-6-1-4 0.5-3.8 1.6-1.1 2 2.1 2 12.8 6.9 21.1 15.1 8 4 5.6 2 5.3 0.9 20 11.1 22 10.9 6 4.3 7.5 6.8 8.5 10.6 2 0.9 2 0.1 4-3.1 2-0.4 4 1.2 4.4 4.7 3.4 6 1.3 4 0.4 8 0.8 2 7.7 6 20 6.6 22 3.7 32 2.3 17.7-0.6z"/>
<path fill="#809fec" d="M601.1 1518l5.4-2 2.5-2 0.7-2-1.6-2-5.1-1.9-6 0.2-10.8 3.7-3.8 2-0.7 2 3.3 1.3 6 1 10.1-0.3zM591.9 1600l-0.9-2-9.6-8-17.7-12-2.7-0.8-3 0.8 2.1 2 8.9 5 17.7 13 3.8 2 1.4 0zM790.1 1692l19.2-2 15.7-4.3 6-2.7 4.5-3 3.9-4 2-4 0.4-6-1.3-4-2.5-4-17.5-18-5.5-4.7-6-3.9-15-7.4-21-9.3-20-7-14-4.2-38-7.7-36-4.8-22-4.6-10-1-14-0.2-12-3.2-6-0.9-6 0.5-2 1.5-0.5 0.9 0.5 2.3 10 7.8 4 3.9 4 5.3 2.9 6.7 4.3 4 10.1 6 10.7 5.2 14 7.9 10 8.6 8.7 10.3 1.3 0.5 2-0.1 3.3-2.4 2.7-0.6 2 0.3 3.6 2.3 3.4 4 3.3 6 1.4 4 0.6 8 1.7 2.5 4 2.5 20 6.5 22 3.6 32 3.3 15.1-0.4z"/>
<path fill="#7997ed" d="M599.3 1514l0.3-2-0.6-0.2-2.4 0.2-0.8 2 3.5 0zM788.9 1690l20.1-3.2 12.8-4.8 3.2-2.1 3.8-3.9 2.2-4 0.9-4-0.3-4-1.3-4-6.8-10-5-6-6-6-5.2-4-13.8-8-20.7-10-19.8-7.1-14-4-38-7.8-36-3.3-16-3.1-10-1.1-8 0.2-10 1.6-8 0.5-1.7 2.1 3.5 8 2.4 8 3.6 4 8.7 6 23.5 12.5 9.1 7.5 8.9 10.2 2 1.2 2-0.4 4-2.1 2-0.1 3.9 1.2 2.1 1.6 6 8.5 2.2 5.9 1.1 8 2.7 2.6 18 6.3 8 1.8 20 2.8 30 3 13.9-0.5z"/>
<path fill="#728eee" d="M788.6 1688l16.4-3.2 6-2 5.8-2.8 4.8-4 2.6-4 1.1-4 0-4-1.1-4-5.7-10-8.5-10-10.4-8-17.2-10-13.4-6.2-20-6.9-10-2.6-40-8.1-34-2.1-16-2.3-10-0.5-6.1 0.7-7.5 2-3.4 2-1.4 2-0.7 4 0.9 6 2.8 4 4.4 4 25 13.9 9.9 8.1 8.1 8.7 2 1.2 8-1.8 4 1.3 2 1.6 4.2 5 2.4 4 2.2 6 1.2 7 2 2.3 16 5.7 10 2.5 48 5.1 8 0.2 7.6-0.8z"/>
<path fill="#6b85ef" d="M788.6 1686l16-4 8.4-4.1 4.1-3.9 2.3-4 0.8-4-0.3-4-2.2-6-3.3-6-4.6-6-4-4-13.2-10-17.2-10-10.4-4.5-18-5.9-48-10.1-56-2.6-6.8 1.1-5.1 2-2.5 2-1.1 2-0.3 10 2.6 4 6 4 17.2 9.2 10 8 8 8.1 2 1.1 8-1 4 1.4 2 1.5 6.1 7.7 2.8 6 1.8 8 1.3 1.9 2 1.2 16 5.5 10 2 46 4.5 8-0.1 7.6-1z"/>
<path fill="#647df0" d="M788.3 1684l14.7-4.3 4-2 4-3 2.3-2.7 2-4 0.5-4-0.5-4-4.6-10-3.7-4.8-5.2-5.2-15.5-12-9.9-6-7.4-3.6-22-7.6-34-6.5-12-3-50-1.4-8 0.8-4 1.7-1.7 1.6-1 2-1.9 6-3.2 4 0.8 2 2.1 2 18.9 10.5 10 7.8 8 7.6 2 1 8-0.2 6 2.9 6.7 8.4 2.8 6 2.4 8 4.1 2.8 18 5.8 20 2.6 32 2.4 8-0.4 7.3-1.2z"/>
<path fill="#5d74f1" d="M775.3 1684l12.6-2 9.1-2.9 6.9-3.1 3.1-2.4 3-3.6 1.6-4 0.3-4-0.9-4-2.6-6-6.3-8-16.1-14-8.9-6-6.1-3.2-11.7-4.8-12.3-3.9-50-9.8-42 0.3-8 0.7-5.3 2.7-3.5 6-3.2 4-0.6 2 1.5 2 5.8 4 9.3 4.5 4 2.6 8 6.1 8 7.3 2 1 8 0.5 6 2.9 4.7 5.1 2.7 4 2 4 2.6 8 1.4 2 2.6 1.6 12 4.4 10 2.4 22 2.2 28.3 1.4z"/>
<path fill="#566bf2" d="M778.2 1682l10.8-2.7 8-3 4.3-2.3 3.7-3.3 1.9-2.7 1.2-4 0-4-3.1-8-6-7.2-16.1-14.8-5.5-4-8.4-4.6-20-7.5-52-9.8-38 0.9-9.2 1-4.8 2-2 1.8-5.2 6.2-0.9 2 0.8 2 2.2 2 13.1 6.7 10 7.4 8 7 2 1 8 1.1 6 3 7 7.8 7 14.9 5.5 3.1 12.5 4.2 8 1.4 18 1.8 22 1.1 11.2-0.5z"/>
<path fill="#4f63f3" d="M778.6 1680l12.4-4 8-4.3 2-1.7 2.7-4 1-4-0.5-4-1.6-4-2.8-4-15.6-16-10-8-7.5-4-13.7-5.4-6-1.7-50-8.7-32 1.1-12 1.2-6 2.2-6 4.7-1.9 2.6 0.5 2 2 2 13.4 6.7 16 12.8 2 1 8 1.8 6 3.1 4.6 4.6 4.5 6 4.9 10.8 4 3.2 10.5 4 7.4 2 16.1 1.8 30 1.2 9.6-1z"/>
<path fill="#485af4" d="M777.3 1678l5.7-1.5 5.6-2.5 8.4-5.1 3.4-4.9 0.5-2-0.4-4-3.5-6.3-18.8-19.7-8.1-6-8.4-4-9.6-4-7.6-2-23.4-4-24.1-3.2-12 0.2-26 1.9-10 2.7-4 2-3.1 2.4 0 2 2 2 11.1 5 16.8 13 9.2 3.2 6 3.4 9 9.4 7 12.6 5.6 3.4 12.4 4.3 20 2.6 26 0.3 10.3-1.2z"/>
<path fill="#4152f5" d="M753 1678l14-0.9 14.5-3.1 11.5-7 2.6-3 0.9-4-1.3-4-2.2-2.8-16-15.2-9.2-8-12.4-8-4-2-6.6-2-15.8-3-10-1.5-24-1.7-8 0-22 2.5-7.6 1.7-9.7 4 3.3 0.9 7.2 5.1 7.1 4 8.9 8 12.8 7.7 10.6 10.3 5.4 7.8 8.2 6.2 7.9 4 5.9 1.6 16 2.2 12 0.2z"/>
<path fill="#3a49f6" d="M760.8 1676l16.2-4.4 3.9-1.6 7.3-6 1.5-4-0.4-2-3-4-19.3-15-12-12.9-4-3.1-10-3.8-14-2.7-10-1.1-20-0.6-8 0.3-8 1.7-4 1.7-3.4 3.5-0.5 2 0.7 4 4.1 8 2.9 4 18.2 14.7 12.7 7.3 6.7 8 2.4 2 5.4 2 12.8 2.3 10 0.4 11.8-0.7z"/>
<path fill="#3340f7" d="M760.6 1674l9.6-4 7-4 3-4 0-4-4.4-6-12.8-11.8-10-11.3-4-3.5-6-3.1-6-1.8-10-1.9-10-1-26 0.7-6 1.8-3.2 1.9-1.8 2-0.9 2 0 4 1.8 6 2.4 4 11.7 10.3 12 5.4 6 3.8 5.1 4.5 5.3 6 5.6 2.6 12 2.5 10 0.1 9.6-1.2z"/>
<path fill="#2c38f8" d="M759.6 1672l7.6-4 4.3-4 1.6-4-0.6-4-4.2-6-17.3-18.8-6-4.9-4.6-2.3-6.7-2-16.7-1.9-16 0.3-8 0.8-6 2.2-2.9 2.6-1.4 4 0.2 4 1.4 4 3.1 4 7.6 6.6 10 3.3 6 3.2 17.6 14.9 6.4 2.4 8 1.4 10-0.5 6.6-1.3z"/>
<path fill="#262ff9" d="M747.7 1672l9.3-1.6 5-2.4 4.3-4 1.1-2 0.6-4-1.4-4-2.8-4-14.8-16.6-4-3.7-4-2.4-6-2.4-6-1.2-8-0.6-16-0.1-8 0.6-6 1.9-3.2 2.5-1.7 4 0.3 4 2 4 5.8 6 2.8 1.4 10 2.5 4 2 16 14.1 6 3.8 8 2.1 6.7 0.1z"/>
<path fill="#1f26fa" d="M747.4 1670l7.6-1.6 4.6-2.4 3.4-4 0.7-4-1.3-4-2.7-4-10.7-12.1-6-5.8-8-4-10-1.5-22-0.4-4.7 1.8-1.8 2-3.5 8 0 2 0.8 2 1.9 2 3.3 1.3 10 2.1 4 2 12.5 12.6 7.5 5.5 6 2.1 8.4 0.4z"/>
<path fill="#181efb" d="M753.2 1666l3.3-2 1.8-2 0.9-2-0.2-4-2.1-4-4.7-6-7.2-7.7-4-3.4-6-3-6-1.2-10 0.4-12-1.2-2 0.3-2.5 1.8-3 6-0.2 2 1.6 2 10.1 1.7 4 2 4 4.2 7.7 10.1 4.8 4 3.5 2 6 1.6 6 0 6.2-1.6z"/>
<path fill="#1115fc" d="M748.3 1664l2.7-1.3 2-1.9 1.1-2.8-0.2-2-3.1-6-5.1-6-6.7-5.6-6-2.5-6 0-4.2 2.1-1.3 2 0.5 4 3 8 4 6.3 4 3.5 4.6 2.2 5.4 0.8 5.3-0.8z"/>
<path fill="#0a0cfd" d="M743.3 1660l3.1-2 0.7-2-0.2-2-2.1-4-3.8-4.1-4-2.4-4-0.8-2 0.7-1.4 2.6 0 4 1.4 4 1.4 2 4.6 3.4 2 0.6 4.3 0z"/>
</g></g>
<g clip-path="url(#hc)" fill="none" stroke="#151515" stroke-opacity=".75" stroke-width="1.35" filter="url(#lb)" stroke-linejoin="round">
<path d="M753 1678l14-0.9 14.5-3.1 7.3-4 4.2-3 2.6-3 0.9-4-1.3-4-2.2-2.8-10.3-9.2-5.7-6-9.2-8-12.4-8-4-2-6.6-2-15.8-3-10-1.5-24-1.7-8 0-22 2.5-7.6 1.7-9.7 4 3.3 0.9 7.2 5.1 7.1 4 8.9 8 12.8 7.7 10.6 10.3 5.4 7.8 2 2 6.2 4.2 7.9 4 5.9 1.6 16 2.2 12 0.2"/>
<path d="M610 1520l13-4 2.3-2 1.1-2 0.3-2-0.9-2-2.8-1.9-4-0.7-16-0.2-4 0.4-15.2 4.4-4.8 1.9-7.8 6.1 0.1 2 1.7 0.6 8 0.9 14 0.1 15-1.6M794.7 1694l16.3-1 29.9-5 28-8 19.6-8 7.8-8 0.7-2.3-2-4.2-2.7-3.5-13.8-6-9.5-2.6-9.3-3.4-16.6-4-6.1-0.8-6-1.8-16-5.5-44-17.5-32-10.4-94-18.9-44-7.8-10-0.2-4.6 0.9-1.1 2-0.3 7.2-2 0.7-6.4-3.9-5.6-5.1-4-2-6-1-4 0.5-3.8 1.6-1.1 2 2.1 2 12.8 6.9 21.1 15.1 8 4 5.6 2 5.3 0.9 20 11.1 22 10.9 6 4.3 7.5 6.8 8.5 10.6 2 0.9 2 0.1 4-3.1 2-0.4 4 1.2 4.4 4.7 3.4 6 1.3 4 0.4 8 0.8 2 7.7 6 20 6.6 22 3.7 32 2.3 17.7-0.6"/>
<path d="M839.7 1722l9.3-0.7 8-2.5 6-3.1 14.8-9.7 15.2-7.1 10-2.8 18-2 16 0.5 6 0.9 12 3.6 14 7.4 12 4.6 6 1.5 23 3.4 31 1.7 58 0.8 16-1.3 8-1.5 8-2.6 4-2.3 2.7-4.8 2.5-8-0.2-14-1-10-2.4-14-3.1-14-1.2-4-2.9-6-2.8-4-4.2-4-3-2-8.7-4-5-2-4.7-1.1-45.3-6.9-92.7-11.8-28-7.6-28-5.2-24 0.2-26 1.6-14 0.1-40-4.4-42-8.3-42-11.8-18-6.8-3.8-2-4.2-4.2-3.7-5.8-0.7-4 0.4-6 6.1-14 2.3-8-0.7-4-2.2-4-3.1-4-10.4-8-13.6-6-8.4-3-20-4-6-0.4-6 0.7-14.1 4.7-5.9 1.4-12 1.2-6-0.8-8 6.7-4.6 5.5-2.4 2-9 6.5-12 7-22 9.2-19.1 5.3-14.9 6-28 16.5-4 1.4-6 0.7-4.4 1.4-2.5 2-2.6 4 0.6 2 2.9 2 10 0.2 6 1 15.7 4.8 22.3 3.1 28 7.8 18 6.5 8 3.7 20.3 14.9 10.1 4 27.6 8.8 16 6 4 2 10 5.8 4 3.2 9.5 10.2 4.5 7.3 6 3.3 3.8 3.4 4.2 5.8 8 9.4 5.9 10.8 2.1 2.5 10 6.3 14 7.5 30 8 30 5.8 38 4.8 20.7-0.9"/>
<path d="M1195 1621.7l-10-3.5-72-16.7-32-6.4-48-8.4-50-9.6-48-5.8-46-2.4-44-1.6-22-1.9-32-5.4-14.3-6-3.6-2-2.3-2-6.7-8-3.2-6-10.9-30-8.2-12-4.8-4.6-16.9-11.4-24.6-10-6.6-2-27.9-4.4-40 1-16 4.9-8 0.2-6 2.3-2.8 2-3.8 6-5.4 6.1-7 9.9-3 2.8-8 5.9-14 7-18 7.4-20 5.6-14 5.6-30 17.5-12 3.5-12 4.8-5.3 3.9-2.2 4 0 2 1 2 4.5 2.4 16 2.4 10 0.6 20 4 22 3.1 26 7.1 20 7 6 2.7 10 7 8 6.8 4 2.2 54 17.9 10 5.7 6 4.3 9.8 10.8 4.2 7.3 8.7 6.7 3.5 6 3.8 4.1 2.6 3.9 5.4 13.4 2 3.7 5.6 6.9 4.5 4 15.1 8 8.8 3.6 24 8.1 30 8.3 30 9.7 6 1.2 26 3.2 34-0.8 19.6-1.3 46.4-4.9 36-2.2 8 0 28 1.4 58 8.8 32 3.6 40 3.1 44 1.1 8-0.5"/>
<path d="M1195 1601.5l-8-1.4-22-6.4-26-11.3-21.6-8.4-20.4-3.4-40-3-96-5.1-48-3.6-48-4.9-22-4.9-18.2-7.1-18-12-10-12-8.3-18-10.8-18-4.1-4-10.8-8-5.8-2.9-18-6-36-6.3-9.1-0.8-32.9-1.6-38 1.7-4 0.6-12 3.3-10 3.4-10.6 4.6-3.3 2-6.1 8.7-6.4 11.3-3.6 3.6-10 7.1-12 6-16 6.6-22.9 6.7-14.8 6-30.3 17.8-21.2 8.2-7.8 4-5.3 4-2.2 4 0 2 0.9 2 1.9 2 3.6 2 4.1 1.1 28 2.7 20 3.7 22 2.9 26 7 26 9.4 10 6.8 8 6.9 4 2.5 14 4.9 36 11.3 8 3.3 12 7.7 10 11.1 4 7.1 3.6 3.6 4.5 6 3.9 6.3 3.4 3.7 8.6 22 2.8 4 5.2 5 18 12.9 22 9.8 42 20.7 6 2.3 28 6.4 28 2 42-1 38-2.9 58-3 38 0.2 44 2.8 80 6.1 56 1.7"/>
<path d="M1195 1568.2l-6-1.2-26-8.5-30-7.1-8-1.3-34-3.1-74 3.2-32.1-2.2-40.9-8-31-7.2-30-8.5-6.5-2.3-9.5-4.8-4.2-3.2-7.8-10-8.2-14-7.1-10-12.8-10-3.9-2.2-5-1.8-19-5.9-9.6-2.1-30.4-5.3-36-5-24-2-38-1-12 0.4-28 3.5-18 6.3-8 3.6-6.3 3.5-5.7 2.2-2 1.4-2 2.4-12 19.1-4 3.4-8 5.6-14 6.9-14 5.6-20 5.7-18 7.3-30 17.6-21.8 8.8-12.8 6-5.5 4-2.2 4 0 2 0.8 2 1.9 2 3.6 2.3 6 2.2 8 1.4 26 2 20 3.7 22 2.8 26 7.1 22 7.7 4 1.9 10 7 8 7.1 4 2 50 16.1 6.5 2.7 11.5 7.2 10 10.8 4 7.2 3.7 4.8 2.2 4 3.5 4 4.4 8 6.9 20 3.3 5.9 4 4.5 12 10 10 9.5 40 23.7 18 9.2 6 2.5 24 7.7 6 0.9 24 1.6 28-0.8 62-7.8 58-2 16 0.1 30 0.7 116 10.7 56 2.8M1195 1457.9l-4 1.4-4-2.4-4-0.3-19.5 3.4-14.9 6-5.1 4-1.5 2-0.3 2 1.9 2 3.8 2 18.2 8 5.4 1.7 13 2.3 1 0.9 1.7 5.1 2.3 3.5 4 3.8 2 0.9"/>
<path d="M1195 1427.6l-8-0.4-8 0.3-24 2.7-42 9.4-82 12.7-46 4.2-48 1.8-48-1.6-24-2-20-2.3-12-2.4-8-0.9-122-12.7-48-0.3-8 0.6-26 5.3-16 7.4-10.7 2.6-3.3 2.2-5.3 5.8-6.7 4.1-7.9 11.9-4.5 8-3.6 3.6-8 5.9-12 6-18 7.4-18.4 5.1-15.6 6.1-34 19.5-26 10.4-12.8 6-3.1 2-3.7 4-0.7 2 0 2 0.8 2 1.8 2 6.1 4 5.4 2 10.2 1.7 26 2 20 3.6 22 2.8 30 8.2 22 8 10 6.8 8 7.1 4 2.4 14 4.9 39.7 12.5 12.3 6.8 4.2 3.2 7.8 8.7 7 11.3 1.7 4 4.9 6 4.3 10 6.1 19.3 2.3 4.7 3.7 5 4 3.8 11.9 9.2 12.3 14 9.8 12.7 4 3.9 14 10.3 38.3 23.1 4.7 4 21 21.2 15.1 12.8M1005 1510.3l-8 1.1-6-0.5-10.8-2.9-2.4-2 0.6-2 4.6-2 12-2.2 6 0.4 8.3 1.8 4.7 2 1.1 2-1.8 2-8.3 2.3M847.9 1828l5.1-6 8-12 4-4.2 10-9.3 14-8.6 6-2.5 24-6.2 30-3.4 40-1.1 40 1.5 32 5.5 30 6.8 28 5.6 30 5 30 2.3 16-0.4"/>
<path d="M1195 1408.9l-10-1.1-34-0.9-34 0.7-36 2.4-38 6.4-68 15.8-36 7.2-6 0.6-40 1-36-1.4-35.3-3.6-42.6-6-40.1-7.9-36-4.4-30-0.6-24 3.4-6 1.6-22 8.5-8 4.6-20 13.2-4 3.2-6 6.4-6 5.2-13 20.8-5 4.2-6 4.2-12 5.9-16 6.5-20 5.7-16 6.4-32 18.5-40.6 16.6-5.4 3.1-3.3 2.9-2.1 4-0.1 2 0.8 2 4.7 4.3 10 5.1 12 2.1 28 2.2 20 3.7 22 2.8 26 6.9 24.8 8.9 11.2 7.7 7.1 6.3 3 2 13.9 5 40 12.5 5.4 2.5 9.6 6 4.2 4 6.7 8 7.1 14 4.4 6 4.4 10 4.8 18 2.3 6 5.1 8.3 10 9.7 2.6 4 4.9 10 10.5 25.6 9.7 20.4 26.9 28 7.1 8 2.4 4M925.7 1828l8.7-6 10.6-9.9 14.2-8.1 6.3-2 15.5-3.6 22-1.3 28 2.5 32 6.5 52 12 14 3.8 8 2.8 2.6 1.3 2.4 2"/>
<path d="M742.2 1268l-3.4 2-1.8 2-0.7 2-1.9 18-3.9 20-5.8 18-6.2 16-10 16-17.5 16-22.3 16-26.4 14-19.3 8.8-6 4.2-18 15.9-22 23-2 2.3-12 19.8-4.3 4-5.6 4-11.7 6-14.6 6-23.8 7.2-16 6.5-31.5 18.3-45.1 18-5.9 4-3.2 4-0.7 2 0.7 4 3.8 4 6.2 4 9.7 4 12 1.6 28 2.3 18 3.4 22 2.8 8.9 1.9 21.1 6 22 8 10 6.9 8 7 4 2.5 14 4.9 40 12.5 4.5 2.2 9.6 6 3.9 3.8 6 7.3 6.3 12.9 3.9 6 3.9 8 7.9 29.4 12.9 24.6 6 16 14.8 52 3.4 14 3.3 8M1195 1396l-6-1.7-24-9.2-46-18.7-6-1.4-14-1.9-18 1.2-24 5.9-70.9 25.8-35.1 10.6-6.6 1.4-31.4 4.2-40 0.7-48-4.2-17.5-4.7-6.5-2.3-10-7.8-3.6-3.9-1.4-4-0.8-6 0.6-4 3.3-8 3.9-6 12-11.4 4.6-2.6 30.7-14 16.7-8.5 22.9-17.5 5.1-3.1 52-21.8 16-10.1 3.7-3 1.4-2M1060.8 1268l10.6 26 9.6 18.5 10 9.8 4 3 12 4.1 4 1 4-0.1 18-4.6 30-9.7 32-11.8"/>
<path d="M705.6 1268l-2.6 3.3-1.2 2.7-2.4 28-3.1 18-2.2 6-5.1 9.7-4 4.2-10 8.6-27.5 21.5-20.3 26-18.2 16.6-16 19.3-9.6 14.1-10.4 13.7-10 18.2-3.4 4.1-7.7 6-11.7 6-20.2 8-13 3.4-14 5.1-10 4.6-28.7 16.9-14.8 6-34.5 12.6-2.3 1.4-4 4-2.6 4-0.6 2 0 2 1.4 4 4.1 4.9 5.3 3.1 12.7 4.4 16 2.1 24 1.7 18 3.5 24 3.1 13.9 3.2 19.7 6 16.4 6 11.9 8 6.5 6 3.6 2.5 14 5 22.3 6.5 18.1 6 11 6 4.6 3.5 8 9.3 5.2 11.2 4.6 8 3.4 8 2.8 10.1 4.1 19.9 6.6 16 4.6 14 5 20 2.5 14 1.9 12 2.6 28 1.4 8M1195 1387.2l-4-0.6-4-1.4-19.4-9.2-4.6-2.9-8.7-7.1-4-4-4.3-8-0.7-4 1.9-8 1.8-2.9 3.6-3.1 11.5-8 7.1-4 15.8-8.2 4-1.6 4-0.6"/>
</g>
<g stroke="#3c3c3c" stroke-width="1.5" fill="none" filter="url(#lb)">
<rect x="386" y="1250.7" width="828" height="591.8"/>
<path d="M483.5 1842.5v-13M483.5 1250.7v11"/>
<path d="M605 1842.5v-13M605 1250.7v11"/>
<path d="M727 1842.5v-13M727 1250.7v11"/>
<path d="M848.7 1842.5v-13M848.7 1250.7v11"/>
<path d="M970.2 1842.5v-13M970.2 1250.7v11"/>
<path d="M1092.3 1842.5v-13M1092.3 1250.7v11"/>
<path d="M1214 1264.5h-11.5M386 1264.5h12"/>
<path d="M1214 1358.4h-11.5M386 1358.4h12"/>
<path d="M1214 1452.4h-11.5M386 1452.4h12"/>
<path d="M1214 1546.6h-11.5M386 1546.6h12"/>
<path d="M1214 1640.8h-11.5M386 1640.8h12"/>
<path d="M1214 1734.8h-11.5M386 1734.8h12"/>
<path d="M1214 1829h-11.5M386 1829h12"/>
</g>
<g class="dj" font-size="23" fill="#585858" text-anchor="middle" filter="url(#lb)">
<text x="485.3" y="1876">45</text>
<text x="606.8" y="1876">50</text>
<text x="728.8" y="1876">55</text>
<text x="850.5" y="1876">60</text>
<text x="972.0" y="1876">65</text>
<text x="1094.1" y="1876">70</text>
<text x="1215.8" y="1876">75</text>
</g>
<g class="dj" font-size="23" fill="#585858" filter="url(#lb)">
<text x="1242.5" y="1274.3">180</text>
<text x="1242.5" y="1368.2">120</text>
<text x="1242.5" y="1462.2">60</text>
<text x="1242.5" y="1556.4">0</text>
<text x="1228.5" y="1650.6" xml:space="preserve">- 60</text>
<text x="1228.5" y="1744.6" xml:space="preserve">- 120</text>
<text x="1228.5" y="1838.8" xml:space="preserve">- 180</text>
</g>
<text class="ls" font-size="33" fill="#151515" x="800" y="1910" text-anchor="middle" textLength="191" filter="url(#lb)"><tspan class="b" stroke="#fff" stroke-width=".6">Distance</tspan><tspan class="thin"> (Å)</tspan></text>
<text class="ls" font-size="33" fill="#151515" transform="translate(1326 1518) rotate(-90)" text-anchor="middle" textLength="219" filter="url(#lb)"><tspan class="b" stroke="#fff" stroke-width=".6">Dihedral</tspan><tspan class="thin"> (deg)</tspan></text>
<g filter="url(#lb)"><rect x="283" y="1338" width="56.5" height="379" fill="url(#cb)" stroke="#555" stroke-width="1"/>
<g stroke="#2a2a2a" stroke-width="1.4">
<path d="M283 1666.2h13M339.5 1666.2h-11"/>
<path d="M283 1615.7h13M339.5 1615.7h-11"/>
<path d="M283 1565.1h13M339.5 1565.1h-11"/>
<path d="M283 1514.6h13M339.5 1514.6h-11"/>
<path d="M283 1464.0h13M339.5 1464.0h-11"/>
<path d="M283 1413.4h13M339.5 1413.4h-11"/>
<path d="M283 1362.9h13M339.5 1362.9h-11"/>
</g></g>
<g class="dj" font-size="23" fill="#585858" text-anchor="end" filter="url(#lb)">
<text x="266" y="1724.4">0</text>
<text x="266" y="1673.8">2</text>
<text x="266" y="1623.3">4</text>
<text x="266" y="1572.7">6</text>
<text x="266" y="1522.2">8</text>
<text x="266" y="1471.6">10</text>
<text x="266" y="1421.0">12</text>
<text x="266" y="1370.5">14</text>
</g>
<text class="ls" font-size="32.5" fill="#151515" transform="translate(203.5 1716) rotate(-90)" textLength="369" filter="url(#lb)"><tspan class="b" stroke="#fff" stroke-width=".7">Free Energy</tspan><tspan class="thin"> (kcal mol</tspan><tspan class="thin" font-size="20" dy="-16">-1</tspan><tspan class="thin" dy="16">)</tspan></text>
<text class="ls b" font-size="29.5" fill="#1c1c1c" x="570" y="1095" text-anchor="middle">EM2</text>
<text class="ls thin2" font-size="29" fill="#2a2a2a" x="445" y="1135.6" textLength="243">ΔΔG=1.2 kcal mol</text>
<text class="ls" font-size="18.5" fill="#3a3a3a" stroke="#fff" stroke-width=".4" x="691" y="1116.3">-1</text>
<text class="ls b" font-size="29.5" fill="#1c1c1c" x="1073.5" y="1006" text-anchor="middle">EM4</text>
<text class="ls thin2" font-size="29" fill="#2a2a2a" x="942" y="1047" textLength="243">ΔΔG=8.2 kcal mol</text>
<text class="ls" font-size="18.5" fill="#3a3a3a" stroke="#fff" stroke-width=".4" x="1187.5" y="1034.2">-1</text>
<text class="ls b" font-size="29.5" fill="#1c1c1c" x="293.7" y="1899.6" text-anchor="middle">EM1</text>
<text class="ls thin2" font-size="29" fill="#2a2a2a" x="172.3" y="1945.6" textLength="217.5">ΔΔG=0 kcal mol</text>
<text class="ls" font-size="18.5" fill="#3a3a3a" stroke="#fff" stroke-width=".4" x="393.5" y="1933.8">-1</text>
<text class="ls b" font-size="29.5" fill="#1c1c1c" x="1168" y="1899" text-anchor="middle">EM3</text>
<text class="ls thin2" font-size="29" fill="#2a2a2a" x="1045.7" y="1937.4" textLength="243">ΔΔG=2.5 kcal mol</text>
<text class="ls" font-size="18.5" fill="#3a3a3a" stroke="#fff" stroke-width=".4" x="1292.5" y="1921.6">-1</text>
<path d="M602.0 1510.6L409.7 1175.8M422.3 1184.0L409.7 1175.8L410.5 1190.8" fill="none" stroke="#111" stroke-width="1.6" stroke-linejoin="miter"/>
<path d="M1173.3 1476.5L1194.6 1200.6M1200.4 1214.4L1194.6 1200.6L1186.8 1213.4" fill="none" stroke="#111" stroke-width="1.6" stroke-linejoin="miter"/>
<path d="M726.3 1643.6L517.6 1906.9M520.6 1892.2L517.6 1906.9L531.2 1900.7" fill="none" stroke="#111" stroke-width="1.6" stroke-linejoin="miter"/>
<path d="M1025.9 1658.5L1290.6 1893.3M1276.1 1889.5L1290.6 1893.3L1285.1 1879.3" fill="none" stroke="#111" stroke-width="1.6" stroke-linejoin="miter"/>
<path d="M411.0 1518.5L411.0 1535.5M418.4 1522.8L403.6 1531.2M418.4 1531.2L403.6 1522.8" stroke="#000" stroke-width="2.6" fill="none"/>
<path d="M430.0 1527.5L430.0 1544.5M437.4 1531.8L422.6 1540.2M437.4 1540.2L422.6 1531.8" stroke="#000" stroke-width="2.6" fill="none"/>
<path d="M549.4 1521.5L549.4 1538.5M556.8 1525.8L542.0 1534.2M556.8 1534.2L542.0 1525.8" stroke="#000" stroke-width="2.6" fill="none"/>
<g class="dj b" font-size="19" fill="#000"><text x="404.5" y="1509">2</text><text x="425" y="1519">3</text><text x="567.5" y="1538">1</text></g>
<g filter="url(#tx)"><ellipse cx="339.5" cy="1144" rx="54" ry="50" transform="rotate(0 339.5 1144)" fill="url(#gr)"/><ellipse cx="339.5" cy="1144" rx="56.5" ry="52.5" transform="rotate(0 339.5 1144)" fill="none" stroke="#c2131b" stroke-width="1.1" stroke-dasharray="9 5"/><ellipse cx="350" cy="1049" rx="39" ry="39.5" transform="rotate(0 350 1049)" fill="url(#go)"/><ellipse cx="350" cy="1049" rx="41.5" ry="42" transform="rotate(0 350 1049)" fill="none" stroke="#c96e0c" stroke-width="1.1" stroke-dasharray="9 5"/><ellipse cx="390" cy="1117" rx="33" ry="37" transform="rotate(20 390 1117)" fill="url(#gg)"/><ellipse cx="390" cy="1117" rx="35.5" ry="39.5" transform="rotate(20 390 1117)" fill="none" stroke="#149c5c" stroke-width="1.1" stroke-dasharray="9 5"/><ellipse cx="414.4" cy="1061" rx="50" ry="22" transform="rotate(58 414.4 1061)" fill="url(#gb)"/><ellipse cx="414.4" cy="1061" rx="52.5" ry="24.5" transform="rotate(58 414.4 1061)" fill="none" stroke="#1592c6" stroke-width="1.1" stroke-dasharray="9 5"/></g><g filter="url(#tx)"><ellipse cx="1171.5" cy="1126" rx="48" ry="54" transform="rotate(0 1171.5 1126)" fill="url(#gr)"/><ellipse cx="1171.5" cy="1126" rx="50.5" ry="56.5" transform="rotate(0 1171.5 1126)" fill="none" stroke="#c2131b" stroke-width="1.1" stroke-dasharray="9 5"/><ellipse cx="1283.5" cy="1024" rx="41" ry="42" transform="rotate(0 1283.5 1024)" fill="url(#go)"/><ellipse cx="1283.5" cy="1024" rx="43.5" ry="44.5" transform="rotate(0 1283.5 1024)" fill="none" stroke="#c96e0c" stroke-width="1.1" stroke-dasharray="9 5"/><ellipse cx="1296" cy="1101" rx="28" ry="46" transform="rotate(12 1296 1101)" fill="url(#gb)"/><ellipse cx="1296" cy="1101" rx="30.5" ry="48.5" transform="rotate(12 1296 1101)" fill="none" stroke="#1592c6" stroke-width="1.1" stroke-dasharray="9 5"/><ellipse cx="1240.5" cy="1129" rx="33" ry="48" transform="rotate(0 1240.5 1129)" fill="url(#gg)"/><ellipse cx="1240.5" cy="1129" rx="35.5" ry="50.5" transform="rotate(0 1240.5 1129)" fill="none" stroke="#149c5c" stroke-width="1.1" stroke-dasharray="9 5"/></g><g filter="url(#tx)"><ellipse cx="436" cy="2038" rx="65" ry="56" transform="rotate(-12 436 2038)" fill="url(#gr)"/><ellipse cx="436" cy="2038" rx="67.5" ry="58.5" transform="rotate(-12 436 2038)" fill="none" stroke="#c2131b" stroke-width="1.1" stroke-dasharray="9 5"/><ellipse cx="496" cy="2020" rx="25" ry="38" transform="rotate(0 496 2020)" fill="url(#gg)"/><ellipse cx="496" cy="2020" rx="27.5" ry="40.5" transform="rotate(0 496 2020)" fill="none" stroke="#149c5c" stroke-width="1.1" stroke-dasharray="9 5"/><ellipse cx="467" cy="1936" rx="38" ry="43" transform="rotate(0 467 1936)" fill="url(#go)"/><ellipse cx="467" cy="1936" rx="40.5" ry="45.5" transform="rotate(0 467 1936)" fill="none" stroke="#c96e0c" stroke-width="1.1" stroke-dasharray="9 5"/><ellipse cx="520.5" cy="1975" rx="55" ry="26" transform="rotate(62 520.5 1975)" fill="url(#gb)"/><ellipse cx="520.5" cy="1975" rx="57.5" ry="28.5" transform="rotate(62 520.5 1975)" fill="none" stroke="#1592c6" stroke-width="1.1" stroke-dasharray="9 5"/></g><g filter="url(#tx)"><ellipse cx="1291" cy="2011" rx="56" ry="53" transform="rotate(0 1291 2011)" fill="url(#gr)"/><ellipse cx="1291" cy="2011" rx="58.5" ry="55.5" transform="rotate(0 1291 2011)" fill="none" stroke="#c2131b" stroke-width="1.1" stroke-dasharray="9 5"/><ellipse cx="1380.5" cy="1903" rx="41" ry="39" transform="rotate(0 1380.5 1903)" fill="url(#go)"/><ellipse cx="1380.5" cy="1903" rx="43.5" ry="41.5" transform="rotate(0 1380.5 1903)" fill="none" stroke="#c96e0c" stroke-width="1.1" stroke-dasharray="9 5"/><ellipse cx="1361" cy="2010" rx="27" ry="44" transform="rotate(0 1361 2010)" fill="url(#gg)"/><ellipse cx="1361" cy="2010" rx="29.5" ry="46.5" transform="rotate(0 1361 2010)" fill="none" stroke="#149c5c" stroke-width="1.1" stroke-dasharray="9 5"/><ellipse cx="1403" cy="1962" rx="28" ry="57" transform="rotate(8 1403 1962)" fill="url(#gb)"/><ellipse cx="1403" cy="1962" rx="30.5" ry="59.5" transform="rotate(8 1403 1962)" fill="none" stroke="#1592c6" stroke-width="1.1" stroke-dasharray="9 5"/></g>
</g>
</g></svg></body></html>
